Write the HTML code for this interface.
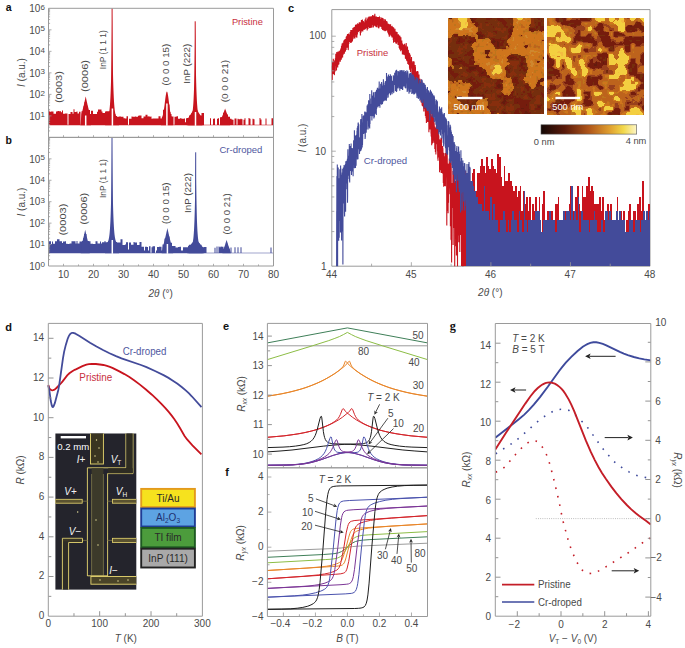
<!DOCTYPE html><html><head><meta charset="utf-8"><style>html,body{margin:0;padding:0;background:#fff;overflow:hidden}svg{display:block}</style></head><body><svg width="685" height="648" viewBox="0 0 685 648" font-family="Liberation Sans, sans-serif">
<rect width="685" height="648" fill="#ffffff"/>
<path d="M48.5 125.3V110.41H49.5V111.82H51V111.59H53.5V113.73H56V111.57H57.5V111.05H59V111.15H61V112.13H62V110.57H63V113.78H65V113.6H67.5V124.7H68.5V114.01H70.5V111.89H72.5V113.76H73.5V109.33H74.5V111.89H76.5V111.39H77.5V113.61H79V111.71H80.5V124.7H81.5V111.22H83.5V106.37H84.5V102.04H86.5V105.69H87.5V110.12H90V114.1H91V110.68H93V114.01H95V114.01H97V111.85H98V109.45H99V109.59H101.5V111.44H102.5V112.99H105V111.54H106V111.29H108V111.19H110V108.14H112V113.58H113.5V114.2H115.5V116.01H117V116.76H119V116.5H121V116.75H123.5V118.29H125V118.48H126.5V116.28H128V124.7H129V118.77H131.5V116.55H132.5V116.63H135V116.54H136V116.75H138V115.69H139V115.58H141.5V118.25H143.5V116.56H145.5V114.86H147.5V116.53H148.5V116.22H149.5V116.69H150.5V116.39H151.5V118.7H152.5V118.51H154V118.56H156V118.45H158.5V116.24H160.5V118.56H163V109.76H165V102.91H167V104.5H169.5V112.01H170.5V114.12H171.5V116.58H173.5V124.7H174.5V116.77H176.5V116.23H178V118.67H180V118.31H181.5V118.68H184V118.49H185V122.24H186V118.37H187V117.94H189V115.52H190V115.02H191V113.5H192V112.93H193V112.08H194.5V110.77H196.5V113.72H199V114.65H200V115.38H201.5V112.98H204V124.7H205V124.7H206V124.7H207V124.7H208V124.7H209V124.7H210V118.24H211V124.7H212V124.7H213V118.78H214V118.58H215V124.7H216V124.7H217V118.82H218V118.14H219V124.7H220V117.15H221.5V116.9H223V112.69H225.5V114.45H228V116.81H230V118.7H231.5V119.5H232.5V119.67H233.5V124.7H234.5V118.6H235.5V118.4H236.5V124.7H237.5V118.76H238.5V119.2H239.5V119.16H240.5V118.69H241.5V119.13H242.5V124.7H243.5V119.69H244.5V118.19H245.5V124.7H246.5V124.7H247.5V124.7H248.5V118.09H249.5V118.79H250.5V124.7H251.5V124.7H252.5V118.87H253.5V119.2H254.5V124.7H255.5V124.7H256.5V124.7H257.5V124.7H258.5V124.7H259.5V117.98H260.5V119.42H261.5V124.7H262.5V124.7H263.5V124.7H264.5V124.7H265.5V118.58H266.5V124.7H267.5V124.7H268.5V124.7H269.5V124.7H270.5V124.7H271.5V118.13H272.5V118.17H273.5V125.3Z" fill="#c8141e"/>
<path d="M80.45 125.3 L81.45 113.9 L81.7 113.23 L81.95 112.41 L82.2 111.52 L82.45 110.59 L82.7 109.62 L82.95 108.62 L83.2 107.59 L83.45 106.55 L83.7 105.48 L83.95 104.39 L84.2 103.29 L84.45 102.18 L84.7 101.05 L84.95 99.9 L85.2 98.75 L85.45 97.58 L85.7 96.4 L85.95 97.58 L86.2 98.75 L86.45 99.9 L86.7 101.05 L86.95 102.18 L87.2 103.29 L87.45 104.39 L87.7 105.48 L87.95 106.55 L88.2 107.59 L88.45 108.62 L88.7 109.62 L88.95 110.59 L89.2 111.52 L89.45 112.41 L89.7 113.23 L89.95 113.9 L90.95 125.3Z" stroke="none" stroke-width="1" fill="#c8141e" />
<path d="M160.9 125.3 L161.9 117.31 L162.15 116.89 L162.4 116.35 L162.65 115.68 L162.9 114.85 L163.15 113.84 L163.4 112.66 L163.65 111.29 L163.9 109.73 L164.15 108.01 L164.4 106.14 L164.65 104.16 L164.9 102.12 L165.15 100.09 L165.4 98.12 L165.65 96.29 L165.9 94.67 L166.15 93.33 L166.4 92.33 L166.65 91.71 L166.9 91.5 L167.15 91.71 L167.4 92.33 L167.65 93.33 L167.9 94.67 L168.15 96.29 L168.4 98.12 L168.65 100.09 L168.9 102.12 L169.15 104.16 L169.4 106.14 L169.65 108.01 L169.9 109.73 L170.15 111.29 L170.4 112.66 L170.65 113.84 L170.9 114.85 L171.15 115.68 L171.4 116.35 L171.65 116.89 L171.9 117.31 L172.9 125.3Z" stroke="none" stroke-width="1" fill="#c8141e" />
<path d="M220.1 125.3 L221.1 118.5 L221.35 118.09 L221.6 117.58 L221.85 117.04 L222.1 116.47 L222.35 115.88 L222.6 115.26 L222.85 114.64 L223.1 113.99 L223.35 113.34 L223.6 112.68 L223.85 112 L224.1 111.32 L224.35 110.62 L224.6 109.92 L224.85 109.22 L225.1 108.5 L225.35 109.22 L225.6 109.92 L225.85 110.62 L226.1 111.32 L226.35 112 L226.6 112.68 L226.85 113.34 L227.1 113.99 L227.35 114.64 L227.6 115.26 L227.85 115.88 L228.1 116.47 L228.35 117.04 L228.6 117.58 L228.85 118.09 L229.1 118.5 L230.1 125.3Z" stroke="none" stroke-width="1" fill="#c8141e" />
<path d="M186.7 125.3 L187.7 118.5 L187.95 118.26 L188.2 117.97 L188.45 117.65 L188.7 117.32 L188.95 116.97 L189.2 116.61 L189.45 116.25 L189.7 115.88 L189.95 115.49 L190.2 115.11 L190.45 114.71 L190.7 114.32 L190.95 113.91 L191.2 113.5 L191.45 113.09 L191.7 112.68 L191.95 112.26 L192.2 111.83 L192.45 111.4 L192.7 110.97 L192.95 110.54 L193.2 110.1 L193.45 109.66 L193.7 109.22 L193.95 108.77 L194.2 108.32 L194.45 107.87 L194.7 107.42 L194.95 106.96 L195.2 106.5 L195.45 106.96 L195.7 107.42 L195.95 107.87 L196.2 108.32 L196.45 108.77 L196.7 109.22 L196.95 109.66 L197.2 110.1 L197.45 110.54 L197.7 110.97 L197.95 111.4 L198.2 111.83 L198.45 112.26 L198.7 112.68 L198.95 113.09 L199.2 113.5 L199.45 113.91 L199.7 114.32 L199.95 114.71 L200.2 115.11 L200.45 115.49 L200.7 115.88 L200.95 116.25 L201.2 116.61 L201.45 116.97 L201.7 117.32 L201.95 117.65 L202.2 117.97 L202.45 118.26 L202.7 118.5 L203.7 125.3Z" stroke="none" stroke-width="1" fill="#c8141e" />
<path d="M105.1 125.3 L105.1 118.37 L105.2 118.35 L105.3 118.34 L105.4 118.32 L105.5 118.3 L105.6 118.28 L105.7 118.26 L105.8 118.24 L105.9 118.21 L106 118.19 L106.1 118.15 L106.2 118.12 L106.3 118.08 L106.4 118.04 L106.5 117.99 L106.6 117.94 L106.7 117.89 L106.8 117.83 L106.9 117.76 L107 117.68 L107.1 117.6 L107.2 117.51 L107.3 117.41 L107.4 117.31 L107.5 117.19 L107.6 117.05 L107.7 116.91 L107.8 116.75 L107.9 116.58 L108 116.38 L108.1 116.17 L108.2 115.94 L108.3 115.69 L108.4 115.4 L108.5 115.09 L108.6 114.75 L108.7 114.38 L108.8 113.97 L108.9 113.52 L109 113.02 L109.1 112.47 L109.2 111.87 L109.3 111.2 L109.4 110.48 L109.5 109.67 L109.6 108.79 L109.7 107.82 L109.8 106.75 L109.9 105.58 L110 104.29 L110.1 102.87 L110.2 101.31 L110.3 99.59 L110.4 97.7 L110.5 95.62 L110.6 93.34 L110.7 90.82 L110.8 88.06 L110.9 85.01 L111 81.67 L111.1 77.99 L111.2 73.94 L111.3 69.49 L111.4 64.59 L111.5 59.2 L111.6 53.28 L111.7 46.76 L111.8 39.59 L111.9 31.71 L112 23.04 L112.1 13.5 L112.2 23.04 L112.3 31.71 L112.4 39.59 L112.5 46.76 L112.6 53.28 L112.7 59.2 L112.8 64.59 L112.9 69.49 L113 73.94 L113.1 77.99 L113.2 81.67 L113.3 85.01 L113.4 88.06 L113.5 90.82 L113.6 93.34 L113.7 95.62 L113.8 97.7 L113.9 99.59 L114 101.31 L114.1 102.87 L114.2 104.29 L114.3 105.58 L114.4 106.75 L114.5 107.82 L114.6 108.79 L114.7 109.67 L114.8 110.48 L114.9 111.2 L115 111.87 L115.1 112.47 L115.2 113.02 L115.3 113.52 L115.4 113.97 L115.5 114.38 L115.6 114.75 L115.7 115.09 L115.8 115.4 L115.9 115.69 L116 115.94 L116.1 116.17 L116.2 116.38 L116.3 116.58 L116.4 116.75 L116.5 116.91 L116.6 117.05 L116.7 117.19 L116.8 117.31 L116.9 117.41 L117 117.51 L117.1 117.6 L117.2 117.68 L117.3 117.76 L117.4 117.83 L117.5 117.89 L117.6 117.94 L117.7 117.99 L117.8 118.04 L117.9 118.08 L118 118.12 L118.1 118.15 L118.2 118.19 L118.3 118.21 L118.4 118.24 L118.5 118.26 L118.6 118.28 L118.7 118.3 L118.8 118.32 L118.9 118.34 L119 118.35 L119.1 118.37 L119.1 125.3Z" stroke="none" stroke-width="1" fill="#c8141e" />
<path d="M112.1 8.3 L112.1 95.3" stroke="#c8141e" stroke-width="1.0" fill="none" />
<path d="M188.2 125.3 L188.2 118.41 L188.3 118.4 L188.4 118.39 L188.5 118.38 L188.6 118.37 L188.7 118.35 L188.8 118.34 L188.9 118.32 L189 118.3 L189.1 118.28 L189.2 118.26 L189.3 118.23 L189.4 118.21 L189.5 118.18 L189.6 118.14 L189.7 118.1 L189.8 118.06 L189.9 118.02 L190 117.96 L190.1 117.91 L190.2 117.85 L190.3 117.78 L190.4 117.7 L190.5 117.62 L190.6 117.52 L190.7 117.42 L190.8 117.31 L190.9 117.18 L191 117.05 L191.1 116.89 L191.2 116.72 L191.3 116.54 L191.4 116.33 L191.5 116.1 L191.6 115.85 L191.7 115.57 L191.8 115.26 L191.9 114.92 L192 114.55 L192.1 114.13 L192.2 113.67 L192.3 113.16 L192.4 112.6 L192.5 111.98 L192.6 111.3 L192.7 110.54 L192.8 109.7 L192.9 108.77 L193 107.75 L193.1 106.62 L193.2 105.37 L193.3 103.99 L193.4 102.47 L193.5 100.78 L193.6 98.92 L193.7 96.86 L193.8 94.58 L193.9 92.06 L194 89.28 L194.1 86.21 L194.2 82.82 L194.3 79.06 L194.4 74.92 L194.5 70.33 L194.6 65.27 L194.7 59.67 L194.8 53.48 L194.9 46.64 L195 39.08 L195.1 30.73 L195.2 21.5 L195.3 30.73 L195.4 39.08 L195.5 46.64 L195.6 53.48 L195.7 59.67 L195.8 65.27 L195.9 70.33 L196 74.92 L196.1 79.06 L196.2 82.82 L196.3 86.21 L196.4 89.28 L196.5 92.06 L196.6 94.58 L196.7 96.86 L196.8 98.92 L196.9 100.78 L197 102.47 L197.1 103.99 L197.2 105.37 L197.3 106.62 L197.4 107.75 L197.5 108.77 L197.6 109.7 L197.7 110.54 L197.8 111.3 L197.9 111.98 L198 112.6 L198.1 113.16 L198.2 113.67 L198.3 114.13 L198.4 114.55 L198.5 114.92 L198.6 115.26 L198.7 115.57 L198.8 115.85 L198.9 116.1 L199 116.33 L199.1 116.54 L199.2 116.72 L199.3 116.89 L199.4 117.05 L199.5 117.18 L199.6 117.31 L199.7 117.42 L199.8 117.52 L199.9 117.62 L200 117.7 L200.1 117.78 L200.2 117.85 L200.3 117.91 L200.4 117.96 L200.5 118.02 L200.6 118.06 L200.7 118.1 L200.8 118.14 L200.9 118.18 L201 118.21 L201.1 118.23 L201.2 118.26 L201.3 118.28 L201.4 118.3 L201.5 118.32 L201.6 118.34 L201.7 118.35 L201.8 118.37 L201.9 118.38 L202 118.39 L202.1 118.4 L202.2 118.41 L202.2 125.3Z" stroke="none" stroke-width="1" fill="#c8141e" />
<path d="M195.2 21.3 L195.2 95.3" stroke="#c8141e" stroke-width="1.0" fill="none" />
<line x1="85.7" y1="115.5" x2="85.7" y2="125.8" stroke="#ffffff" stroke-width="1.5" />
<line x1="112.4" y1="108.5" x2="112.4" y2="125.8" stroke="#ffffff" stroke-width="1.5" />
<line x1="166.9" y1="103.5" x2="166.9" y2="125.8" stroke="#ffffff" stroke-width="1.5" />
<line x1="195.5" y1="112" x2="195.5" y2="125.8" stroke="#ffffff" stroke-width="1.5" />
<path d="M48.5 8.3 H273.5 V137.4 H48.5 Z" fill="none" stroke="#9a9a9a" stroke-width="1"/>
<line x1="48.5" y1="130.92" x2="50.1" y2="130.92" stroke="#9a9a9a" stroke-width="0.8" />
<line x1="48.5" y1="127.13" x2="50.1" y2="127.13" stroke="#9a9a9a" stroke-width="0.8" />
<line x1="48.5" y1="124.45" x2="50.1" y2="124.45" stroke="#9a9a9a" stroke-width="0.8" />
<line x1="48.5" y1="122.36" x2="50.1" y2="122.36" stroke="#9a9a9a" stroke-width="0.8" />
<line x1="48.5" y1="120.66" x2="50.1" y2="120.66" stroke="#9a9a9a" stroke-width="0.8" />
<line x1="48.5" y1="119.22" x2="50.1" y2="119.22" stroke="#9a9a9a" stroke-width="0.8" />
<line x1="48.5" y1="117.97" x2="50.1" y2="117.97" stroke="#9a9a9a" stroke-width="0.8" />
<line x1="48.5" y1="116.87" x2="50.1" y2="116.87" stroke="#9a9a9a" stroke-width="0.8" />
<line x1="48.5" y1="115.88" x2="51.5" y2="115.88" stroke="#9a9a9a" stroke-width="0.8" />
<line x1="48.5" y1="109.41" x2="50.1" y2="109.41" stroke="#9a9a9a" stroke-width="0.8" />
<line x1="48.5" y1="105.62" x2="50.1" y2="105.62" stroke="#9a9a9a" stroke-width="0.8" />
<line x1="48.5" y1="102.93" x2="50.1" y2="102.93" stroke="#9a9a9a" stroke-width="0.8" />
<line x1="48.5" y1="100.84" x2="50.1" y2="100.84" stroke="#9a9a9a" stroke-width="0.8" />
<line x1="48.5" y1="99.14" x2="50.1" y2="99.14" stroke="#9a9a9a" stroke-width="0.8" />
<line x1="48.5" y1="97.7" x2="50.1" y2="97.7" stroke="#9a9a9a" stroke-width="0.8" />
<line x1="48.5" y1="96.45" x2="50.1" y2="96.45" stroke="#9a9a9a" stroke-width="0.8" />
<line x1="48.5" y1="95.35" x2="50.1" y2="95.35" stroke="#9a9a9a" stroke-width="0.8" />
<line x1="48.5" y1="94.37" x2="51.5" y2="94.37" stroke="#9a9a9a" stroke-width="0.8" />
<line x1="48.5" y1="87.89" x2="50.1" y2="87.89" stroke="#9a9a9a" stroke-width="0.8" />
<line x1="48.5" y1="84.1" x2="50.1" y2="84.1" stroke="#9a9a9a" stroke-width="0.8" />
<line x1="48.5" y1="81.41" x2="50.1" y2="81.41" stroke="#9a9a9a" stroke-width="0.8" />
<line x1="48.5" y1="79.33" x2="50.1" y2="79.33" stroke="#9a9a9a" stroke-width="0.8" />
<line x1="48.5" y1="77.62" x2="50.1" y2="77.62" stroke="#9a9a9a" stroke-width="0.8" />
<line x1="48.5" y1="76.18" x2="50.1" y2="76.18" stroke="#9a9a9a" stroke-width="0.8" />
<line x1="48.5" y1="74.94" x2="50.1" y2="74.94" stroke="#9a9a9a" stroke-width="0.8" />
<line x1="48.5" y1="73.83" x2="50.1" y2="73.83" stroke="#9a9a9a" stroke-width="0.8" />
<line x1="48.5" y1="72.85" x2="51.5" y2="72.85" stroke="#9a9a9a" stroke-width="0.8" />
<line x1="48.5" y1="66.37" x2="50.1" y2="66.37" stroke="#9a9a9a" stroke-width="0.8" />
<line x1="48.5" y1="62.58" x2="50.1" y2="62.58" stroke="#9a9a9a" stroke-width="0.8" />
<line x1="48.5" y1="59.9" x2="50.1" y2="59.9" stroke="#9a9a9a" stroke-width="0.8" />
<line x1="48.5" y1="57.81" x2="50.1" y2="57.81" stroke="#9a9a9a" stroke-width="0.8" />
<line x1="48.5" y1="56.11" x2="50.1" y2="56.11" stroke="#9a9a9a" stroke-width="0.8" />
<line x1="48.5" y1="54.67" x2="50.1" y2="54.67" stroke="#9a9a9a" stroke-width="0.8" />
<line x1="48.5" y1="53.42" x2="50.1" y2="53.42" stroke="#9a9a9a" stroke-width="0.8" />
<line x1="48.5" y1="52.32" x2="50.1" y2="52.32" stroke="#9a9a9a" stroke-width="0.8" />
<line x1="48.5" y1="51.33" x2="51.5" y2="51.33" stroke="#9a9a9a" stroke-width="0.8" />
<line x1="48.5" y1="44.86" x2="50.1" y2="44.86" stroke="#9a9a9a" stroke-width="0.8" />
<line x1="48.5" y1="41.07" x2="50.1" y2="41.07" stroke="#9a9a9a" stroke-width="0.8" />
<line x1="48.5" y1="38.38" x2="50.1" y2="38.38" stroke="#9a9a9a" stroke-width="0.8" />
<line x1="48.5" y1="36.29" x2="50.1" y2="36.29" stroke="#9a9a9a" stroke-width="0.8" />
<line x1="48.5" y1="34.59" x2="50.1" y2="34.59" stroke="#9a9a9a" stroke-width="0.8" />
<line x1="48.5" y1="33.15" x2="50.1" y2="33.15" stroke="#9a9a9a" stroke-width="0.8" />
<line x1="48.5" y1="31.9" x2="50.1" y2="31.9" stroke="#9a9a9a" stroke-width="0.8" />
<line x1="48.5" y1="30.8" x2="50.1" y2="30.8" stroke="#9a9a9a" stroke-width="0.8" />
<line x1="48.5" y1="29.82" x2="51.5" y2="29.82" stroke="#9a9a9a" stroke-width="0.8" />
<line x1="48.5" y1="23.34" x2="50.1" y2="23.34" stroke="#9a9a9a" stroke-width="0.8" />
<line x1="48.5" y1="19.55" x2="50.1" y2="19.55" stroke="#9a9a9a" stroke-width="0.8" />
<line x1="48.5" y1="16.86" x2="50.1" y2="16.86" stroke="#9a9a9a" stroke-width="0.8" />
<line x1="48.5" y1="14.78" x2="50.1" y2="14.78" stroke="#9a9a9a" stroke-width="0.8" />
<line x1="48.5" y1="13.07" x2="50.1" y2="13.07" stroke="#9a9a9a" stroke-width="0.8" />
<line x1="48.5" y1="11.63" x2="50.1" y2="11.63" stroke="#9a9a9a" stroke-width="0.8" />
<line x1="48.5" y1="10.39" x2="50.1" y2="10.39" stroke="#9a9a9a" stroke-width="0.8" />
<line x1="48.5" y1="9.28" x2="50.1" y2="9.28" stroke="#9a9a9a" stroke-width="0.8" />
<line x1="63.5" y1="137.4" x2="63.5" y2="135.2" stroke="#9a9a9a" stroke-width="0.8" />
<line x1="78.5" y1="137.4" x2="78.5" y2="135.8" stroke="#9a9a9a" stroke-width="0.8" />
<line x1="93.5" y1="137.4" x2="93.5" y2="135.2" stroke="#9a9a9a" stroke-width="0.8" />
<line x1="108.5" y1="137.4" x2="108.5" y2="135.8" stroke="#9a9a9a" stroke-width="0.8" />
<line x1="123.5" y1="137.4" x2="123.5" y2="135.2" stroke="#9a9a9a" stroke-width="0.8" />
<line x1="138.5" y1="137.4" x2="138.5" y2="135.8" stroke="#9a9a9a" stroke-width="0.8" />
<line x1="153.5" y1="137.4" x2="153.5" y2="135.2" stroke="#9a9a9a" stroke-width="0.8" />
<line x1="168.5" y1="137.4" x2="168.5" y2="135.8" stroke="#9a9a9a" stroke-width="0.8" />
<line x1="183.5" y1="137.4" x2="183.5" y2="135.2" stroke="#9a9a9a" stroke-width="0.8" />
<line x1="198.5" y1="137.4" x2="198.5" y2="135.8" stroke="#9a9a9a" stroke-width="0.8" />
<line x1="213.5" y1="137.4" x2="213.5" y2="135.2" stroke="#9a9a9a" stroke-width="0.8" />
<line x1="228.5" y1="137.4" x2="228.5" y2="135.8" stroke="#9a9a9a" stroke-width="0.8" />
<line x1="243.5" y1="137.4" x2="243.5" y2="135.2" stroke="#9a9a9a" stroke-width="0.8" />
<line x1="258.5" y1="137.4" x2="258.5" y2="135.8" stroke="#9a9a9a" stroke-width="0.8" />
<text x="40.3" y="119.58" font-size="10" text-anchor="end" fill="#4a4a4a">10</text>
<text x="40.6" y="117.18" font-size="8" fill="#4a4a4a">1</text>
<text x="40.3" y="98.07" font-size="10" text-anchor="end" fill="#4a4a4a">10</text>
<text x="40.6" y="95.67" font-size="8" fill="#4a4a4a">2</text>
<text x="40.3" y="76.55" font-size="10" text-anchor="end" fill="#4a4a4a">10</text>
<text x="40.6" y="74.15" font-size="8" fill="#4a4a4a">3</text>
<text x="40.3" y="55.03" font-size="10" text-anchor="end" fill="#4a4a4a">10</text>
<text x="40.6" y="52.63" font-size="8" fill="#4a4a4a">4</text>
<text x="40.3" y="33.52" font-size="10" text-anchor="end" fill="#4a4a4a">10</text>
<text x="40.6" y="31.12" font-size="8" fill="#4a4a4a">5</text>
<text x="40.3" y="12" font-size="10" text-anchor="end" fill="#4a4a4a">10</text>
<text x="40.6" y="9.6" font-size="8" fill="#4a4a4a">6</text>
<text x="61.8" y="87.1" font-size="9" text-anchor="middle" fill="#4a4a4a" textLength="32" lengthAdjust="spacingAndGlyphs" transform="rotate(-90 61.8 87.1)" >(0003)</text>
<text x="87.8" y="76" font-size="9" text-anchor="middle" fill="#4a4a4a" textLength="32" lengthAdjust="spacingAndGlyphs" transform="rotate(-90 87.8 76)" >(0006)</text>
<text x="106" y="49.7" font-size="9" text-anchor="middle" fill="#4a4a4a" textLength="39" lengthAdjust="spacingAndGlyphs" transform="rotate(-90 106 49.7)" >InP (1 1 1)</text>
<text x="169" y="64.6" font-size="9" text-anchor="middle" fill="#4a4a4a" textLength="41.6" lengthAdjust="spacingAndGlyphs" transform="rotate(-90 169 64.6)" >(0 0 0 15)</text>
<text x="189.8" y="63.7" font-size="9" text-anchor="middle" fill="#4a4a4a" textLength="40" lengthAdjust="spacingAndGlyphs" transform="rotate(-90 189.8 63.7)" >InP (222)</text>
<text x="228" y="81.1" font-size="9" text-anchor="middle" fill="#4a4a4a" textLength="42.5" lengthAdjust="spacingAndGlyphs" transform="rotate(-90 228 81.1)" >(0 0 0 21)</text>
<text x="262.8" y="24.8" font-size="9.8" text-anchor="end" fill="#c83040" textLength="30.9" lengthAdjust="spacingAndGlyphs" >Pristine</text>
<path d="M48.5 253.3V241.13H51V244.1H52V241.42H53V243.8H55V241.23H57V239.37H59.5V241.29H62V243.03H63V241.44H65V241.22H66V243.8H67.5V244.06H69.5V243.61H71.5V241.24H73.5V241.34H75.5V243.52H76.5V241.08H77.5V243.53H79.5V241.48H82V241.07H83V238.36H84V233.93H86.5V241.04H89V241.25H90.5V243.64H93V244.1H95.5V241.35H97.5V243.62H100V241.48H101V243.53H102V242.32H104.5V241.06H105.5V242.24H108V241.03H109V240.11H111V239.3H113V241.87H115.5V242H117V242.56H118.5V242.53H120.5V239.21H122.5V244.99H124V245H125V244.54H126V242.23H128V249.48H129V242.57H131V244.72H133.5V242.12H134.5V242.48H137V245.04H139.5V242.12H141.5V246.86H144V250.51H145V246.83H147V247.01H148V250.51H149V246.18H150.5V252.7H151.5V247.35H152.5V246.35H155V252.7H156V250.51H157V246.9H159V246.87H161.5V250.51H162.5V244.57H164.5V238.53H167V236.51H169.5V242.63H172V246.02H174V245.97H175.5V247.38H178V247.07H179.5V246.85H181V250.51H182V250.51H183V247.33H185.5V247.29H188V245.64H189V244.73H191.5V243.75H192.5V243.67H194V242.32H195V241.29H196V241.76H197.5V243.53H200V244.73H201.5V247.3H204V246.9H206.5V252.7H207.5V252.7H208.5V252.7H209.5V252.7H210.5V252.7H211.5V252.7H212.5V252.7H213.5V252.7H214.5V247.83H215.5V252.7H216.5V246.61H217.5V252.7H218.5V246.58H219.5V247.26H220.5V246.53H221.5V246.79H222.5V246.8H223.5V248.84H224.5V247.48H225.5V246.02H226.5V243.66H227.5V246.85H228.5V248.67H229.5V252.7H230.5V247.44H231.5V252.7H232.5V252.7H233.5V252.7H234.5V247.19H235.5V252.7H236.5V252.7H237.5V247.36H238.5V252.7H239.5V252.7H240.5V247.14H241.5V252.7H242.5V252.7H243.5V252.7H244.5V252.7H245.5V252.7H246.5V252.7H247.5V252.7H248.5V252.7H249.5V252.7H250.5V252.7H251.5V252.7H252.5V252.7H253.5V252.7H254.5V252.7H255.5V252.7H256.5V252.7H257.5V252.7H258.5V252.7H259.5V252.7H260.5V252.7H261.5V252.7H262.5V252.7H263.5V252.7H264.5V252.7H265.5V252.7H266.5V252.7H267.5V252.7H268.5V252.7H269.5V252.7H270.5V247.47H271.5V252.7H272.5V252.7H273.5V253.3Z" fill="#434b9a"/>
<path d="M80.7 253.3 L81.7 243.8 L81.95 243.13 L82.2 242.31 L82.45 241.42 L82.7 240.49 L82.95 239.52 L83.2 238.52 L83.45 237.49 L83.7 236.44 L83.95 235.38 L84.2 234.29 L84.45 233.19 L84.7 232.07 L84.95 230.94 L85.2 229.8 L85.45 230.94 L85.7 232.07 L85.95 233.19 L86.2 234.29 L86.45 235.38 L86.7 236.44 L86.95 237.49 L87.2 238.52 L87.45 239.52 L87.7 240.49 L87.95 241.42 L88.2 242.31 L88.45 243.13 L88.7 243.8 L89.7 253.3Z" stroke="none" stroke-width="1" fill="#434b9a" />
<path d="M161.65 253.3 L162.65 247.1 L162.9 246.46 L163.15 245.67 L163.4 244.83 L163.65 243.93 L163.9 243.01 L164.15 242.05 L164.4 241.07 L164.65 240.07 L164.9 239.05 L165.15 238.02 L165.4 236.97 L165.65 235.9 L165.9 234.82 L166.15 233.73 L166.4 232.62 L166.65 231.51 L166.9 230.38 L167.15 229.25 L167.4 228.1 L167.65 229.25 L167.9 230.38 L168.15 231.51 L168.4 232.62 L168.65 233.73 L168.9 234.82 L169.15 235.9 L169.4 236.97 L169.65 238.02 L169.9 239.05 L170.15 240.07 L170.4 241.07 L170.65 242.05 L170.9 243.01 L171.15 243.93 L171.4 244.83 L171.65 245.67 L171.9 246.46 L172.15 247.1 L173.15 253.3Z" stroke="none" stroke-width="1" fill="#434b9a" />
<path d="M222.35 253.3 L223.35 249.3 L223.6 248.8 L223.85 248.2 L224.1 247.54 L224.35 246.85 L224.6 246.13 L224.85 245.4 L225.1 244.64 L225.35 243.86 L225.6 243.08 L225.85 242.27 L226.1 241.46 L226.35 240.64 L226.6 239.8 L226.85 240.64 L227.1 241.46 L227.35 242.27 L227.6 243.08 L227.85 243.86 L228.1 244.64 L228.35 245.4 L228.6 246.13 L228.85 246.85 L229.1 247.54 L229.35 248.2 L229.6 248.8 L229.85 249.3 L230.85 253.3Z" stroke="none" stroke-width="1" fill="#434b9a" />
<path d="M187.2 253.3 L188.2 247.3 L188.45 247.12 L188.7 246.9 L188.95 246.66 L189.2 246.41 L189.45 246.15 L189.7 245.89 L189.95 245.61 L190.2 245.33 L190.45 245.05 L190.7 244.76 L190.95 244.46 L191.2 244.16 L191.45 243.86 L191.7 243.55 L191.95 243.24 L192.2 242.93 L192.45 242.62 L192.7 242.3 L192.95 241.98 L193.2 241.65 L193.45 241.33 L193.7 241 L193.95 240.67 L194.2 240.34 L194.45 240 L194.7 239.67 L194.95 239.33 L195.2 238.99 L195.45 238.64 L195.7 238.3 L195.95 238.64 L196.2 238.99 L196.45 239.33 L196.7 239.67 L196.95 240 L197.2 240.34 L197.45 240.67 L197.7 241 L197.95 241.33 L198.2 241.65 L198.45 241.98 L198.7 242.3 L198.95 242.62 L199.2 242.93 L199.45 243.24 L199.7 243.55 L199.95 243.86 L200.2 244.16 L200.45 244.46 L200.7 244.76 L200.95 245.05 L201.2 245.33 L201.45 245.61 L201.7 245.89 L201.95 246.15 L202.2 246.41 L202.45 246.66 L202.7 246.9 L202.95 247.12 L203.2 247.3 L204.2 253.3Z" stroke="none" stroke-width="1" fill="#434b9a" />
<path d="M105 253.3 L105 243.67 L105.1 243.65 L105.2 243.64 L105.3 243.62 L105.4 243.61 L105.5 243.59 L105.6 243.57 L105.7 243.54 L105.8 243.52 L105.9 243.49 L106 243.46 L106.1 243.42 L106.2 243.38 L106.3 243.34 L106.4 243.3 L106.5 243.25 L106.6 243.19 L106.7 243.13 L106.8 243.07 L106.9 242.99 L107 242.91 L107.1 242.82 L107.2 242.72 L107.3 242.62 L107.4 242.5 L107.5 242.37 L107.6 242.23 L107.7 242.07 L107.8 241.9 L107.9 241.7 L108 241.5 L108.1 241.27 L108.2 241.01 L108.3 240.73 L108.4 240.43 L108.5 240.09 L108.6 239.72 L108.7 239.31 L108.8 238.86 L108.9 238.37 L109 237.83 L109.1 237.23 L109.2 236.57 L109.3 235.85 L109.4 235.06 L109.5 234.18 L109.6 233.22 L109.7 232.17 L109.8 231 L109.9 229.73 L110 228.32 L110.1 226.77 L110.2 225.07 L110.3 223.2 L110.4 221.14 L110.5 218.88 L110.6 216.39 L110.7 213.65 L110.8 210.63 L110.9 207.32 L111 203.67 L111.1 199.67 L111.2 195.26 L111.3 190.4 L111.4 185.07 L111.5 179.2 L111.6 172.75 L111.7 165.65 L111.8 157.84 L111.9 149.25 L112 139.8 L112.1 149.25 L112.2 157.84 L112.3 165.65 L112.4 172.75 L112.5 179.2 L112.6 185.07 L112.7 190.4 L112.8 195.26 L112.9 199.67 L113 203.67 L113.1 207.32 L113.2 210.63 L113.3 213.65 L113.4 216.39 L113.5 218.88 L113.6 221.14 L113.7 223.2 L113.8 225.07 L113.9 226.77 L114 228.32 L114.1 229.73 L114.2 231 L114.3 232.17 L114.4 233.22 L114.5 234.18 L114.6 235.06 L114.7 235.85 L114.8 236.57 L114.9 237.23 L115 237.83 L115.1 238.37 L115.2 238.86 L115.3 239.31 L115.4 239.72 L115.5 240.09 L115.6 240.43 L115.7 240.73 L115.8 241.01 L115.9 241.27 L116 241.5 L116.1 241.7 L116.2 241.9 L116.3 242.07 L116.4 242.23 L116.5 242.37 L116.6 242.5 L116.7 242.62 L116.8 242.72 L116.9 242.82 L117 242.91 L117.1 242.99 L117.2 243.07 L117.3 243.13 L117.4 243.19 L117.5 243.25 L117.6 243.3 L117.7 243.34 L117.8 243.38 L117.9 243.42 L118 243.46 L118.1 243.49 L118.2 243.52 L118.3 243.54 L118.4 243.57 L118.5 243.59 L118.6 243.61 L118.7 243.62 L118.8 243.64 L118.9 243.65 L119 243.67 L119 253.3Z" stroke="none" stroke-width="1" fill="#434b9a" />
<path d="M112 137.8 L112 223.3" stroke="#434b9a" stroke-width="1.0" fill="none" />
<path d="M188.7 253.3 L188.7 247.21 L188.8 247.21 L188.9 247.2 L189 247.18 L189.1 247.17 L189.2 247.16 L189.3 247.14 L189.4 247.13 L189.5 247.11 L189.6 247.09 L189.7 247.07 L189.8 247.04 L189.9 247.02 L190 246.99 L190.1 246.95 L190.2 246.92 L190.3 246.88 L190.4 246.83 L190.5 246.78 L190.6 246.73 L190.7 246.67 L190.8 246.6 L190.9 246.53 L191 246.45 L191.1 246.36 L191.2 246.26 L191.3 246.15 L191.4 246.02 L191.5 245.89 L191.6 245.74 L191.7 245.58 L191.8 245.4 L191.9 245.2 L192 244.98 L192.1 244.73 L192.2 244.46 L192.3 244.16 L192.4 243.83 L192.5 243.47 L192.6 243.07 L192.7 242.62 L192.8 242.13 L192.9 241.58 L193 240.98 L193.1 240.32 L193.2 239.58 L193.3 238.77 L193.4 237.88 L193.5 236.88 L193.6 235.79 L193.7 234.58 L193.8 233.24 L193.9 231.76 L194 230.13 L194.1 228.32 L194.2 226.33 L194.3 224.12 L194.4 221.68 L194.5 218.99 L194.6 216.01 L194.7 212.72 L194.8 209.08 L194.9 205.06 L195 200.62 L195.1 195.71 L195.2 190.29 L195.3 184.29 L195.4 177.66 L195.5 170.34 L195.6 162.25 L195.7 153.3 L195.8 162.25 L195.9 170.34 L196 177.66 L196.1 184.29 L196.2 190.29 L196.3 195.71 L196.4 200.62 L196.5 205.06 L196.6 209.08 L196.7 212.72 L196.8 216.01 L196.9 218.99 L197 221.68 L197.1 224.12 L197.2 226.33 L197.3 228.32 L197.4 230.13 L197.5 231.76 L197.6 233.24 L197.7 234.58 L197.8 235.79 L197.9 236.88 L198 237.88 L198.1 238.77 L198.2 239.58 L198.3 240.32 L198.4 240.98 L198.5 241.58 L198.6 242.13 L198.7 242.62 L198.8 243.07 L198.9 243.47 L199 243.83 L199.1 244.16 L199.2 244.46 L199.3 244.73 L199.4 244.98 L199.5 245.2 L199.6 245.4 L199.7 245.58 L199.8 245.74 L199.9 245.89 L200 246.02 L200.1 246.15 L200.2 246.26 L200.3 246.36 L200.4 246.45 L200.5 246.53 L200.6 246.6 L200.7 246.67 L200.8 246.73 L200.9 246.78 L201 246.83 L201.1 246.88 L201.2 246.92 L201.3 246.95 L201.4 246.99 L201.5 247.02 L201.6 247.04 L201.7 247.07 L201.8 247.09 L201.9 247.11 L202 247.13 L202.1 247.14 L202.2 247.16 L202.3 247.17 L202.4 247.18 L202.5 247.2 L202.6 247.21 L202.7 247.21 L202.7 253.3Z" stroke="none" stroke-width="1" fill="#434b9a" />
<path d="M195.7 152.3 L195.7 223.3" stroke="#434b9a" stroke-width="1.0" fill="none" />
<line x1="112.3" y1="240" x2="112.3" y2="253.8" stroke="#ffffff" stroke-width="1.5" />
<line x1="167.4" y1="244" x2="167.4" y2="253.8" stroke="#ffffff" stroke-width="1.5" />
<path d="M48.5 137.4 H273.5 V266 H48.5 Z" fill="none" stroke="#9a9a9a" stroke-width="1"/>
<line x1="48.5" y1="259.55" x2="50.1" y2="259.55" stroke="#9a9a9a" stroke-width="0.8" />
<line x1="48.5" y1="255.77" x2="50.1" y2="255.77" stroke="#9a9a9a" stroke-width="0.8" />
<line x1="48.5" y1="253.1" x2="50.1" y2="253.1" stroke="#9a9a9a" stroke-width="0.8" />
<line x1="48.5" y1="251.02" x2="50.1" y2="251.02" stroke="#9a9a9a" stroke-width="0.8" />
<line x1="48.5" y1="249.32" x2="50.1" y2="249.32" stroke="#9a9a9a" stroke-width="0.8" />
<line x1="48.5" y1="247.89" x2="50.1" y2="247.89" stroke="#9a9a9a" stroke-width="0.8" />
<line x1="48.5" y1="246.64" x2="50.1" y2="246.64" stroke="#9a9a9a" stroke-width="0.8" />
<line x1="48.5" y1="245.55" x2="50.1" y2="245.55" stroke="#9a9a9a" stroke-width="0.8" />
<line x1="48.5" y1="244.57" x2="51.5" y2="244.57" stroke="#9a9a9a" stroke-width="0.8" />
<line x1="48.5" y1="238.11" x2="50.1" y2="238.11" stroke="#9a9a9a" stroke-width="0.8" />
<line x1="48.5" y1="234.34" x2="50.1" y2="234.34" stroke="#9a9a9a" stroke-width="0.8" />
<line x1="48.5" y1="231.66" x2="50.1" y2="231.66" stroke="#9a9a9a" stroke-width="0.8" />
<line x1="48.5" y1="229.59" x2="50.1" y2="229.59" stroke="#9a9a9a" stroke-width="0.8" />
<line x1="48.5" y1="227.89" x2="50.1" y2="227.89" stroke="#9a9a9a" stroke-width="0.8" />
<line x1="48.5" y1="226.45" x2="50.1" y2="226.45" stroke="#9a9a9a" stroke-width="0.8" />
<line x1="48.5" y1="225.21" x2="50.1" y2="225.21" stroke="#9a9a9a" stroke-width="0.8" />
<line x1="48.5" y1="224.11" x2="50.1" y2="224.11" stroke="#9a9a9a" stroke-width="0.8" />
<line x1="48.5" y1="223.13" x2="51.5" y2="223.13" stroke="#9a9a9a" stroke-width="0.8" />
<line x1="48.5" y1="216.68" x2="50.1" y2="216.68" stroke="#9a9a9a" stroke-width="0.8" />
<line x1="48.5" y1="212.91" x2="50.1" y2="212.91" stroke="#9a9a9a" stroke-width="0.8" />
<line x1="48.5" y1="210.23" x2="50.1" y2="210.23" stroke="#9a9a9a" stroke-width="0.8" />
<line x1="48.5" y1="208.15" x2="50.1" y2="208.15" stroke="#9a9a9a" stroke-width="0.8" />
<line x1="48.5" y1="206.45" x2="50.1" y2="206.45" stroke="#9a9a9a" stroke-width="0.8" />
<line x1="48.5" y1="205.02" x2="50.1" y2="205.02" stroke="#9a9a9a" stroke-width="0.8" />
<line x1="48.5" y1="203.78" x2="50.1" y2="203.78" stroke="#9a9a9a" stroke-width="0.8" />
<line x1="48.5" y1="202.68" x2="50.1" y2="202.68" stroke="#9a9a9a" stroke-width="0.8" />
<line x1="48.5" y1="201.7" x2="51.5" y2="201.7" stroke="#9a9a9a" stroke-width="0.8" />
<line x1="48.5" y1="195.25" x2="50.1" y2="195.25" stroke="#9a9a9a" stroke-width="0.8" />
<line x1="48.5" y1="191.47" x2="50.1" y2="191.47" stroke="#9a9a9a" stroke-width="0.8" />
<line x1="48.5" y1="188.8" x2="50.1" y2="188.8" stroke="#9a9a9a" stroke-width="0.8" />
<line x1="48.5" y1="186.72" x2="50.1" y2="186.72" stroke="#9a9a9a" stroke-width="0.8" />
<line x1="48.5" y1="185.02" x2="50.1" y2="185.02" stroke="#9a9a9a" stroke-width="0.8" />
<line x1="48.5" y1="183.59" x2="50.1" y2="183.59" stroke="#9a9a9a" stroke-width="0.8" />
<line x1="48.5" y1="182.34" x2="50.1" y2="182.34" stroke="#9a9a9a" stroke-width="0.8" />
<line x1="48.5" y1="181.25" x2="50.1" y2="181.25" stroke="#9a9a9a" stroke-width="0.8" />
<line x1="48.5" y1="180.27" x2="51.5" y2="180.27" stroke="#9a9a9a" stroke-width="0.8" />
<line x1="48.5" y1="173.81" x2="50.1" y2="173.81" stroke="#9a9a9a" stroke-width="0.8" />
<line x1="48.5" y1="170.04" x2="50.1" y2="170.04" stroke="#9a9a9a" stroke-width="0.8" />
<line x1="48.5" y1="167.36" x2="50.1" y2="167.36" stroke="#9a9a9a" stroke-width="0.8" />
<line x1="48.5" y1="165.29" x2="50.1" y2="165.29" stroke="#9a9a9a" stroke-width="0.8" />
<line x1="48.5" y1="163.59" x2="50.1" y2="163.59" stroke="#9a9a9a" stroke-width="0.8" />
<line x1="48.5" y1="162.15" x2="50.1" y2="162.15" stroke="#9a9a9a" stroke-width="0.8" />
<line x1="48.5" y1="160.91" x2="50.1" y2="160.91" stroke="#9a9a9a" stroke-width="0.8" />
<line x1="48.5" y1="159.81" x2="50.1" y2="159.81" stroke="#9a9a9a" stroke-width="0.8" />
<line x1="48.5" y1="158.83" x2="51.5" y2="158.83" stroke="#9a9a9a" stroke-width="0.8" />
<line x1="48.5" y1="152.38" x2="50.1" y2="152.38" stroke="#9a9a9a" stroke-width="0.8" />
<line x1="48.5" y1="148.61" x2="50.1" y2="148.61" stroke="#9a9a9a" stroke-width="0.8" />
<line x1="48.5" y1="145.93" x2="50.1" y2="145.93" stroke="#9a9a9a" stroke-width="0.8" />
<line x1="48.5" y1="143.85" x2="50.1" y2="143.85" stroke="#9a9a9a" stroke-width="0.8" />
<line x1="48.5" y1="142.15" x2="50.1" y2="142.15" stroke="#9a9a9a" stroke-width="0.8" />
<line x1="48.5" y1="140.72" x2="50.1" y2="140.72" stroke="#9a9a9a" stroke-width="0.8" />
<line x1="48.5" y1="139.48" x2="50.1" y2="139.48" stroke="#9a9a9a" stroke-width="0.8" />
<line x1="48.5" y1="138.38" x2="50.1" y2="138.38" stroke="#9a9a9a" stroke-width="0.8" />
<line x1="63.5" y1="266" x2="63.5" y2="263.8" stroke="#9a9a9a" stroke-width="0.8" />
<line x1="78.5" y1="266" x2="78.5" y2="264.4" stroke="#9a9a9a" stroke-width="0.8" />
<line x1="93.5" y1="266" x2="93.5" y2="263.8" stroke="#9a9a9a" stroke-width="0.8" />
<line x1="108.5" y1="266" x2="108.5" y2="264.4" stroke="#9a9a9a" stroke-width="0.8" />
<line x1="123.5" y1="266" x2="123.5" y2="263.8" stroke="#9a9a9a" stroke-width="0.8" />
<line x1="138.5" y1="266" x2="138.5" y2="264.4" stroke="#9a9a9a" stroke-width="0.8" />
<line x1="153.5" y1="266" x2="153.5" y2="263.8" stroke="#9a9a9a" stroke-width="0.8" />
<line x1="168.5" y1="266" x2="168.5" y2="264.4" stroke="#9a9a9a" stroke-width="0.8" />
<line x1="183.5" y1="266" x2="183.5" y2="263.8" stroke="#9a9a9a" stroke-width="0.8" />
<line x1="198.5" y1="266" x2="198.5" y2="264.4" stroke="#9a9a9a" stroke-width="0.8" />
<line x1="213.5" y1="266" x2="213.5" y2="263.8" stroke="#9a9a9a" stroke-width="0.8" />
<line x1="228.5" y1="266" x2="228.5" y2="264.4" stroke="#9a9a9a" stroke-width="0.8" />
<line x1="243.5" y1="266" x2="243.5" y2="263.8" stroke="#9a9a9a" stroke-width="0.8" />
<line x1="258.5" y1="266" x2="258.5" y2="264.4" stroke="#9a9a9a" stroke-width="0.8" />
<text x="40.3" y="269.7" font-size="10" text-anchor="end" fill="#4a4a4a">10</text>
<text x="40.6" y="267.3" font-size="8" fill="#4a4a4a">0</text>
<text x="40.3" y="248.27" font-size="10" text-anchor="end" fill="#4a4a4a">10</text>
<text x="40.6" y="245.87" font-size="8" fill="#4a4a4a">1</text>
<text x="40.3" y="226.83" font-size="10" text-anchor="end" fill="#4a4a4a">10</text>
<text x="40.6" y="224.43" font-size="8" fill="#4a4a4a">2</text>
<text x="40.3" y="205.4" font-size="10" text-anchor="end" fill="#4a4a4a">10</text>
<text x="40.6" y="203" font-size="8" fill="#4a4a4a">3</text>
<text x="40.3" y="183.97" font-size="10" text-anchor="end" fill="#4a4a4a">10</text>
<text x="40.6" y="181.57" font-size="8" fill="#4a4a4a">4</text>
<text x="40.3" y="162.53" font-size="10" text-anchor="end" fill="#4a4a4a">10</text>
<text x="40.6" y="160.13" font-size="8" fill="#4a4a4a">5</text>
<text x="66.1" y="219.6" font-size="9" text-anchor="middle" fill="#4a4a4a" textLength="32" lengthAdjust="spacingAndGlyphs" transform="rotate(-90 66.1 219.6)" >(0003)</text>
<text x="87.3" y="208.7" font-size="9" text-anchor="middle" fill="#4a4a4a" textLength="32" lengthAdjust="spacingAndGlyphs" transform="rotate(-90 87.3 208.7)" >(0006)</text>
<text x="105.6" y="178.6" font-size="9" text-anchor="middle" fill="#4a4a4a" textLength="39" lengthAdjust="spacingAndGlyphs" transform="rotate(-90 105.6 178.6)" >InP (1 1 1)</text>
<text x="169.2" y="203.2" font-size="9" text-anchor="middle" fill="#4a4a4a" textLength="41.6" lengthAdjust="spacingAndGlyphs" transform="rotate(-90 169.2 203.2)" >(0 0 0 15)</text>
<text x="190.6" y="193" font-size="9" text-anchor="middle" fill="#4a4a4a" textLength="40" lengthAdjust="spacingAndGlyphs" transform="rotate(-90 190.6 193)" >InP (222)</text>
<text x="229.8" y="213.8" font-size="9" text-anchor="middle" fill="#4a4a4a" textLength="41.2" lengthAdjust="spacingAndGlyphs" transform="rotate(-90 229.8 213.8)" >(0 0 0 21)</text>
<text x="262.4" y="152.9" font-size="9.8" text-anchor="end" fill="#5058a0" textLength="43" lengthAdjust="spacingAndGlyphs" >Cr-droped</text>
<text x="63.5" y="277.8" font-size="10" text-anchor="middle" fill="#4a4a4a" >10</text>
<text x="93.5" y="277.8" font-size="10" text-anchor="middle" fill="#4a4a4a" >20</text>
<text x="123.5" y="277.8" font-size="10" text-anchor="middle" fill="#4a4a4a" >30</text>
<text x="153.5" y="277.8" font-size="10" text-anchor="middle" fill="#4a4a4a" >40</text>
<text x="183.5" y="277.8" font-size="10" text-anchor="middle" fill="#4a4a4a" >50</text>
<text x="213.5" y="277.8" font-size="10" text-anchor="middle" fill="#4a4a4a" >60</text>
<text x="243.5" y="277.8" font-size="10" text-anchor="middle" fill="#4a4a4a" >70</text>
<text x="273.5" y="277.8" font-size="10" text-anchor="middle" fill="#4a4a4a" >80</text>
<text x="160.6" y="296.7" font-size="10" text-anchor="middle" fill="#4a4a4a"><tspan font-style="italic">2θ</tspan> (°)</text>
<text x="24.6" y="72.5" font-size="10" text-anchor="middle" fill="#4a4a4a" transform="rotate(-90 24.6 72.5)" ><tspan font-style="italic">I</tspan> (a.u.)</text>
<text x="24.6" y="202" font-size="10" text-anchor="middle" fill="#4a4a4a" transform="rotate(-90 24.6 202)" ><tspan font-style="italic">I</tspan> (a.u.)</text>
<text x="8.6" y="11" font-size="10.5" text-anchor="middle" fill="#111" font-weight="bold" >a</text>
<text x="8.6" y="144" font-size="10.5" text-anchor="middle" fill="#111" font-weight="bold" >b</text>
<path d="M331.8 9.6 H650 V266.2 H331.8 Z" fill="none" stroke="#9a9a9a" stroke-width="1"/>
<clipPath id="cclip"><rect x="331.8" y="9.6" width="318.2" height="256.6"/></clipPath>
<path d="M331.8 65.7l.1 5.5 .1 8.9 .1-6.6 .1 6.2 .1-12.2 .1 4.1 .1-9.4 .1 9.7 .2-5.8 .1 2.1 .1-6.5 .1 3.7 .1 8.5 .1-15.2 .1 4 .1 5.1 .1 5.5 .1-11.8 .1 12.3 .1-5.9 .1 3.8 .1-10.9 .1 5.3 .1 9 .2-1.6 .1-5.5 .1-.9 .1-3.1 .1-3.7 .1 .9 .1 8.3 .1 1.9 .1-10 .1-3.2 .1 7.2 .1 0 .1-4.5 .1-7.1 .1 3.1 .1 1.5 .2 5.5 .1-1.7 .1 2.7 .1 5.5 .1-11.6 .1-5.4 .1-1.4 .1 2.7 .1 7.3 .1-8.3 .1 12.5 .1-2.3 .1-5.4 .1-5.7 .1 7.4 .1 7.3 .1-6.2 .2-9.8 .1 7.4 .1-7.2 .1 .9 .1 3.2 .1 1.4 .1-4.7 .1 12.3 .1-3.3 .1 2.6 .1-9.6 .1 4.1 .1-1.4 .1-6.4 .1 6.7 .1 .4 .2 1.6 .1-4.8 .1-.7 .1 .5 .1 7.3 .1-7.5 .1 7.5 .1-8.1 .1-4.2 .1 2.6 .1-1 .1 .8 .1 5.7 .1-9.3 .1 7.2 .1 1.7 .1 2.5 .2-14 .1 2.6 .1 9.9 .1-10.1 .1 1.9 .1 4.3 .1-10.7 .1 2.9 .1 8.5 .1 1.4 .1-4.6 .1 5.7 .1-3.7 .1-6.3 .1-4.8 .1 4.3 .2 7.8 .1-4.8 .1 1 .1-3.1 .1-4.2 .1 4.2 .1-7.4 .1 .8 .1 7.8 .1 4.7 .1-2.9 .1-5 .1 7.8 .1-14 .1 8.3 .1 3.8 .2-12.4 .1 12.7 .1-9.6 .1 3 .1-6.5 .1 12.3 .1-1.9 .1-8.6 .1 8.2 .1-3.7 .1-4.1 .1 5.1 .1 3.8 .1-13.4 .1 5.7 .1-.3 .1 4.5 .2-9.6 .1-1.2 .1 2.5 .1 4.4 .1 4.9 .1-1.9 .1-8.6 .1-1.1 .1-1.9 .1 4.6 .1 .2 .1 4.6 .1 3.7 .1-1.8 .1-1.1 .1 5.8 .2-3.5 .1-12.7 .1-.2 .1 9.5 .1 .7 .1-2.5 .1-3.1 .1-2.5 .1 1.9 .1-3.2 .1 4.4 .1 3.1 .1-3.8 .1-1.2 .1 4.7 .1-4.9 .1-1.8 .2-2.9 .1 7.8 .1-3.7 .1-1.6 .1 2.2 .1 6.2 .1-13 .1 10.2 .1-1 .1 3.7 .1-3.2 .1-7.6 .1-1.9 .1 11.7 .1-6.5 .1-3 .2-2.4 .1 9 .1-9.1 .1 9.2 .1-8.6 .1 10.9 .1-5.6 .1-5 .1 3.4 .1-1.9 .1-4.2 .1 11.1 .1-2.9 .1 2 .1-10.5 .1 .2 .2 8.1 .1-1.7 .1-4.3 .1 6.7 .1-4.1 .1-5.8 .1 1.3 .1 .5 .1 4.4 .1 5.5 .1-2.2 .1-5.1 .1-4.6 .1 11.8 .1-6.1 .1 2.2 .1-1.4 .2 1.8 .1-10.3 .1 2 .1 3.1 .1 .9 .1-.7 .1-2.2 .1 3.6 .1 5.7 .1-12.7 .1 1.6 .1 10.3 .1-7.9 .1 1.9 .1 7.4 .1-2.7 .2-10.4 .1 .5 .1 3.9 .1 5.4 .1-9.9 .1 .9 .1-2 .1 1.4 .1 6.2 .1-.9 .1 2 .1-5.8 .1 5.6 .1-6.1 .1 3.1 .1-4.9 .1 6.9 .2-.3 .1-1.1 .1-3.1 .1-1.8 .1-2.3 .1 6 .1 2.1 .1-2.3 .1 1.2 .1-.2 .1-6.9 .1 2 .1 2.9 .1 6 .1-5.7 .1 8 .2-8.6 .1 1.9 .1-.4 .1-5.9 .1 10.3 .1-6.2 .1-1.1 .1-1.6 .1-3.8 .1 4.7 .1-3.9 .1 7 .1 3.5 .1-7.4 .1-2.4 .1-1.3 .2 10.3 .1-11 .1 10.5 .1-8.6 .1 6.5 .1 3.6 .1-7.5 .1 5.5 .1-4.4 .1-2.2 .1-1.9 .1 3.8 .1 2.9 .1-5.9 .1 2 .1 2.3 .1-2.4 .2 6.4 .1-7.7 .1 6.8 .1 .2 .1-3.2 .1-2.2 .1 3.6 .1-1.8 .1-2.2 .1-4.2 .1 8.8 .1 .3 .1 .8 .1-1.1 .1-2.3 .1 1.1 .2-8.4 .1 5 .1-6.2 .1 10.8 .1-.7 .1-7.2 .1 7.7 .1-3.1 .1-1.6 .1 2.3 .1-3.8 .1 0 .1 2.9 .1 2.7 .1 3.1 .1-2.6 .2-7.9 .1-.9 .1 5.4 .1-6.2 .1 10.5 .1-.5 .1-10.5 .1-.4 .1 1 .1 4.4 .1 3 .1-.6 .1-6.1 .1 3 .1 4.9 .1-10.5 .1 4.4 .2 4.5 .1-4.6 .1 7.1 .1-6.8 .1 1.6 .1-6.1 .1 5.7 .1 5.3 .1 .4 .1-4.6 .1-.8 .1-5.1 .1 9.2 .1 .9 .1-4.1 .1-4.4 .2-2.9 .1 1.8 .1 5.2 .1 4.3 .1-.4 .1-4.3 .1-4.3 .1-.1 .1 .6 .1 8.6 .1-7.6 .1-2 .1 .2 .1 0 .1-2.1 .1 3.8 .1-5 .2 9.3 .1 .8 .1-1.6 .1-2 .1-1.3 .1 7.3 .1-10.8 .1 1.6 .1 8.4 .1-2.7 .1-8.3 .1 6.3 .1 1 .1-7.1 .1 .9 .1 5.3 .2 .1 .1-4 .1 7.7 .1-12 .1 2.2 .1 .8 .1 8.4 .1-2.8 .1 3 .1-8.7 .1-.2 .1 9.6 .1-.6 .1-5.5 .1 7.1 .1-1.5 .2-1.2 .1-3.3 .1-3.5 .1-1.1 .1 10.7 .1-3.8 .1-1.9 .1 3.8 .1-6.3 .1 .9 .1-2.7 .1 5.1 .1 .1 .1-3.9 .1 3.1 .1-4.6 .1 4.3 .2 5.6 .1-9.9 .1 6.1 .1 4.9 .1-5.4 .1-4.4 .1 7.2 .1-8.3 .1 9.8 .1 1.5 .1-5.2 .1-4.3 .1 1.8 .1-1 .1-2 .1-.2 .2 1.7 .1-1.6 .1 5.4 .1-6.1 .1 9.9 .1-8.4 .1 8 .1-4.3 .1-.3 .1-2.2 .1 5.1 .1-5.8 .1 6.4 .1 .5 .1-3.7 .1-1.4 .1 6.2 .2-6.6 .1-2 .1-.8 .1 8.5 .1 2.9 .1-8.8 .1-.7 .1 8.1 .1-.5 .1-3.8 .1-5.3 .1 12 .1-6.6 .1-5.3 .1 6.7 .1 .3 .2 4.7 .1-11 .1 11.7 .1-2.2 .1-7.4 .1 5.2 .1 4.6 .1-9.5 .1 7 .1-6 .1-.7 .1 7.5 .1-4.4 .1-1.6 .1 7.9 .1-10.3 .2-1.4 .1 6 .1 6.2 .1-1.8 .1 1.5 .1-6.4 .1-4.8 .1 9.3 .1-7.1 .1 .9 .1 7.8 .1-9.6 .1 1.9 .1 5 .1-6.9 .1 8.5 .1 .8 .2-6.7 .1 1 .1-3.2 .1 2.9 .1-2.9 .1 8.8 .1-2.5 .1 2.2 .1-6.4 .1 2.6 .1 6 .1-6.1 .1 4.3 .1-3.1 .1 5.5 .1 .3 .2-8.3 .1-1 .1 10.7 .1-1.7 .1 0 .1 .5 .1-3.6 .1-4.5 .1 9.4 .1 2.1 .1-10.8 .1 0 .1-1.7 .1 11.2 .1-9.3 .1 3.9 .2-5.6 .1 8.4 .1-4.7 .1-2.7 .1 9.3 .1-10.5 .1 10.6 .1-2.7 .1-1.6 .1 4.1 .1-4.2 .1 5.8 .1-7.1 .1 5.4 .1-8.2 .1 6.1 .1 .7 .2-5 .1 9.4 .1-11.6 .1 2 .1 4.8 .1-4.3 .1 6.4 .1 2.8 .1-8 .1 3.3 .1 2 .1-7.3 .1-.5 .1 6.8 .1 6.2 .1-5.8 .2 8.4 .1-11 .1-3.9 .1 2.3 .1 4.1 .1-5.6 .1 10.1 .1-1.6 .1-6.1 .1-1.7 .1 .8 .1-.2 .1 12.2 .1-12.2 .1-.1 .1 8.2 .1 1.2 .2-7.7 .1 2.5 .1 6.4 .1 .4 .1 2.6 .1-5.2 .1-6.6 .1 7.5 .1-.5 .1-6.2 .1 1.7 .1 4.9 .1 4.7 .1-10 .1 7.6 .1 .9 .2-10.1 .1 5 .1 4.1 .1 .4 .1-6.2 .1-.9 .1 6.8 .1-.3 .1-5 .1 8.8 .1-3.7 .1 3.9 .1-6.3 .1-4.5 .1 6.1 .1 2.5 .2-6.4 .1-1 .1-.2 .1 4.5 .1 8.4 .1-11.2 .1 5.9 .1 .7 .1-2.1 .1 8 .1-8.7 .1-4.9 .1 13.4 .1-11.8 .1 .1 .1 5.1 .1 .1 .2-3.7 .1 12.2 .1-5.7 .1-8.2 .1 10.9 .1-2.3 .1 4.4 .1-4 .1 1.3 .1-4 .1 5.2 .1-3 .1-5.3 .1 6.1 .1-.5 .1 .4 .2 2.3 .1 5.8 .1-11.2 .1 10.3 .1-5.2 .1 5.4 .1-2.8 .1-6.2 .1 0 .1 5.9 .1-1 .1 .4 .1-1.2 .1 5.8 .1-9.1 .1 .1 .1 8.9 .2-.6 .1-2.6 .1-1.2 .1-1.8 .1 .3 .1-5.1 .1 7.7 .1 3.9 .1-10.6 .1 7.1 .1 2.8 .1-1.6 .1-3.9 .1 9.1 .1 .3 .1-12.2 .2 9.6 .1-4.7 .1 4.1 .1 3.7 .1-15.9 .1 3.1 .1 3.6 .1 5.7 .1 4.9 .1-5.7 .1 2.6 .1-9.2 .1 10.9 .1 2.1 .1-9.2 .1 4.5 .2-9.9 .1 10.2 .1-3.3 .1 10.6 .1-14.2 .1 14.1 .1-3.5 .1-2.3 .1-8.1 .1 4.3 .1 8.4 .1-1.4 .1-6 .1 9.8 .1-8 .1 2.5 .1-6.4 .2 .2 .1 3.2 .1 11.1 .1-14.3 .1 16.3 .1-3.3 .1 2.6 .1-8.1 .1-4.1 .1-2.1 .1 5.6 .1 5.4 .1 6.4 .1-8.7 .1-.6 .1-2 .2 1.9 .1-2.5 .1-.8 .1 1.3 .1 7.7 .1-11.5 .1 9.3 .1-2.7 .1 .2 .1 11.8 .1-3.6 .1-8.9 .1 12.9 .1-13.6 .1 9 .1 1.7 .1 5.1 .2-5.1 .1 3.1 .1-15.2 .1 5.9 .1-1.5 .1 7.1 .1-2.9 .1-6.1 .1 .1 .1 12.9 .1-1 .1 6.1 .1-2.9 .1-17 .1 20 .1 1 .2-14.6 .1 7 .1 6.5 .1-14.6 .1 15.4 .1-2.6 .1 2.8 .1-17.5 .1 10.8 .1-8.7 .1 6.1 .1 7.6 .1 4.2 .1-13.8 .1 2.4 .1 10 .2-2.1 .1-9.4 .1 6.8 .1 5.9 .1-9.7 .1 6.2 .1 2.2 .1 3.9 .1-16.2 .1 8.4 .1 11.8 .1-19.3 .1 6.6 .1-7.6 .1 15.1 .1-1.3 .1 5.1 .2-18.5 .1 12.8 .1 7.8 .1-12.2 .1 5.3 .1-3.9 .1 10.6 .1-9.1 .1 3.6 .1 4.4 .1-16.2 .1 9.5 .1 12 .1-11.4 .1-4.2 .1 8.6 .2-5.2 .1 9.2 .1-6.7 .1-7.7 .1 17 .1-2.4 .1 .6 .1 3.9 .1-13.7 .1-2.4 .1 13.9 .1 2.2 .1-12.7 .1 16.5 .1 .3 .1 .4 .2-22.8 .1 .5 .1 5.2 .1 5.8 .1 10.2 .1-20.3 .1 17.9 .1 5.6 .1 1 .1-22 .1 22.7 .1-18.9 .1 11.4 .1-.1 .1-8 .1 16.1 .1-7 .2-3.1 .1-4.5 .1 7.5 .1-12.6 .1 21.7 .1-13 .1 15.8 .1-7.1 .1-14.1 .1 17.8 .1-.4 .1-15.8 .1 17.1 .1-24.2 .1 12 .1 9 .2 .1 .1-14.5 .1 12 .1 8.3 .1-13.9 .1 18.2 .1-3.3 .1-.2 .1-3.5 .1-10.4 .1 2.8 .1 16.9 .1-18.9 .1 6.9 .1 8.5 .1 8.3 .1-8 .2 2.4 .1 4.4 .1-20.4 .1 16.5 .1-.9 .1-11.3 .1 14.5 .1-19.2 .1 1 .1 17 .1-9.5 .1 12.5 .1-18.6 .1-6.4 .1 3.8 .1-1.2 .2 13.9 .1 .6 .1 7.8 .1-19.9 .1 16 .1 14.3 .1-20.1 .1-5.3 .1 13.6 .1-3.4 .1 4.5 .1-11 .1 11.9 .1-16.5 .1-1.5 .1 25 .2-12.5 .1-12.4 .1 19.4 .1-5 .1-1.5 .1-5.5 .1 10 .1-3.2 .1-9.4 .1 24 .1-5 .1 8.2 .1-4.5 .1-12.9 .1-3.6 .1 21.3 .1 8.4 .2-23.4 .1-5.7 .1 4.6 .1 10.5 .1-14.7 .1-7.3 .1 34.1 .1-17.8 .1-8.9 .1 5 .1 19.1 .1-18.5 .1-8.6 .1 22.5 .1-20.7 .1 19.8 .2 3.2 .1-23.5 .1 27.7 .1-24.5 .1 13.4 .1-8.5 .1 1.7 .1 6.8 .1 3.4 .1-8 .1 3.7 .1-4.3 .1 22.7 .1-4 .1 3.7 .1-8.1 .1-10.9 .2 22.3 .1-9.3 .1-15.2 .1 11.5 .1 9.8 .1 5.7 .1-20 .1 1.8 .1 6 .1 1.7 .1-17 .1-5.2 .1 14.5 .1 6.4 .1-13.5 .1 12.8 .2-2.4 .1-17.8 .1 11.3 .1 15.6 .1 2.4 .1-10.3 .1 15.3 .1 2.5 .1-14 .1 16 .1-6.5 .1 0 .1-34.9 .1 17.7 .1-2.3 .1 3.1 .2-2.4 .1 6.6 .1 2.8 .1 12.8 .1-6.3 .1-12 .1 6.3 .1 8.8 .1 17.9 .1-11.9 .1-14.6 .1 8.4 .1 16 .1-1.2 .1-28.9 .1-.4 .1 22.1 .2-21.9 .1-.1 .1 14.9 .1-3.7 .1-13.3 .1 13.6 .1 21.6 .1-19.7 .1-9.4 .1-5.7 .1 22 .1-4 .1 4.6 .1-7 .1 19.2 .1-17.3 .2 .1 .1-3.4 .1 11.4 .1-17.8 .1 25.2 .1 2.6 .1-25.4 .1 22.5 .1-6.9 .1-6.3 .1 25.5 .1-16.5 .1-13.9 .1 18.1 .1 16 .1-8 .1-22.5 .2 13.1 .1 0 .1-12.7 .1 8.3 .1 6.3 .1 14.8 .1-21.5 .1 2.4 .1 17.7 .1-29.9 .1-1.7 .1 11.5 .1-6.6 .1 28.3 .1-10.8 .1-4.2 .2 3.1 .1 2.8 .1-18.9 .1 13.9 .1-24.1 .1 11.8 .1 15.5 .1-13.4 .1 11.8 .1 21.4 .1 30.4 .1-51.8 .1 11.8 .1-16.8 .1-17.6 .1 14.9 .2 2.7 .1-.2 .1 26.1 .1-31.2 .1 47.4 .1-44.6 .1 47 .1-35.4 .1 24.5 .1-15.4 .1 15.7 .1-38.9 .1 4.2 .1-3.1 .1 11 .1 5.9 .1-7.1 .2-16.2 .1 22.8 .1 6.9 .1-25.7 .1 26.9 .1 4.9 .1-19.9 .1 10.1 .1-11.5 .1-8.3 .1 12.1 .1 49.4 .1-46.9 .1 8.6 .1-28.6 .1 .6 .2 79.8 .1-80.2 .1 6.9 .1 63.3 .1 10.7 .1-50.7 .1 72.7 .1-73.4 .1 14.2 .1 .9 .1-.9 .1 1.3 .1-21.6 .1 18.6 .1-.4 .1 6.8 .2-9.9 .1-7 .1-20.1 .1 22.9 .1 51.1 .1-48.4 .1 6.4 .1-36.8 .1 12 .1 39.6 .1-49.1 .1 15.9 .1-23.8 .1 67.2 .1-46.9 .1 11.2 .1-17.2 .2-7.9 .1 22.8 .1 80.3 .1-59 .1-24.4 .1 10.6 .1-18.6 .1 47.9 .1-3.2 .1-19.2 .1-23.4 .1 17 .1-13.9 .1 6.1 .1 56.2 .1-24.2 .2 4.6 .1-43.7 .1 72.6 .1-62.1 .1 5.3 .1 23.4 .1-41.7 .1 28.6 .1-8.9 .1 15.3 .1 4.7 .1-49.6 .1 28.9 .1 70.7 .1-104.7 .1 22.2 .1 .6 .2-10.3 .1 9.2 .1 8.7 .1 39.5 .1-23.6 .1 20.1 .1 1.8 .1-18.2 .1 26.7 .1-62.4 .1 57.6 .1-33.4 .1 13.8 .1-28.4 .1 48 .1-58.5 .2 32.7 .1 40.3 .1-70.1 .1 51.6 .1-53.1 .1 25.4 .1 11.2 .1-1 .1 12.5 .1 6.7 .1-14.1 .1 4.9 .1-35.8 .1-20.4 .1 38.5 .1 2.4 .2 .2 .1-10 .1 14.4 .1-14.9 .1-23.8 .1 48 .1-22.2 .1-13.8 .1 18.6 .1-.7 .1-10 .1 5.1 .1 68.7 .1-91.4 .1 32.5 .1-38.1 .1 97 .2-38.9 .1-38.3 .1 2.6 .1 28.2 .1-49.5 .1 39.3 .1-6.5 .1 9 .1 17.1 .1-38.7 .1 58.2 .1-56 .1 .6 .1-3.7 .1 7.2 .1 16.4 .2-12.8 .1-30 .1 18.8 .1 11.8 .1-18.8 .1 38.4 .1-38 .1-15.5 .1 54.8 .1-32.1 .1-8.2 .1 13.9 .1 39 .1-31 .1 25.4 .1-8.1 .1-49.7 .2 40.2 .1-17.9 .1 .2 .1 64.2 .1-69.7 .1-8.5 .1 35.2 .1 14.9 .1 10.7 .1-60.7 .1 32.3 .1-26.5 .1 5.2 .1-17.5 .1 30.1 .1-11.4 .2 2.1 .1-4.9 .1 11.1" fill="none" stroke="#c8141e" stroke-width="1.1" clip-path="url(#cclip)"/>
<path d="M460.67 266.2V197.0H462.41V266.2zM462.26 266.2V231.6H464.00V266.2zM463.85 266.2V203.6H465.59V266.2zM465.44 266.2V203.6H467.19V266.2zM467.04 266.2V197.0H468.78V266.2zM468.63 266.2V185.8H470.37V266.2zM470.22 266.2V211.3H471.96V266.2zM471.81 266.2V172.7H473.55V266.2zM473.40 266.2V169.0H475.14V266.2zM474.99 266.2V191.1H476.73V266.2zM476.58 266.2V172.7H478.32V266.2zM478.17 266.2V172.7H479.91V266.2zM479.76 266.2V165.6H481.50V266.2zM481.35 266.2V159.3H483.10V266.2zM482.95 266.2V165.6H484.69V266.2zM484.54 266.2V172.7H486.28V266.2zM486.13 266.2V156.5H487.87V266.2zM487.72 266.2V165.6H489.46V266.2zM489.31 266.2V169.0H491.05V266.2zM490.90 266.2V159.3H492.64V266.2zM492.49 266.2V165.6H494.23V266.2zM494.08 266.2V169.0H495.82V266.2zM495.67 266.2V172.7H497.41V266.2zM497.26 266.2V153.8H499.01V266.2zM498.86 266.2V156.5H500.60V266.2zM500.45 266.2V176.7H502.19V266.2zM502.04 266.2V185.8H503.78V266.2zM503.63 266.2V165.6H505.37V266.2zM505.22 266.2V181.1H506.96V266.2zM506.81 266.2V181.1H508.55V266.2zM508.40 266.2V172.7H510.14V266.2zM509.99 266.2V181.1H511.73V266.2zM511.58 266.2V185.8H513.32V266.2zM513.17 266.2V191.1H514.92V266.2zM514.77 266.2V185.8H516.51V266.2zM516.36 266.2V197.0H518.10V266.2zM517.95 266.2V191.1H519.69V266.2zM519.54 266.2V185.8H521.28V266.2zM521.13 266.2V211.3H522.87V266.2zM522.72 266.2V191.1H524.46V266.2zM524.31 266.2V203.6H526.05V266.2zM525.90 266.2V197.0H527.64V266.2zM527.49 266.2V211.3H529.23V266.2zM529.08 266.2V197.0H530.83V266.2zM530.68 266.2V220.4H532.42V266.2zM532.27 266.2V203.6H534.01V266.2zM533.86 266.2V211.3H535.60V266.2zM535.45 266.2V197.0H537.19V266.2zM537.04 266.2V211.3H538.78V266.2zM538.63 266.2V197.0H540.37V266.2zM540.22 266.2V245.9H541.96V266.2zM541.81 266.2V203.6H543.55V266.2zM543.40 266.2V191.1H545.14V266.2zM544.99 266.2V220.4H546.74V266.2zM546.59 266.2V211.3H548.33V266.2zM548.18 266.2V211.3H549.92V266.2zM549.77 266.2V220.4H551.51V266.2zM551.36 266.2V211.3H553.10V266.2zM552.95 266.2V220.4H554.69V266.2zM554.54 266.2V203.6H556.28V266.2zM556.13 266.2V203.6H557.87V266.2zM557.72 266.2V197.0H559.46V266.2zM559.31 266.2V231.6H561.05V266.2zM560.90 266.2V231.6H562.65V266.2zM562.50 266.2V211.3H564.24V266.2zM564.09 266.2V211.3H565.83V266.2zM565.68 266.2V220.4H567.42V266.2zM567.27 266.2V220.4H569.01V266.2zM568.86 266.2V203.6H570.60V266.2zM570.45 266.2V185.8H572.19V266.2zM572.04 266.2V211.3H573.78V266.2zM573.63 266.2V220.4H575.37V266.2zM575.22 266.2V197.0H576.96V266.2zM576.81 266.2V185.8H578.56V266.2zM578.41 266.2V203.6H580.15V266.2zM580.00 266.2V211.3H581.74V266.2zM581.59 266.2V185.8H583.33V266.2zM583.18 266.2V197.0H584.92V266.2zM584.77 266.2V197.0H586.51V266.2zM586.36 266.2V185.8H588.10V266.2zM587.95 266.2V176.7H589.69V266.2zM589.54 266.2V191.1H591.28V266.2zM591.13 266.2V185.8H592.87V266.2zM592.72 266.2V191.1H594.47V266.2zM594.32 266.2V203.6H596.06V266.2zM595.91 266.2V203.6H597.65V266.2zM597.50 266.2V203.6H599.24V266.2zM599.09 266.2V197.0H600.83V266.2zM600.68 266.2V211.3H602.42V266.2zM602.27 266.2V197.0H604.01V266.2zM603.86 266.2V220.4H605.60V266.2zM605.45 266.2V211.3H607.19V266.2zM607.04 266.2V203.6H608.78V266.2zM608.63 266.2V211.3H610.38V266.2zM610.23 266.2V203.6H611.97V266.2zM611.82 266.2V220.4H613.56V266.2zM613.41 266.2V220.4H615.15V266.2zM615.00 266.2V220.4H616.74V266.2zM616.59 266.2V197.0H618.33V266.2zM618.18 266.2V220.4H619.92V266.2zM619.77 266.2V211.3H621.51V266.2zM621.36 266.2V245.9H623.10V266.2zM622.95 266.2V211.3H624.69V266.2zM624.54 266.2V245.9H626.29V266.2zM626.14 266.2V220.4H627.88V266.2zM627.73 266.2V211.3H629.47V266.2zM629.32 266.2V203.6H631.06V266.2zM630.91 266.2V220.4H632.65V266.2zM632.50 266.2V211.3H634.24V266.2zM634.09 266.2V211.3H635.83V266.2zM635.68 266.2V231.6H637.42V266.2zM637.27 266.2V203.6H639.01V266.2zM638.86 266.2V197.0H640.60V266.2zM640.45 266.2V211.3H642.20V266.2zM642.05 266.2V181.1H643.79V266.2zM643.64 266.2V211.3H645.38V266.2zM645.23 266.2V231.6H646.97V266.2zM646.82 266.2V211.3H648.56V266.2zM648.41 266.2V203.6H650.15V266.2z" fill="#c8141e" shape-rendering="crispEdges"/>
<path d="M336.6 270.2l.1-58.1 .1-1.9 .1-33.9 .1 8.4 .1-8.6 .1 33 .1-44.5 .1 19.3 .1 50 .1 36.3 .1-82.8 .1 8.5 .2-16.9 .1 44.9 .1-56.3 .1 35.9 .1 18.7 .1-43.3 .1 32 .1 29.9 .1-34.1 .1-13 .1-7.6 .1 33.8 .1 17.8 .1-59.5 .1 9.2 .1 33.7 .2-33.7 .1-18.1 .1 22.5 .1 21.4 .1-25 .1 15.5 .1-16.2 .1 3.9 .1 41.2 .1-67 .1 8.7 .1-3.3 .1-2.4 .1 7.3 .1 8.9 .1-9.8 .1 26.3 .2-23.9 .1 63 .1-57.9 .1-7.8 .1 42.2 .1-35.7 .1-5 .1 1.9 .1-5.7 .1 8.1 .1 50.9 .1-36.8 .1-25.9 .1 7 .1 88.7 .1-59.8 .2-15 .1-17 .1-5.2 .1 6.9 .1 29.1 .1-22.6 .1 1.4 .1 9.5 .1-20.4 .1-6.3 .1 20.2 .1-6.5 .1-12.3 .1 46.6 .1 3.5 .1-12.2 .2-38.5 .1 21.5 .1-4.9 .1-9.1 .1 2.6 .1-12 .1 18 .1 29.8 .1-21.2 .1-29.2 .1 11.1 .1-7.6 .1 14.1 .1 10.3 .1-15.2 .1 9.4 .2-1 .1-21.4 .1 1.7 .1 10.8 .1-11.5 .1 .6 .1-2.5 .1 11.6 .1-12.9 .1 43.9 .1-7 .1-32.4 .1-8 .1-6.1 .1 7.1 .1 17.7 .1-17.6 .2-.6 .1 7.1 .1 12.8 .1-10.1 .1 9.1 .1-13.5 .1-1.9 .1 19.7 .1-5.7 .1-29.4 .1 25.3 .1 11.5 .1-24.2 .1 26 .1-27.3 .1 7.7 .2-.2 .1-1.4 .1-15.3 .1 19.7 .1-9.8 .1 10.9 .1 4.3 .1-21.9 .1 10.1 .1 8.7 .1-24.4 .1 26.2 .1-13.5 .1 13.4 .1 5.2 .1-10.3 .2 3.8 .1-11.1 .1-1.2 .1-7.6 .1 0 .1 9.8 .1 13.3 .1-23.1 .1 7 .1 15 .1-21.3 .1 7.2 .1-5.7 .1 25.6 .1-6.7 .1-14 .1 12.4 .2-27 .1-.8 .1 23.6 .1-5.4 .1 1.7 .1 4.9 .1-8.1 .1 .9 .1-27.6 .1 26.3 .1 11.7 .1-25.3 .1 19.7 .1-7.7 .1 10.3 .1-25.2 .2 15.4 .1-19.8 .1 32.4 .1-28.8 .1 17.9 .1-20.6 .1 1.9 .1 12.7 .1 14.6 .1-11.3 .1-17.4 .1-1.6 .1-.6 .1 8.3 .1 1.7 .1 2.9 .2-16.8 .1 24.4 .1-27.5 .1 31.7 .1-15 .1 9.2 .1-10.7 .1-17 .1 2.2 .1 1.8 .1 29.2 .1-36.4 .1 15 .1-15.3 .1 11.8 .1 11 .1 3.4 .2-24.4 .1 18.2 .1-.1 .1 6.6 .1-11.7 .1 12.4 .1-2 .1 6.4 .1-11.3 .1 2.2 .1-7.4 .1 4.3 .1 9.5 .1-8.5 .1-2 .1 5.6 .2-8.4 .1-15.8 .1-3.1 .1 31.8 .1-21.1 .1-10.8 .1 17.2 .1 8.4 .1-7.2 .1-5.5 .1 17.5 .1-11.5 .1-3.5 .1 7.5 .1-27.9 .1 10.5 .2 22.8 .1-22.7 .1 14.1 .1 6.2 .1-5.7 .1-.6 .1-16.2 .1 7.2 .1-4.6 .1 8.2 .1-17.1 .1 1.9 .1-2.2 .1 18 .1-18.4 .1 2.9 .2 4.5 .1-5.6 .1 1.9 .1 14.2 .1-15.1 .1 10.4 .1-.2 .1-2.1 .1-14.7 .1 8.2 .1 10.5 .1-19 .1 27.6 .1-12.1 .1 10.6 .1-20.1 .1 8.1 .2-4.5 .1-8.1 .1 18.7 .1-19.4 .1 4.8 .1 15.7 .1-4.3 .1-3.6 .1-1.5 .1-2.2 .1 8.5 .1-8.2 .1-7.8 .1 6.7 .1-14.7 .1 7.8 .2 5.4 .1-2.4 .1-3.3 .1 7.6 .1-15.2 .1-.6 .1-.9 .1 25.4 .1-12.6 .1 8.9 .1-.3 .1-.8 .1-24.4 .1 22.7 .1-1.8 .1-7.2 .2-13.1 .1 .3 .1 26.3 .1-24.9 .1 19.2 .1 1.6 .1 5.1 .1-34.5 .1 26.8 .1 3.2 .1-19.3 .1 .8 .1-7 .1 17.3 .1-11.5 .1 1.7 .1 2.3 .2 1 .1-.1 .1 6.9 .1-6.1 .1 .3 .1-.8 .1 1.2 .1-4.3 .1-16 .1 5.3 .1 24.9 .1-12.9 .1-9.3 .1 10.2 .1-13.1 .1 20.7 .2-10.3 .1 9.9 .1 .4 .1-20.1 .1 9.6 .1-.7 .1 8.7 .1-.6 .1-7.3 .1-13.4 .1 3.2 .1 11.7 .1-2.9 .1 14.2 .1-2.4 .1-8.1 .2-10.5 .1 19.8 .1-18.4 .1 15.1 .1-13.8 .1 11.1 .1-8.6 .1-10.7 .1 21.5 .1-6.9 .1-10.2 .1 9.7 .1-6.8 .1-7 .1 17.5 .1-12.2 .2 16.5 .1-9.8 .1-13.2 .1 24 .1-16.9 .1-8.5 .1 19.3 .1-15.9 .1 2.2 .1 1.4 .1 9.6 .1-14.6 .1-1.5 .1 5.1 .1-7.5 .1 12.2 .1 6.7 .2-1.8 .1 .5 .1 2 .1-12.2 .1 10.2 .1-17 .1 13.9 .1-12.1 .1 4.4 .1 10.2 .1-11.9 .1 9 .1-15.5 .1 19.7 .1-24.7 .1 15.9 .2-.7 .1-.2 .1-4.1 .1 0 .1 15.5 .1-17.8 .1 6.6 .1 5.6 .1-13.8 .1 13.2 .1-.1 .1-9.8 .1-7.9 .1 18.4 .1-15.6 .1 17.6 .2-7.7 .1-11.4 .1 5.7 .1 8.5 .1-17.4 .1 22.9 .1-21.1 .1 8.9 .1 5.6 .1-.3 .1-10.5 .1 3.1 .1 9.3 .1 4.3 .1-18.5 .1 16.9 .1-13 .2 2.6 .1-5.3 .1 14.8 .1-17.3 .1-5 .1 18.4 .1 3.5 .1-18.1 .1 8.9 .1-3.4 .1 4.9 .1-7.9 .1-.3 .1 15.5 .1-5.8 .1-2.2 .2 .1 .1-3.9 .1 8.5 .1-12.4 .1 10.7 .1-14.4 .1 8.2 .1 10.8 .1-14.7 .1 12.4 .1-17.2 .1 10.2 .1-7.8 .1 .8 .1 2.7 .1 9.8 .2 4.2 .1-27.7 .1 25.3 .1-9.5 .1-6 .1 4.5 .1-11.7 .1 9.5 .1-.9 .1-7.2 .1 4.7 .1 13.4 .1-2.5 .1-1.9 .1-6 .1 12.9 .2-.8 .1-.5 .1-9.3 .1 2.1 .1-14.6 .1 9.1 .1 10.5 .1-6.7 .1 .2 .1 5.1 .1-2.4 .1 1.1 .1-15.4 .1 2.5 .1 6.1 .1 8.6 .1-5.3 .2-11.2 .1-.7 .1 4.1 .1 7.3 .1-13.2 .1 16.5 .1 4.4 .1-.5 .1-.7 .1-3.9 .1-14.7 .1 17.4 .1-14.7 .1 14.2 .1-7.3 .1-9.1 .2 12.1 .1-6.4 .1-1.2 .1 5.2 .1 3.8 .1 4.8 .1-5.7 .1-3.8 .1 7.4 .1-7.6 .1-1.7 .1 4.6 .1-6.3 .1 5.6 .1 4.7 .1-1.6 .2-14.5 .1 4 .1-2.6 .1 1.5 .1 14.1 .1-.1 .1-6.2 .1-1.8 .1-.6 .1-4.2 .1 1.1 .1-4.3 .1 8.7 .1-7.3 .1-4.9 .1 2.2 .1-1.1 .2 .2 .1 5.1 .1-3.9 .1 7.5 .1 8.4 .1-7.5 .1-13 .1 10.4 .1-8.3 .1 11.1 .1-13.1 .1 13.7 .1-2.7 .1 10.2 .1-8.3 .1-13.9 .2 21.6 .1-15.7 .1 3.3 .1 3.7 .1 .7 .1 1.5 .1 3.4 .1-4 .1 2.9 .1-7.5 .1 6.1 .1-14.6 .1 4.1 .1 13.2 .1-11.2 .1-5.5 .2 5 .1 4.9 .1-.7 .1 5.8 .1-10.9 .1-3.9 .1-.5 .1 8.9 .1 2.6 .1 5.1 .1-13 .1 6.9 .1 .7 .1 8.2 .1-9.7 .1 4.5 .1-15.7 .2 14.2 .1-10 .1 6.8 .1 2.1 .1 4 .1 1.8 .1-11.8 .1 4 .1 6 .1-16.3 .1 16.1 .1 2.3 .1-2.7 .1-4.5 .1-11.8 .1 6.9 .2 3.2 .1-10.3 .1 16.7 .1-2.7 .1-1.4 .1 7.6 .1-4.3 .1 4.1 .1-5.1 .1-13.6 .1 6 .1-3 .1 1.4 .1 6.4 .1 3 .1 .2 .2 1.1 .1-5.1 .1-11.3 .1 5.5 .1 .7 .1-2.5 .1-1.5 .1 14.5 .1-13.7 .1 2.1 .1-.5 .1 9.8 .1-.7 .1-2.9 .1-8 .1 15.3 .2-17 .1 7.3 .1-.7 .1 9.4 .1 1.4 .1-4.6 .1-1.2 .1-.6 .1-5.3 .1 3.3 .1 1.1 .1 1.4 .1-9.9 .1 8.6 .1-2.5 .1-8.4 .1 9.6 .2 12 .1-5.9 .1-.4 .1-8.9 .1 9.7 .1 4.4 .1-19.5 .1 3.8 .1 3.4 .1 0 .1-.6 .1 3 .1 7.6 .1-1.5 .1-8.4 .1 7.4 .2 2.3 .1 5.5 .1-2.6 .1-13.1 .1-1.2 .1-3.5 .1 8.2 .1-7.9 .1 11.4 .1-1.9 .1 5.9 .1-12.1 .1-.5 .1 15.7 .1-10.8 .1-8.7 .2 4.1 .1 .7 .1 2 .1-4.1 .1 13.3 .1-.2 .1-15.8 .1 12.2 .1-8.4 .1 6.4 .1 2.3 .1-5.2 .1 14.1 .1-16.5 .1 3.5 .1 7.4 .1-13.9 .2 1 .1 17.7 .1-6.1 .1-11.1 .1-1.5 .1 10.1 .1 8.9 .1-19.1 .1 2.1 .1 4.8 .1-1.4 .1-1.1 .1-3 .1 7.9 .1 10.6 .1-15.4 .2 5.5 .1-7.5 .1 9 .1 8.3 .1-1.3 .1-11.5 .1 .2 .1-1.2 .1 9.8 .1 3.4 .1-6.8 .1 .5 .1-5 .1 8 .1 1.1 .1-11.7 .2-.7 .1 11.9 .1 1.7 .1-4.8 .1 .4 .1-11.3 .1 12.4 .1-6.7 .1 4.4 .1 7.4 .1-8.2 .1 8.1 .1 3.5 .1-17.6 .1 6.9 .1-1.2 .2-6.8 .1 16.9 .1-13.4 .1-4.7 .1 10.2 .1 3.9 .1 .2 .1 3.5 .1 3 .1-.4 .1-12 .1-2.1 .1 7 .1-7.7 .1 13.9 .1-13.2 .1 .3 .2 2.5 .1-6.6 .1 6.9 .1 .8 .1 10 .1-18.4 .1 20.5 .1 0 .1-11.9 .1-5.5 .1 1.5 .1-1.7 .1 5.4 .1 .3 .1 9.9 .1-9.8 .2 1.6 .1 9.7 .1-2.4 .1-9.1 .1-1.3 .1-7.4 .1 16.9 .1 6 .1-7 .1-11.7 .1 6 .1-10.1 .1 20.7 .1-18.2 .1 6.3 .1-3.9 .2 18.5 .1-8.2 .1-7.2 .1 11.8 .1-3.7 .1-8.2 .1-3.5 .1 2.2 .1-3.6 .1 4.2 .1 7.9 .1 .7 .1 3.9 .1-5.2 .1 14.3 .1-25.3 .1 10.3 .2-8 .1 13.4 .1 5.7 .1-9.5 .1 8.1 .1 3.4 .1-7.7 .1-7 .1-7.2 .1 18.1 .1 4.9 .1-20.5 .1 10.1 .1-.6 .1 9.1 .1-7 .2 1.4 .1 6.8 .1-2.8 .1-1.9 .1 2.9 .1 4.1 .1-20.5 .1 17.7 .1 1 .1-8 .1 10.9 .1-18.5 .1-4.8 .1 4.3 .1 19.6 .1-10.8 .2-1.5 .1 11.2 .1-18.3 .1 16.7 .1-4.5 .1-13.5 .1 10.4 .1-4.3 .1 14 .1-9.4 .1-9.8 .1 5.4 .1 3.8 .1 12.3 .1-17.1 .1 16.8 .2-15.2 .1 13.4 .1 9.8 .1-5.7 .1-22.3 .1 1.9 .1 9.7 .1 6.3 .1-20.6 .1 15.4 .1-.3 .1-3.4 .1 6.1 .1-7.3 .1-1.3 .1-7 .1 22 .2-2.6 .1-19.9 .1 18.6 .1-2.7 .1 6.1 .1-13 .1 16.3 .1-10.6 .1 7.8 .1-3.3 .1 2.4 .1-.7 .1-18.9 .1 16.2 .1 3.8 .1-7.4 .2-1.9 .1-8.8 .1 9.2 .1 13.5 .1-21.6 .1 1.4 .1-1.9 .1 7.9 .1 9.2 .1-11.6 .1-5.8 .1 14.9 .1 11.7 .1-25.4 .1 15 .1-12 .2 6.6 .1-.2 .1-6.9 .1 15.1 .1-6.1 .1 8.7 .1-9.5 .1 5.8 .1 8.2 .1-6 .1-10.9 .1 20.2 .1-13.7 .1 11.8 .1-9.1 .1-12.9 .1 10.9 .2-12 .1 29.5 .1-13.5 .1 3.4 .1 0 .1 6.2 .1-21 .1 12.2 .1-15.3 .1 27.6 .1-.6 .1-18.7 .1 18.2 .1-9.6 .1 3.8 .1-8.7 .2 2.4 .1 3.4 .1 10.6 .1-12.4 .1-4.7 .1 21.7 .1-20.1 .1-2.7 .1 6.7 .1 6 .1 4.9 .1-22.6 .1 6.6 .1 4.9 .1-.1 .1 14.3 .2-12.3 .1 2.9 .1 4.4 .1-12.1 .1 20.4 .1-2.9 .1-23.8 .1 2.2 .1 18.8 .1-14.5 .1-6.9 .1 19.6 .1-13.2 .1 6.7 .1 1.7 .1-6.6 .2-9.4 .1 31.4 .1-4.8 .1-.7 .1-20.8 .1 1.2 .1 4.3 .1 10.1 .1-12.9 .1 5.2 .1 10.5 .1 3.4 .1-10.9 .1 9.8 .1-18.8 .1 28.6 .1-16.1 .2-1.5 .1 20.5 .1-11.5 .1 12.2 .1-4.9 .1 2.8 .1-31.2 .1 10.4 .1-4.3 .1-6.2 .1 19.5 .1-14.9 .1 6.7 .1 3.3 .1-5.8 .1 3.3 .2-7.9 .1 18.5 .1 3.4 .1 9.1 .1-2.7 .1-26 .1-1.2 .1 16.9 .1 7.6 .1 0 .1 10.6 .1-8.1 .1-26 .1 6 .1-4.4 .1 15.3 .2 5 .1-5.6 .1 13.2 .1 6 .1-11.3 .1 .3 .1-5.7 .1 16.7 .1-15.2 .1 10.4 .1-24.7 .1 14.4 .1-3 .1-11.6 .1-4.1 .1 4.9 .1-3.2 .2 24.5 .1-25.4 .1 22.5 .1-5.9 .1 5.1 .1-15.5 .1 7.5 .1-4.9 .1 20.1 .1-20.2 .1 30.6 .1-33.5 .1 19.6 .1-3.1 .1 .8 .1-20.2 .2 38.3 .1-30.4 .1-6.2 .1 20.5 .1-12 .1-4.8 .1 31.1 .1-23.7 .1-6 .1 2.9 .1-2.4 .1 11.7 .1 3 .1 10.5 .1-18 .1 25.9 .2-19.7 .1-9.3 .1 32 .1-33.9 .1 9.4 .1 15.7 .1-15.7 .1 5.4 .1-4.6 .1 11.4 .1-19.8 .1 38.8 .1-8.5 .1-22.1 .1 9.3 .1 16.8 .1-10.5 .2-3.5 .1-4 .1 3.2 .1-13.3 .1 .4 .1 40.2 .1-26.4 .1-12.1 .1 20.9 .1-11.6 .1 13 .1-21.9 .1 26.2 .1-16.9 .1-1.2 .1 26.6 .2-10 .1-3.6 .1-14.9 .1 16.8 .1-10.6 .1 9.4 .1-2.6 .1 3.9 .1 24.4 .1-17.3 .1-23.4 .1-3.8 .1 15 .1-16.7 .1 11.6 .1 4.4 .2 .8 .1 11.9 .1-1.1 .1-11.5 .1-10.1 .1 28.7 .1-17.2 .1-2.7 .1-7.7 .1 14 .1 2.8 .1-3.7 .1-19.6 .1 1 .1 10.8 .1 5.7 .2 24.2 .1-21.5 .1-15.2 .1 9.2 .1 31.1 .1-37.8 .1 33 .1-2.4 .1-23.4 .1 6.4 .1-4 .1 13.2 .1-6.1 .1 .7 .1-2.3 .1 19 .1 24.3 .2-7.5 .1-54.7 .1 17.2 .1 25.9 .1-27 .1 1.8 .1 8.7 .1-14 .1 28.7 .1-33.6 .1 16.8 .1 15.1 .1-23 .1-3.8 .1 47.5 .1-38.7 .2 9.2 .1-10.1 .1 21.2 .1-5 .1-26.7 .1 23.3 .1 8.1 .1-16.2 .1-9.4 .1 8 .1-5.5 .1 2.8 .1 30 .1-15.4 .1-6.8 .1-10.9 .2 9.7 .1-15.3 .1 14.1 .1-7.2 .1 25.5 .1 15.2 .1-47 .1 39.4 .1-9.9 .1 13.1 .1-19.9 .1-16.4 .1 16.6 .1-10 .1 20.2 .1-15.7 .1-6 .2 25.3 .1-1.8 .1-20.4 .1 22.1 .1-14.2 .1 16.8 .1 12.4 .1-38.2 .1 10.1 .1 12.1 .1-35.1 .1 20 .1 24.8 .1-28.8 .1 6.3 .1 23.7 .2-32 .1-.6 .1 57.3 .1-50.3 .1-2.4 .1 39.3 .1-41.4 .1 46.1 .1-39.7 .1-22.4 .1 36.3 .1 6.4 .1 14.3 .1-59 .1 22.1 .1-9.8 .2 27.8 .1 35.2 .1-70.4 .1 44.5 .1-3.4 .1-.1 .1-33.2 .1-7 .1 55.7" fill="none" stroke="#434b9a" stroke-width="1.1" clip-path="url(#cclip)"/>
<path d="M466.24 266.2V172.7H467.98V266.2zM467.83 266.2V181.1H469.57V266.2zM469.42 266.2V181.1H471.16V266.2zM471.01 266.2V181.1H472.75V266.2zM472.60 266.2V185.8H474.34V266.2zM474.19 266.2V191.1H475.94V266.2zM475.79 266.2V197.0H477.53V266.2zM477.38 266.2V203.6H479.12V266.2zM478.97 266.2V203.6H480.71V266.2zM480.56 266.2V203.6H482.30V266.2zM482.15 266.2V211.3H483.89V266.2zM483.74 266.2V185.8H485.48V266.2zM485.33 266.2V211.3H487.07V266.2zM486.92 266.2V211.3H488.66V266.2zM488.51 266.2V220.4H490.25V266.2zM490.10 266.2V197.0H491.85V266.2zM491.70 266.2V220.4H493.44V266.2zM493.29 266.2V203.6H495.03V266.2zM494.88 266.2V220.4H496.62V266.2zM496.47 266.2V220.4H498.21V266.2zM498.06 266.2V231.6H499.80V266.2zM499.65 266.2V220.4H501.39V266.2zM501.24 266.2V220.4H502.98V266.2zM502.83 266.2V211.3H504.57V266.2zM504.42 266.2V220.4H506.16V266.2zM506.01 266.2V231.6H507.76V266.2zM507.61 266.2V220.4H509.35V266.2zM509.20 266.2V231.6H510.94V266.2zM510.79 266.2V220.4H512.53V266.2zM512.38 266.2V211.3H514.12V266.2zM513.97 266.2V220.4H515.71V266.2zM515.56 266.2V220.4H517.30V266.2zM517.15 266.2V231.6H518.89V266.2zM518.74 266.2V211.3H520.48V266.2zM520.33 266.2V220.4H522.07V266.2zM521.92 266.2V231.6H523.67V266.2zM523.52 266.2V191.1H525.26V266.2zM525.11 266.2V220.4H526.85V266.2zM526.70 266.2V231.6H528.44V266.2zM528.29 266.2V220.4H530.03V266.2zM529.88 266.2V220.4H531.62V266.2zM531.47 266.2V220.4H533.21V266.2zM533.06 266.2V220.4H534.80V266.2zM534.65 266.2V211.3H536.39V266.2zM536.24 266.2V211.3H537.98V266.2zM537.83 266.2V211.3H539.58V266.2zM539.43 266.2V220.4H541.17V266.2zM541.02 266.2V231.6H542.76V266.2zM542.61 266.2V220.4H544.35V266.2zM544.20 266.2V220.4H545.94V266.2zM545.79 266.2V220.4H547.53V266.2zM547.38 266.2V220.4H549.12V266.2zM548.97 266.2V211.3H550.71V266.2zM550.56 266.2V220.4H552.30V266.2zM552.15 266.2V220.4H553.89V266.2zM553.74 266.2V220.4H555.49V266.2zM555.34 266.2V231.6H557.08V266.2zM556.93 266.2V220.4H558.67V266.2zM558.52 266.2V220.4H560.26V266.2zM560.11 266.2V220.4H561.85V266.2zM561.70 266.2V220.4H563.44V266.2zM563.29 266.2V211.3H565.03V266.2zM564.88 266.2V220.4H566.62V266.2zM566.47 266.2V211.3H568.21V266.2zM568.06 266.2V211.3H569.80V266.2zM569.65 266.2V220.4H571.40V266.2zM571.25 266.2V185.8H572.99V266.2zM572.84 266.2V220.4H574.58V266.2zM574.43 266.2V211.3H576.17V266.2zM576.02 266.2V220.4H577.76V266.2zM577.61 266.2V197.0H579.35V266.2zM579.20 266.2V231.6H580.94V266.2zM580.79 266.2V211.3H582.53V266.2zM582.38 266.2V220.4H584.12V266.2zM583.97 266.2V220.4H585.71V266.2zM585.56 266.2V220.4H587.31V266.2zM587.16 266.2V220.4H588.90V266.2zM588.75 266.2V231.6H590.49V266.2zM590.34 266.2V220.4H592.08V266.2zM591.93 266.2V220.4H593.67V266.2zM593.52 266.2V211.3H595.26V266.2zM595.11 266.2V220.4H596.85V266.2zM596.70 266.2V231.6H598.44V266.2zM598.29 266.2V231.6H600.03V266.2zM599.88 266.2V231.6H601.62V266.2zM601.47 266.2V220.4H603.22V266.2zM603.07 266.2V231.6H604.81V266.2zM604.66 266.2V211.3H606.40V266.2zM606.25 266.2V211.3H607.99V266.2zM607.84 266.2V220.4H609.58V266.2zM609.43 266.2V211.3H611.17V266.2zM611.02 266.2V220.4H612.76V266.2zM612.61 266.2V220.4H614.35V266.2zM614.20 266.2V220.4H615.94V266.2zM615.79 266.2V211.3H617.53V266.2zM617.38 266.2V220.4H619.13V266.2zM618.98 266.2V211.3H620.72V266.2zM620.57 266.2V220.4H622.31V266.2zM622.16 266.2V220.4H623.90V266.2zM623.75 266.2V220.4H625.49V266.2zM625.34 266.2V231.6H627.08V266.2zM626.93 266.2V231.6H628.67V266.2zM628.52 266.2V220.4H630.26V266.2zM630.11 266.2V220.4H631.85V266.2zM631.70 266.2V220.4H633.44V266.2zM633.29 266.2V231.6H635.04V266.2zM634.89 266.2V220.4H636.63V266.2zM636.48 266.2V220.4H638.22V266.2zM638.07 266.2V220.4H639.81V266.2zM639.66 266.2V231.6H641.40V266.2zM641.25 266.2V220.4H642.99V266.2zM642.84 266.2V211.3H644.58V266.2zM644.43 266.2V220.4H646.17V266.2zM646.02 266.2V211.3H647.76V266.2zM647.61 266.2V220.4H649.35V266.2zM649.20 266.2V211.3H650.15V266.2z" fill="#434b9a" shape-rendering="crispEdges"/>
<line x1="331.8" y1="231.58" x2="334.3" y2="231.58" stroke="#9a9a9a" stroke-width="0.8" />
<line x1="331.8" y1="211.33" x2="334.3" y2="211.33" stroke="#9a9a9a" stroke-width="0.8" />
<line x1="331.8" y1="196.96" x2="334.3" y2="196.96" stroke="#9a9a9a" stroke-width="0.8" />
<line x1="331.8" y1="185.82" x2="334.3" y2="185.82" stroke="#9a9a9a" stroke-width="0.8" />
<line x1="331.8" y1="176.71" x2="334.3" y2="176.71" stroke="#9a9a9a" stroke-width="0.8" />
<line x1="331.8" y1="169.01" x2="334.3" y2="169.01" stroke="#9a9a9a" stroke-width="0.8" />
<line x1="331.8" y1="162.34" x2="334.3" y2="162.34" stroke="#9a9a9a" stroke-width="0.8" />
<line x1="331.8" y1="156.46" x2="334.3" y2="156.46" stroke="#9a9a9a" stroke-width="0.8" />
<line x1="331.8" y1="151.2" x2="335.8" y2="151.2" stroke="#9a9a9a" stroke-width="0.8" />
<line x1="331.8" y1="116.58" x2="334.3" y2="116.58" stroke="#9a9a9a" stroke-width="0.8" />
<line x1="331.8" y1="96.33" x2="334.3" y2="96.33" stroke="#9a9a9a" stroke-width="0.8" />
<line x1="331.8" y1="81.96" x2="334.3" y2="81.96" stroke="#9a9a9a" stroke-width="0.8" />
<line x1="331.8" y1="70.82" x2="334.3" y2="70.82" stroke="#9a9a9a" stroke-width="0.8" />
<line x1="331.8" y1="61.71" x2="334.3" y2="61.71" stroke="#9a9a9a" stroke-width="0.8" />
<line x1="331.8" y1="54.01" x2="334.3" y2="54.01" stroke="#9a9a9a" stroke-width="0.8" />
<line x1="331.8" y1="47.34" x2="334.3" y2="47.34" stroke="#9a9a9a" stroke-width="0.8" />
<line x1="331.8" y1="41.46" x2="334.3" y2="41.46" stroke="#9a9a9a" stroke-width="0.8" />
<line x1="331.8" y1="36.2" x2="335.8" y2="36.2" stroke="#9a9a9a" stroke-width="0.8" />
<line x1="371.57" y1="266.2" x2="371.57" y2="263.7" stroke="#9a9a9a" stroke-width="0.8" />
<line x1="411.35" y1="266.2" x2="411.35" y2="262.2" stroke="#9a9a9a" stroke-width="0.8" />
<line x1="451.12" y1="266.2" x2="451.12" y2="263.7" stroke="#9a9a9a" stroke-width="0.8" />
<line x1="490.9" y1="266.2" x2="490.9" y2="262.2" stroke="#9a9a9a" stroke-width="0.8" />
<line x1="530.67" y1="266.2" x2="530.67" y2="263.7" stroke="#9a9a9a" stroke-width="0.8" />
<line x1="570.45" y1="266.2" x2="570.45" y2="262.2" stroke="#9a9a9a" stroke-width="0.8" />
<line x1="610.23" y1="266.2" x2="610.23" y2="263.7" stroke="#9a9a9a" stroke-width="0.8" />
<text x="326.5" y="269.8" font-size="10" text-anchor="end" fill="#4a4a4a" >1</text>
<text x="326" y="154.6" font-size="10" text-anchor="end" fill="#4a4a4a" >10</text>
<text x="326" y="39" font-size="10" text-anchor="end" fill="#4a4a4a" >100</text>
<text x="331.5" y="277.7" font-size="10" text-anchor="middle" fill="#4a4a4a" >44</text>
<text x="411.05" y="277.7" font-size="10" text-anchor="middle" fill="#4a4a4a" >45</text>
<text x="490.6" y="277.7" font-size="10" text-anchor="middle" fill="#4a4a4a" >46</text>
<text x="570.15" y="277.7" font-size="10" text-anchor="middle" fill="#4a4a4a" >47</text>
<text x="649.7" y="277.7" font-size="10" text-anchor="middle" fill="#4a4a4a" >48</text>
<text x="490.3" y="296.3" font-size="10" text-anchor="middle" fill="#4a4a4a"><tspan font-style="italic">2θ</tspan> (°)</text>
<text x="306.1" y="138" font-size="10" text-anchor="middle" fill="#4a4a4a" transform="rotate(-90 306.1 138)" ><tspan font-style="italic">I</tspan> (a.u.)</text>
<text x="372.6" y="55.6" font-size="9.8" text-anchor="middle" fill="#c83040" textLength="31.6" lengthAdjust="spacingAndGlyphs" >Pristine</text>
<text x="385.5" y="164.4" font-size="9.8" text-anchor="middle" fill="#5058a0" textLength="43.3" lengthAdjust="spacingAndGlyphs" >Cr-droped</text>
<text x="291" y="11.5" font-size="11" text-anchor="middle" fill="#111" font-weight="bold" >c</text>
<defs><filter id="afmblur" x="0" y="0" width="1" height="1"><feGaussianBlur stdDeviation="0.55" edgeMode="duplicate"/></filter></defs>
<g filter="url(#afmblur)"><g shape-rendering="crispEdges"><path fill="#cf751b" d="M448.1 18.0h1.2v1.2H448.1zM453.1 18.0h5.2v1.2H453.1zM468.0 18.0h1.2v1.2H468.0zM512.8 18.0h3.2v1.2H512.8zM522.8 18.0h2.2v1.2H522.8zM526.8 18.0h3.2v1.2H526.8zM448.1 19.0h1.2v1.2H448.1zM454.1 19.0h4.2v1.2H454.1zM468.0 19.0h2.2v1.2H468.0zM512.8 19.0h4.2v1.2H512.8zM522.8 19.0h7.2v1.2H522.8zM449.1 20.0h3.2v1.2H449.1zM454.1 20.0h4.2v1.2H454.1zM467.0 20.0h4.2v1.2H467.0zM513.8 20.0h4.2v1.2H513.8zM520.8 20.0h2.2v1.2H520.8zM524.8 20.0h2.2v1.2H524.8zM529.8 20.0h1.2v1.2H529.8zM448.1 21.0h4.2v1.2H448.1zM454.1 21.0h4.2v1.2H454.1zM467.0 21.0h4.2v1.2H467.0zM513.8 21.0h3.2v1.2H513.8zM518.8 21.0h8.2v1.2H518.8zM529.8 21.0h1.2v1.2H529.8zM448.1 22.0h4.2v1.2H448.1zM453.1 22.0h5.2v1.2H453.1zM468.0 22.0h2.2v1.2H468.0zM513.8 22.0h2.2v1.2H513.8zM517.8 22.0h13.1v1.2H517.8zM448.1 23.0h11.2v1.2H448.1zM468.0 23.0h3.2v1.2H468.0zM512.8 23.0h4.2v1.2H512.8zM517.8 23.0h2.2v1.2H517.8zM520.8 23.0h9.2v1.2H520.8zM448.1 24.0h6.2v1.2H448.1zM456.1 24.0h4.2v1.2H456.1zM468.0 24.0h4.2v1.2H468.0zM512.8 24.0h6.2v1.2H512.8zM522.8 24.0h3.2v1.2H522.8zM526.8 24.0h2.2v1.2H526.8zM448.1 25.0h6.2v1.2H448.1zM456.1 25.0h4.2v1.2H456.1zM468.0 25.0h5.2v1.2H468.0zM512.8 25.0h1.2v1.2H512.8zM515.8 25.0h3.2v1.2H515.8zM522.8 25.0h3.2v1.2H522.8zM526.8 25.0h2.2v1.2H526.8zM448.1 26.0h12.1v1.2H448.1zM468.0 26.0h7.2v1.2H468.0zM514.8 26.0h2.2v1.2H514.8zM517.8 26.0h3.2v1.2H517.8zM524.8 26.0h3.2v1.2H524.8zM448.1 27.0h12.1v1.2H448.1zM467.0 27.0h4.2v1.2H467.0zM473.0 27.0h3.2v1.2H473.0zM514.8 27.0h2.2v1.2H514.8zM517.8 27.0h3.2v1.2H517.8zM524.8 27.0h3.2v1.2H524.8zM448.1 28.0h8.2v1.2H448.1zM472.0 28.0h5.2v1.2H472.0zM513.8 28.0h13.1v1.2H513.8zM448.1 29.0h2.2v1.2H448.1zM451.1 29.0h4.2v1.2H451.1zM463.0 29.0h2.2v1.2H463.0zM471.0 29.0h6.2v1.2H471.0zM512.8 29.0h4.2v1.2H512.8zM517.8 29.0h7.2v1.2H517.8zM448.1 29.9h12.1v1.2H448.1zM463.0 29.9h6.2v1.2H463.0zM472.0 29.9h5.2v1.2H472.0zM512.8 29.9h10.2v1.2H512.8zM449.1 30.9h20.1v1.2H449.1zM473.0 30.9h3.2v1.2H473.0zM512.8 30.9h10.2v1.2H512.8zM542.7 30.9h1.2v1.2H542.7zM448.1 31.9h7.2v1.2H448.1zM458.1 31.9h18.1v1.2H458.1zM512.8 31.9h10.2v1.2H512.8zM524.8 31.9h6.2v1.2H524.8zM538.7 31.9h5.2v1.2H538.7zM448.1 32.9h2.2v1.2H448.1zM451.1 32.9h3.2v1.2H451.1zM459.1 32.9h6.2v1.2H459.1zM469.0 32.9h2.2v1.2H469.0zM473.0 32.9h2.2v1.2H473.0zM511.8 32.9h11.2v1.2H511.8zM523.8 32.9h8.2v1.2H523.8zM537.7 32.9h4.2v1.2H537.7zM448.1 33.9h5.2v1.2H448.1zM459.1 33.9h7.2v1.2H459.1zM469.0 33.9h2.2v1.2H469.0zM474.0 33.9h1.2v1.2H474.0zM511.8 33.9h7.2v1.2H511.8zM520.8 33.9h15.1v1.2H520.8zM536.7 33.9h5.2v1.2H536.7zM448.1 34.9h4.2v1.2H448.1zM459.1 34.9h4.2v1.2H459.1zM465.0 34.9h1.2v1.2H465.0zM476.0 34.9h1.2v1.2H476.0zM511.8 34.9h6.2v1.2H511.8zM522.8 34.9h2.2v1.2H522.8zM526.8 34.9h16.1v1.2H526.8zM449.1 35.9h3.2v1.2H449.1zM476.0 35.9h1.2v1.2H476.0zM511.8 35.9h7.2v1.2H511.8zM522.8 35.9h2.2v1.2H522.8zM526.8 35.9h16.1v1.2H526.8zM449.1 36.9h2.2v1.2H449.1zM476.0 36.9h1.2v1.2H476.0zM511.8 36.9h1.2v1.2H511.8zM513.8 36.9h9.2v1.2H513.8zM523.8 36.9h2.2v1.2H523.8zM527.8 36.9h6.2v1.2H527.8zM534.7 36.9h9.2v1.2H534.7zM476.0 37.9h1.2v1.2H476.0zM510.8 37.9h2.2v1.2H510.8zM513.8 37.9h20.1v1.2H513.8zM534.7 37.9h9.2v1.2H534.7zM479.0 38.9h3.2v1.2H479.0zM487.9 38.9h2.2v1.2H487.9zM507.9 38.9h5.2v1.2H507.9zM513.8 38.9h27.1v1.2H513.8zM478.0 39.9h4.2v1.2H478.0zM484.0 39.9h6.2v1.2H484.0zM507.9 39.9h4.2v1.2H507.9zM513.8 39.9h24.1v1.2H513.8zM538.7 39.9h2.2v1.2H538.7zM478.0 40.9h4.2v1.2H478.0zM483.0 40.9h6.2v1.2H483.0zM506.9 40.9h17.1v1.2H506.9zM524.8 40.9h16.1v1.2H524.8zM542.7 40.9h1.2v1.2H542.7zM477.0 41.9h10.2v1.2H477.0zM487.9 41.9h1.2v1.2H487.9zM506.9 41.9h16.1v1.2H506.9zM524.8 41.9h7.2v1.2H524.8zM532.7 41.9h7.2v1.2H532.7zM541.7 41.9h2.2v1.2H541.7zM473.0 42.9h5.2v1.2H473.0zM480.0 42.9h10.2v1.2H480.0zM509.8 42.9h13.1v1.2H509.8zM524.8 42.9h4.2v1.2H524.8zM530.8 42.9h10.2v1.2H530.8zM541.7 42.9h2.2v1.2H541.7zM472.0 43.9h6.2v1.2H472.0zM480.0 43.9h6.2v1.2H480.0zM487.9 43.9h3.2v1.2H487.9zM510.8 43.9h6.2v1.2H510.8zM517.8 43.9h6.2v1.2H517.8zM524.8 43.9h2.2v1.2H524.8zM530.8 43.9h3.2v1.2H530.8zM535.7 43.9h5.2v1.2H535.7zM541.7 43.9h2.2v1.2H541.7zM472.0 44.9h5.2v1.2H472.0zM480.0 44.9h6.2v1.2H480.0zM487.9 44.9h5.2v1.2H487.9zM509.8 44.9h13.1v1.2H509.8zM530.8 44.9h3.2v1.2H530.8zM537.7 44.9h6.2v1.2H537.7zM472.0 45.9h3.2v1.2H472.0zM484.0 45.9h9.2v1.2H484.0zM505.9 45.9h2.2v1.2H505.9zM509.8 45.9h5.2v1.2H509.8zM515.8 45.9h1.2v1.2H515.8zM517.8 45.9h5.2v1.2H517.8zM527.8 45.9h1.2v1.2H527.8zM531.8 45.9h1.2v1.2H531.8zM539.7 45.9h4.2v1.2H539.7zM473.0 46.9h3.2v1.2H473.0zM478.0 46.9h16.1v1.2H478.0zM509.8 46.9h5.2v1.2H509.8zM515.8 46.9h8.2v1.2H515.8zM527.8 46.9h2.2v1.2H527.8zM530.8 46.9h2.2v1.2H530.8zM539.7 46.9h4.2v1.2H539.7zM474.0 47.9h2.2v1.2H474.0zM477.0 47.9h18.1v1.2H477.0zM508.8 47.9h5.2v1.2H508.8zM516.8 47.9h8.2v1.2H516.8zM526.8 47.9h11.2v1.2H526.8zM539.7 47.9h4.2v1.2H539.7zM474.0 48.9h1.2v1.2H474.0zM477.0 48.9h10.2v1.2H477.0zM489.9 48.9h5.2v1.2H489.9zM498.9 48.9h2.2v1.2H498.9zM507.9 48.9h3.2v1.2H507.9zM511.8 48.9h3.2v1.2H511.8zM515.8 48.9h10.2v1.2H515.8zM526.8 48.9h17.1v1.2H526.8zM477.0 49.9h7.2v1.2H477.0zM490.9 49.9h3.2v1.2H490.9zM496.9 49.9h5.2v1.2H496.9zM502.9 49.9h27.1v1.2H502.9zM533.7 49.9h8.2v1.2H533.7zM477.0 50.9h7.2v1.2H477.0zM490.9 50.9h4.2v1.2H490.9zM495.9 50.9h34.1v1.2H495.9zM537.7 50.9h4.2v1.2H537.7zM474.0 51.9h6.2v1.2H474.0zM492.9 51.9h2.2v1.2H492.9zM495.9 51.9h15.1v1.2H495.9zM511.8 51.9h17.1v1.2H511.8zM530.8 51.9h3.2v1.2H530.8zM535.7 51.9h2.2v1.2H535.7zM539.7 51.9h3.2v1.2H539.7zM474.0 52.9h6.2v1.2H474.0zM492.9 52.9h2.2v1.2H492.9zM495.9 52.9h14.1v1.2H495.9zM511.8 52.9h7.2v1.2H511.8zM519.8 52.9h10.2v1.2H519.8zM530.8 52.9h12.1v1.2H530.8zM474.0 53.8h7.2v1.2H474.0zM482.0 53.8h1.2v1.2H482.0zM488.9 53.8h4.2v1.2H488.9zM495.9 53.8h14.1v1.2H495.9zM519.8 53.8h6.2v1.2H519.8zM526.8 53.8h5.2v1.2H526.8zM532.7 53.8h8.2v1.2H532.7zM541.7 53.8h2.2v1.2H541.7zM474.0 54.8h11.2v1.2H474.0zM487.9 54.8h5.2v1.2H487.9zM496.9 54.8h3.2v1.2H496.9zM500.9 54.8h3.2v1.2H500.9zM504.9 54.8h3.2v1.2H504.9zM520.8 54.8h4.2v1.2H520.8zM528.8 54.8h2.2v1.2H528.8zM533.7 54.8h5.2v1.2H533.7zM541.7 54.8h2.2v1.2H541.7zM475.0 55.8h10.2v1.2H475.0zM492.9 55.8h2.2v1.2H492.9zM496.9 55.8h10.2v1.2H496.9zM525.8 55.8h1.2v1.2H525.8zM528.8 55.8h9.2v1.2H528.8zM448.1 56.8h1.2v1.2H448.1zM475.0 56.8h9.2v1.2H475.0zM492.9 56.8h2.2v1.2H492.9zM496.9 56.8h5.2v1.2H496.9zM502.9 56.8h3.2v1.2H502.9zM524.8 56.8h3.2v1.2H524.8zM528.8 56.8h9.2v1.2H528.8zM448.1 57.8h2.2v1.2H448.1zM475.0 57.8h11.2v1.2H475.0zM490.9 57.8h3.2v1.2H490.9zM496.9 57.8h9.2v1.2H496.9zM525.8 57.8h1.2v1.2H525.8zM528.8 57.8h11.2v1.2H528.8zM448.1 58.8h3.2v1.2H448.1zM475.0 58.8h3.2v1.2H475.0zM480.0 58.8h9.2v1.2H480.0zM489.9 58.8h3.2v1.2H489.9zM498.9 58.8h3.2v1.2H498.9zM502.9 58.8h5.2v1.2H502.9zM527.8 58.8h6.2v1.2H527.8zM537.7 58.8h3.2v1.2H537.7zM448.1 59.8h3.2v1.2H448.1zM475.0 59.8h18.1v1.2H475.0zM498.9 59.8h3.2v1.2H498.9zM502.9 59.8h4.2v1.2H502.9zM526.8 59.8h4.2v1.2H526.8zM531.8 59.8h2.2v1.2H531.8zM538.7 59.8h3.2v1.2H538.7zM449.1 60.8h1.2v1.2H449.1zM478.0 60.8h17.1v1.2H478.0zM498.9 60.8h2.2v1.2H498.9zM502.9 60.8h3.2v1.2H502.9zM525.8 60.8h4.2v1.2H525.8zM532.7 60.8h1.2v1.2H532.7zM540.7 60.8h3.2v1.2H540.7zM449.1 61.8h1.2v1.2H449.1zM478.0 61.8h10.2v1.2H478.0zM489.9 61.8h11.2v1.2H489.9zM502.9 61.8h3.2v1.2H502.9zM526.8 61.8h3.2v1.2H526.8zM532.7 61.8h2.2v1.2H532.7zM539.7 61.8h4.2v1.2H539.7zM449.1 62.8h2.2v1.2H449.1zM480.0 62.8h2.2v1.2H480.0zM483.0 62.8h3.2v1.2H483.0zM489.9 62.8h7.2v1.2H489.9zM498.9 62.8h3.2v1.2H498.9zM502.9 62.8h7.2v1.2H502.9zM527.8 62.8h3.2v1.2H527.8zM533.7 62.8h9.2v1.2H533.7zM449.1 63.8h2.2v1.2H449.1zM480.0 63.8h6.2v1.2H480.0zM489.9 63.8h3.2v1.2H489.9zM494.9 63.8h1.2v1.2H494.9zM499.9 63.8h9.2v1.2H499.9zM527.8 63.8h3.2v1.2H527.8zM533.7 63.8h10.2v1.2H533.7zM448.1 64.8h2.2v1.2H448.1zM480.0 64.8h7.2v1.2H480.0zM487.9 64.8h3.2v1.2H487.9zM500.9 64.8h5.2v1.2H500.9zM527.8 64.8h2.2v1.2H527.8zM532.7 64.8h2.2v1.2H532.7zM537.7 64.8h6.2v1.2H537.7zM448.1 65.8h1.2v1.2H448.1zM480.0 65.8h10.2v1.2H480.0zM501.9 65.8h3.2v1.2H501.9zM528.8 65.8h2.2v1.2H528.8zM532.7 65.8h2.2v1.2H532.7zM537.7 65.8h3.2v1.2H537.7zM541.7 65.8h2.2v1.2H541.7zM482.0 66.8h8.2v1.2H482.0zM492.9 66.8h1.2v1.2H492.9zM501.9 66.8h2.2v1.2H501.9zM528.8 66.8h13.1v1.2H528.8zM483.0 67.8h1.2v1.2H483.0zM484.9 67.8h5.2v1.2H484.9zM492.9 67.8h2.2v1.2H492.9zM501.9 67.8h2.2v1.2H501.9zM529.8 67.8h12.1v1.2H529.8zM485.9 68.8h7.2v1.2H485.9zM502.9 68.8h1.2v1.2H502.9zM527.8 68.8h15.1v1.2H527.8zM485.9 69.8h7.2v1.2H485.9zM502.9 69.8h2.2v1.2H502.9zM527.8 69.8h6.2v1.2H527.8zM537.7 69.8h6.2v1.2H537.7zM486.9 70.8h4.2v1.2H486.9zM502.9 70.8h2.2v1.2H502.9zM527.8 70.8h6.2v1.2H527.8zM535.7 70.8h5.2v1.2H535.7zM541.7 70.8h2.2v1.2H541.7zM486.9 71.8h4.2v1.2H486.9zM502.9 71.8h3.2v1.2H502.9zM528.8 71.8h3.2v1.2H528.8zM532.7 71.8h1.2v1.2H532.7zM535.7 71.8h5.2v1.2H535.7zM542.7 71.8h1.2v1.2H542.7zM486.9 72.8h4.2v1.2H486.9zM501.9 72.8h4.2v1.2H501.9zM527.8 72.8h13.1v1.2H527.8zM486.9 73.8h4.2v1.2H486.9zM494.9 73.8h3.2v1.2H494.9zM498.9 73.8h6.2v1.2H498.9zM525.8 73.8h6.2v1.2H525.8zM532.7 73.8h9.2v1.2H532.7zM489.9 74.8h2.2v1.2H489.9zM494.9 74.8h10.2v1.2H494.9zM525.8 74.8h6.2v1.2H525.8zM532.7 74.8h9.2v1.2H532.7zM490.9 75.8h9.2v1.2H490.9zM500.9 75.8h3.2v1.2H500.9zM528.8 75.8h1.2v1.2H528.8zM530.8 75.8h5.2v1.2H530.8zM537.7 75.8h5.2v1.2H537.7zM490.9 76.8h4.2v1.2H490.9zM497.9 76.8h6.2v1.2H497.9zM523.8 76.8h1.2v1.2H523.8zM525.8 76.8h4.2v1.2H525.8zM530.8 76.8h5.2v1.2H530.8zM537.7 76.8h4.2v1.2H537.7zM492.9 77.8h2.2v1.2H492.9zM500.9 77.8h3.2v1.2H500.9zM504.9 77.8h6.2v1.2H504.9zM523.8 77.8h12.1v1.2H523.8zM501.9 78.7h1.2v1.2H501.9zM504.9 78.7h6.2v1.2H504.9zM522.8 78.7h13.1v1.2H522.8zM459.1 79.7h3.2v1.2H459.1zM506.9 79.7h3.2v1.2H506.9zM525.8 79.7h10.2v1.2H525.8zM448.1 80.7h1.2v1.2H448.1zM454.1 80.7h2.2v1.2H454.1zM458.1 80.7h4.2v1.2H458.1zM506.9 80.7h3.2v1.2H506.9zM528.8 80.7h7.2v1.2H528.8zM448.1 81.7h2.2v1.2H448.1zM504.9 81.7h4.2v1.2H504.9zM524.8 81.7h2.2v1.2H524.8zM528.8 81.7h7.2v1.2H528.8zM541.7 81.7h2.2v1.2H541.7zM448.1 82.7h2.2v1.2H448.1zM469.0 82.7h1.2v1.2H469.0zM504.9 82.7h3.2v1.2H504.9zM528.8 82.7h1.2v1.2H528.8zM530.8 82.7h4.2v1.2H530.8zM540.7 82.7h3.2v1.2H540.7zM448.1 83.7h2.2v1.2H448.1zM452.1 83.7h4.2v1.2H452.1zM459.1 83.7h1.2v1.2H459.1zM465.0 83.7h5.2v1.2H465.0zM502.9 83.7h3.2v1.2H502.9zM506.9 83.7h1.2v1.2H506.9zM509.8 83.7h3.2v1.2H509.8zM528.8 83.7h6.2v1.2H528.8zM541.7 83.7h2.2v1.2H541.7zM448.1 84.7h2.2v1.2H448.1zM451.1 84.7h5.2v1.2H451.1zM458.1 84.7h4.2v1.2H458.1zM465.0 84.7h5.2v1.2H465.0zM502.9 84.7h3.2v1.2H502.9zM506.9 84.7h2.2v1.2H506.9zM509.8 84.7h3.2v1.2H509.8zM530.8 84.7h4.2v1.2H530.8zM541.7 84.7h2.2v1.2H541.7zM448.1 85.7h2.2v1.2H448.1zM451.1 85.7h5.2v1.2H451.1zM458.1 85.7h11.2v1.2H458.1zM503.9 85.7h10.2v1.2H503.9zM530.8 85.7h4.2v1.2H530.8zM449.1 86.7h1.2v1.2H449.1zM451.1 86.7h7.2v1.2H451.1zM460.1 86.7h9.2v1.2H460.1zM506.9 86.7h3.2v1.2H506.9zM511.8 86.7h2.2v1.2H511.8zM530.8 86.7h3.2v1.2H530.8zM448.1 87.7h2.2v1.2H448.1zM451.1 87.7h8.2v1.2H451.1zM460.1 87.7h9.2v1.2H460.1zM503.9 87.7h6.2v1.2H503.9zM511.8 87.7h2.2v1.2H511.8zM531.8 87.7h1.2v1.2H531.8zM448.1 88.7h2.2v1.2H448.1zM451.1 88.7h3.2v1.2H451.1zM455.1 88.7h2.2v1.2H455.1zM458.1 88.7h9.2v1.2H458.1zM502.9 88.7h5.2v1.2H502.9zM509.8 88.7h2.2v1.2H509.8zM448.1 89.7h1.2v1.2H448.1zM452.1 89.7h5.2v1.2H452.1zM458.1 89.7h10.2v1.2H458.1zM502.9 89.7h5.2v1.2H502.9zM451.1 90.7h11.2v1.2H451.1zM466.0 90.7h3.2v1.2H466.0zM502.9 90.7h7.2v1.2H502.9zM451.1 91.7h12.1v1.2H451.1zM466.0 91.7h3.2v1.2H466.0zM503.9 91.7h6.2v1.2H503.9zM450.1 92.7h17.1v1.2H450.1zM503.9 92.7h2.2v1.2H503.9zM507.9 92.7h1.2v1.2H507.9zM449.1 93.7h7.2v1.2H449.1zM458.1 93.7h9.2v1.2H458.1zM448.1 94.7h2.2v1.2H448.1zM451.1 94.7h3.2v1.2H451.1zM457.1 94.7h11.2v1.2H457.1zM448.1 95.7h2.2v1.2H448.1zM452.1 95.7h1.2v1.2H452.1zM457.1 95.7h1.2v1.2H457.1zM462.0 95.7h6.2v1.2H462.0zM448.1 96.7h4.2v1.2H448.1zM448.1 97.7h4.2v1.2H448.1zM448.1 98.7h8.2v1.2H448.1zM480.0 98.7h2.2v1.2H480.0zM449.1 99.7h7.2v1.2H449.1zM478.0 99.7h5.2v1.2H478.0zM450.1 100.7h8.2v1.2H450.1zM477.0 100.7h8.2v1.2H477.0zM451.1 101.6h9.2v1.2H451.1zM477.0 101.6h5.2v1.2H477.0zM484.0 101.6h3.2v1.2H484.0zM451.1 102.6h10.2v1.2H451.1zM477.0 102.6h5.2v1.2H477.0zM484.0 102.6h3.2v1.2H484.0zM448.1 103.6h8.2v1.2H448.1zM457.1 103.6h5.2v1.2H457.1zM478.0 103.6h2.2v1.2H478.0zM484.0 103.6h3.2v1.2H484.0zM449.1 104.6h5.2v1.2H449.1zM457.1 104.6h5.2v1.2H457.1zM478.0 104.6h2.2v1.2H478.0zM484.0 104.6h2.2v1.2H484.0zM449.1 105.6h3.2v1.2H449.1zM456.1 105.6h4.2v1.2H456.1zM462.0 105.6h6.2v1.2H462.0zM478.0 105.6h2.2v1.2H478.0zM484.0 105.6h2.2v1.2H484.0zM450.1 106.6h2.2v1.2H450.1zM456.1 106.6h12.1v1.2H456.1zM478.0 106.6h2.2v1.2H478.0zM483.0 106.6h3.2v1.2H483.0zM449.1 107.6h4.2v1.2H449.1zM457.1 107.6h8.2v1.2H457.1zM466.0 107.6h1.2v1.2H466.0zM477.0 107.6h11.2v1.2H477.0zM448.1 108.6h5.2v1.2H448.1zM458.1 108.6h3.2v1.2H458.1zM462.0 108.6h3.2v1.2H462.0zM466.0 108.6h1.2v1.2H466.0zM472.0 108.6h1.2v1.2H472.0zM476.0 108.6h13.1v1.2H476.0zM448.1 109.6h3.2v1.2H448.1zM454.1 109.6h13.1v1.2H454.1zM472.0 109.6h18.1v1.2H472.0zM448.1 110.6h2.2v1.2H448.1zM454.1 110.6h6.2v1.2H454.1zM472.0 110.6h10.2v1.2H472.0zM484.9 110.6h5.2v1.2H484.9zM448.1 111.6h4.2v1.2H448.1zM454.1 111.6h2.2v1.2H454.1zM458.1 111.6h2.2v1.2H458.1zM463.0 111.6h4.2v1.2H463.0zM469.0 111.6h2.2v1.2H469.0zM473.0 111.6h7.2v1.2H473.0zM484.0 111.6h7.2v1.2H484.0zM448.1 112.6h4.2v1.2H448.1zM454.1 112.6h2.2v1.2H454.1zM460.1 112.6h7.2v1.2H460.1zM469.0 112.6h3.2v1.2H469.0zM475.0 112.6h5.2v1.2H475.0zM484.0 112.6h3.2v1.2H484.0zM488.9 112.6h2.2v1.2H488.9zM496.9 112.6h2.2v1.2H496.9z"/><path fill="#751b09" d="M449.1 18.0h1.2v1.2H449.1zM473.0 18.0h4.2v1.2H473.0zM485.9 18.0h6.2v1.2H485.9zM496.9 18.0h6.2v1.2H496.9zM507.9 18.0h4.2v1.2H507.9zM536.7 18.0h3.2v1.2H536.7zM473.0 19.0h3.2v1.2H473.0zM485.9 19.0h4.2v1.2H485.9zM496.9 19.0h7.2v1.2H496.9zM537.7 19.0h2.2v1.2H537.7zM474.0 20.0h1.2v1.2H474.0zM497.9 20.0h7.2v1.2H497.9zM540.7 20.0h1.2v1.2H540.7zM473.0 21.0h3.2v1.2H473.0zM499.9 21.0h6.2v1.2H499.9zM540.7 21.0h1.2v1.2H540.7zM472.0 22.0h2.2v1.2H472.0zM475.0 22.0h3.2v1.2H475.0zM484.9 22.0h3.2v1.2H484.9zM501.9 22.0h5.2v1.2H501.9zM534.7 22.0h1.2v1.2H534.7zM537.7 22.0h3.2v1.2H537.7zM475.0 23.0h3.2v1.2H475.0zM501.9 23.0h5.2v1.2H501.9zM537.7 23.0h3.2v1.2H537.7zM474.0 24.0h5.2v1.2H474.0zM490.9 24.0h1.2v1.2H490.9zM502.9 24.0h3.2v1.2H502.9zM537.7 24.0h3.2v1.2H537.7zM475.0 25.0h3.2v1.2H475.0zM503.9 25.0h2.2v1.2H503.9zM537.7 25.0h3.2v1.2H537.7zM476.0 26.0h1.2v1.2H476.0zM492.9 26.0h1.2v1.2H492.9zM503.9 26.0h4.2v1.2H503.9zM510.8 26.0h1.2v1.2H510.8zM535.7 26.0h2.2v1.2H535.7zM539.7 26.0h4.2v1.2H539.7zM492.9 27.0h1.2v1.2H492.9zM505.9 27.0h2.2v1.2H505.9zM509.8 27.0h3.2v1.2H509.8zM535.7 27.0h2.2v1.2H535.7zM539.7 27.0h4.2v1.2H539.7zM508.8 28.0h3.2v1.2H508.8zM528.8 28.0h6.2v1.2H528.8zM535.7 28.0h1.2v1.2H535.7zM539.7 28.0h4.2v1.2H539.7zM507.9 29.0h2.2v1.2H507.9zM510.8 29.0h1.2v1.2H510.8zM528.8 29.0h1.2v1.2H528.8zM532.7 29.0h3.2v1.2H532.7zM539.7 29.0h3.2v1.2H539.7zM507.9 29.9h2.2v1.2H507.9zM511.8 29.9h1.2v1.2H511.8zM528.8 29.9h6.2v1.2H528.8zM539.7 29.9h4.2v1.2H539.7zM480.0 30.9h1.2v1.2H480.0zM492.9 30.9h4.2v1.2H492.9zM507.9 30.9h1.2v1.2H507.9zM511.8 30.9h1.2v1.2H511.8zM530.8 30.9h3.2v1.2H530.8zM540.7 30.9h1.2v1.2H540.7zM477.0 31.9h5.2v1.2H477.0zM494.9 31.9h2.2v1.2H494.9zM507.9 31.9h2.2v1.2H507.9zM510.8 31.9h1.2v1.2H510.8zM476.0 32.9h6.2v1.2H476.0zM495.9 32.9h1.2v1.2H495.9zM508.8 32.9h1.2v1.2H508.8zM510.8 32.9h1.2v1.2H510.8zM454.1 33.9h4.2v1.2H454.1zM477.0 33.9h1.2v1.2H477.0zM481.0 33.9h3.2v1.2H481.0zM508.8 33.9h3.2v1.2H508.8zM454.1 34.9h4.2v1.2H454.1zM483.0 34.9h2.2v1.2H483.0zM507.9 34.9h3.2v1.2H507.9zM454.1 35.9h4.2v1.2H454.1zM483.0 35.9h2.2v1.2H483.0zM507.9 35.9h3.2v1.2H507.9zM458.1 36.9h4.2v1.2H458.1zM465.0 36.9h2.2v1.2H465.0zM469.0 36.9h2.2v1.2H469.0zM473.0 36.9h2.2v1.2H473.0zM480.0 36.9h3.2v1.2H480.0zM507.9 36.9h2.2v1.2H507.9zM458.1 37.9h1.2v1.2H458.1zM460.1 37.9h3.2v1.2H460.1zM465.0 37.9h2.2v1.2H465.0zM469.0 37.9h6.2v1.2H469.0zM479.0 37.9h4.2v1.2H479.0zM490.9 37.9h4.2v1.2H490.9zM499.9 37.9h1.2v1.2H499.9zM457.1 38.9h2.2v1.2H457.1zM460.1 38.9h5.2v1.2H460.1zM470.0 38.9h6.2v1.2H470.0zM491.9 38.9h1.2v1.2H491.9zM493.9 38.9h7.2v1.2H493.9zM457.1 39.9h2.2v1.2H457.1zM460.1 39.9h5.2v1.2H460.1zM468.0 39.9h8.2v1.2H468.0zM490.9 39.9h2.2v1.2H490.9zM494.9 39.9h10.2v1.2H494.9zM541.7 39.9h2.2v1.2H541.7zM456.1 40.9h2.2v1.2H456.1zM460.1 40.9h5.2v1.2H460.1zM467.0 40.9h3.2v1.2H467.0zM472.0 40.9h4.2v1.2H472.0zM490.9 40.9h1.2v1.2H490.9zM495.9 40.9h1.2v1.2H495.9zM497.9 40.9h2.2v1.2H497.9zM501.9 40.9h2.2v1.2H501.9zM456.1 41.9h7.2v1.2H456.1zM468.0 41.9h1.2v1.2H468.0zM471.0 41.9h3.2v1.2H471.0zM490.9 41.9h1.2v1.2H490.9zM494.9 41.9h2.2v1.2H494.9zM498.9 41.9h1.2v1.2H498.9zM500.9 41.9h3.2v1.2H500.9zM456.1 42.9h4.2v1.2H456.1zM463.0 42.9h1.2v1.2H463.0zM469.0 42.9h2.2v1.2H469.0zM491.9 42.9h5.2v1.2H491.9zM498.9 42.9h4.2v1.2H498.9zM463.0 43.9h1.2v1.2H463.0zM492.9 43.9h4.2v1.2H492.9zM498.9 43.9h4.2v1.2H498.9zM505.9 43.9h2.2v1.2H505.9zM493.9 44.9h3.2v1.2H493.9zM498.9 44.9h4.2v1.2H498.9zM524.8 44.9h3.2v1.2H524.8zM494.9 45.9h2.2v1.2H494.9zM498.9 45.9h1.2v1.2H498.9zM507.9 45.9h1.2v1.2H507.9zM523.8 45.9h1.2v1.2H523.8zM526.8 45.9h1.2v1.2H526.8zM495.9 46.9h4.2v1.2H495.9zM496.9 47.9h2.2v1.2H496.9zM501.9 47.9h4.2v1.2H501.9zM449.1 49.9h3.2v1.2H449.1zM470.0 49.9h4.2v1.2H470.0zM488.9 49.9h1.2v1.2H488.9zM448.1 50.9h4.2v1.2H448.1zM465.0 50.9h1.2v1.2H465.0zM469.0 50.9h5.2v1.2H469.0zM488.9 50.9h1.2v1.2H488.9zM448.1 51.9h6.2v1.2H448.1zM467.0 51.9h6.2v1.2H467.0zM487.9 51.9h1.2v1.2H487.9zM448.1 52.9h6.2v1.2H448.1zM467.0 52.9h5.2v1.2H467.0zM487.9 52.9h1.2v1.2H487.9zM448.1 53.8h1.2v1.2H448.1zM465.0 53.8h7.2v1.2H465.0zM486.9 53.8h1.2v1.2H486.9zM464.0 54.8h3.2v1.2H464.0zM468.0 54.8h3.2v1.2H468.0zM486.9 54.8h1.2v1.2H486.9zM508.8 54.8h5.2v1.2H508.8zM471.0 55.8h3.2v1.2H471.0zM485.9 55.8h3.2v1.2H485.9zM507.9 55.8h9.2v1.2H507.9zM518.8 55.8h1.2v1.2H518.8zM458.1 56.8h3.2v1.2H458.1zM471.0 56.8h3.2v1.2H471.0zM506.9 56.8h3.2v1.2H506.9zM513.8 56.8h3.2v1.2H513.8zM518.8 56.8h4.2v1.2H518.8zM452.1 57.8h5.2v1.2H452.1zM470.0 57.8h4.2v1.2H470.0zM507.9 57.8h2.2v1.2H507.9zM511.8 57.8h7.2v1.2H511.8zM520.8 57.8h4.2v1.2H520.8zM452.1 58.8h6.2v1.2H452.1zM461.0 58.8h1.2v1.2H461.0zM469.0 58.8h2.2v1.2H469.0zM509.8 58.8h4.2v1.2H509.8zM515.8 58.8h3.2v1.2H515.8zM520.8 58.8h4.2v1.2H520.8zM452.1 59.8h11.2v1.2H452.1zM469.0 59.8h3.2v1.2H469.0zM473.0 59.8h1.2v1.2H473.0zM520.8 59.8h3.2v1.2H520.8zM452.1 60.8h2.2v1.2H452.1zM458.1 60.8h1.2v1.2H458.1zM462.0 60.8h3.2v1.2H462.0zM469.0 60.8h6.2v1.2H469.0zM520.8 60.8h2.2v1.2H520.8zM538.7 60.8h1.2v1.2H538.7zM452.1 61.8h13.1v1.2H452.1zM469.0 61.8h6.2v1.2H469.0zM519.8 61.8h4.2v1.2H519.8zM536.7 61.8h2.2v1.2H536.7zM452.1 62.8h2.2v1.2H452.1zM456.1 62.8h11.2v1.2H456.1zM469.0 62.8h5.2v1.2H469.0zM519.8 62.8h1.2v1.2H519.8zM522.8 62.8h3.2v1.2H522.8zM452.1 63.8h7.2v1.2H452.1zM462.0 63.8h12.1v1.2H462.0zM519.8 63.8h1.2v1.2H519.8zM522.8 63.8h3.2v1.2H522.8zM459.1 64.8h1.2v1.2H459.1zM463.0 64.8h6.2v1.2H463.0zM475.0 64.8h1.2v1.2H475.0zM477.0 64.8h2.2v1.2H477.0zM518.8 64.8h2.2v1.2H518.8zM521.8 64.8h1.2v1.2H521.8zM450.1 65.8h1.2v1.2H450.1zM464.0 65.8h1.2v1.2H464.0zM466.0 65.8h10.2v1.2H466.0zM477.0 65.8h2.2v1.2H477.0zM518.8 65.8h4.2v1.2H518.8zM449.1 66.8h3.2v1.2H449.1zM468.0 66.8h1.2v1.2H468.0zM476.0 66.8h5.2v1.2H476.0zM504.9 66.8h3.2v1.2H504.9zM520.8 66.8h4.2v1.2H520.8zM448.1 67.8h4.2v1.2H448.1zM468.0 67.8h1.2v1.2H468.0zM476.0 67.8h6.2v1.2H476.0zM504.9 67.8h3.2v1.2H504.9zM509.8 67.8h1.2v1.2H509.8zM520.8 67.8h4.2v1.2H520.8zM448.1 68.8h4.2v1.2H448.1zM466.0 68.8h3.2v1.2H466.0zM474.0 68.8h8.2v1.2H474.0zM504.9 68.8h5.2v1.2H504.9zM519.8 68.8h1.2v1.2H519.8zM522.8 68.8h4.2v1.2H522.8zM448.1 69.8h4.2v1.2H448.1zM466.0 69.8h4.2v1.2H466.0zM471.0 69.8h5.2v1.2H471.0zM477.0 69.8h5.2v1.2H477.0zM484.0 69.8h2.2v1.2H484.0zM506.9 69.8h3.2v1.2H506.9zM518.8 69.8h2.2v1.2H518.8zM522.8 69.8h4.2v1.2H522.8zM449.1 70.8h5.2v1.2H449.1zM467.0 70.8h5.2v1.2H467.0zM478.0 70.8h8.2v1.2H478.0zM507.9 70.8h2.2v1.2H507.9zM523.8 70.8h1.2v1.2H523.8zM450.1 71.8h4.2v1.2H450.1zM469.0 71.8h2.2v1.2H469.0zM479.0 71.8h3.2v1.2H479.0zM484.0 71.8h2.2v1.2H484.0zM507.9 71.8h2.2v1.2H507.9zM450.1 72.8h8.2v1.2H450.1zM479.0 72.8h2.2v1.2H479.0zM483.0 72.8h3.2v1.2H483.0zM451.1 73.8h8.2v1.2H451.1zM478.0 73.8h8.2v1.2H478.0zM505.9 73.8h1.2v1.2H505.9zM452.1 74.8h6.2v1.2H452.1zM479.0 74.8h8.2v1.2H479.0zM487.9 74.8h1.2v1.2H487.9zM505.9 74.8h1.2v1.2H505.9zM453.1 75.8h4.2v1.2H453.1zM461.0 75.8h2.2v1.2H461.0zM471.0 75.8h1.2v1.2H471.0zM479.0 75.8h1.2v1.2H479.0zM481.0 75.8h1.2v1.2H481.0zM485.9 75.8h4.2v1.2H485.9zM505.9 75.8h1.2v1.2H505.9zM454.1 76.8h2.2v1.2H454.1zM470.0 76.8h3.2v1.2H470.0zM486.9 76.8h3.2v1.2H486.9zM513.8 76.8h4.2v1.2H513.8zM454.1 77.8h1.2v1.2H454.1zM468.0 77.8h4.2v1.2H468.0zM473.0 77.8h2.2v1.2H473.0zM512.8 77.8h4.2v1.2H512.8zM466.0 78.7h4.2v1.2H466.0zM471.0 78.7h4.2v1.2H471.0zM498.9 78.7h2.2v1.2H498.9zM511.8 78.7h3.2v1.2H511.8zM515.8 78.7h2.2v1.2H515.8zM463.0 79.7h1.2v1.2H463.0zM468.0 79.7h1.2v1.2H468.0zM471.0 79.7h2.2v1.2H471.0zM476.0 79.7h1.2v1.2H476.0zM496.9 79.7h6.2v1.2H496.9zM511.8 79.7h6.2v1.2H511.8zM537.7 79.7h1.2v1.2H537.7zM463.0 80.7h2.2v1.2H463.0zM468.0 80.7h5.2v1.2H468.0zM476.0 80.7h2.2v1.2H476.0zM496.9 80.7h6.2v1.2H496.9zM511.8 80.7h6.2v1.2H511.8zM541.7 80.7h1.2v1.2H541.7zM453.1 81.7h1.2v1.2H453.1zM463.0 81.7h2.2v1.2H463.0zM471.0 81.7h5.2v1.2H471.0zM477.0 81.7h2.2v1.2H477.0zM495.9 81.7h4.2v1.2H495.9zM512.8 81.7h6.2v1.2H512.8zM536.7 81.7h1.2v1.2H536.7zM459.1 82.7h1.2v1.2H459.1zM472.0 82.7h4.2v1.2H472.0zM477.0 82.7h6.2v1.2H477.0zM494.9 82.7h5.2v1.2H494.9zM515.8 82.7h3.2v1.2H515.8zM536.7 82.7h1.2v1.2H536.7zM473.0 83.7h8.2v1.2H473.0zM495.9 83.7h2.2v1.2H495.9zM499.9 83.7h2.2v1.2H499.9zM514.8 83.7h2.2v1.2H514.8zM526.8 83.7h1.2v1.2H526.8zM535.7 83.7h4.2v1.2H535.7zM473.0 84.7h8.2v1.2H473.0zM495.9 84.7h1.2v1.2H495.9zM500.9 84.7h1.2v1.2H500.9zM514.8 84.7h2.2v1.2H514.8zM523.8 84.7h4.2v1.2H523.8zM535.7 84.7h1.2v1.2H535.7zM537.7 84.7h3.2v1.2H537.7zM473.0 85.7h6.2v1.2H473.0zM495.9 85.7h1.2v1.2H495.9zM500.9 85.7h1.2v1.2H500.9zM524.8 85.7h4.2v1.2H524.8zM535.7 85.7h3.2v1.2H535.7zM470.0 86.7h1.2v1.2H470.0zM473.0 86.7h5.2v1.2H473.0zM493.9 86.7h4.2v1.2H493.9zM499.9 86.7h3.2v1.2H499.9zM524.8 86.7h5.2v1.2H524.8zM542.7 86.7h1.2v1.2H542.7zM470.0 87.7h6.2v1.2H470.0zM494.9 87.7h7.2v1.2H494.9zM525.8 87.7h3.2v1.2H525.8zM469.0 88.7h5.2v1.2H469.0zM526.8 88.7h2.2v1.2H526.8zM535.7 88.7h2.2v1.2H535.7zM469.0 89.7h2.2v1.2H469.0zM472.0 89.7h2.2v1.2H472.0zM485.9 89.7h2.2v1.2H485.9zM490.9 89.7h1.2v1.2H490.9zM526.8 89.7h2.2v1.2H526.8zM469.0 90.7h4.2v1.2H469.0zM484.9 90.7h2.2v1.2H484.9zM490.9 90.7h1.2v1.2H490.9zM511.8 90.7h2.2v1.2H511.8zM522.8 90.7h2.2v1.2H522.8zM529.8 90.7h1.2v1.2H529.8zM469.0 91.7h4.2v1.2H469.0zM484.9 91.7h1.2v1.2H484.9zM510.8 91.7h3.2v1.2H510.8zM522.8 91.7h2.2v1.2H522.8zM529.8 91.7h1.2v1.2H529.8zM540.7 91.7h1.2v1.2H540.7zM468.0 92.7h6.2v1.2H468.0zM478.0 92.7h1.2v1.2H478.0zM501.9 92.7h1.2v1.2H501.9zM510.8 92.7h2.2v1.2H510.8zM516.8 92.7h1.2v1.2H516.8zM526.8 92.7h4.2v1.2H526.8zM540.7 92.7h2.2v1.2H540.7zM468.0 93.7h8.2v1.2H468.0zM477.0 93.7h3.2v1.2H477.0zM482.0 93.7h2.2v1.2H482.0zM500.9 93.7h3.2v1.2H500.9zM509.8 93.7h3.2v1.2H509.8zM516.8 93.7h1.2v1.2H516.8zM520.8 93.7h2.2v1.2H520.8zM527.8 93.7h4.2v1.2H527.8zM540.7 93.7h3.2v1.2H540.7zM469.0 94.7h2.2v1.2H469.0zM473.0 94.7h3.2v1.2H473.0zM477.0 94.7h5.2v1.2H477.0zM483.0 94.7h1.2v1.2H483.0zM496.9 94.7h11.2v1.2H496.9zM508.8 94.7h4.2v1.2H508.8zM527.8 94.7h4.2v1.2H527.8zM541.7 94.7h2.2v1.2H541.7zM455.1 95.7h1.2v1.2H455.1zM469.0 95.7h1.2v1.2H469.0zM474.0 95.7h2.2v1.2H474.0zM477.0 95.7h5.2v1.2H477.0zM483.0 95.7h2.2v1.2H483.0zM496.9 95.7h2.2v1.2H496.9zM500.9 95.7h1.2v1.2H500.9zM502.9 95.7h1.2v1.2H502.9zM505.9 95.7h5.2v1.2H505.9zM511.8 95.7h4.2v1.2H511.8zM528.8 95.7h3.2v1.2H528.8zM533.7 95.7h1.2v1.2H533.7zM541.7 95.7h2.2v1.2H541.7zM455.1 96.7h1.2v1.2H455.1zM459.1 96.7h1.2v1.2H459.1zM469.0 96.7h5.2v1.2H469.0zM475.0 96.7h9.2v1.2H475.0zM497.9 96.7h4.2v1.2H497.9zM502.9 96.7h11.2v1.2H502.9zM514.8 96.7h1.2v1.2H514.8zM518.8 96.7h1.2v1.2H518.8zM529.8 96.7h4.2v1.2H529.8zM542.7 96.7h1.2v1.2H542.7zM458.1 97.7h2.2v1.2H458.1zM468.0 97.7h15.1v1.2H468.0zM499.9 97.7h1.2v1.2H499.9zM502.9 97.7h1.2v1.2H502.9zM505.9 97.7h7.2v1.2H505.9zM513.8 97.7h7.2v1.2H513.8zM531.8 97.7h1.2v1.2H531.8zM468.0 98.7h1.2v1.2H468.0zM474.0 98.7h4.2v1.2H474.0zM479.0 98.7h1.2v1.2H479.0zM502.9 98.7h1.2v1.2H502.9zM504.9 98.7h3.2v1.2H504.9zM513.8 98.7h9.2v1.2H513.8zM467.0 99.7h2.2v1.2H467.0zM476.0 99.7h1.2v1.2H476.0zM502.9 99.7h1.2v1.2H502.9zM513.8 99.7h17.1v1.2H513.8zM467.0 100.7h1.2v1.2H467.0zM501.9 100.7h1.2v1.2H501.9zM505.9 100.7h1.2v1.2H505.9zM513.8 100.7h16.1v1.2H513.8zM467.0 101.6h2.2v1.2H467.0zM500.9 101.6h1.2v1.2H500.9zM504.9 101.6h4.2v1.2H504.9zM513.8 101.6h3.2v1.2H513.8zM517.8 101.6h11.2v1.2H517.8zM467.0 102.6h1.2v1.2H467.0zM500.9 102.6h2.2v1.2H500.9zM504.9 102.6h2.2v1.2H504.9zM513.8 102.6h15.1v1.2H513.8zM502.9 103.6h3.2v1.2H502.9zM512.8 103.6h1.2v1.2H512.8zM518.8 103.6h7.2v1.2H518.8zM526.8 103.6h2.2v1.2H526.8zM540.7 103.6h1.2v1.2H540.7zM475.0 104.6h1.2v1.2H475.0zM503.9 104.6h1.2v1.2H503.9zM519.8 104.6h6.2v1.2H519.8zM526.8 104.6h2.2v1.2H526.8zM536.7 104.6h5.2v1.2H536.7zM469.0 105.6h3.2v1.2H469.0zM475.0 105.6h2.2v1.2H475.0zM486.9 105.6h2.2v1.2H486.9zM519.8 105.6h9.2v1.2H519.8zM536.7 105.6h1.2v1.2H536.7zM539.7 105.6h1.2v1.2H539.7zM469.0 106.6h2.2v1.2H469.0zM476.0 106.6h1.2v1.2H476.0zM486.9 106.6h2.2v1.2H486.9zM519.8 106.6h9.2v1.2H519.8zM536.7 106.6h1.2v1.2H536.7zM539.7 106.6h1.2v1.2H539.7zM469.0 107.6h1.2v1.2H469.0zM471.0 107.6h5.2v1.2H471.0zM516.8 107.6h4.2v1.2H516.8zM523.8 107.6h5.2v1.2H523.8zM534.7 107.6h6.2v1.2H534.7zM503.9 108.6h1.2v1.2H503.9zM515.8 108.6h14.1v1.2H515.8zM534.7 108.6h5.2v1.2H534.7zM514.8 109.6h4.2v1.2H514.8zM519.8 109.6h9.2v1.2H519.8zM490.9 110.6h5.2v1.2H490.9zM501.9 110.6h2.2v1.2H501.9zM514.8 110.6h4.2v1.2H514.8zM520.8 110.6h4.2v1.2H520.8zM526.8 110.6h2.2v1.2H526.8zM490.9 111.6h3.2v1.2H490.9zM501.9 111.6h4.2v1.2H501.9zM513.8 111.6h5.2v1.2H513.8zM521.8 111.6h3.2v1.2H521.8zM527.8 111.6h3.2v1.2H527.8zM458.1 112.6h1.2v1.2H458.1zM490.9 112.6h3.2v1.2H490.9zM502.9 112.6h1.2v1.2H502.9zM504.9 112.6h2.2v1.2H504.9zM513.8 112.6h6.2v1.2H513.8zM521.8 112.6h2.2v1.2H521.8zM529.8 112.6h1.2v1.2H529.8z"/><path fill="#631b09" d="M450.1 18.0h2.2v1.2H450.1zM470.0 18.0h3.2v1.2H470.0zM471.0 19.0h2.2v1.2H471.0zM471.0 20.0h3.2v1.2H471.0zM472.0 21.0h1.2v1.2H472.0zM509.8 29.0h1.2v1.2H509.8zM529.8 29.0h3.2v1.2H529.8zM542.7 29.0h1.2v1.2H542.7zM509.8 29.9h2.2v1.2H509.8zM508.8 30.9h3.2v1.2H508.8zM509.8 31.9h1.2v1.2H509.8zM509.8 32.9h1.2v1.2H509.8zM478.0 33.9h3.2v1.2H478.0zM478.0 34.9h5.2v1.2H478.0zM520.8 34.9h1.2v1.2H520.8zM478.0 35.9h5.2v1.2H478.0zM478.0 36.9h2.2v1.2H478.0zM459.1 37.9h1.2v1.2H459.1zM478.0 37.9h1.2v1.2H478.0zM459.1 38.9h1.2v1.2H459.1zM492.9 38.9h1.2v1.2H492.9zM459.1 39.9h1.2v1.2H459.1zM492.9 39.9h2.2v1.2H492.9zM458.1 40.9h2.2v1.2H458.1zM470.0 40.9h2.2v1.2H470.0zM491.9 40.9h4.2v1.2H491.9zM496.9 40.9h1.2v1.2H496.9zM469.0 41.9h2.2v1.2H469.0zM491.9 41.9h3.2v1.2H491.9zM496.9 41.9h2.2v1.2H496.9zM496.9 42.9h2.2v1.2H496.9zM496.9 43.9h2.2v1.2H496.9zM496.9 44.9h2.2v1.2H496.9zM496.9 45.9h2.2v1.2H496.9zM524.8 45.9h2.2v1.2H524.8zM524.8 46.9h2.2v1.2H524.8zM484.9 49.9h4.2v1.2H484.9zM484.9 50.9h4.2v1.2H484.9zM484.9 51.9h3.2v1.2H484.9zM484.9 52.9h3.2v1.2H484.9zM485.9 56.8h4.2v1.2H485.9zM509.8 56.8h4.2v1.2H509.8zM542.7 56.8h1.2v1.2H542.7zM509.8 57.8h2.2v1.2H509.8zM542.7 57.8h1.2v1.2H542.7zM459.1 60.8h3.2v1.2H459.1zM536.7 60.8h2.2v1.2H536.7zM454.1 62.8h2.2v1.2H454.1zM520.8 62.8h2.2v1.2H520.8zM520.8 63.8h2.2v1.2H520.8zM476.0 64.8h1.2v1.2H476.0zM520.8 64.8h1.2v1.2H520.8zM476.0 65.8h1.2v1.2H476.0zM469.0 66.8h7.2v1.2H469.0zM469.0 67.8h7.2v1.2H469.0zM469.0 68.8h5.2v1.2H469.0zM470.0 69.8h1.2v1.2H470.0zM482.0 71.8h2.2v1.2H482.0zM481.0 72.8h2.2v1.2H481.0zM540.7 77.8h3.2v1.2H540.7zM470.0 78.7h1.2v1.2H470.0zM514.8 78.7h1.2v1.2H514.8zM539.7 78.7h4.2v1.2H539.7zM469.0 79.7h2.2v1.2H469.0zM538.7 79.7h5.2v1.2H538.7zM537.7 80.7h4.2v1.2H537.7zM537.7 81.7h2.2v1.2H537.7zM537.7 82.7h2.2v1.2H537.7zM497.9 83.7h2.2v1.2H497.9zM496.9 84.7h4.2v1.2H496.9zM536.7 84.7h1.2v1.2H536.7zM496.9 85.7h4.2v1.2H496.9zM497.9 86.7h2.2v1.2H497.9zM471.0 89.7h1.2v1.2H471.0zM448.1 90.7h2.2v1.2H448.1zM448.1 91.7h1.2v1.2H448.1zM471.0 94.7h2.2v1.2H471.0zM482.0 94.7h1.2v1.2H482.0zM470.0 95.7h4.2v1.2H470.0zM482.0 95.7h1.2v1.2H482.0zM498.9 95.7h2.2v1.2H498.9zM503.9 95.7h2.2v1.2H503.9zM474.0 96.7h1.2v1.2H474.0zM503.9 97.7h2.2v1.2H503.9zM503.9 98.7h1.2v1.2H503.9zM503.9 99.7h2.2v1.2H503.9zM502.9 100.7h3.2v1.2H502.9zM501.9 101.6h3.2v1.2H501.9zM516.8 101.6h1.2v1.2H516.8zM502.9 102.6h2.2v1.2H502.9zM525.8 103.6h1.2v1.2H525.8zM525.8 104.6h1.2v1.2H525.8zM472.0 105.6h3.2v1.2H472.0zM537.7 105.6h2.2v1.2H537.7zM471.0 106.6h5.2v1.2H471.0zM537.7 106.6h2.2v1.2H537.7zM470.0 107.6h1.2v1.2H470.0zM520.8 107.6h3.2v1.2H520.8zM469.0 108.6h2.2v1.2H469.0zM470.0 109.6h1.2v1.2H470.0zM524.8 110.6h2.2v1.2H524.8zM524.8 111.6h3.2v1.2H524.8zM457.1 112.6h1.2v1.2H457.1zM503.9 112.6h1.2v1.2H503.9zM523.8 112.6h6.2v1.2H523.8z"/><path fill="#bd751b" d="M452.1 18.0h1.2v1.2H452.1zM469.0 18.0h1.2v1.2H469.0zM449.1 19.0h1.2v1.2H449.1zM453.1 19.0h1.2v1.2H453.1zM529.8 19.0h1.2v1.2H529.8zM448.1 20.0h1.2v1.2H448.1zM453.1 20.0h1.2v1.2H453.1zM526.8 20.0h1.2v1.2H526.8zM528.8 20.0h1.2v1.2H528.8zM453.1 21.0h1.2v1.2H453.1zM526.8 21.0h3.2v1.2H526.8zM452.1 22.0h1.2v1.2H452.1zM512.8 22.0h1.2v1.2H512.8zM474.0 23.0h1.2v1.2H474.0zM519.8 23.0h1.2v1.2H519.8zM529.8 23.0h1.2v1.2H529.8zM454.1 24.0h2.2v1.2H454.1zM472.0 24.0h1.2v1.2H472.0zM518.8 24.0h2.2v1.2H518.8zM521.8 24.0h1.2v1.2H521.8zM525.8 24.0h1.2v1.2H525.8zM454.1 25.0h2.2v1.2H454.1zM473.0 25.0h1.2v1.2H473.0zM513.8 25.0h2.2v1.2H513.8zM518.8 25.0h2.2v1.2H518.8zM525.8 25.0h1.2v1.2H525.8zM513.8 26.0h1.2v1.2H513.8zM516.8 26.0h1.2v1.2H516.8zM523.8 26.0h1.2v1.2H523.8zM527.8 26.0h2.2v1.2H527.8zM513.8 27.0h1.2v1.2H513.8zM516.8 27.0h1.2v1.2H516.8zM527.8 27.0h1.2v1.2H527.8zM477.0 28.0h1.2v1.2H477.0zM512.8 28.0h1.2v1.2H512.8zM526.8 28.0h1.2v1.2H526.8zM450.1 29.0h1.2v1.2H450.1zM477.0 29.0h1.2v1.2H477.0zM524.8 29.0h1.2v1.2H524.8zM526.8 29.0h1.2v1.2H526.8zM477.0 29.9h1.2v1.2H477.0zM522.8 29.9h5.2v1.2H522.8zM448.1 30.9h1.2v1.2H448.1zM476.0 30.9h1.2v1.2H476.0zM524.8 30.9h6.2v1.2H524.8zM533.7 30.9h2.2v1.2H533.7zM455.1 31.9h3.2v1.2H455.1zM511.8 31.9h1.2v1.2H511.8zM522.8 31.9h2.2v1.2H522.8zM530.8 31.9h1.2v1.2H530.8zM532.7 31.9h3.2v1.2H532.7zM537.7 31.9h1.2v1.2H537.7zM450.1 32.9h1.2v1.2H450.1zM458.1 32.9h1.2v1.2H458.1zM465.0 32.9h2.2v1.2H465.0zM468.0 32.9h1.2v1.2H468.0zM471.0 32.9h1.2v1.2H471.0zM475.0 32.9h1.2v1.2H475.0zM522.8 32.9h1.2v1.2H522.8zM531.8 32.9h4.2v1.2H531.8zM536.7 32.9h1.2v1.2H536.7zM458.1 33.9h1.2v1.2H458.1zM466.0 33.9h1.2v1.2H466.0zM471.0 33.9h1.2v1.2H471.0zM473.0 33.9h1.2v1.2H473.0zM475.0 33.9h2.2v1.2H475.0zM518.8 33.9h2.2v1.2H518.8zM535.7 33.9h1.2v1.2H535.7zM458.1 34.9h1.2v1.2H458.1zM469.0 34.9h2.2v1.2H469.0zM475.0 34.9h1.2v1.2H475.0zM477.0 34.9h1.2v1.2H477.0zM517.8 34.9h1.2v1.2H517.8zM448.1 35.9h1.2v1.2H448.1zM475.0 35.9h1.2v1.2H475.0zM477.0 35.9h1.2v1.2H477.0zM510.8 35.9h1.2v1.2H510.8zM518.8 35.9h1.2v1.2H518.8zM521.8 35.9h1.2v1.2H521.8zM448.1 36.9h1.2v1.2H448.1zM475.0 36.9h1.2v1.2H475.0zM477.0 36.9h1.2v1.2H477.0zM510.8 36.9h1.2v1.2H510.8zM522.8 36.9h1.2v1.2H522.8zM533.7 36.9h1.2v1.2H533.7zM475.0 37.9h1.2v1.2H475.0zM477.0 37.9h1.2v1.2H477.0zM485.9 37.9h2.2v1.2H485.9zM533.7 37.9h1.2v1.2H533.7zM476.0 38.9h3.2v1.2H476.0zM482.0 38.9h6.2v1.2H482.0zM540.7 38.9h3.2v1.2H540.7zM476.0 39.9h2.2v1.2H476.0zM482.0 39.9h2.2v1.2H482.0zM489.9 39.9h1.2v1.2H489.9zM506.9 39.9h1.2v1.2H506.9zM477.0 40.9h1.2v1.2H477.0zM482.0 40.9h1.2v1.2H482.0zM488.9 40.9h1.2v1.2H488.9zM523.8 40.9h1.2v1.2H523.8zM541.7 40.9h1.2v1.2H541.7zM474.0 41.9h2.2v1.2H474.0zM531.8 41.9h1.2v1.2H531.8zM539.7 41.9h1.2v1.2H539.7zM478.0 42.9h2.2v1.2H478.0zM489.9 42.9h1.2v1.2H489.9zM508.8 42.9h1.2v1.2H508.8zM522.8 42.9h1.2v1.2H522.8zM528.8 42.9h2.2v1.2H528.8zM540.7 42.9h1.2v1.2H540.7zM479.0 43.9h1.2v1.2H479.0zM490.9 43.9h1.2v1.2H490.9zM508.8 43.9h2.2v1.2H508.8zM523.8 43.9h1.2v1.2H523.8zM526.8 43.9h1.2v1.2H526.8zM533.7 43.9h2.2v1.2H533.7zM540.7 43.9h1.2v1.2H540.7zM477.0 44.9h1.2v1.2H477.0zM479.0 44.9h1.2v1.2H479.0zM485.9 44.9h2.2v1.2H485.9zM522.8 44.9h1.2v1.2H522.8zM527.8 44.9h1.2v1.2H527.8zM535.7 44.9h2.2v1.2H535.7zM471.0 45.9h1.2v1.2H471.0zM475.0 45.9h1.2v1.2H475.0zM479.0 45.9h5.2v1.2H479.0zM492.9 45.9h1.2v1.2H492.9zM516.8 45.9h1.2v1.2H516.8zM522.8 45.9h1.2v1.2H522.8zM530.8 45.9h1.2v1.2H530.8zM532.7 45.9h1.2v1.2H532.7zM472.0 46.9h1.2v1.2H472.0zM476.0 46.9h2.2v1.2H476.0zM493.9 46.9h1.2v1.2H493.9zM505.9 46.9h2.2v1.2H505.9zM523.8 46.9h1.2v1.2H523.8zM529.8 46.9h1.2v1.2H529.8zM532.7 46.9h1.2v1.2H532.7zM535.7 46.9h2.2v1.2H535.7zM473.0 47.9h1.2v1.2H473.0zM476.0 47.9h1.2v1.2H476.0zM537.7 47.9h2.2v1.2H537.7zM473.0 48.9h1.2v1.2H473.0zM475.0 48.9h2.2v1.2H475.0zM486.9 48.9h3.2v1.2H486.9zM494.9 48.9h2.2v1.2H494.9zM497.9 48.9h1.2v1.2H497.9zM500.9 48.9h1.2v1.2H500.9zM505.9 48.9h2.2v1.2H505.9zM525.8 48.9h1.2v1.2H525.8zM474.0 49.9h3.2v1.2H474.0zM489.9 49.9h1.2v1.2H489.9zM493.9 49.9h3.2v1.2H493.9zM541.7 49.9h1.2v1.2H541.7zM474.0 50.9h3.2v1.2H474.0zM489.9 50.9h1.2v1.2H489.9zM494.9 50.9h1.2v1.2H494.9zM541.7 50.9h1.2v1.2H541.7zM480.0 51.9h3.2v1.2H480.0zM491.9 51.9h1.2v1.2H491.9zM494.9 51.9h1.2v1.2H494.9zM510.8 51.9h1.2v1.2H510.8zM473.0 52.9h1.2v1.2H473.0zM480.0 52.9h2.2v1.2H480.0zM488.9 52.9h2.2v1.2H488.9zM491.9 52.9h1.2v1.2H491.9zM494.9 52.9h1.2v1.2H494.9zM518.8 52.9h1.2v1.2H518.8zM542.7 52.9h1.2v1.2H542.7zM473.0 53.8h1.2v1.2H473.0zM481.0 53.8h1.2v1.2H481.0zM483.0 53.8h2.2v1.2H483.0zM487.9 53.8h1.2v1.2H487.9zM492.9 53.8h3.2v1.2H492.9zM517.8 53.8h2.2v1.2H517.8zM525.8 53.8h1.2v1.2H525.8zM540.7 53.8h1.2v1.2H540.7zM473.0 54.8h1.2v1.2H473.0zM484.9 54.8h2.2v1.2H484.9zM492.9 54.8h4.2v1.2H492.9zM499.9 54.8h1.2v1.2H499.9zM507.9 54.8h1.2v1.2H507.9zM527.8 54.8h1.2v1.2H527.8zM538.7 54.8h2.2v1.2H538.7zM474.0 55.8h1.2v1.2H474.0zM490.9 55.8h2.2v1.2H490.9zM524.8 55.8h1.2v1.2H524.8zM526.8 55.8h2.2v1.2H526.8zM537.7 55.8h1.2v1.2H537.7zM539.7 55.8h2.2v1.2H539.7zM484.0 56.8h1.2v1.2H484.0zM491.9 56.8h1.2v1.2H491.9zM501.9 56.8h1.2v1.2H501.9zM527.8 56.8h1.2v1.2H527.8zM537.7 56.8h1.2v1.2H537.7zM539.7 56.8h2.2v1.2H539.7zM450.1 57.8h1.2v1.2H450.1zM485.9 57.8h1.2v1.2H485.9zM489.9 57.8h1.2v1.2H489.9zM493.9 57.8h1.2v1.2H493.9zM505.9 57.8h1.2v1.2H505.9zM526.8 57.8h2.2v1.2H526.8zM539.7 57.8h2.2v1.2H539.7zM451.1 58.8h1.2v1.2H451.1zM479.0 58.8h1.2v1.2H479.0zM488.9 58.8h1.2v1.2H488.9zM492.9 58.8h4.2v1.2H492.9zM525.8 58.8h2.2v1.2H525.8zM533.7 58.8h1.2v1.2H533.7zM535.7 58.8h2.2v1.2H535.7zM451.1 59.8h1.2v1.2H451.1zM492.9 59.8h6.2v1.2H492.9zM525.8 59.8h1.2v1.2H525.8zM533.7 59.8h1.2v1.2H533.7zM537.7 59.8h1.2v1.2H537.7zM541.7 59.8h2.2v1.2H541.7zM450.1 60.8h1.2v1.2H450.1zM477.0 60.8h1.2v1.2H477.0zM494.9 60.8h4.2v1.2H494.9zM533.7 60.8h1.2v1.2H533.7zM539.7 60.8h1.2v1.2H539.7zM450.1 61.8h1.2v1.2H450.1zM477.0 61.8h1.2v1.2H477.0zM505.9 61.8h1.2v1.2H505.9zM525.8 61.8h1.2v1.2H525.8zM534.7 61.8h2.2v1.2H534.7zM474.0 62.8h3.2v1.2H474.0zM482.0 62.8h1.2v1.2H482.0zM474.0 63.8h2.2v1.2H474.0zM452.1 64.8h1.2v1.2H452.1zM479.0 64.8h1.2v1.2H479.0zM505.9 64.8h1.2v1.2H505.9zM534.7 64.8h1.2v1.2H534.7zM449.1 65.8h1.2v1.2H449.1zM452.1 65.8h2.2v1.2H452.1zM504.9 65.8h1.2v1.2H504.9zM527.8 65.8h1.2v1.2H527.8zM534.7 65.8h3.2v1.2H534.7zM452.1 66.8h2.2v1.2H452.1zM461.0 66.8h1.2v1.2H461.0zM503.9 66.8h1.2v1.2H503.9zM527.8 66.8h1.2v1.2H527.8zM461.0 67.8h1.2v1.2H461.0zM484.0 67.8h1.2v1.2H484.0zM528.8 67.8h1.2v1.2H528.8zM503.9 68.8h1.2v1.2H503.9zM526.8 69.8h1.2v1.2H526.8zM533.7 69.8h4.2v1.2H533.7zM485.9 70.8h1.2v1.2H485.9zM504.9 70.8h1.2v1.2H504.9zM526.8 70.8h1.2v1.2H526.8zM533.7 70.8h2.2v1.2H533.7zM540.7 70.8h1.2v1.2H540.7zM526.8 71.8h2.2v1.2H526.8zM533.7 71.8h2.2v1.2H533.7zM541.7 71.8h1.2v1.2H541.7zM525.8 72.8h2.2v1.2H525.8zM540.7 72.8h3.2v1.2H540.7zM504.9 73.8h1.2v1.2H504.9zM541.7 73.8h1.2v1.2H541.7zM488.9 74.8h1.2v1.2H488.9zM531.8 74.8h1.2v1.2H531.8zM541.7 74.8h1.2v1.2H541.7zM489.9 75.8h1.2v1.2H489.9zM525.8 75.8h3.2v1.2H525.8zM535.7 75.8h2.2v1.2H535.7zM542.7 75.8h1.2v1.2H542.7zM494.9 76.8h3.2v1.2H494.9zM509.8 76.8h1.2v1.2H509.8zM524.8 76.8h1.2v1.2H524.8zM535.7 76.8h1.2v1.2H535.7zM541.7 76.8h1.2v1.2H541.7zM496.9 77.8h4.2v1.2H496.9zM503.9 77.8h1.2v1.2H503.9zM535.7 77.8h1.2v1.2H535.7zM537.7 77.8h2.2v1.2H537.7zM500.9 78.7h1.2v1.2H500.9zM502.9 78.7h2.2v1.2H502.9zM535.7 78.7h1.2v1.2H535.7zM448.1 79.7h1.2v1.2H448.1zM458.1 79.7h1.2v1.2H458.1zM505.9 79.7h1.2v1.2H505.9zM509.8 79.7h1.2v1.2H509.8zM523.8 79.7h2.2v1.2H523.8zM535.7 79.7h1.2v1.2H535.7zM449.1 80.7h1.2v1.2H449.1zM505.9 80.7h1.2v1.2H505.9zM509.8 80.7h1.2v1.2H509.8zM525.8 80.7h3.2v1.2H525.8zM535.7 80.7h1.2v1.2H535.7zM461.0 81.7h1.2v1.2H461.0zM465.0 81.7h1.2v1.2H465.0zM508.8 81.7h2.2v1.2H508.8zM535.7 81.7h1.2v1.2H535.7zM540.7 81.7h1.2v1.2H540.7zM456.1 82.7h2.2v1.2H456.1zM468.0 82.7h1.2v1.2H468.0zM502.9 82.7h2.2v1.2H502.9zM507.9 82.7h1.2v1.2H507.9zM509.8 82.7h1.2v1.2H509.8zM534.7 82.7h1.2v1.2H534.7zM539.7 82.7h1.2v1.2H539.7zM450.1 83.7h2.2v1.2H450.1zM458.1 83.7h1.2v1.2H458.1zM460.1 83.7h2.2v1.2H460.1zM464.0 83.7h1.2v1.2H464.0zM470.0 83.7h1.2v1.2H470.0zM507.9 83.7h2.2v1.2H507.9zM534.7 83.7h1.2v1.2H534.7zM540.7 83.7h1.2v1.2H540.7zM450.1 84.7h1.2v1.2H450.1zM462.0 84.7h1.2v1.2H462.0zM464.0 84.7h1.2v1.2H464.0zM470.0 84.7h2.2v1.2H470.0zM508.8 84.7h1.2v1.2H508.8zM528.8 84.7h2.2v1.2H528.8zM534.7 84.7h1.2v1.2H534.7zM450.1 85.7h1.2v1.2H450.1zM456.1 85.7h2.2v1.2H456.1zM469.0 85.7h1.2v1.2H469.0zM502.9 85.7h1.2v1.2H502.9zM450.1 86.7h1.2v1.2H450.1zM458.1 86.7h1.2v1.2H458.1zM503.9 86.7h3.2v1.2H503.9zM509.8 86.7h1.2v1.2H509.8zM459.1 87.7h1.2v1.2H459.1zM502.9 87.7h1.2v1.2H502.9zM509.8 87.7h2.2v1.2H509.8zM532.7 87.7h1.2v1.2H532.7zM454.1 88.7h1.2v1.2H454.1zM467.0 88.7h1.2v1.2H467.0zM507.9 88.7h1.2v1.2H507.9zM511.8 88.7h1.2v1.2H511.8zM449.1 89.7h1.2v1.2H449.1zM451.1 89.7h1.2v1.2H451.1zM507.9 89.7h4.2v1.2H507.9zM502.9 91.7h1.2v1.2H502.9zM449.1 92.7h1.2v1.2H449.1zM467.0 92.7h1.2v1.2H467.0zM508.8 92.7h1.2v1.2H508.8zM456.1 93.7h2.2v1.2H456.1zM503.9 93.7h2.2v1.2H503.9zM507.9 93.7h2.2v1.2H507.9zM450.1 94.7h1.2v1.2H450.1zM454.1 94.7h1.2v1.2H454.1zM456.1 94.7h1.2v1.2H456.1zM507.9 94.7h1.2v1.2H507.9zM450.1 95.7h2.2v1.2H450.1zM453.1 95.7h1.2v1.2H453.1zM456.1 95.7h1.2v1.2H456.1zM452.1 96.7h2.2v1.2H452.1zM465.0 96.7h1.2v1.2H465.0zM452.1 97.7h5.2v1.2H452.1zM484.9 97.7h3.2v1.2H484.9zM456.1 98.7h1.2v1.2H456.1zM482.0 98.7h4.2v1.2H482.0zM456.1 99.7h1.2v1.2H456.1zM483.0 99.7h2.2v1.2H483.0zM458.1 100.7h2.2v1.2H458.1zM484.9 100.7h2.2v1.2H484.9zM460.1 101.6h1.2v1.2H460.1zM476.0 101.6h1.2v1.2H476.0zM486.9 101.6h1.2v1.2H486.9zM476.0 102.6h1.2v1.2H476.0zM486.9 102.6h1.2v1.2H486.9zM456.1 103.6h1.2v1.2H456.1zM486.9 103.6h1.2v1.2H486.9zM448.1 104.6h1.2v1.2H448.1zM454.1 104.6h3.2v1.2H454.1zM462.0 104.6h1.2v1.2H462.0zM465.0 104.6h1.2v1.2H465.0zM485.9 104.6h1.2v1.2H485.9zM452.1 105.6h4.2v1.2H452.1zM460.1 105.6h2.2v1.2H460.1zM477.0 105.6h1.2v1.2H477.0zM449.1 106.6h1.2v1.2H449.1zM455.1 106.6h1.2v1.2H455.1zM468.0 106.6h1.2v1.2H468.0zM477.0 106.6h1.2v1.2H477.0zM453.1 107.6h1.2v1.2H453.1zM455.1 107.6h2.2v1.2H455.1zM467.0 107.6h1.2v1.2H467.0zM476.0 107.6h1.2v1.2H476.0zM453.1 108.6h1.2v1.2H453.1zM456.1 108.6h2.2v1.2H456.1zM467.0 108.6h1.2v1.2H467.0zM471.0 108.6h1.2v1.2H471.0zM473.0 108.6h1.2v1.2H473.0zM475.0 108.6h1.2v1.2H475.0zM451.1 109.6h1.2v1.2H451.1zM453.1 109.6h1.2v1.2H453.1zM467.0 109.6h1.2v1.2H467.0zM471.0 109.6h1.2v1.2H471.0zM450.1 110.6h1.2v1.2H450.1zM460.1 110.6h1.2v1.2H460.1zM463.0 110.6h6.2v1.2H463.0zM471.0 110.6h1.2v1.2H471.0zM482.0 110.6h3.2v1.2H482.0zM453.1 111.6h1.2v1.2H453.1zM456.1 111.6h2.2v1.2H456.1zM460.1 111.6h3.2v1.2H460.1zM467.0 111.6h2.2v1.2H467.0zM471.0 111.6h2.2v1.2H471.0zM480.0 111.6h2.2v1.2H480.0zM452.1 112.6h2.2v1.2H452.1zM459.1 112.6h1.2v1.2H459.1zM467.0 112.6h2.2v1.2H467.0zM472.0 112.6h3.2v1.2H472.0zM480.0 112.6h2.2v1.2H480.0z"/><path fill="#f3cf3f" d="M458.1 18.0h9.2v1.2H458.1zM516.8 18.0h6.2v1.2H516.8zM458.1 19.0h9.2v1.2H458.1zM517.8 19.0h4.2v1.2H517.8zM459.1 20.0h8.2v1.2H459.1zM460.1 21.0h7.2v1.2H460.1zM461.0 22.0h4.2v1.2H461.0zM461.0 23.0h4.2v1.2H461.0zM467.0 23.0h1.2v1.2H467.0zM461.0 24.0h4.2v1.2H461.0zM466.0 24.0h2.2v1.2H466.0zM461.0 25.0h7.2v1.2H461.0zM461.0 26.0h6.2v1.2H461.0zM460.1 27.0h7.2v1.2H460.1zM459.1 28.0h4.2v1.2H459.1zM459.1 29.0h3.2v1.2H459.1zM494.9 64.8h5.2v1.2H494.9zM493.9 65.8h7.2v1.2H493.9zM494.9 66.8h6.2v1.2H494.9zM494.9 67.8h6.2v1.2H494.9zM493.9 68.8h8.2v1.2H493.9zM492.9 69.8h9.2v1.2H492.9zM492.9 70.8h9.2v1.2H492.9zM491.9 71.8h9.2v1.2H491.9zM491.9 72.8h3.2v1.2H491.9zM496.9 72.8h3.2v1.2H496.9zM492.9 73.8h1.2v1.2H492.9z"/><path fill="#cf872d" d="M467.0 18.0h1.2v1.2H467.0zM515.8 18.0h1.2v1.2H515.8zM524.8 18.0h2.2v1.2H524.8zM467.0 19.0h1.2v1.2H467.0zM516.8 19.0h1.2v1.2H516.8zM521.8 19.0h1.2v1.2H521.8zM517.8 20.0h3.2v1.2H517.8zM522.8 20.0h2.2v1.2H522.8zM459.1 21.0h1.2v1.2H459.1zM516.8 21.0h1.2v1.2H516.8zM458.1 22.0h3.2v1.2H458.1zM515.8 22.0h2.2v1.2H515.8zM459.1 23.0h2.2v1.2H459.1zM516.8 23.0h1.2v1.2H516.8zM460.1 24.0h1.2v1.2H460.1zM460.1 25.0h1.2v1.2H460.1zM460.1 26.0h1.2v1.2H460.1zM471.0 27.0h2.2v1.2H471.0zM456.1 28.0h3.2v1.2H456.1zM463.0 28.0h8.2v1.2H463.0zM456.1 29.0h3.2v1.2H456.1zM462.0 29.0h1.2v1.2H462.0zM465.0 29.0h6.2v1.2H465.0zM516.8 29.0h1.2v1.2H516.8zM460.1 29.9h3.2v1.2H460.1zM469.0 29.9h3.2v1.2H469.0zM469.0 30.9h4.2v1.2H469.0zM541.7 32.9h2.2v1.2H541.7zM541.7 33.9h2.2v1.2H541.7zM524.8 34.9h2.2v1.2H524.8zM542.7 34.9h1.2v1.2H542.7zM525.8 35.9h1.2v1.2H525.8zM542.7 35.9h1.2v1.2H542.7zM512.8 36.9h1.2v1.2H512.8zM525.8 36.9h2.2v1.2H525.8zM512.8 37.9h1.2v1.2H512.8zM512.8 38.9h1.2v1.2H512.8zM512.8 39.9h1.2v1.2H512.8zM486.9 41.9h1.2v1.2H486.9zM516.8 43.9h1.2v1.2H516.8zM514.8 45.9h1.2v1.2H514.8zM514.8 46.9h1.2v1.2H514.8zM513.8 47.9h2.2v1.2H513.8zM529.8 49.9h4.2v1.2H529.8zM529.8 50.9h7.2v1.2H529.8zM529.8 51.9h1.2v1.2H529.8zM537.7 51.9h2.2v1.2H537.7zM529.8 52.9h1.2v1.2H529.8zM531.8 53.8h1.2v1.2H531.8zM531.8 54.8h2.2v1.2H531.8zM501.9 58.8h1.2v1.2H501.9zM501.9 59.8h1.2v1.2H501.9zM530.8 59.8h1.2v1.2H530.8zM448.1 60.8h1.2v1.2H448.1zM500.9 60.8h2.2v1.2H500.9zM529.8 60.8h3.2v1.2H529.8zM448.1 61.8h1.2v1.2H448.1zM487.9 61.8h2.2v1.2H487.9zM501.9 61.8h1.2v1.2H501.9zM529.8 61.8h3.2v1.2H529.8zM448.1 62.8h1.2v1.2H448.1zM485.9 62.8h4.2v1.2H485.9zM497.9 62.8h1.2v1.2H497.9zM530.8 62.8h3.2v1.2H530.8zM542.7 62.8h1.2v1.2H542.7zM448.1 63.8h1.2v1.2H448.1zM485.9 63.8h4.2v1.2H485.9zM492.9 63.8h2.2v1.2H492.9zM495.9 63.8h4.2v1.2H495.9zM530.8 63.8h3.2v1.2H530.8zM486.9 64.8h1.2v1.2H486.9zM490.9 64.8h4.2v1.2H490.9zM499.9 64.8h1.2v1.2H499.9zM529.8 64.8h3.2v1.2H529.8zM490.9 65.8h3.2v1.2H490.9zM500.9 65.8h1.2v1.2H500.9zM530.8 65.8h2.2v1.2H530.8zM489.9 66.8h3.2v1.2H489.9zM493.9 66.8h1.2v1.2H493.9zM500.9 66.8h1.2v1.2H500.9zM541.7 66.8h2.2v1.2H541.7zM489.9 67.8h3.2v1.2H489.9zM500.9 67.8h1.2v1.2H500.9zM541.7 67.8h2.2v1.2H541.7zM492.9 68.8h1.2v1.2H492.9zM501.9 68.8h1.2v1.2H501.9zM501.9 69.8h1.2v1.2H501.9zM490.9 70.8h2.2v1.2H490.9zM501.9 70.8h1.2v1.2H501.9zM490.9 71.8h1.2v1.2H490.9zM500.9 71.8h2.2v1.2H500.9zM531.8 71.8h1.2v1.2H531.8zM490.9 72.8h1.2v1.2H490.9zM494.9 72.8h2.2v1.2H494.9zM499.9 72.8h2.2v1.2H499.9zM490.9 73.8h2.2v1.2H490.9zM493.9 73.8h1.2v1.2H493.9zM497.9 73.8h1.2v1.2H497.9zM491.9 74.8h3.2v1.2H491.9zM499.9 75.8h1.2v1.2H499.9zM529.8 75.8h1.2v1.2H529.8zM529.8 76.8h1.2v1.2H529.8zM505.9 83.7h1.2v1.2H505.9zM505.9 84.7h1.2v1.2H505.9zM448.1 86.7h1.2v1.2H448.1zM457.1 88.7h1.2v1.2H457.1zM457.1 89.7h1.2v1.2H457.1zM462.0 90.7h4.2v1.2H462.0zM463.0 91.7h3.2v1.2H463.0zM448.1 100.7h2.2v1.2H448.1zM448.1 101.6h3.2v1.2H448.1zM482.0 101.6h2.2v1.2H482.0zM449.1 102.6h2.2v1.2H449.1zM482.0 102.6h2.2v1.2H482.0zM480.0 103.6h4.2v1.2H480.0zM480.0 104.6h4.2v1.2H480.0zM480.0 105.6h3.2v1.2H480.0zM480.0 106.6h3.2v1.2H480.0zM465.0 107.6h1.2v1.2H465.0zM461.0 108.6h1.2v1.2H461.0zM486.9 112.6h2.2v1.2H486.9z"/><path fill="#752d09" d="M477.0 18.0h9.2v1.2H477.0zM491.9 18.0h5.2v1.2H491.9zM502.9 18.0h5.2v1.2H502.9zM511.8 18.0h1.2v1.2H511.8zM533.7 18.0h3.2v1.2H533.7zM539.7 18.0h2.2v1.2H539.7zM476.0 19.0h10.2v1.2H476.0zM489.9 19.0h7.2v1.2H489.9zM503.9 19.0h9.2v1.2H503.9zM533.7 19.0h4.2v1.2H533.7zM539.7 19.0h4.2v1.2H539.7zM475.0 20.0h20.1v1.2H475.0zM495.9 20.0h2.2v1.2H495.9zM504.9 20.0h8.2v1.2H504.9zM533.7 20.0h7.2v1.2H533.7zM541.7 20.0h2.2v1.2H541.7zM476.0 21.0h24.1v1.2H476.0zM505.9 21.0h7.2v1.2H505.9zM533.7 21.0h7.2v1.2H533.7zM541.7 21.0h2.2v1.2H541.7zM474.0 22.0h1.2v1.2H474.0zM478.0 22.0h7.2v1.2H478.0zM487.9 22.0h10.2v1.2H487.9zM498.9 22.0h3.2v1.2H498.9zM506.9 22.0h6.2v1.2H506.9zM533.7 22.0h1.2v1.2H533.7zM535.7 22.0h2.2v1.2H535.7zM540.7 22.0h2.2v1.2H540.7zM478.0 23.0h2.2v1.2H478.0zM482.0 23.0h7.2v1.2H482.0zM489.9 23.0h7.2v1.2H489.9zM499.9 23.0h2.2v1.2H499.9zM506.9 23.0h3.2v1.2H506.9zM510.8 23.0h2.2v1.2H510.8zM533.7 23.0h4.2v1.2H533.7zM540.7 23.0h2.2v1.2H540.7zM479.0 24.0h1.2v1.2H479.0zM482.0 24.0h4.2v1.2H482.0zM488.9 24.0h2.2v1.2H488.9zM491.9 24.0h6.2v1.2H491.9zM498.9 24.0h4.2v1.2H498.9zM505.9 24.0h4.2v1.2H505.9zM529.8 24.0h1.2v1.2H529.8zM534.7 24.0h3.2v1.2H534.7zM540.7 24.0h3.2v1.2H540.7zM478.0 25.0h2.2v1.2H478.0zM482.0 25.0h4.2v1.2H482.0zM488.9 25.0h9.2v1.2H488.9zM498.9 25.0h5.2v1.2H498.9zM505.9 25.0h7.2v1.2H505.9zM528.8 25.0h2.2v1.2H528.8zM534.7 25.0h3.2v1.2H534.7zM540.7 25.0h3.2v1.2H540.7zM477.0 26.0h2.2v1.2H477.0zM482.0 26.0h11.2v1.2H482.0zM493.9 26.0h10.2v1.2H493.9zM507.9 26.0h3.2v1.2H507.9zM511.8 26.0h2.2v1.2H511.8zM533.7 26.0h2.2v1.2H533.7zM537.7 26.0h2.2v1.2H537.7zM482.0 27.0h11.2v1.2H482.0zM493.9 27.0h2.2v1.2H493.9zM496.9 27.0h9.2v1.2H496.9zM507.9 27.0h2.2v1.2H507.9zM512.8 27.0h1.2v1.2H512.8zM528.8 27.0h7.2v1.2H528.8zM537.7 27.0h2.2v1.2H537.7zM478.0 28.0h3.2v1.2H478.0zM482.0 28.0h13.1v1.2H482.0zM500.9 28.0h2.2v1.2H500.9zM505.9 28.0h3.2v1.2H505.9zM511.8 28.0h1.2v1.2H511.8zM534.7 28.0h1.2v1.2H534.7zM536.7 28.0h3.2v1.2H536.7zM478.0 29.0h4.2v1.2H478.0zM484.0 29.0h11.2v1.2H484.0zM500.9 29.0h2.2v1.2H500.9zM505.9 29.0h2.2v1.2H505.9zM511.8 29.0h1.2v1.2H511.8zM535.7 29.0h4.2v1.2H535.7zM478.0 29.9h20.1v1.2H478.0zM505.9 29.9h2.2v1.2H505.9zM534.7 29.9h3.2v1.2H534.7zM538.7 29.9h1.2v1.2H538.7zM478.0 30.9h2.2v1.2H478.0zM481.0 30.9h6.2v1.2H481.0zM487.9 30.9h5.2v1.2H487.9zM496.9 30.9h4.2v1.2H496.9zM503.9 30.9h4.2v1.2H503.9zM482.0 31.9h6.2v1.2H482.0zM490.9 31.9h4.2v1.2H490.9zM496.9 31.9h5.2v1.2H496.9zM503.9 31.9h4.2v1.2H503.9zM482.0 32.9h3.2v1.2H482.0zM485.9 32.9h2.2v1.2H485.9zM492.9 32.9h3.2v1.2H492.9zM496.9 32.9h12.1v1.2H496.9zM453.1 33.9h1.2v1.2H453.1zM484.0 33.9h4.2v1.2H484.0zM492.9 33.9h16.1v1.2H492.9zM452.1 34.9h2.2v1.2H452.1zM463.0 34.9h2.2v1.2H463.0zM466.0 34.9h2.2v1.2H466.0zM484.9 34.9h2.2v1.2H484.9zM495.9 34.9h10.2v1.2H495.9zM506.9 34.9h1.2v1.2H506.9zM452.1 35.9h2.2v1.2H452.1zM458.1 35.9h13.1v1.2H458.1zM484.9 35.9h2.2v1.2H484.9zM488.9 35.9h1.2v1.2H488.9zM492.9 35.9h12.1v1.2H492.9zM506.9 35.9h1.2v1.2H506.9zM452.1 36.9h6.2v1.2H452.1zM462.0 36.9h3.2v1.2H462.0zM467.0 36.9h2.2v1.2H467.0zM471.0 36.9h2.2v1.2H471.0zM483.0 36.9h4.2v1.2H483.0zM487.9 36.9h14.1v1.2H487.9zM506.9 36.9h1.2v1.2H506.9zM452.1 37.9h2.2v1.2H452.1zM455.1 37.9h3.2v1.2H455.1zM463.0 37.9h2.2v1.2H463.0zM467.0 37.9h2.2v1.2H467.0zM483.0 37.9h2.2v1.2H483.0zM488.9 37.9h2.2v1.2H488.9zM494.9 37.9h5.2v1.2H494.9zM500.9 37.9h3.2v1.2H500.9zM506.9 37.9h2.2v1.2H506.9zM448.1 38.9h1.2v1.2H448.1zM452.1 38.9h5.2v1.2H452.1zM465.0 38.9h5.2v1.2H465.0zM489.9 38.9h2.2v1.2H489.9zM500.9 38.9h7.2v1.2H500.9zM448.1 39.9h2.2v1.2H448.1zM452.1 39.9h5.2v1.2H452.1zM465.0 39.9h3.2v1.2H465.0zM504.9 39.9h2.2v1.2H504.9zM448.1 40.9h1.2v1.2H448.1zM452.1 40.9h4.2v1.2H452.1zM465.0 40.9h2.2v1.2H465.0zM499.9 40.9h2.2v1.2H499.9zM503.9 40.9h2.2v1.2H503.9zM451.1 41.9h5.2v1.2H451.1zM463.0 41.9h5.2v1.2H463.0zM499.9 41.9h1.2v1.2H499.9zM503.9 41.9h2.2v1.2H503.9zM450.1 42.9h6.2v1.2H450.1zM460.1 42.9h3.2v1.2H460.1zM464.0 42.9h5.2v1.2H464.0zM471.0 42.9h2.2v1.2H471.0zM502.9 42.9h5.2v1.2H502.9zM449.1 43.9h12.1v1.2H449.1zM462.0 43.9h1.2v1.2H462.0zM464.0 43.9h1.2v1.2H464.0zM468.0 43.9h4.2v1.2H468.0zM502.9 43.9h1.2v1.2H502.9zM504.9 43.9h1.2v1.2H504.9zM449.1 44.9h16.1v1.2H449.1zM467.0 44.9h4.2v1.2H467.0zM502.9 44.9h1.2v1.2H502.9zM504.9 44.9h4.2v1.2H504.9zM448.1 45.9h1.2v1.2H448.1zM451.1 45.9h8.2v1.2H451.1zM460.1 45.9h3.2v1.2H460.1zM467.0 45.9h3.2v1.2H467.0zM493.9 45.9h1.2v1.2H493.9zM499.9 45.9h4.2v1.2H499.9zM448.1 46.9h11.2v1.2H448.1zM460.1 46.9h3.2v1.2H460.1zM467.0 46.9h5.2v1.2H467.0zM494.9 46.9h1.2v1.2H494.9zM499.9 46.9h6.2v1.2H499.9zM448.1 47.9h10.2v1.2H448.1zM463.0 47.9h2.2v1.2H463.0zM467.0 47.9h6.2v1.2H467.0zM494.9 47.9h2.2v1.2H494.9zM498.9 47.9h3.2v1.2H498.9zM448.1 48.9h10.2v1.2H448.1zM463.0 48.9h10.2v1.2H463.0zM448.1 49.9h1.2v1.2H448.1zM452.1 49.9h5.2v1.2H452.1zM461.0 49.9h9.2v1.2H461.0zM452.1 50.9h5.2v1.2H452.1zM461.0 50.9h4.2v1.2H461.0zM466.0 50.9h3.2v1.2H466.0zM454.1 51.9h5.2v1.2H454.1zM463.0 51.9h4.2v1.2H463.0zM473.0 51.9h1.2v1.2H473.0zM454.1 52.9h5.2v1.2H454.1zM462.0 52.9h5.2v1.2H462.0zM472.0 52.9h1.2v1.2H472.0zM449.1 53.8h9.2v1.2H449.1zM460.1 53.8h5.2v1.2H460.1zM472.0 53.8h1.2v1.2H472.0zM510.8 53.8h7.2v1.2H510.8zM448.1 54.8h16.1v1.2H448.1zM467.0 54.8h1.2v1.2H467.0zM471.0 54.8h2.2v1.2H471.0zM513.8 54.8h7.2v1.2H513.8zM448.1 55.8h23.1v1.2H448.1zM516.8 55.8h2.2v1.2H516.8zM519.8 55.8h5.2v1.2H519.8zM449.1 56.8h9.2v1.2H449.1zM461.0 56.8h2.2v1.2H461.0zM464.0 56.8h7.2v1.2H464.0zM516.8 56.8h2.2v1.2H516.8zM522.8 56.8h2.2v1.2H522.8zM451.1 57.8h1.2v1.2H451.1zM457.1 57.8h6.2v1.2H457.1zM464.0 57.8h6.2v1.2H464.0zM506.9 57.8h1.2v1.2H506.9zM518.8 57.8h2.2v1.2H518.8zM524.8 57.8h1.2v1.2H524.8zM458.1 58.8h3.2v1.2H458.1zM462.0 58.8h7.2v1.2H462.0zM471.0 58.8h3.2v1.2H471.0zM507.9 58.8h2.2v1.2H507.9zM513.8 58.8h2.2v1.2H513.8zM518.8 58.8h2.2v1.2H518.8zM524.8 58.8h1.2v1.2H524.8zM463.0 59.8h6.2v1.2H463.0zM472.0 59.8h1.2v1.2H472.0zM507.9 59.8h13.1v1.2H507.9zM523.8 59.8h2.2v1.2H523.8zM454.1 60.8h4.2v1.2H454.1zM465.0 60.8h4.2v1.2H465.0zM506.9 60.8h3.2v1.2H506.9zM518.8 60.8h2.2v1.2H518.8zM522.8 60.8h3.2v1.2H522.8zM465.0 61.8h4.2v1.2H465.0zM518.8 61.8h1.2v1.2H518.8zM523.8 61.8h2.2v1.2H523.8zM467.0 62.8h2.2v1.2H467.0zM518.8 62.8h1.2v1.2H518.8zM525.8 62.8h1.2v1.2H525.8zM459.1 63.8h3.2v1.2H459.1zM517.8 63.8h2.2v1.2H517.8zM525.8 63.8h1.2v1.2H525.8zM453.1 64.8h6.2v1.2H453.1zM460.1 64.8h3.2v1.2H460.1zM469.0 64.8h6.2v1.2H469.0zM506.9 64.8h1.2v1.2H506.9zM509.8 64.8h2.2v1.2H509.8zM516.8 64.8h2.2v1.2H516.8zM522.8 64.8h4.2v1.2H522.8zM454.1 65.8h7.2v1.2H454.1zM462.0 65.8h2.2v1.2H462.0zM465.0 65.8h1.2v1.2H465.0zM505.9 65.8h2.2v1.2H505.9zM508.8 65.8h5.2v1.2H508.8zM516.8 65.8h2.2v1.2H516.8zM522.8 65.8h4.2v1.2H522.8zM448.1 66.8h1.2v1.2H448.1zM454.1 66.8h6.2v1.2H454.1zM462.0 66.8h6.2v1.2H462.0zM481.0 66.8h1.2v1.2H481.0zM507.9 66.8h5.2v1.2H507.9zM516.8 66.8h4.2v1.2H516.8zM524.8 66.8h3.2v1.2H524.8zM454.1 67.8h5.2v1.2H454.1zM463.0 67.8h5.2v1.2H463.0zM482.0 67.8h1.2v1.2H482.0zM507.9 67.8h2.2v1.2H507.9zM510.8 67.8h2.2v1.2H510.8zM516.8 67.8h4.2v1.2H516.8zM524.8 67.8h3.2v1.2H524.8zM452.1 68.8h14.1v1.2H452.1zM482.0 68.8h3.2v1.2H482.0zM509.8 68.8h3.2v1.2H509.8zM513.8 68.8h6.2v1.2H513.8zM520.8 68.8h2.2v1.2H520.8zM526.8 68.8h1.2v1.2H526.8zM452.1 69.8h14.1v1.2H452.1zM476.0 69.8h1.2v1.2H476.0zM482.0 69.8h2.2v1.2H482.0zM505.9 69.8h1.2v1.2H505.9zM509.8 69.8h3.2v1.2H509.8zM513.8 69.8h5.2v1.2H513.8zM520.8 69.8h2.2v1.2H520.8zM448.1 70.8h1.2v1.2H448.1zM454.1 70.8h13.1v1.2H454.1zM472.0 70.8h6.2v1.2H472.0zM505.9 70.8h2.2v1.2H505.9zM509.8 70.8h2.2v1.2H509.8zM513.8 70.8h10.2v1.2H513.8zM524.8 70.8h2.2v1.2H524.8zM448.1 71.8h2.2v1.2H448.1zM454.1 71.8h5.2v1.2H454.1zM460.1 71.8h3.2v1.2H460.1zM465.0 71.8h4.2v1.2H465.0zM471.0 71.8h2.2v1.2H471.0zM477.0 71.8h2.2v1.2H477.0zM485.9 71.8h1.2v1.2H485.9zM505.9 71.8h2.2v1.2H505.9zM509.8 71.8h1.2v1.2H509.8zM514.8 71.8h12.1v1.2H514.8zM448.1 72.8h2.2v1.2H448.1zM458.1 72.8h5.2v1.2H458.1zM467.0 72.8h7.2v1.2H467.0zM478.0 72.8h1.2v1.2H478.0zM485.9 72.8h1.2v1.2H485.9zM505.9 72.8h4.2v1.2H505.9zM515.8 72.8h5.2v1.2H515.8zM521.8 72.8h4.2v1.2H521.8zM448.1 73.8h3.2v1.2H448.1zM459.1 73.8h2.2v1.2H459.1zM468.0 73.8h7.2v1.2H468.0zM477.0 73.8h1.2v1.2H477.0zM485.9 73.8h1.2v1.2H485.9zM506.9 73.8h2.2v1.2H506.9zM516.8 73.8h2.2v1.2H516.8zM522.8 73.8h2.2v1.2H522.8zM448.1 74.8h4.2v1.2H448.1zM458.1 74.8h5.2v1.2H458.1zM468.0 74.8h7.2v1.2H468.0zM477.0 74.8h2.2v1.2H477.0zM486.9 74.8h1.2v1.2H486.9zM506.9 74.8h3.2v1.2H506.9zM512.8 74.8h1.2v1.2H512.8zM515.8 74.8h3.2v1.2H515.8zM448.1 75.8h2.2v1.2H448.1zM451.1 75.8h2.2v1.2H451.1zM457.1 75.8h2.2v1.2H457.1zM460.1 75.8h1.2v1.2H460.1zM463.0 75.8h2.2v1.2H463.0zM467.0 75.8h4.2v1.2H467.0zM472.0 75.8h7.2v1.2H472.0zM480.0 75.8h1.2v1.2H480.0zM482.0 75.8h4.2v1.2H482.0zM506.9 75.8h3.2v1.2H506.9zM511.8 75.8h9.2v1.2H511.8zM524.8 75.8h1.2v1.2H524.8zM448.1 76.8h6.2v1.2H448.1zM456.1 76.8h3.2v1.2H456.1zM460.1 76.8h10.2v1.2H460.1zM473.0 76.8h14.1v1.2H473.0zM506.9 76.8h3.2v1.2H506.9zM511.8 76.8h2.2v1.2H511.8zM517.8 76.8h2.2v1.2H517.8zM449.1 77.8h5.2v1.2H449.1zM455.1 77.8h13.1v1.2H455.1zM472.0 77.8h1.2v1.2H472.0zM475.0 77.8h7.2v1.2H475.0zM485.9 77.8h6.2v1.2H485.9zM510.8 77.8h2.2v1.2H510.8zM516.8 77.8h2.2v1.2H516.8zM449.1 78.7h17.1v1.2H449.1zM475.0 78.7h6.2v1.2H475.0zM485.9 78.7h7.2v1.2H485.9zM493.9 78.7h5.2v1.2H493.9zM517.8 78.7h1.2v1.2H517.8zM449.1 79.7h5.2v1.2H449.1zM456.1 79.7h2.2v1.2H456.1zM462.0 79.7h1.2v1.2H462.0zM464.0 79.7h4.2v1.2H464.0zM473.0 79.7h3.2v1.2H473.0zM477.0 79.7h5.2v1.2H477.0zM484.0 79.7h7.2v1.2H484.0zM491.9 79.7h5.2v1.2H491.9zM517.8 79.7h3.2v1.2H517.8zM452.1 80.7h2.2v1.2H452.1zM456.1 80.7h2.2v1.2H456.1zM462.0 80.7h1.2v1.2H462.0zM465.0 80.7h3.2v1.2H465.0zM473.0 80.7h3.2v1.2H473.0zM478.0 80.7h4.2v1.2H478.0zM484.0 80.7h7.2v1.2H484.0zM491.9 80.7h5.2v1.2H491.9zM517.8 80.7h5.2v1.2H517.8zM466.0 81.7h5.2v1.2H466.0zM476.0 81.7h1.2v1.2H476.0zM479.0 81.7h5.2v1.2H479.0zM485.9 81.7h7.2v1.2H485.9zM493.9 81.7h2.2v1.2H493.9zM499.9 81.7h3.2v1.2H499.9zM511.8 81.7h1.2v1.2H511.8zM518.8 81.7h4.2v1.2H518.8zM470.0 82.7h2.2v1.2H470.0zM476.0 82.7h1.2v1.2H476.0zM483.0 82.7h1.2v1.2H483.0zM489.9 82.7h3.2v1.2H489.9zM493.9 82.7h1.2v1.2H493.9zM499.9 82.7h2.2v1.2H499.9zM512.8 82.7h3.2v1.2H512.8zM518.8 82.7h4.2v1.2H518.8zM525.8 82.7h2.2v1.2H525.8zM471.0 83.7h2.2v1.2H471.0zM481.0 83.7h3.2v1.2H481.0zM490.9 83.7h1.2v1.2H490.9zM493.9 83.7h2.2v1.2H493.9zM501.9 83.7h1.2v1.2H501.9zM512.8 83.7h2.2v1.2H512.8zM516.8 83.7h10.2v1.2H516.8zM527.8 83.7h1.2v1.2H527.8zM472.0 84.7h1.2v1.2H472.0zM481.0 84.7h3.2v1.2H481.0zM493.9 84.7h2.2v1.2H493.9zM501.9 84.7h1.2v1.2H501.9zM512.8 84.7h2.2v1.2H512.8zM516.8 84.7h7.2v1.2H516.8zM527.8 84.7h1.2v1.2H527.8zM540.7 84.7h1.2v1.2H540.7zM471.0 85.7h2.2v1.2H471.0zM479.0 85.7h5.2v1.2H479.0zM485.9 85.7h2.2v1.2H485.9zM490.9 85.7h5.2v1.2H490.9zM501.9 85.7h1.2v1.2H501.9zM513.8 85.7h7.2v1.2H513.8zM521.8 85.7h3.2v1.2H521.8zM528.8 85.7h1.2v1.2H528.8zM538.7 85.7h5.2v1.2H538.7zM471.0 86.7h2.2v1.2H471.0zM478.0 86.7h4.2v1.2H478.0zM485.9 86.7h3.2v1.2H485.9zM489.9 86.7h4.2v1.2H489.9zM513.8 86.7h3.2v1.2H513.8zM518.8 86.7h1.2v1.2H518.8zM523.8 86.7h1.2v1.2H523.8zM529.8 86.7h1.2v1.2H529.8zM534.7 86.7h8.2v1.2H534.7zM476.0 87.7h6.2v1.2H476.0zM483.0 87.7h12.1v1.2H483.0zM501.9 87.7h1.2v1.2H501.9zM513.8 87.7h7.2v1.2H513.8zM523.8 87.7h2.2v1.2H523.8zM528.8 87.7h2.2v1.2H528.8zM533.7 87.7h10.2v1.2H533.7zM474.0 88.7h6.2v1.2H474.0zM482.0 88.7h11.2v1.2H482.0zM493.9 88.7h9.2v1.2H493.9zM512.8 88.7h8.2v1.2H512.8zM523.8 88.7h3.2v1.2H523.8zM528.8 88.7h1.2v1.2H528.8zM530.8 88.7h5.2v1.2H530.8zM537.7 88.7h1.2v1.2H537.7zM539.7 88.7h3.2v1.2H539.7zM474.0 89.7h5.2v1.2H474.0zM483.0 89.7h3.2v1.2H483.0zM487.9 89.7h3.2v1.2H487.9zM491.9 89.7h5.2v1.2H491.9zM500.9 89.7h1.2v1.2H500.9zM512.8 89.7h8.2v1.2H512.8zM522.8 89.7h4.2v1.2H522.8zM528.8 89.7h15.1v1.2H528.8zM473.0 90.7h8.2v1.2H473.0zM483.0 90.7h2.2v1.2H483.0zM486.9 90.7h4.2v1.2H486.9zM491.9 90.7h4.2v1.2H491.9zM513.8 90.7h1.2v1.2H513.8zM515.8 90.7h5.2v1.2H515.8zM521.8 90.7h1.2v1.2H521.8zM524.8 90.7h5.2v1.2H524.8zM530.8 90.7h1.2v1.2H530.8zM533.7 90.7h10.2v1.2H533.7zM473.0 91.7h12.1v1.2H473.0zM485.9 91.7h10.2v1.2H485.9zM500.9 91.7h1.2v1.2H500.9zM513.8 91.7h1.2v1.2H513.8zM515.8 91.7h7.2v1.2H515.8zM524.8 91.7h5.2v1.2H524.8zM530.8 91.7h1.2v1.2H530.8zM532.7 91.7h8.2v1.2H532.7zM541.7 91.7h2.2v1.2H541.7zM474.0 92.7h4.2v1.2H474.0zM479.0 92.7h14.1v1.2H479.0zM494.9 92.7h2.2v1.2H494.9zM498.9 92.7h3.2v1.2H498.9zM512.8 92.7h2.2v1.2H512.8zM515.8 92.7h1.2v1.2H515.8zM517.8 92.7h9.2v1.2H517.8zM530.8 92.7h10.2v1.2H530.8zM542.7 92.7h1.2v1.2H542.7zM476.0 93.7h1.2v1.2H476.0zM480.0 93.7h2.2v1.2H480.0zM484.0 93.7h1.2v1.2H484.0zM490.9 93.7h1.2v1.2H490.9zM494.9 93.7h6.2v1.2H494.9zM512.8 93.7h2.2v1.2H512.8zM515.8 93.7h1.2v1.2H515.8zM517.8 93.7h3.2v1.2H517.8zM522.8 93.7h5.2v1.2H522.8zM531.8 93.7h9.2v1.2H531.8zM468.0 94.7h1.2v1.2H468.0zM476.0 94.7h1.2v1.2H476.0zM484.0 94.7h2.2v1.2H484.0zM490.9 94.7h1.2v1.2H490.9zM494.9 94.7h2.2v1.2H494.9zM512.8 94.7h12.1v1.2H512.8zM526.8 94.7h1.2v1.2H526.8zM531.8 94.7h5.2v1.2H531.8zM539.7 94.7h2.2v1.2H539.7zM458.1 95.7h3.2v1.2H458.1zM468.0 95.7h1.2v1.2H468.0zM476.0 95.7h1.2v1.2H476.0zM484.9 95.7h1.2v1.2H484.9zM490.9 95.7h1.2v1.2H490.9zM494.9 95.7h2.2v1.2H494.9zM501.9 95.7h1.2v1.2H501.9zM510.8 95.7h1.2v1.2H510.8zM515.8 95.7h1.2v1.2H515.8zM517.8 95.7h6.2v1.2H517.8zM526.8 95.7h2.2v1.2H526.8zM531.8 95.7h2.2v1.2H531.8zM534.7 95.7h1.2v1.2H534.7zM540.7 95.7h1.2v1.2H540.7zM456.1 96.7h3.2v1.2H456.1zM460.1 96.7h3.2v1.2H460.1zM467.0 96.7h2.2v1.2H467.0zM484.0 96.7h2.2v1.2H484.0zM494.9 96.7h3.2v1.2H494.9zM501.9 96.7h1.2v1.2H501.9zM513.8 96.7h1.2v1.2H513.8zM515.8 96.7h3.2v1.2H515.8zM519.8 96.7h3.2v1.2H519.8zM527.8 96.7h2.2v1.2H527.8zM533.7 96.7h2.2v1.2H533.7zM539.7 96.7h3.2v1.2H539.7zM457.1 97.7h1.2v1.2H457.1zM460.1 97.7h5.2v1.2H460.1zM466.0 97.7h2.2v1.2H466.0zM483.0 97.7h2.2v1.2H483.0zM495.9 97.7h4.2v1.2H495.9zM500.9 97.7h2.2v1.2H500.9zM512.8 97.7h1.2v1.2H512.8zM520.8 97.7h3.2v1.2H520.8zM527.8 97.7h4.2v1.2H527.8zM532.7 97.7h2.2v1.2H532.7zM539.7 97.7h4.2v1.2H539.7zM457.1 98.7h8.2v1.2H457.1zM466.0 98.7h2.2v1.2H466.0zM469.0 98.7h5.2v1.2H469.0zM478.0 98.7h1.2v1.2H478.0zM486.9 98.7h2.2v1.2H486.9zM494.9 98.7h8.2v1.2H494.9zM507.9 98.7h6.2v1.2H507.9zM522.8 98.7h13.1v1.2H522.8zM539.7 98.7h4.2v1.2H539.7zM458.1 99.7h7.2v1.2H458.1zM466.0 99.7h1.2v1.2H466.0zM469.0 99.7h1.2v1.2H469.0zM471.0 99.7h5.2v1.2H471.0zM477.0 99.7h1.2v1.2H477.0zM486.9 99.7h12.1v1.2H486.9zM500.9 99.7h2.2v1.2H500.9zM505.9 99.7h3.2v1.2H505.9zM511.8 99.7h2.2v1.2H511.8zM530.8 99.7h5.2v1.2H530.8zM539.7 99.7h4.2v1.2H539.7zM461.0 100.7h6.2v1.2H461.0zM468.0 100.7h2.2v1.2H468.0zM473.0 100.7h4.2v1.2H473.0zM487.9 100.7h4.2v1.2H487.9zM499.9 100.7h2.2v1.2H499.9zM506.9 100.7h7.2v1.2H506.9zM529.8 100.7h5.2v1.2H529.8zM539.7 100.7h4.2v1.2H539.7zM462.0 101.6h5.2v1.2H462.0zM469.0 101.6h1.2v1.2H469.0zM472.0 101.6h4.2v1.2H472.0zM487.9 101.6h4.2v1.2H487.9zM498.9 101.6h2.2v1.2H498.9zM508.8 101.6h5.2v1.2H508.8zM528.8 101.6h5.2v1.2H528.8zM540.7 101.6h3.2v1.2H540.7zM462.0 102.6h5.2v1.2H462.0zM468.0 102.6h2.2v1.2H468.0zM471.0 102.6h5.2v1.2H471.0zM487.9 102.6h3.2v1.2H487.9zM499.9 102.6h1.2v1.2H499.9zM506.9 102.6h7.2v1.2H506.9zM528.8 102.6h5.2v1.2H528.8zM539.7 102.6h4.2v1.2H539.7zM462.0 103.6h14.1v1.2H462.0zM487.9 103.6h1.2v1.2H487.9zM500.9 103.6h2.2v1.2H500.9zM505.9 103.6h4.2v1.2H505.9zM511.8 103.6h1.2v1.2H511.8zM513.8 103.6h5.2v1.2H513.8zM528.8 103.6h1.2v1.2H528.8zM533.7 103.6h7.2v1.2H533.7zM541.7 103.6h2.2v1.2H541.7zM467.0 104.6h8.2v1.2H467.0zM487.9 104.6h2.2v1.2H487.9zM500.9 104.6h3.2v1.2H500.9zM504.9 104.6h5.2v1.2H504.9zM511.8 104.6h8.2v1.2H511.8zM528.8 104.6h1.2v1.2H528.8zM533.7 104.6h3.2v1.2H533.7zM541.7 104.6h1.2v1.2H541.7zM468.0 105.6h1.2v1.2H468.0zM488.9 105.6h8.2v1.2H488.9zM498.9 105.6h2.2v1.2H498.9zM502.9 105.6h3.2v1.2H502.9zM507.9 105.6h2.2v1.2H507.9zM513.8 105.6h6.2v1.2H513.8zM528.8 105.6h2.2v1.2H528.8zM534.7 105.6h2.2v1.2H534.7zM540.7 105.6h2.2v1.2H540.7zM488.9 106.6h8.2v1.2H488.9zM498.9 106.6h2.2v1.2H498.9zM503.9 106.6h2.2v1.2H503.9zM513.8 106.6h6.2v1.2H513.8zM528.8 106.6h2.2v1.2H528.8zM534.7 106.6h2.2v1.2H534.7zM540.7 106.6h3.2v1.2H540.7zM487.9 107.6h8.2v1.2H487.9zM496.9 107.6h2.2v1.2H496.9zM502.9 107.6h3.2v1.2H502.9zM513.8 107.6h3.2v1.2H513.8zM528.8 107.6h2.2v1.2H528.8zM533.7 107.6h1.2v1.2H533.7zM540.7 107.6h3.2v1.2H540.7zM490.9 108.6h5.2v1.2H490.9zM496.9 108.6h2.2v1.2H496.9zM501.9 108.6h2.2v1.2H501.9zM504.9 108.6h1.2v1.2H504.9zM513.8 108.6h2.2v1.2H513.8zM529.8 108.6h1.2v1.2H529.8zM533.7 108.6h1.2v1.2H533.7zM539.7 108.6h4.2v1.2H539.7zM489.9 109.6h9.2v1.2H489.9zM500.9 109.6h5.2v1.2H500.9zM507.9 109.6h1.2v1.2H507.9zM512.8 109.6h2.2v1.2H512.8zM518.8 109.6h1.2v1.2H518.8zM528.8 109.6h15.1v1.2H528.8zM489.9 110.6h1.2v1.2H489.9zM495.9 110.6h3.2v1.2H495.9zM500.9 110.6h1.2v1.2H500.9zM503.9 110.6h3.2v1.2H503.9zM507.9 110.6h7.2v1.2H507.9zM518.8 110.6h2.2v1.2H518.8zM528.8 110.6h5.2v1.2H528.8zM535.7 110.6h8.2v1.2H535.7zM493.9 111.6h3.2v1.2H493.9zM500.9 111.6h1.2v1.2H500.9zM505.9 111.6h2.2v1.2H505.9zM510.8 111.6h3.2v1.2H510.8zM518.8 111.6h3.2v1.2H518.8zM530.8 111.6h10.2v1.2H530.8zM541.7 111.6h2.2v1.2H541.7zM493.9 112.6h2.2v1.2H493.9zM500.9 112.6h2.2v1.2H500.9zM506.9 112.6h1.2v1.2H506.9zM510.8 112.6h3.2v1.2H510.8zM519.8 112.6h2.2v1.2H519.8zM530.8 112.6h10.2v1.2H530.8zM542.7 112.6h1.2v1.2H542.7z"/><path fill="#bd631b" d="M529.8 18.0h1.2v1.2H529.8zM450.1 19.0h3.2v1.2H450.1zM470.0 19.0h1.2v1.2H470.0zM452.1 20.0h1.2v1.2H452.1zM512.8 20.0h1.2v1.2H512.8zM527.8 20.0h1.2v1.2H527.8zM452.1 21.0h1.2v1.2H452.1zM471.0 21.0h1.2v1.2H471.0zM512.8 21.0h1.2v1.2H512.8zM470.0 22.0h2.2v1.2H470.0zM471.0 23.0h3.2v1.2H471.0zM473.0 24.0h1.2v1.2H473.0zM520.8 24.0h1.2v1.2H520.8zM528.8 24.0h1.2v1.2H528.8zM474.0 25.0h1.2v1.2H474.0zM520.8 25.0h2.2v1.2H520.8zM475.0 26.0h1.2v1.2H475.0zM520.8 26.0h3.2v1.2H520.8zM476.0 27.0h2.2v1.2H476.0zM520.8 27.0h4.2v1.2H520.8zM527.8 28.0h1.2v1.2H527.8zM525.8 29.0h1.2v1.2H525.8zM527.8 29.0h1.2v1.2H527.8zM527.8 29.9h1.2v1.2H527.8zM537.7 29.9h1.2v1.2H537.7zM477.0 30.9h1.2v1.2H477.0zM522.8 30.9h2.2v1.2H522.8zM535.7 30.9h5.2v1.2H535.7zM541.7 30.9h1.2v1.2H541.7zM476.0 31.9h1.2v1.2H476.0zM531.8 31.9h1.2v1.2H531.8zM535.7 31.9h2.2v1.2H535.7zM454.1 32.9h4.2v1.2H454.1zM467.0 32.9h1.2v1.2H467.0zM472.0 32.9h1.2v1.2H472.0zM535.7 32.9h1.2v1.2H535.7zM467.0 33.9h2.2v1.2H467.0zM472.0 33.9h1.2v1.2H472.0zM468.0 34.9h1.2v1.2H468.0zM471.0 34.9h4.2v1.2H471.0zM510.8 34.9h1.2v1.2H510.8zM518.8 34.9h2.2v1.2H518.8zM521.8 34.9h1.2v1.2H521.8zM471.0 35.9h4.2v1.2H471.0zM519.8 35.9h2.2v1.2H519.8zM509.8 36.9h1.2v1.2H509.8zM484.9 37.9h1.2v1.2H484.9zM487.9 37.9h1.2v1.2H487.9zM508.8 37.9h2.2v1.2H508.8zM540.7 39.9h1.2v1.2H540.7zM476.0 40.9h1.2v1.2H476.0zM489.9 40.9h1.2v1.2H489.9zM540.7 40.9h1.2v1.2H540.7zM476.0 41.9h1.2v1.2H476.0zM488.9 41.9h2.2v1.2H488.9zM522.8 41.9h2.2v1.2H522.8zM540.7 41.9h1.2v1.2H540.7zM490.9 42.9h1.2v1.2H490.9zM507.9 42.9h1.2v1.2H507.9zM523.8 42.9h1.2v1.2H523.8zM478.0 43.9h1.2v1.2H478.0zM485.9 43.9h2.2v1.2H485.9zM491.9 43.9h1.2v1.2H491.9zM507.9 43.9h1.2v1.2H507.9zM527.8 43.9h3.2v1.2H527.8zM478.0 44.9h1.2v1.2H478.0zM492.9 44.9h1.2v1.2H492.9zM508.8 44.9h1.2v1.2H508.8zM523.8 44.9h1.2v1.2H523.8zM528.8 44.9h2.2v1.2H528.8zM533.7 44.9h2.2v1.2H533.7zM476.0 45.9h3.2v1.2H476.0zM508.8 45.9h1.2v1.2H508.8zM528.8 45.9h2.2v1.2H528.8zM533.7 45.9h6.2v1.2H533.7zM507.9 46.9h2.2v1.2H507.9zM526.8 46.9h1.2v1.2H526.8zM533.7 46.9h2.2v1.2H533.7zM537.7 46.9h2.2v1.2H537.7zM505.9 47.9h3.2v1.2H505.9zM524.8 47.9h2.2v1.2H524.8zM496.9 48.9h1.2v1.2H496.9zM501.9 48.9h4.2v1.2H501.9zM484.0 49.9h1.2v1.2H484.0zM501.9 49.9h1.2v1.2H501.9zM542.7 49.9h1.2v1.2H542.7zM484.0 50.9h1.2v1.2H484.0zM542.7 50.9h1.2v1.2H542.7zM483.0 51.9h2.2v1.2H483.0zM488.9 51.9h3.2v1.2H488.9zM542.7 51.9h1.2v1.2H542.7zM482.0 52.9h3.2v1.2H482.0zM490.9 52.9h1.2v1.2H490.9zM509.8 52.9h2.2v1.2H509.8zM484.9 53.8h2.2v1.2H484.9zM509.8 53.8h1.2v1.2H509.8zM524.8 54.8h3.2v1.2H524.8zM540.7 54.8h1.2v1.2H540.7zM484.9 55.8h1.2v1.2H484.9zM488.9 55.8h2.2v1.2H488.9zM494.9 55.8h2.2v1.2H494.9zM506.9 55.8h1.2v1.2H506.9zM538.7 55.8h1.2v1.2H538.7zM541.7 55.8h2.2v1.2H541.7zM474.0 56.8h1.2v1.2H474.0zM484.9 56.8h1.2v1.2H484.9zM489.9 56.8h2.2v1.2H489.9zM494.9 56.8h2.2v1.2H494.9zM505.9 56.8h1.2v1.2H505.9zM538.7 56.8h1.2v1.2H538.7zM541.7 56.8h1.2v1.2H541.7zM474.0 57.8h1.2v1.2H474.0zM486.9 57.8h3.2v1.2H486.9zM494.9 57.8h2.2v1.2H494.9zM541.7 57.8h1.2v1.2H541.7zM474.0 58.8h1.2v1.2H474.0zM478.0 58.8h1.2v1.2H478.0zM496.9 58.8h2.2v1.2H496.9zM534.7 58.8h1.2v1.2H534.7zM540.7 58.8h3.2v1.2H540.7zM474.0 59.8h1.2v1.2H474.0zM506.9 59.8h1.2v1.2H506.9zM534.7 59.8h3.2v1.2H534.7zM451.1 60.8h1.2v1.2H451.1zM475.0 60.8h2.2v1.2H475.0zM505.9 60.8h1.2v1.2H505.9zM534.7 60.8h2.2v1.2H534.7zM451.1 61.8h1.2v1.2H451.1zM475.0 61.8h2.2v1.2H475.0zM506.9 61.8h2.2v1.2H506.9zM538.7 61.8h1.2v1.2H538.7zM451.1 62.8h1.2v1.2H451.1zM477.0 62.8h3.2v1.2H477.0zM526.8 62.8h1.2v1.2H526.8zM451.1 63.8h1.2v1.2H451.1zM476.0 63.8h4.2v1.2H476.0zM526.8 63.8h1.2v1.2H526.8zM450.1 64.8h2.2v1.2H450.1zM526.8 64.8h1.2v1.2H526.8zM535.7 64.8h2.2v1.2H535.7zM451.1 65.8h1.2v1.2H451.1zM479.0 65.8h1.2v1.2H479.0zM526.8 65.8h1.2v1.2H526.8zM460.1 66.8h1.2v1.2H460.1zM452.1 67.8h2.2v1.2H452.1zM459.1 67.8h2.2v1.2H459.1zM503.9 67.8h1.2v1.2H503.9zM527.8 67.8h1.2v1.2H527.8zM484.9 68.8h1.2v1.2H484.9zM504.9 69.8h1.2v1.2H504.9zM540.7 71.8h1.2v1.2H540.7zM531.8 73.8h1.2v1.2H531.8zM542.7 73.8h1.2v1.2H542.7zM504.9 74.8h1.2v1.2H504.9zM542.7 74.8h1.2v1.2H542.7zM503.9 75.8h2.2v1.2H503.9zM489.9 76.8h1.2v1.2H489.9zM503.9 76.8h3.2v1.2H503.9zM536.7 76.8h1.2v1.2H536.7zM542.7 76.8h1.2v1.2H542.7zM491.9 77.8h1.2v1.2H491.9zM494.9 77.8h2.2v1.2H494.9zM536.7 77.8h1.2v1.2H536.7zM539.7 77.8h1.2v1.2H539.7zM510.8 78.7h1.2v1.2H510.8zM536.7 78.7h3.2v1.2H536.7zM502.9 79.7h3.2v1.2H502.9zM510.8 79.7h1.2v1.2H510.8zM536.7 79.7h1.2v1.2H536.7zM450.1 80.7h2.2v1.2H450.1zM502.9 80.7h3.2v1.2H502.9zM510.8 80.7h1.2v1.2H510.8zM524.8 80.7h1.2v1.2H524.8zM536.7 80.7h1.2v1.2H536.7zM542.7 80.7h1.2v1.2H542.7zM450.1 81.7h3.2v1.2H450.1zM454.1 81.7h7.2v1.2H454.1zM462.0 81.7h1.2v1.2H462.0zM502.9 81.7h2.2v1.2H502.9zM510.8 81.7h1.2v1.2H510.8zM526.8 81.7h2.2v1.2H526.8zM539.7 81.7h1.2v1.2H539.7zM450.1 82.7h6.2v1.2H450.1zM458.1 82.7h1.2v1.2H458.1zM460.1 82.7h8.2v1.2H460.1zM501.9 82.7h1.2v1.2H501.9zM508.8 82.7h1.2v1.2H508.8zM510.8 82.7h2.2v1.2H510.8zM527.8 82.7h1.2v1.2H527.8zM535.7 82.7h1.2v1.2H535.7zM456.1 83.7h2.2v1.2H456.1zM462.0 83.7h2.2v1.2H462.0zM539.7 83.7h1.2v1.2H539.7zM456.1 84.7h2.2v1.2H456.1zM463.0 84.7h1.2v1.2H463.0zM470.0 85.7h1.2v1.2H470.0zM529.8 85.7h1.2v1.2H529.8zM534.7 85.7h1.2v1.2H534.7zM459.1 86.7h1.2v1.2H459.1zM469.0 86.7h1.2v1.2H469.0zM502.9 86.7h1.2v1.2H502.9zM510.8 86.7h1.2v1.2H510.8zM533.7 86.7h1.2v1.2H533.7zM450.1 87.7h1.2v1.2H450.1zM469.0 87.7h1.2v1.2H469.0zM530.8 87.7h1.2v1.2H530.8zM450.1 88.7h1.2v1.2H450.1zM468.0 88.7h1.2v1.2H468.0zM508.8 88.7h1.2v1.2H508.8zM450.1 89.7h1.2v1.2H450.1zM468.0 89.7h1.2v1.2H468.0zM501.9 89.7h1.2v1.2H501.9zM511.8 89.7h1.2v1.2H511.8zM450.1 90.7h1.2v1.2H450.1zM500.9 90.7h2.2v1.2H500.9zM509.8 90.7h2.2v1.2H509.8zM449.1 91.7h2.2v1.2H449.1zM501.9 91.7h1.2v1.2H501.9zM509.8 91.7h1.2v1.2H509.8zM448.1 92.7h1.2v1.2H448.1zM502.9 92.7h1.2v1.2H502.9zM505.9 92.7h2.2v1.2H505.9zM509.8 92.7h1.2v1.2H509.8zM448.1 93.7h1.2v1.2H448.1zM467.0 93.7h1.2v1.2H467.0zM505.9 93.7h2.2v1.2H505.9zM455.1 94.7h1.2v1.2H455.1zM454.1 95.7h1.2v1.2H454.1zM454.1 96.7h1.2v1.2H454.1zM464.0 96.7h1.2v1.2H464.0zM485.9 98.7h1.2v1.2H485.9zM457.1 99.7h1.2v1.2H457.1zM484.9 99.7h2.2v1.2H484.9zM486.9 100.7h1.2v1.2H486.9zM476.0 103.6h2.2v1.2H476.0zM463.0 104.6h2.2v1.2H463.0zM466.0 104.6h1.2v1.2H466.0zM476.0 104.6h2.2v1.2H476.0zM486.9 104.6h1.2v1.2H486.9zM448.1 105.6h1.2v1.2H448.1zM485.9 105.6h1.2v1.2H485.9zM448.1 106.6h1.2v1.2H448.1zM452.1 106.6h3.2v1.2H452.1zM485.9 106.6h1.2v1.2H485.9zM448.1 107.6h1.2v1.2H448.1zM454.1 107.6h1.2v1.2H454.1zM468.0 107.6h1.2v1.2H468.0zM454.1 108.6h2.2v1.2H454.1zM468.0 108.6h1.2v1.2H468.0zM474.0 108.6h1.2v1.2H474.0zM452.1 109.6h1.2v1.2H452.1zM468.0 109.6h2.2v1.2H468.0zM451.1 110.6h3.2v1.2H451.1zM461.0 110.6h2.2v1.2H461.0zM469.0 110.6h2.2v1.2H469.0zM452.1 111.6h1.2v1.2H452.1zM482.0 111.6h2.2v1.2H482.0zM456.1 112.6h1.2v1.2H456.1zM482.0 112.6h2.2v1.2H482.0z"/><path fill="#872d09" d="M530.8 18.0h3.2v1.2H530.8zM541.7 18.0h2.2v1.2H541.7zM530.8 19.0h3.2v1.2H530.8zM494.9 20.0h1.2v1.2H494.9zM530.8 20.0h3.2v1.2H530.8zM530.8 21.0h3.2v1.2H530.8zM497.9 22.0h1.2v1.2H497.9zM530.8 22.0h3.2v1.2H530.8zM542.7 22.0h1.2v1.2H542.7zM480.0 23.0h2.2v1.2H480.0zM488.9 23.0h1.2v1.2H488.9zM496.9 23.0h3.2v1.2H496.9zM509.8 23.0h1.2v1.2H509.8zM530.8 23.0h3.2v1.2H530.8zM542.7 23.0h1.2v1.2H542.7zM480.0 24.0h2.2v1.2H480.0zM485.9 24.0h3.2v1.2H485.9zM497.9 24.0h1.2v1.2H497.9zM509.8 24.0h3.2v1.2H509.8zM530.8 24.0h4.2v1.2H530.8zM480.0 25.0h2.2v1.2H480.0zM485.9 25.0h3.2v1.2H485.9zM497.9 25.0h1.2v1.2H497.9zM530.8 25.0h4.2v1.2H530.8zM479.0 26.0h3.2v1.2H479.0zM529.8 26.0h4.2v1.2H529.8zM478.0 27.0h4.2v1.2H478.0zM495.9 27.0h1.2v1.2H495.9zM481.0 28.0h1.2v1.2H481.0zM494.9 28.0h6.2v1.2H494.9zM502.9 28.0h3.2v1.2H502.9zM482.0 29.0h2.2v1.2H482.0zM494.9 29.0h6.2v1.2H494.9zM502.9 29.0h3.2v1.2H502.9zM497.9 29.9h8.2v1.2H497.9zM486.9 30.9h1.2v1.2H486.9zM500.9 30.9h3.2v1.2H500.9zM487.9 31.9h3.2v1.2H487.9zM501.9 31.9h2.2v1.2H501.9zM484.9 32.9h1.2v1.2H484.9zM487.9 32.9h5.2v1.2H487.9zM487.9 33.9h5.2v1.2H487.9zM486.9 34.9h9.2v1.2H486.9zM505.9 34.9h1.2v1.2H505.9zM486.9 35.9h2.2v1.2H486.9zM489.9 35.9h3.2v1.2H489.9zM504.9 35.9h2.2v1.2H504.9zM451.1 36.9h1.2v1.2H451.1zM486.9 36.9h1.2v1.2H486.9zM501.9 36.9h5.2v1.2H501.9zM448.1 37.9h4.2v1.2H448.1zM454.1 37.9h1.2v1.2H454.1zM503.9 37.9h3.2v1.2H503.9zM449.1 38.9h3.2v1.2H449.1zM450.1 39.9h2.2v1.2H450.1zM449.1 40.9h3.2v1.2H449.1zM505.9 40.9h1.2v1.2H505.9zM448.1 41.9h3.2v1.2H448.1zM505.9 41.9h1.2v1.2H505.9zM448.1 42.9h2.2v1.2H448.1zM448.1 43.9h1.2v1.2H448.1zM461.0 43.9h1.2v1.2H461.0zM465.0 43.9h3.2v1.2H465.0zM503.9 43.9h1.2v1.2H503.9zM448.1 44.9h1.2v1.2H448.1zM465.0 44.9h2.2v1.2H465.0zM471.0 44.9h1.2v1.2H471.0zM503.9 44.9h1.2v1.2H503.9zM449.1 45.9h2.2v1.2H449.1zM459.1 45.9h1.2v1.2H459.1zM463.0 45.9h4.2v1.2H463.0zM470.0 45.9h1.2v1.2H470.0zM503.9 45.9h2.2v1.2H503.9zM459.1 46.9h1.2v1.2H459.1zM463.0 46.9h4.2v1.2H463.0zM458.1 47.9h5.2v1.2H458.1zM465.0 47.9h2.2v1.2H465.0zM458.1 48.9h5.2v1.2H458.1zM457.1 49.9h4.2v1.2H457.1zM457.1 50.9h4.2v1.2H457.1zM459.1 51.9h4.2v1.2H459.1zM459.1 52.9h3.2v1.2H459.1zM458.1 53.8h2.2v1.2H458.1zM463.0 56.8h1.2v1.2H463.0zM463.0 57.8h1.2v1.2H463.0zM509.8 60.8h9.2v1.2H509.8zM508.8 61.8h10.2v1.2H508.8zM509.8 62.8h9.2v1.2H509.8zM508.8 63.8h9.2v1.2H508.8zM507.9 64.8h2.2v1.2H507.9zM511.8 64.8h5.2v1.2H511.8zM461.0 65.8h1.2v1.2H461.0zM507.9 65.8h1.2v1.2H507.9zM513.8 65.8h3.2v1.2H513.8zM512.8 66.8h4.2v1.2H512.8zM462.0 67.8h1.2v1.2H462.0zM512.8 67.8h4.2v1.2H512.8zM512.8 68.8h1.2v1.2H512.8zM512.8 69.8h1.2v1.2H512.8zM511.8 70.8h2.2v1.2H511.8zM459.1 71.8h1.2v1.2H459.1zM463.0 71.8h2.2v1.2H463.0zM473.0 71.8h4.2v1.2H473.0zM510.8 71.8h4.2v1.2H510.8zM463.0 72.8h4.2v1.2H463.0zM474.0 72.8h4.2v1.2H474.0zM509.8 72.8h6.2v1.2H509.8zM520.8 72.8h1.2v1.2H520.8zM461.0 73.8h7.2v1.2H461.0zM475.0 73.8h2.2v1.2H475.0zM508.8 73.8h8.2v1.2H508.8zM518.8 73.8h4.2v1.2H518.8zM524.8 73.8h1.2v1.2H524.8zM463.0 74.8h5.2v1.2H463.0zM475.0 74.8h2.2v1.2H475.0zM509.8 74.8h3.2v1.2H509.8zM513.8 74.8h2.2v1.2H513.8zM518.8 74.8h7.2v1.2H518.8zM450.1 75.8h1.2v1.2H450.1zM459.1 75.8h1.2v1.2H459.1zM465.0 75.8h2.2v1.2H465.0zM509.8 75.8h2.2v1.2H509.8zM520.8 75.8h4.2v1.2H520.8zM459.1 76.8h1.2v1.2H459.1zM510.8 76.8h1.2v1.2H510.8zM519.8 76.8h4.2v1.2H519.8zM448.1 77.8h1.2v1.2H448.1zM482.0 77.8h4.2v1.2H482.0zM518.8 77.8h5.2v1.2H518.8zM448.1 78.7h1.2v1.2H448.1zM481.0 78.7h5.2v1.2H481.0zM492.9 78.7h1.2v1.2H492.9zM518.8 78.7h4.2v1.2H518.8zM454.1 79.7h2.2v1.2H454.1zM482.0 79.7h2.2v1.2H482.0zM490.9 79.7h1.2v1.2H490.9zM520.8 79.7h3.2v1.2H520.8zM482.0 80.7h2.2v1.2H482.0zM490.9 80.7h1.2v1.2H490.9zM522.8 80.7h2.2v1.2H522.8zM484.0 81.7h2.2v1.2H484.0zM492.9 81.7h1.2v1.2H492.9zM522.8 81.7h2.2v1.2H522.8zM484.0 82.7h6.2v1.2H484.0zM492.9 82.7h1.2v1.2H492.9zM522.8 82.7h3.2v1.2H522.8zM484.0 83.7h7.2v1.2H484.0zM491.9 83.7h2.2v1.2H491.9zM484.0 84.7h10.2v1.2H484.0zM484.0 85.7h2.2v1.2H484.0zM487.9 85.7h3.2v1.2H487.9zM520.8 85.7h1.2v1.2H520.8zM482.0 86.7h4.2v1.2H482.0zM488.9 86.7h1.2v1.2H488.9zM516.8 86.7h2.2v1.2H516.8zM519.8 86.7h4.2v1.2H519.8zM482.0 87.7h1.2v1.2H482.0zM520.8 87.7h3.2v1.2H520.8zM480.0 88.7h2.2v1.2H480.0zM492.9 88.7h1.2v1.2H492.9zM520.8 88.7h3.2v1.2H520.8zM529.8 88.7h1.2v1.2H529.8zM538.7 88.7h1.2v1.2H538.7zM542.7 88.7h1.2v1.2H542.7zM479.0 89.7h4.2v1.2H479.0zM496.9 89.7h4.2v1.2H496.9zM520.8 89.7h2.2v1.2H520.8zM481.0 90.7h2.2v1.2H481.0zM495.9 90.7h5.2v1.2H495.9zM514.8 90.7h1.2v1.2H514.8zM520.8 90.7h1.2v1.2H520.8zM531.8 90.7h2.2v1.2H531.8zM495.9 91.7h5.2v1.2H495.9zM514.8 91.7h1.2v1.2H514.8zM531.8 91.7h1.2v1.2H531.8zM492.9 92.7h2.2v1.2H492.9zM496.9 92.7h2.2v1.2H496.9zM514.8 92.7h1.2v1.2H514.8zM484.9 93.7h6.2v1.2H484.9zM491.9 93.7h3.2v1.2H491.9zM514.8 93.7h1.2v1.2H514.8zM485.9 94.7h5.2v1.2H485.9zM491.9 94.7h3.2v1.2H491.9zM524.8 94.7h2.2v1.2H524.8zM536.7 94.7h3.2v1.2H536.7zM461.0 95.7h1.2v1.2H461.0zM485.9 95.7h5.2v1.2H485.9zM491.9 95.7h3.2v1.2H491.9zM516.8 95.7h1.2v1.2H516.8zM523.8 95.7h3.2v1.2H523.8zM535.7 95.7h5.2v1.2H535.7zM463.0 96.7h1.2v1.2H463.0zM466.0 96.7h1.2v1.2H466.0zM485.9 96.7h9.2v1.2H485.9zM522.8 96.7h5.2v1.2H522.8zM535.7 96.7h4.2v1.2H535.7zM465.0 97.7h1.2v1.2H465.0zM487.9 97.7h8.2v1.2H487.9zM523.8 97.7h4.2v1.2H523.8zM534.7 97.7h5.2v1.2H534.7zM465.0 98.7h1.2v1.2H465.0zM488.9 98.7h6.2v1.2H488.9zM535.7 98.7h4.2v1.2H535.7zM465.0 99.7h1.2v1.2H465.0zM470.0 99.7h1.2v1.2H470.0zM498.9 99.7h2.2v1.2H498.9zM508.8 99.7h3.2v1.2H508.8zM535.7 99.7h4.2v1.2H535.7zM460.1 100.7h1.2v1.2H460.1zM470.0 100.7h3.2v1.2H470.0zM491.9 100.7h8.2v1.2H491.9zM534.7 100.7h5.2v1.2H534.7zM461.0 101.6h1.2v1.2H461.0zM470.0 101.6h2.2v1.2H470.0zM491.9 101.6h7.2v1.2H491.9zM533.7 101.6h7.2v1.2H533.7zM461.0 102.6h1.2v1.2H461.0zM470.0 102.6h1.2v1.2H470.0zM490.9 102.6h9.2v1.2H490.9zM533.7 102.6h6.2v1.2H533.7zM488.9 103.6h12.1v1.2H488.9zM509.8 103.6h2.2v1.2H509.8zM529.8 103.6h4.2v1.2H529.8zM489.9 104.6h11.2v1.2H489.9zM509.8 104.6h2.2v1.2H509.8zM529.8 104.6h4.2v1.2H529.8zM542.7 104.6h1.2v1.2H542.7zM496.9 105.6h2.2v1.2H496.9zM500.9 105.6h2.2v1.2H500.9zM505.9 105.6h2.2v1.2H505.9zM509.8 105.6h4.2v1.2H509.8zM530.8 105.6h4.2v1.2H530.8zM542.7 105.6h1.2v1.2H542.7zM496.9 106.6h2.2v1.2H496.9zM500.9 106.6h3.2v1.2H500.9zM505.9 106.6h8.2v1.2H505.9zM530.8 106.6h4.2v1.2H530.8zM495.9 107.6h1.2v1.2H495.9zM498.9 107.6h4.2v1.2H498.9zM505.9 107.6h8.2v1.2H505.9zM530.8 107.6h3.2v1.2H530.8zM488.9 108.6h2.2v1.2H488.9zM495.9 108.6h1.2v1.2H495.9zM498.9 108.6h3.2v1.2H498.9zM505.9 108.6h8.2v1.2H505.9zM530.8 108.6h3.2v1.2H530.8zM498.9 109.6h2.2v1.2H498.9zM505.9 109.6h2.2v1.2H505.9zM508.8 109.6h4.2v1.2H508.8zM498.9 110.6h2.2v1.2H498.9zM506.9 110.6h1.2v1.2H506.9zM533.7 110.6h2.2v1.2H533.7zM496.9 111.6h4.2v1.2H496.9zM507.9 111.6h3.2v1.2H507.9zM540.7 111.6h1.2v1.2H540.7zM495.9 112.6h1.2v1.2H495.9zM498.9 112.6h2.2v1.2H498.9zM507.9 112.6h3.2v1.2H507.9zM540.7 112.6h2.2v1.2H540.7z"/><path fill="#cf871b" d="M458.1 20.0h1.2v1.2H458.1zM458.1 21.0h1.2v1.2H458.1zM517.8 21.0h1.2v1.2H517.8zM467.0 26.0h1.2v1.2H467.0zM471.0 28.0h1.2v1.2H471.0zM455.1 29.0h1.2v1.2H455.1zM524.8 35.9h1.2v1.2H524.8zM511.8 39.9h1.2v1.2H511.8zM537.7 39.9h1.2v1.2H537.7zM515.8 47.9h1.2v1.2H515.8zM510.8 48.9h1.2v1.2H510.8zM514.8 48.9h1.2v1.2H514.8zM536.7 50.9h1.2v1.2H536.7zM528.8 51.9h1.2v1.2H528.8zM533.7 51.9h2.2v1.2H533.7zM503.9 54.8h1.2v1.2H503.9zM530.8 54.8h1.2v1.2H530.8zM500.9 61.8h1.2v1.2H500.9zM496.9 62.8h1.2v1.2H496.9zM501.9 62.8h1.2v1.2H501.9zM489.9 65.8h1.2v1.2H489.9zM540.7 65.8h1.2v1.2H540.7zM542.7 68.8h1.2v1.2H542.7zM529.8 82.7h1.2v1.2H529.8zM448.1 99.7h1.2v1.2H448.1zM448.1 102.6h1.2v1.2H448.1zM483.0 105.6h1.2v1.2H483.0zM465.0 108.6h1.2v1.2H465.0z"/><path fill="#f3bd3f" d="M465.0 22.0h3.2v1.2H465.0zM465.0 23.0h2.2v1.2H465.0zM465.0 24.0h1.2v1.2H465.0z"/></g></g>
<g filter="url(#afmblur)"><g shape-rendering="crispEdges"><path fill="#bd751b" d="M546.8 18.0h2.2v1.2H546.8zM551.8 18.0h2.2v1.2H551.8zM568.0 18.0h1.2v1.2H568.0zM594.1 18.0h1.2v1.2H594.1zM618.3 18.0h1.2v1.2H618.3zM637.5 18.0h1.2v1.2H637.5zM547.8 19.0h1.2v1.2H547.8zM551.8 19.0h2.2v1.2H551.8zM616.3 19.0h3.2v1.2H616.3zM624.4 19.0h1.2v1.2H624.4zM637.5 19.0h1.2v1.2H637.5zM639.5 19.0h1.2v1.2H639.5zM547.8 20.0h1.2v1.2H547.8zM551.8 20.0h1.2v1.2H551.8zM595.1 20.0h1.2v1.2H595.1zM604.2 20.0h1.2v1.2H604.2zM623.4 20.0h1.2v1.2H623.4zM630.4 20.0h1.2v1.2H630.4zM633.4 20.0h1.2v1.2H633.4zM637.5 20.0h2.2v1.2H637.5zM551.8 21.0h2.2v1.2H551.8zM604.2 21.0h1.2v1.2H604.2zM623.4 21.0h1.2v1.2H623.4zM630.4 21.0h3.2v1.2H630.4zM548.8 22.0h1.2v1.2H548.8zM553.9 22.0h1.2v1.2H553.9zM595.1 22.0h2.2v1.2H595.1zM624.4 22.0h1.2v1.2H624.4zM548.8 23.0h1.2v1.2H548.8zM554.9 23.0h1.2v1.2H554.9zM584.1 23.0h1.2v1.2H584.1zM587.1 23.0h1.2v1.2H587.1zM595.1 23.0h1.2v1.2H595.1zM609.3 23.0h1.2v1.2H609.3zM548.8 24.0h1.2v1.2H548.8zM585.1 24.0h2.2v1.2H585.1zM610.3 24.0h4.2v1.2H610.3zM624.4 24.0h1.2v1.2H624.4zM546.8 25.1h2.2v1.2H546.8zM549.8 25.1h1.2v1.2H549.8zM563.9 26.1h1.2v1.2H563.9zM589.1 26.1h1.2v1.2H589.1zM560.9 27.1h1.2v1.2H560.9zM563.9 27.1h1.2v1.2H563.9zM617.3 27.1h1.2v1.2H617.3zM562.9 28.1h5.2v1.2H562.9zM571.0 28.1h1.2v1.2H571.0zM568.0 29.1h1.2v1.2H568.0zM586.1 29.1h1.2v1.2H586.1zM592.1 29.1h1.2v1.2H592.1zM568.0 30.1h1.2v1.2H568.0zM586.1 30.1h1.2v1.2H586.1zM592.1 30.1h2.2v1.2H592.1zM605.2 30.1h2.2v1.2H605.2zM624.4 30.1h1.2v1.2H624.4zM566.9 31.1h2.2v1.2H566.9zM588.1 31.1h3.2v1.2H588.1zM593.1 31.1h1.2v1.2H593.1zM618.3 31.1h3.2v1.2H618.3zM563.9 32.1h3.2v1.2H563.9zM569.0 32.1h3.2v1.2H569.0zM594.1 32.1h2.2v1.2H594.1zM610.3 32.1h2.2v1.2H610.3zM556.9 33.1h1.2v1.2H556.9zM558.9 33.1h1.2v1.2H558.9zM564.9 33.1h2.2v1.2H564.9zM569.0 33.1h3.2v1.2H569.0zM594.1 33.1h1.2v1.2H594.1zM596.2 33.1h1.2v1.2H596.2zM632.4 33.1h2.2v1.2H632.4zM559.9 34.1h1.2v1.2H559.9zM569.0 34.1h1.2v1.2H569.0zM584.1 34.1h1.2v1.2H584.1zM595.1 34.1h1.2v1.2H595.1zM632.4 34.1h2.2v1.2H632.4zM554.9 35.1h1.2v1.2H554.9zM559.9 35.1h1.2v1.2H559.9zM565.9 35.1h1.2v1.2H565.9zM568.0 35.1h2.2v1.2H568.0zM610.3 35.1h2.2v1.2H610.3zM554.9 36.1h3.2v1.2H554.9zM558.9 36.1h1.2v1.2H558.9zM570.0 36.1h1.2v1.2H570.0zM552.8 37.1h2.2v1.2H552.8zM558.9 37.1h1.2v1.2H558.9zM554.9 38.1h1.2v1.2H554.9zM571.0 38.1h1.2v1.2H571.0zM554.9 39.2h1.2v1.2H554.9zM571.0 39.2h1.2v1.2H571.0zM618.3 39.2h1.2v1.2H618.3zM549.8 40.2h2.2v1.2H549.8zM554.9 40.2h1.2v1.2H554.9zM550.8 41.2h2.2v1.2H550.8zM554.9 41.2h2.2v1.2H554.9zM547.8 42.2h1.2v1.2H547.8zM550.8 42.2h2.2v1.2H550.8zM553.9 42.2h6.2v1.2H553.9zM564.9 42.2h1.2v1.2H564.9zM546.8 43.2h1.2v1.2H546.8zM555.9 43.2h3.2v1.2H555.9zM568.0 43.2h1.2v1.2H568.0zM578.0 43.2h1.2v1.2H578.0zM582.1 43.2h1.2v1.2H582.1zM546.8 44.2h1.2v1.2H546.8zM557.9 44.2h1.2v1.2H557.9zM586.1 44.2h4.2v1.2H586.1zM546.8 45.2h2.2v1.2H546.8zM558.9 45.2h1.2v1.2H558.9zM560.9 45.2h1.2v1.2H560.9zM577.0 45.2h1.2v1.2H577.0zM583.1 45.2h1.2v1.2H583.1zM585.1 45.2h2.2v1.2H585.1zM589.1 45.2h1.2v1.2H589.1zM631.4 45.2h1.2v1.2H631.4zM633.4 45.2h1.2v1.2H633.4zM547.8 46.2h1.2v1.2H547.8zM560.9 46.2h1.2v1.2H560.9zM569.0 46.2h1.2v1.2H569.0zM583.1 46.2h1.2v1.2H583.1zM588.1 46.2h2.2v1.2H588.1zM631.4 46.2h1.2v1.2H631.4zM633.4 46.2h1.2v1.2H633.4zM547.8 47.2h1.2v1.2H547.8zM561.9 47.2h1.2v1.2H561.9zM569.0 47.2h2.2v1.2H569.0zM573.0 47.2h1.2v1.2H573.0zM582.1 47.2h2.2v1.2H582.1zM598.2 47.2h1.2v1.2H598.2zM600.2 47.2h1.2v1.2H600.2zM602.2 47.2h1.2v1.2H602.2zM621.3 47.2h1.2v1.2H621.3zM633.4 47.2h1.2v1.2H633.4zM569.0 48.2h1.2v1.2H569.0zM581.0 48.2h1.2v1.2H581.0zM601.2 48.2h1.2v1.2H601.2zM604.2 48.2h1.2v1.2H604.2zM619.3 48.2h1.2v1.2H619.3zM622.3 48.2h1.2v1.2H622.3zM631.4 48.2h3.2v1.2H631.4zM569.0 49.2h1.2v1.2H569.0zM606.2 49.2h1.2v1.2H606.2zM615.3 49.2h1.2v1.2H615.3zM619.3 49.2h1.2v1.2H619.3zM632.4 49.2h1.2v1.2H632.4zM569.0 50.2h1.2v1.2H569.0zM604.2 50.2h1.2v1.2H604.2zM615.3 50.2h2.2v1.2H615.3zM619.3 50.2h1.2v1.2H619.3zM632.4 50.2h1.2v1.2H632.4zM565.9 51.2h1.2v1.2H565.9zM570.0 51.2h1.2v1.2H570.0zM602.2 51.2h1.2v1.2H602.2zM615.3 51.2h1.2v1.2H615.3zM618.3 51.2h1.2v1.2H618.3zM632.4 51.2h2.2v1.2H632.4zM570.0 52.2h1.2v1.2H570.0zM600.2 52.2h2.2v1.2H600.2zM618.3 52.2h1.2v1.2H618.3zM633.4 52.2h1.2v1.2H633.4zM547.8 53.3h1.2v1.2H547.8zM565.9 53.3h1.2v1.2H565.9zM571.0 53.3h2.2v1.2H571.0zM575.0 53.3h2.2v1.2H575.0zM608.2 53.3h1.2v1.2H608.2zM612.3 53.3h1.2v1.2H612.3zM632.4 53.3h1.2v1.2H632.4zM566.9 54.3h1.2v1.2H566.9zM583.1 54.3h4.2v1.2H583.1zM590.1 54.3h1.2v1.2H590.1zM593.1 54.3h3.2v1.2H593.1zM617.3 54.3h1.2v1.2H617.3zM628.4 54.3h1.2v1.2H628.4zM583.1 55.3h3.2v1.2H583.1zM590.1 55.3h1.2v1.2H590.1zM592.1 55.3h4.2v1.2H592.1zM617.3 55.3h1.2v1.2H617.3zM549.8 56.3h1.2v1.2H549.8zM566.9 56.3h1.2v1.2H566.9zM583.1 56.3h3.2v1.2H583.1zM587.1 56.3h1.2v1.2H587.1zM590.1 56.3h2.2v1.2H590.1zM608.2 56.3h1.2v1.2H608.2zM550.8 57.3h1.2v1.2H550.8zM570.0 57.3h1.2v1.2H570.0zM581.0 57.3h1.2v1.2H581.0zM584.1 57.3h1.2v1.2H584.1zM591.1 57.3h1.2v1.2H591.1zM608.2 57.3h1.2v1.2H608.2zM613.3 57.3h1.2v1.2H613.3zM618.3 57.3h1.2v1.2H618.3zM630.4 57.3h1.2v1.2H630.4zM637.5 57.3h1.2v1.2H637.5zM553.9 58.3h1.2v1.2H553.9zM577.0 58.3h1.2v1.2H577.0zM580.0 58.3h1.2v1.2H580.0zM584.1 58.3h1.2v1.2H584.1zM608.2 58.3h1.2v1.2H608.2zM615.3 58.3h1.2v1.2H615.3zM617.3 58.3h1.2v1.2H617.3zM629.4 58.3h1.2v1.2H629.4zM560.9 59.3h1.2v1.2H560.9zM562.9 59.3h1.2v1.2H562.9zM577.0 59.3h1.2v1.2H577.0zM584.1 59.3h1.2v1.2H584.1zM587.1 59.3h1.2v1.2H587.1zM608.2 59.3h1.2v1.2H608.2zM554.9 60.3h1.2v1.2H554.9zM560.9 60.3h1.2v1.2H560.9zM563.9 60.3h1.2v1.2H563.9zM608.2 60.3h1.2v1.2H608.2zM560.9 61.3h1.2v1.2H560.9zM559.9 62.3h2.2v1.2H559.9zM564.9 62.3h1.2v1.2H564.9zM585.1 62.3h1.2v1.2H585.1zM625.4 63.3h1.2v1.2H625.4zM565.9 64.3h1.2v1.2H565.9zM611.3 64.3h2.2v1.2H611.3zM614.3 64.3h1.2v1.2H614.3zM623.4 64.3h1.2v1.2H623.4zM554.9 65.3h1.2v1.2H554.9zM559.9 65.3h1.2v1.2H559.9zM565.9 65.3h1.2v1.2H565.9zM573.0 65.3h1.2v1.2H573.0zM578.0 65.3h1.2v1.2H578.0zM608.2 65.3h2.2v1.2H608.2zM615.3 65.3h2.2v1.2H615.3zM623.4 65.3h1.2v1.2H623.4zM553.9 66.3h1.2v1.2H553.9zM565.9 66.3h1.2v1.2H565.9zM575.0 66.3h1.2v1.2H575.0zM586.1 66.3h1.2v1.2H586.1zM554.9 67.4h1.2v1.2H554.9zM557.9 67.4h2.2v1.2H557.9zM565.9 67.4h1.2v1.2H565.9zM576.0 67.4h1.2v1.2H576.0zM580.0 67.4h1.2v1.2H580.0zM587.1 67.4h2.2v1.2H587.1zM616.3 67.4h1.2v1.2H616.3zM625.4 67.4h1.2v1.2H625.4zM565.9 68.4h1.2v1.2H565.9zM580.0 68.4h1.2v1.2H580.0zM588.1 68.4h1.2v1.2H588.1zM615.3 68.4h1.2v1.2H615.3zM625.4 68.4h1.2v1.2H625.4zM565.9 69.4h2.2v1.2H565.9zM578.0 69.4h1.2v1.2H578.0zM580.0 69.4h1.2v1.2H580.0zM588.1 69.4h2.2v1.2H588.1zM598.2 69.4h1.2v1.2H598.2zM614.3 69.4h1.2v1.2H614.3zM626.4 69.4h1.2v1.2H626.4zM563.9 70.4h2.2v1.2H563.9zM569.0 70.4h1.2v1.2H569.0zM576.0 70.4h1.2v1.2H576.0zM578.0 70.4h3.2v1.2H578.0zM589.1 70.4h1.2v1.2H589.1zM597.2 70.4h3.2v1.2H597.2zM614.3 70.4h1.2v1.2H614.3zM561.9 71.4h2.2v1.2H561.9zM570.0 71.4h1.2v1.2H570.0zM577.0 71.4h4.2v1.2H577.0zM588.1 71.4h2.2v1.2H588.1zM600.2 71.4h1.2v1.2H600.2zM561.9 72.4h1.2v1.2H561.9zM578.0 72.4h2.2v1.2H578.0zM578.0 73.4h3.2v1.2H578.0zM590.1 73.4h2.2v1.2H590.1zM613.3 73.4h1.2v1.2H613.3zM626.4 73.4h1.2v1.2H626.4zM578.0 74.4h1.2v1.2H578.0zM580.0 74.4h1.2v1.2H580.0zM626.4 74.4h1.2v1.2H626.4zM578.0 75.4h3.2v1.2H578.0zM604.2 75.4h1.2v1.2H604.2zM619.3 75.4h1.2v1.2H619.3zM624.4 75.4h1.2v1.2H624.4zM626.4 75.4h1.2v1.2H626.4zM577.0 76.4h7.3v1.2H577.0zM585.1 76.4h1.2v1.2H585.1zM605.2 76.4h4.2v1.2H605.2zM624.4 76.4h1.2v1.2H624.4zM626.4 76.4h1.2v1.2H626.4zM630.4 76.4h1.2v1.2H630.4zM573.0 77.4h1.2v1.2H573.0zM576.0 77.4h7.3v1.2H576.0zM605.2 77.4h4.2v1.2H605.2zM620.3 77.4h1.2v1.2H620.3zM624.4 77.4h1.2v1.2H624.4zM629.4 77.4h1.2v1.2H629.4zM634.4 77.4h1.2v1.2H634.4zM582.1 78.4h2.2v1.2H582.1zM607.2 78.4h1.2v1.2H607.2zM610.3 78.4h2.2v1.2H610.3zM613.3 78.4h3.2v1.2H613.3zM627.4 78.4h2.2v1.2H627.4zM583.1 79.4h2.2v1.2H583.1zM607.2 79.4h2.2v1.2H607.2zM617.3 79.4h2.2v1.2H617.3zM623.4 79.4h1.2v1.2H623.4zM547.8 80.5h1.2v1.2H547.8zM578.0 80.5h3.2v1.2H578.0zM583.1 80.5h1.2v1.2H583.1zM603.2 80.5h5.2v1.2H603.2zM634.4 80.5h4.2v1.2H634.4zM577.0 81.5h4.2v1.2H577.0zM583.1 81.5h2.2v1.2H583.1zM602.2 81.5h1.2v1.2H602.2zM607.2 81.5h1.2v1.2H607.2zM621.3 81.5h1.2v1.2H621.3zM631.4 81.5h3.2v1.2H631.4zM577.0 82.5h4.2v1.2H577.0zM583.1 82.5h1.2v1.2H583.1zM602.2 82.5h1.2v1.2H602.2zM607.2 82.5h1.2v1.2H607.2zM621.3 82.5h1.2v1.2H621.3zM631.4 82.5h2.2v1.2H631.4zM638.5 82.5h1.2v1.2H638.5zM578.0 83.5h1.2v1.2H578.0zM580.0 83.5h1.2v1.2H580.0zM603.2 83.5h2.2v1.2H603.2zM606.2 83.5h1.2v1.2H606.2zM620.3 83.5h3.2v1.2H620.3zM637.5 83.5h1.2v1.2H637.5zM546.8 84.5h1.2v1.2H546.8zM578.0 84.5h1.2v1.2H578.0zM580.0 84.5h1.2v1.2H580.0zM604.2 84.5h3.2v1.2H604.2zM619.3 84.5h4.2v1.2H619.3zM636.4 84.5h1.2v1.2H636.4zM580.0 85.5h1.2v1.2H580.0zM606.2 85.5h1.2v1.2H606.2zM618.3 85.5h1.2v1.2H618.3zM577.0 86.5h1.2v1.2H577.0zM594.1 86.5h1.2v1.2H594.1zM618.3 86.5h1.2v1.2H618.3zM576.0 87.5h1.2v1.2H576.0zM580.0 87.5h1.2v1.2H580.0zM592.1 87.5h1.2v1.2H592.1zM606.2 87.5h1.2v1.2H606.2zM618.3 87.5h1.2v1.2H618.3zM635.4 87.5h1.2v1.2H635.4zM582.1 88.5h1.2v1.2H582.1zM586.1 88.5h1.2v1.2H586.1zM594.1 88.5h1.2v1.2H594.1zM633.4 88.5h1.2v1.2H633.4zM555.9 89.5h1.2v1.2H555.9zM557.9 89.5h1.2v1.2H557.9zM582.1 89.5h1.2v1.2H582.1zM607.2 89.5h2.2v1.2H607.2zM622.3 89.5h4.2v1.2H622.3zM631.4 89.5h1.2v1.2H631.4zM559.9 90.5h1.2v1.2H559.9zM576.0 90.5h1.2v1.2H576.0zM596.2 90.5h1.2v1.2H596.2zM599.2 90.5h2.2v1.2H599.2zM607.2 90.5h1.2v1.2H607.2zM613.3 90.5h1.2v1.2H613.3zM617.3 90.5h1.2v1.2H617.3zM621.3 90.5h3.2v1.2H621.3zM629.4 90.5h1.2v1.2H629.4zM559.9 91.5h1.2v1.2H559.9zM607.2 91.5h1.2v1.2H607.2zM615.3 91.5h2.2v1.2H615.3zM622.3 91.5h1.2v1.2H622.3zM627.4 91.5h1.2v1.2H627.4zM552.8 92.5h1.2v1.2H552.8zM602.2 92.5h1.2v1.2H602.2zM607.2 92.5h1.2v1.2H607.2zM614.3 92.5h4.2v1.2H614.3zM551.8 93.5h1.2v1.2H551.8zM555.9 93.5h2.2v1.2H555.9zM581.0 93.5h1.2v1.2H581.0zM593.1 93.5h1.2v1.2H593.1zM601.2 93.5h2.2v1.2H601.2zM625.4 93.5h1.2v1.2H625.4zM549.8 94.6h3.2v1.2H549.8zM557.9 94.6h1.2v1.2H557.9zM559.9 94.6h1.2v1.2H559.9zM600.2 94.6h1.2v1.2H600.2zM608.2 94.6h8.3v1.2H608.2zM547.8 95.6h1.2v1.2H547.8zM550.8 95.6h1.2v1.2H550.8zM553.9 95.6h1.2v1.2H553.9zM582.1 95.6h1.2v1.2H582.1zM594.1 95.6h3.2v1.2H594.1zM602.2 95.6h2.2v1.2H602.2zM612.3 95.6h1.2v1.2H612.3zM617.3 95.6h1.2v1.2H617.3zM548.8 96.6h2.2v1.2H548.8zM553.9 96.6h1.2v1.2H553.9zM602.2 96.6h4.2v1.2H602.2zM637.5 96.6h1.2v1.2H637.5zM612.3 97.6h1.2v1.2H612.3zM619.3 97.6h1.2v1.2H619.3zM637.5 97.6h1.2v1.2H637.5zM601.2 98.6h1.2v1.2H601.2zM620.3 98.6h2.2v1.2H620.3zM637.5 98.6h1.2v1.2H637.5zM549.8 99.6h1.2v1.2H549.8zM551.8 99.6h2.2v1.2H551.8zM597.2 99.6h1.2v1.2H597.2zM602.2 99.6h1.2v1.2H602.2zM612.3 99.6h1.2v1.2H612.3zM621.3 99.6h1.2v1.2H621.3zM548.8 100.6h2.2v1.2H548.8zM603.2 100.6h1.2v1.2H603.2zM607.2 100.6h2.2v1.2H607.2zM617.3 100.6h1.2v1.2H617.3zM572.0 101.6h3.2v1.2H572.0zM577.0 101.6h1.2v1.2H577.0zM580.0 101.6h1.2v1.2H580.0zM596.2 101.6h1.2v1.2H596.2zM609.3 101.6h1.2v1.2H609.3zM576.0 102.6h1.2v1.2H576.0zM604.2 102.6h3.2v1.2H604.2zM609.3 102.6h1.2v1.2H609.3zM619.3 102.6h1.2v1.2H619.3zM622.3 102.6h1.2v1.2H622.3zM572.0 103.6h1.2v1.2H572.0zM576.0 103.6h1.2v1.2H576.0zM609.3 103.6h1.2v1.2H609.3zM611.3 103.6h1.2v1.2H611.3zM613.3 103.6h1.2v1.2H613.3zM621.3 103.6h2.2v1.2H621.3zM572.0 104.6h1.2v1.2H572.0zM577.0 104.6h1.2v1.2H577.0zM597.2 104.6h1.2v1.2H597.2zM610.3 104.6h2.2v1.2H610.3zM613.3 104.6h1.2v1.2H613.3zM621.3 104.6h2.2v1.2H621.3zM578.0 105.6h1.2v1.2H578.0zM580.0 105.6h2.2v1.2H580.0zM603.2 105.6h1.2v1.2H603.2zM612.3 105.6h1.2v1.2H612.3zM621.3 105.6h2.2v1.2H621.3zM634.4 105.6h1.2v1.2H634.4zM582.1 106.6h1.2v1.2H582.1zM598.2 106.6h2.2v1.2H598.2zM601.2 106.6h1.2v1.2H601.2zM612.3 106.6h1.2v1.2H612.3zM622.3 106.6h1.2v1.2H622.3zM631.4 106.6h1.2v1.2H631.4zM633.4 106.6h1.2v1.2H633.4zM582.1 107.6h1.2v1.2H582.1zM586.1 107.6h1.2v1.2H586.1zM593.1 107.6h1.2v1.2H593.1zM630.4 107.6h1.2v1.2H630.4zM639.5 107.6h1.2v1.2H639.5zM581.0 108.7h2.2v1.2H581.0zM594.1 108.7h1.2v1.2H594.1zM612.3 108.7h1.2v1.2H612.3zM565.9 109.7h1.2v1.2H565.9zM582.1 109.7h3.2v1.2H582.1zM594.1 109.7h2.2v1.2H594.1zM640.5 109.7h1.2v1.2H640.5zM562.9 110.7h2.2v1.2H562.9zM571.0 110.7h1.2v1.2H571.0zM594.1 110.7h1.2v1.2H594.1zM605.2 110.7h1.2v1.2H605.2zM625.4 110.7h2.2v1.2H625.4zM641.5 110.7h1.2v1.2H641.5zM563.9 111.7h1.2v1.2H563.9zM571.0 111.7h4.2v1.2H571.0zM581.0 111.7h1.2v1.2H581.0zM586.1 111.7h1.2v1.2H586.1zM594.1 111.7h1.2v1.2H594.1zM597.2 111.7h1.2v1.2H597.2zM622.3 111.7h2.2v1.2H622.3zM546.8 112.7h6.2v1.2H546.8zM565.9 112.7h2.2v1.2H565.9zM571.0 112.7h4.2v1.2H571.0zM595.1 112.7h1.2v1.2H595.1zM602.2 112.7h1.2v1.2H602.2zM605.2 112.7h1.2v1.2H605.2zM621.3 112.7h1.2v1.2H621.3zM552.8 113.7h1.2v1.2H552.8zM571.0 113.7h4.2v1.2H571.0zM600.2 113.7h1.2v1.2H600.2zM620.3 113.7h1.2v1.2H620.3zM624.4 113.7h2.2v1.2H624.4zM642.5 113.7h1.2v1.2H642.5z"/><path fill="#cf751b" d="M548.8 18.0h3.2v1.2H548.8zM569.0 18.0h1.2v1.2H569.0zM604.2 18.0h1.2v1.2H604.2zM614.3 18.0h1.2v1.2H614.3zM623.4 18.0h1.2v1.2H623.4zM638.5 18.0h1.2v1.2H638.5zM548.8 19.0h3.2v1.2H548.8zM604.2 19.0h1.2v1.2H604.2zM614.3 19.0h2.2v1.2H614.3zM623.4 19.0h1.2v1.2H623.4zM634.4 19.0h1.2v1.2H634.4zM638.5 19.0h1.2v1.2H638.5zM548.8 20.0h3.2v1.2H548.8zM613.3 20.0h2.2v1.2H613.3zM616.3 20.0h2.2v1.2H616.3zM624.4 20.0h2.2v1.2H624.4zM548.8 21.0h3.2v1.2H548.8zM597.2 21.0h1.2v1.2H597.2zM601.2 21.0h3.2v1.2H601.2zM609.3 21.0h1.2v1.2H609.3zM612.3 21.0h2.2v1.2H612.3zM624.4 21.0h2.2v1.2H624.4zM641.5 21.0h1.2v1.2H641.5zM549.8 22.0h4.2v1.2H549.8zM609.3 22.0h4.2v1.2H609.3zM642.5 22.0h1.2v1.2H642.5zM549.8 23.0h5.2v1.2H549.8zM585.1 23.0h2.2v1.2H585.1zM610.3 23.0h4.2v1.2H610.3zM549.8 24.0h6.2v1.2H549.8zM614.3 24.0h2.2v1.2H614.3zM553.9 25.1h3.2v1.2H553.9zM557.9 25.1h2.2v1.2H557.9zM590.1 25.1h2.2v1.2H590.1zM624.4 25.1h1.2v1.2H624.4zM559.9 26.1h1.2v1.2H559.9zM591.1 26.1h1.2v1.2H591.1zM617.3 26.1h1.2v1.2H617.3zM624.4 26.1h1.2v1.2H624.4zM586.1 27.1h2.2v1.2H586.1zM560.9 28.1h1.2v1.2H560.9zM586.1 28.1h2.2v1.2H586.1zM561.9 29.1h6.2v1.2H561.9zM587.1 29.1h1.2v1.2H587.1zM617.3 29.1h1.2v1.2H617.3zM562.9 30.1h5.2v1.2H562.9zM587.1 30.1h1.2v1.2H587.1zM591.1 30.1h1.2v1.2H591.1zM617.3 30.1h1.2v1.2H617.3zM563.9 31.1h3.2v1.2H563.9zM623.4 31.1h1.2v1.2H623.4zM556.9 32.1h4.2v1.2H556.9zM555.9 33.1h1.2v1.2H555.9zM559.9 33.1h1.2v1.2H559.9zM595.1 33.1h1.2v1.2H595.1zM610.3 33.1h2.2v1.2H610.3zM564.9 34.1h1.2v1.2H564.9zM610.3 34.1h2.2v1.2H610.3zM559.9 36.1h1.2v1.2H559.9zM566.9 36.1h3.2v1.2H566.9zM550.8 37.1h2.2v1.2H550.8zM554.9 37.1h1.2v1.2H554.9zM570.0 37.1h1.2v1.2H570.0zM548.8 41.2h2.2v1.2H548.8zM561.9 41.2h3.2v1.2H561.9zM570.0 41.2h1.2v1.2H570.0zM548.8 42.2h2.2v1.2H548.8zM565.9 42.2h1.2v1.2H565.9zM569.0 42.2h1.2v1.2H569.0zM547.8 43.2h1.2v1.2H547.8zM550.8 43.2h5.2v1.2H550.8zM565.9 43.2h2.2v1.2H565.9zM579.0 43.2h3.2v1.2H579.0zM547.8 44.2h1.2v1.2H547.8zM556.9 44.2h1.2v1.2H556.9zM578.0 44.2h1.2v1.2H578.0zM580.0 44.2h3.2v1.2H580.0zM632.4 44.2h1.2v1.2H632.4zM548.8 45.2h1.2v1.2H548.8zM582.1 45.2h1.2v1.2H582.1zM587.1 45.2h2.2v1.2H587.1zM632.4 45.2h1.2v1.2H632.4zM559.9 46.2h1.2v1.2H559.9zM576.0 46.2h1.2v1.2H576.0zM582.1 46.2h1.2v1.2H582.1zM632.4 46.2h1.2v1.2H632.4zM564.9 47.2h1.2v1.2H564.9zM571.0 47.2h2.2v1.2H571.0zM575.0 47.2h1.2v1.2H575.0zM581.0 47.2h1.2v1.2H581.0zM599.2 47.2h1.2v1.2H599.2zM603.2 47.2h1.2v1.2H603.2zM631.4 47.2h2.2v1.2H631.4zM547.8 48.2h1.2v1.2H547.8zM570.0 48.2h1.2v1.2H570.0zM598.2 48.2h1.2v1.2H598.2zM602.2 48.2h2.2v1.2H602.2zM620.3 48.2h1.2v1.2H620.3zM546.8 49.2h2.2v1.2H546.8zM565.9 49.2h1.2v1.2H565.9zM570.0 49.2h1.2v1.2H570.0zM602.2 49.2h4.2v1.2H602.2zM622.3 49.2h1.2v1.2H622.3zM546.8 50.2h2.2v1.2H546.8zM565.9 50.2h1.2v1.2H565.9zM570.0 50.2h1.2v1.2H570.0zM602.2 50.2h2.2v1.2H602.2zM605.2 50.2h2.2v1.2H605.2zM546.8 51.2h2.2v1.2H546.8zM599.2 51.2h1.2v1.2H599.2zM601.2 51.2h1.2v1.2H601.2zM546.8 52.2h2.2v1.2H546.8zM571.0 52.2h1.2v1.2H571.0zM580.0 52.2h1.2v1.2H580.0zM623.4 52.2h1.2v1.2H623.4zM632.4 52.2h1.2v1.2H632.4zM548.8 53.3h1.2v1.2H548.8zM573.0 53.3h2.2v1.2H573.0zM609.3 53.3h3.2v1.2H609.3zM618.3 53.3h1.2v1.2H618.3zM624.4 53.3h1.2v1.2H624.4zM548.8 54.3h1.2v1.2H548.8zM565.9 54.3h1.2v1.2H565.9zM587.1 54.3h3.2v1.2H587.1zM608.2 54.3h1.2v1.2H608.2zM612.3 54.3h1.2v1.2H612.3zM625.4 54.3h3.2v1.2H625.4zM629.4 54.3h2.2v1.2H629.4zM549.8 55.3h1.2v1.2H549.8zM556.9 55.3h3.2v1.2H556.9zM565.9 55.3h2.2v1.2H565.9zM586.1 55.3h4.2v1.2H586.1zM608.2 55.3h1.2v1.2H608.2zM618.3 55.3h1.2v1.2H618.3zM626.4 55.3h5.2v1.2H626.4zM556.9 56.3h3.2v1.2H556.9zM565.9 56.3h1.2v1.2H565.9zM586.1 56.3h1.2v1.2H586.1zM618.3 56.3h1.2v1.2H618.3zM628.4 56.3h3.2v1.2H628.4zM551.8 57.3h2.2v1.2H551.8zM569.0 57.3h1.2v1.2H569.0zM582.1 57.3h2.2v1.2H582.1zM585.1 57.3h2.2v1.2H585.1zM628.4 57.3h2.2v1.2H628.4zM554.9 58.3h1.2v1.2H554.9zM560.9 58.3h4.2v1.2H560.9zM581.0 58.3h3.2v1.2H581.0zM585.1 58.3h2.2v1.2H585.1zM614.3 58.3h1.2v1.2H614.3zM628.4 58.3h1.2v1.2H628.4zM554.9 59.3h1.2v1.2H554.9zM559.9 59.3h1.2v1.2H559.9zM563.9 59.3h1.2v1.2H563.9zM571.0 59.3h1.2v1.2H571.0zM578.0 59.3h2.2v1.2H578.0zM583.1 59.3h1.2v1.2H583.1zM585.1 59.3h2.2v1.2H585.1zM615.3 59.3h2.2v1.2H615.3zM627.4 59.3h1.2v1.2H627.4zM559.9 60.3h1.2v1.2H559.9zM577.0 60.3h2.2v1.2H577.0zM584.1 60.3h3.2v1.2H584.1zM627.4 60.3h1.2v1.2H627.4zM559.9 61.3h1.2v1.2H559.9zM564.9 61.3h1.2v1.2H564.9zM578.0 61.3h1.2v1.2H578.0zM584.1 61.3h2.2v1.2H584.1zM578.0 62.3h1.2v1.2H578.0zM615.3 62.3h2.2v1.2H615.3zM626.4 62.3h1.2v1.2H626.4zM559.9 63.3h1.2v1.2H559.9zM572.0 63.3h1.2v1.2H572.0zM578.0 63.3h2.2v1.2H578.0zM584.1 63.3h1.2v1.2H584.1zM614.3 63.3h4.2v1.2H614.3zM624.4 63.3h1.2v1.2H624.4zM559.9 64.3h1.2v1.2H559.9zM572.0 64.3h1.2v1.2H572.0zM578.0 64.3h2.2v1.2H578.0zM584.1 64.3h1.2v1.2H584.1zM608.2 64.3h3.2v1.2H608.2zM615.3 64.3h3.2v1.2H615.3zM572.0 65.3h1.2v1.2H572.0zM579.0 65.3h2.2v1.2H579.0zM617.3 65.3h1.2v1.2H617.3zM554.9 66.3h2.2v1.2H554.9zM558.9 66.3h1.2v1.2H558.9zM572.0 66.3h3.2v1.2H572.0zM580.0 66.3h1.2v1.2H580.0zM585.1 66.3h1.2v1.2H585.1zM617.3 66.3h1.2v1.2H617.3zM624.4 66.3h1.2v1.2H624.4zM566.9 67.4h1.2v1.2H566.9zM572.0 67.4h4.2v1.2H572.0zM586.1 67.4h1.2v1.2H586.1zM617.3 67.4h1.2v1.2H617.3zM624.4 67.4h1.2v1.2H624.4zM566.9 68.4h3.2v1.2H566.9zM575.0 68.4h1.2v1.2H575.0zM581.0 68.4h1.2v1.2H581.0zM587.1 68.4h1.2v1.2H587.1zM616.3 68.4h1.2v1.2H616.3zM568.0 69.4h3.2v1.2H568.0zM575.0 69.4h1.2v1.2H575.0zM579.0 69.4h1.2v1.2H579.0zM581.0 69.4h1.2v1.2H581.0zM590.1 69.4h2.2v1.2H590.1zM615.3 69.4h1.2v1.2H615.3zM625.4 69.4h1.2v1.2H625.4zM570.0 70.4h1.2v1.2H570.0zM581.0 70.4h1.2v1.2H581.0zM588.1 70.4h1.2v1.2H588.1zM590.1 70.4h2.2v1.2H590.1zM626.4 70.4h1.2v1.2H626.4zM581.0 71.4h1.2v1.2H581.0zM590.1 71.4h2.2v1.2H590.1zM626.4 71.4h1.2v1.2H626.4zM571.0 72.4h1.2v1.2H571.0zM577.0 72.4h1.2v1.2H577.0zM580.0 72.4h2.2v1.2H580.0zM587.1 72.4h1.2v1.2H587.1zM590.1 72.4h2.2v1.2H590.1zM615.3 72.4h1.2v1.2H615.3zM626.4 72.4h1.2v1.2H626.4zM572.0 73.4h1.2v1.2H572.0zM577.0 73.4h1.2v1.2H577.0zM581.0 73.4h1.2v1.2H581.0zM587.1 73.4h1.2v1.2H587.1zM614.3 73.4h1.2v1.2H614.3zM625.4 73.4h1.2v1.2H625.4zM573.0 74.4h1.2v1.2H573.0zM576.0 74.4h2.2v1.2H576.0zM581.0 74.4h1.2v1.2H581.0zM586.1 74.4h2.2v1.2H586.1zM605.2 74.4h9.3v1.2H605.2zM619.3 74.4h1.2v1.2H619.3zM624.4 74.4h2.2v1.2H624.4zM573.0 75.4h5.2v1.2H573.0zM581.0 75.4h3.2v1.2H581.0zM585.1 75.4h2.2v1.2H585.1zM605.2 75.4h4.2v1.2H605.2zM618.3 75.4h1.2v1.2H618.3zM625.4 75.4h1.2v1.2H625.4zM573.0 76.4h4.2v1.2H573.0zM618.3 76.4h3.2v1.2H618.3zM625.4 76.4h1.2v1.2H625.4zM631.4 76.4h3.2v1.2H631.4zM574.0 77.4h2.2v1.2H574.0zM617.3 77.4h3.2v1.2H617.3zM625.4 77.4h2.2v1.2H625.4zM630.4 77.4h1.2v1.2H630.4zM633.4 77.4h1.2v1.2H633.4zM608.2 78.4h2.2v1.2H608.2zM612.3 78.4h1.2v1.2H612.3zM616.3 78.4h3.2v1.2H616.3zM624.4 78.4h3.2v1.2H624.4zM629.4 78.4h2.2v1.2H629.4zM633.4 78.4h1.2v1.2H633.4zM624.4 79.4h1.2v1.2H624.4zM630.4 79.4h2.2v1.2H630.4zM633.4 79.4h1.2v1.2H633.4zM546.8 80.5h1.2v1.2H546.8zM622.3 80.5h2.2v1.2H622.3zM630.4 80.5h4.2v1.2H630.4zM546.8 81.5h1.2v1.2H546.8zM603.2 81.5h4.2v1.2H603.2zM622.3 81.5h1.2v1.2H622.3zM630.4 81.5h1.2v1.2H630.4zM634.4 81.5h1.2v1.2H634.4zM637.5 81.5h2.2v1.2H637.5zM546.8 82.5h1.2v1.2H546.8zM603.2 82.5h4.2v1.2H603.2zM622.3 82.5h1.2v1.2H622.3zM630.4 82.5h1.2v1.2H630.4zM633.4 82.5h2.2v1.2H633.4zM637.5 82.5h1.2v1.2H637.5zM546.8 83.5h1.2v1.2H546.8zM579.0 83.5h1.2v1.2H579.0zM605.2 83.5h1.2v1.2H605.2zM623.4 83.5h1.2v1.2H623.4zM636.4 83.5h1.2v1.2H636.4zM579.0 84.5h1.2v1.2H579.0zM618.3 84.5h1.2v1.2H618.3zM623.4 84.5h1.2v1.2H623.4zM635.4 84.5h1.2v1.2H635.4zM578.0 85.5h2.2v1.2H578.0zM605.2 85.5h1.2v1.2H605.2zM619.3 85.5h4.2v1.2H619.3zM635.4 85.5h1.2v1.2H635.4zM578.0 86.5h2.2v1.2H578.0zM593.1 86.5h1.2v1.2H593.1zM605.2 86.5h2.2v1.2H605.2zM619.3 86.5h1.2v1.2H619.3zM635.4 86.5h1.2v1.2H635.4zM577.0 87.5h3.2v1.2H577.0zM593.1 87.5h2.2v1.2H593.1zM605.2 87.5h1.2v1.2H605.2zM619.3 87.5h1.2v1.2H619.3zM576.0 88.5h1.2v1.2H576.0zM580.0 88.5h2.2v1.2H580.0zM593.1 88.5h1.2v1.2H593.1zM618.3 88.5h2.2v1.2H618.3zM556.9 89.5h1.2v1.2H556.9zM576.0 89.5h1.2v1.2H576.0zM581.0 89.5h1.2v1.2H581.0zM593.1 89.5h2.2v1.2H593.1zM618.3 89.5h2.2v1.2H618.3zM621.3 89.5h1.2v1.2H621.3zM629.4 89.5h2.2v1.2H629.4zM554.9 90.5h5.2v1.2H554.9zM581.0 90.5h1.2v1.2H581.0zM593.1 90.5h3.2v1.2H593.1zM597.2 90.5h2.2v1.2H597.2zM608.2 90.5h5.2v1.2H608.2zM618.3 90.5h3.2v1.2H618.3zM624.4 90.5h5.2v1.2H624.4zM553.9 91.5h2.2v1.2H553.9zM581.0 91.5h1.2v1.2H581.0zM593.1 91.5h1.2v1.2H593.1zM608.2 91.5h1.2v1.2H608.2zM613.3 91.5h2.2v1.2H613.3zM617.3 91.5h2.2v1.2H617.3zM623.4 91.5h4.2v1.2H623.4zM553.9 92.5h1.2v1.2H553.9zM559.9 92.5h1.2v1.2H559.9zM581.0 92.5h1.2v1.2H581.0zM593.1 92.5h1.2v1.2H593.1zM608.2 92.5h1.2v1.2H608.2zM613.3 92.5h1.2v1.2H613.3zM624.4 92.5h3.2v1.2H624.4zM552.8 93.5h3.2v1.2H552.8zM559.9 93.5h1.2v1.2H559.9zM608.2 93.5h2.2v1.2H608.2zM612.3 93.5h2.2v1.2H612.3zM552.8 94.6h3.2v1.2H552.8zM558.9 94.6h1.2v1.2H558.9zM581.0 94.6h1.2v1.2H581.0zM594.1 94.6h1.2v1.2H594.1zM599.2 94.6h1.2v1.2H599.2zM546.8 95.6h1.2v1.2H546.8zM551.8 95.6h2.2v1.2H551.8zM576.0 95.6h1.2v1.2H576.0zM613.3 95.6h2.2v1.2H613.3zM547.8 96.6h1.2v1.2H547.8zM550.8 96.6h3.2v1.2H550.8zM576.0 96.6h1.2v1.2H576.0zM582.1 96.6h1.2v1.2H582.1zM613.3 96.6h1.2v1.2H613.3zM548.8 97.6h3.2v1.2H548.8zM552.8 97.6h1.2v1.2H552.8zM576.0 97.6h1.2v1.2H576.0zM582.1 97.6h1.2v1.2H582.1zM613.3 97.6h1.2v1.2H613.3zM549.8 98.6h4.2v1.2H549.8zM576.0 98.6h1.2v1.2H576.0zM612.3 98.6h2.2v1.2H612.3zM619.3 98.6h1.2v1.2H619.3zM548.8 99.6h1.2v1.2H548.8zM550.8 99.6h1.2v1.2H550.8zM576.0 99.6h1.2v1.2H576.0zM581.0 99.6h1.2v1.2H581.0zM598.2 99.6h4.2v1.2H598.2zM613.3 99.6h3.2v1.2H613.3zM619.3 99.6h2.2v1.2H619.3zM546.8 100.6h2.2v1.2H546.8zM576.0 100.6h6.2v1.2H576.0zM597.2 100.6h1.2v1.2H597.2zM602.2 100.6h1.2v1.2H602.2zM618.3 100.6h4.2v1.2H618.3zM575.0 101.6h2.2v1.2H575.0zM603.2 101.6h1.2v1.2H603.2zM607.2 101.6h2.2v1.2H607.2zM619.3 101.6h3.2v1.2H619.3zM572.0 102.6h4.2v1.2H572.0zM607.2 102.6h2.2v1.2H607.2zM620.3 102.6h2.2v1.2H620.3zM573.0 103.6h1.2v1.2H573.0zM575.0 103.6h1.2v1.2H575.0zM597.2 103.6h1.2v1.2H597.2zM604.2 103.6h5.2v1.2H604.2zM612.3 103.6h1.2v1.2H612.3zM573.0 104.6h1.2v1.2H573.0zM575.0 104.6h2.2v1.2H575.0zM604.2 104.6h6.2v1.2H604.2zM612.3 104.6h1.2v1.2H612.3zM573.0 105.6h1.2v1.2H573.0zM598.2 105.6h1.2v1.2H598.2zM602.2 105.6h1.2v1.2H602.2zM604.2 105.6h1.2v1.2H604.2zM610.3 105.6h2.2v1.2H610.3zM635.4 105.6h1.2v1.2H635.4zM581.0 106.6h1.2v1.2H581.0zM636.4 106.6h1.2v1.2H636.4zM587.1 107.6h1.2v1.2H587.1zM591.1 107.6h2.2v1.2H591.1zM603.2 107.6h1.2v1.2H603.2zM612.3 107.6h1.2v1.2H612.3zM638.5 107.6h1.2v1.2H638.5zM571.0 108.7h1.2v1.2H571.0zM583.1 108.7h3.2v1.2H583.1zM592.1 108.7h2.2v1.2H592.1zM603.2 108.7h1.2v1.2H603.2zM639.5 108.7h1.2v1.2H639.5zM571.0 109.7h1.2v1.2H571.0zM581.0 109.7h1.2v1.2H581.0zM585.1 109.7h1.2v1.2H585.1zM592.1 109.7h2.2v1.2H592.1zM603.2 109.7h1.2v1.2H603.2zM606.2 109.7h6.2v1.2H606.2zM639.5 109.7h1.2v1.2H639.5zM564.9 110.7h3.2v1.2H564.9zM581.0 110.7h1.2v1.2H581.0zM586.1 110.7h1.2v1.2H586.1zM592.1 110.7h2.2v1.2H592.1zM595.1 110.7h2.2v1.2H595.1zM603.2 110.7h2.2v1.2H603.2zM627.4 110.7h3.2v1.2H627.4zM640.5 110.7h1.2v1.2H640.5zM564.9 111.7h3.2v1.2H564.9zM592.1 111.7h2.2v1.2H592.1zM595.1 111.7h2.2v1.2H595.1zM603.2 111.7h2.2v1.2H603.2zM624.4 111.7h3.2v1.2H624.4zM641.5 111.7h2.2v1.2H641.5zM575.0 112.7h1.2v1.2H575.0zM586.1 112.7h1.2v1.2H586.1zM593.1 112.7h2.2v1.2H593.1zM603.2 112.7h2.2v1.2H603.2zM622.3 112.7h4.2v1.2H622.3zM642.5 112.7h1.2v1.2H642.5zM546.8 113.7h6.2v1.2H546.8zM575.0 113.7h1.2v1.2H575.0zM586.1 113.7h1.2v1.2H586.1zM593.1 113.7h2.2v1.2H593.1zM601.2 113.7h5.2v1.2H601.2zM621.3 113.7h3.2v1.2H621.3z"/><path fill="#bd631b" d="M553.9 18.0h1.2v1.2H553.9zM566.9 18.0h1.2v1.2H566.9zM570.0 18.0h2.2v1.2H570.0zM592.1 18.0h2.2v1.2H592.1zM605.2 18.0h4.2v1.2H605.2zM615.3 18.0h3.2v1.2H615.3zM624.4 18.0h3.2v1.2H624.4zM628.4 18.0h2.2v1.2H628.4zM635.4 18.0h2.2v1.2H635.4zM546.8 19.0h1.2v1.2H546.8zM553.9 19.0h1.2v1.2H553.9zM566.9 19.0h4.2v1.2H566.9zM592.1 19.0h3.2v1.2H592.1zM605.2 19.0h4.2v1.2H605.2zM625.4 19.0h5.2v1.2H625.4zM635.4 19.0h2.2v1.2H635.4zM546.8 20.0h1.2v1.2H546.8zM552.8 20.0h2.2v1.2H552.8zM592.1 20.0h3.2v1.2H592.1zM605.2 20.0h4.2v1.2H605.2zM626.4 20.0h4.2v1.2H626.4zM634.4 20.0h3.2v1.2H634.4zM639.5 20.0h2.2v1.2H639.5zM546.8 21.0h2.2v1.2H546.8zM553.9 21.0h2.2v1.2H553.9zM591.1 21.0h6.2v1.2H591.1zM605.2 21.0h4.2v1.2H605.2zM626.4 21.0h4.2v1.2H626.4zM633.4 21.0h3.2v1.2H633.4zM637.5 21.0h4.2v1.2H637.5zM546.8 22.0h2.2v1.2H546.8zM554.9 22.0h2.2v1.2H554.9zM582.1 22.0h13.3v1.2H582.1zM597.2 22.0h12.3v1.2H597.2zM625.4 22.0h10.3v1.2H625.4zM640.5 22.0h2.2v1.2H640.5zM546.8 23.0h2.2v1.2H546.8zM555.9 23.0h4.2v1.2H555.9zM581.0 23.0h3.2v1.2H581.0zM588.1 23.0h7.3v1.2H588.1zM596.2 23.0h2.2v1.2H596.2zM604.2 23.0h5.2v1.2H604.2zM624.4 23.0h11.3v1.2H624.4zM641.5 23.0h2.2v1.2H641.5zM546.8 24.0h2.2v1.2H546.8zM555.9 24.0h5.2v1.2H555.9zM581.0 24.0h4.2v1.2H581.0zM587.1 24.0h10.3v1.2H587.1zM607.2 24.0h3.2v1.2H607.2zM625.4 24.0h9.3v1.2H625.4zM641.5 24.0h2.2v1.2H641.5zM548.8 25.1h1.2v1.2H548.8zM559.9 25.1h2.2v1.2H559.9zM562.9 25.1h2.2v1.2H562.9zM582.1 25.1h8.3v1.2H582.1zM592.1 25.1h5.2v1.2H592.1zM609.3 25.1h8.3v1.2H609.3zM625.4 25.1h2.2v1.2H625.4zM632.4 25.1h1.2v1.2H632.4zM642.5 25.1h1.2v1.2H642.5zM560.9 26.1h3.2v1.2H560.9zM564.9 26.1h5.2v1.2H564.9zM584.1 26.1h5.2v1.2H584.1zM592.1 26.1h2.2v1.2H592.1zM595.1 26.1h1.2v1.2H595.1zM604.2 26.1h2.2v1.2H604.2zM610.3 26.1h7.3v1.2H610.3zM625.4 26.1h1.2v1.2H625.4zM561.9 27.1h2.2v1.2H561.9zM564.9 27.1h7.3v1.2H564.9zM585.1 27.1h1.2v1.2H585.1zM592.1 27.1h2.2v1.2H592.1zM604.2 27.1h4.2v1.2H604.2zM611.3 27.1h6.2v1.2H611.3zM624.4 27.1h1.2v1.2H624.4zM561.9 28.1h1.2v1.2H561.9zM568.0 28.1h3.2v1.2H568.0zM572.0 28.1h1.2v1.2H572.0zM585.1 28.1h1.2v1.2H585.1zM592.1 28.1h1.2v1.2H592.1zM604.2 28.1h5.2v1.2H604.2zM613.3 28.1h5.2v1.2H613.3zM624.4 28.1h1.2v1.2H624.4zM569.0 29.1h5.2v1.2H569.0zM585.1 29.1h1.2v1.2H585.1zM593.1 29.1h1.2v1.2H593.1zM604.2 29.1h5.2v1.2H604.2zM613.3 29.1h4.2v1.2H613.3zM624.4 29.1h1.2v1.2H624.4zM569.0 30.1h6.2v1.2H569.0zM584.1 30.1h2.2v1.2H584.1zM594.1 30.1h1.2v1.2H594.1zM604.2 30.1h1.2v1.2H604.2zM607.2 30.1h2.2v1.2H607.2zM613.3 30.1h4.2v1.2H613.3zM625.4 30.1h1.2v1.2H625.4zM637.5 30.1h1.2v1.2H637.5zM569.0 31.1h6.2v1.2H569.0zM581.0 31.1h7.3v1.2H581.0zM591.1 31.1h2.2v1.2H591.1zM594.1 31.1h2.2v1.2H594.1zM606.2 31.1h8.3v1.2H606.2zM617.3 31.1h1.2v1.2H617.3zM624.4 31.1h2.2v1.2H624.4zM636.4 31.1h4.2v1.2H636.4zM566.9 32.1h2.2v1.2H566.9zM572.0 32.1h2.2v1.2H572.0zM581.0 32.1h13.3v1.2H581.0zM596.2 32.1h1.2v1.2H596.2zM609.3 32.1h1.2v1.2H609.3zM612.3 32.1h1.2v1.2H612.3zM619.3 32.1h8.3v1.2H619.3zM631.4 32.1h9.3v1.2H631.4zM642.5 32.1h1.2v1.2H642.5zM557.9 33.1h1.2v1.2H557.9zM566.9 33.1h2.2v1.2H566.9zM572.0 33.1h2.2v1.2H572.0zM581.0 33.1h7.3v1.2H581.0zM592.1 33.1h2.2v1.2H592.1zM597.2 33.1h1.2v1.2H597.2zM609.3 33.1h1.2v1.2H609.3zM612.3 33.1h1.2v1.2H612.3zM623.4 33.1h9.3v1.2H623.4zM634.4 33.1h9.3v1.2H634.4zM555.9 34.1h4.2v1.2H555.9zM565.9 34.1h3.2v1.2H565.9zM570.0 34.1h5.2v1.2H570.0zM581.0 34.1h3.2v1.2H581.0zM585.1 34.1h2.2v1.2H585.1zM592.1 34.1h3.2v1.2H592.1zM596.2 34.1h2.2v1.2H596.2zM609.3 34.1h1.2v1.2H609.3zM612.3 34.1h1.2v1.2H612.3zM624.4 34.1h8.3v1.2H624.4zM634.4 34.1h9.3v1.2H634.4zM555.9 35.1h4.2v1.2H555.9zM566.9 35.1h1.2v1.2H566.9zM570.0 35.1h5.2v1.2H570.0zM581.0 35.1h5.2v1.2H581.0zM592.1 35.1h6.2v1.2H592.1zM609.3 35.1h1.2v1.2H609.3zM612.3 35.1h1.2v1.2H612.3zM625.4 35.1h18.3v1.2H625.4zM557.9 36.1h1.2v1.2H557.9zM571.0 36.1h3.2v1.2H571.0zM594.1 36.1h3.2v1.2H594.1zM609.3 36.1h4.2v1.2H609.3zM546.8 37.1h4.2v1.2H546.8zM571.0 37.1h2.2v1.2H571.0zM594.1 37.1h3.2v1.2H594.1zM610.3 37.1h5.2v1.2H610.3zM617.3 37.1h6.2v1.2H617.3zM546.8 38.1h8.3v1.2H546.8zM572.0 38.1h1.2v1.2H572.0zM595.1 38.1h2.2v1.2H595.1zM610.3 38.1h14.3v1.2H610.3zM546.8 39.2h8.3v1.2H546.8zM572.0 39.2h1.2v1.2H572.0zM613.3 39.2h5.2v1.2H613.3zM619.3 39.2h4.2v1.2H619.3zM546.8 40.2h3.2v1.2H546.8zM551.8 40.2h3.2v1.2H551.8zM571.0 40.2h2.2v1.2H571.0zM615.3 40.2h8.3v1.2H615.3zM546.8 41.2h2.2v1.2H546.8zM552.8 41.2h2.2v1.2H552.8zM571.0 41.2h1.2v1.2H571.0zM615.3 41.2h5.2v1.2H615.3zM546.8 42.2h1.2v1.2H546.8zM552.8 42.2h1.2v1.2H552.8zM559.9 42.2h5.2v1.2H559.9zM570.0 42.2h2.2v1.2H570.0zM578.0 42.2h5.2v1.2H578.0zM599.2 42.2h3.2v1.2H599.2zM558.9 43.2h7.3v1.2H558.9zM569.0 43.2h2.2v1.2H569.0zM577.0 43.2h1.2v1.2H577.0zM583.1 43.2h8.3v1.2H583.1zM598.2 43.2h4.2v1.2H598.2zM631.4 43.2h3.2v1.2H631.4zM558.9 44.2h5.2v1.2H558.9zM564.9 44.2h7.3v1.2H564.9zM576.0 44.2h2.2v1.2H576.0zM583.1 44.2h3.2v1.2H583.1zM590.1 44.2h2.2v1.2H590.1zM598.2 44.2h4.2v1.2H598.2zM630.4 44.2h2.2v1.2H630.4zM633.4 44.2h2.2v1.2H633.4zM559.9 45.2h1.2v1.2H559.9zM561.9 45.2h15.3v1.2H561.9zM584.1 45.2h1.2v1.2H584.1zM590.1 45.2h2.2v1.2H590.1zM598.2 45.2h5.2v1.2H598.2zM630.4 45.2h1.2v1.2H630.4zM634.4 45.2h1.2v1.2H634.4zM546.8 46.2h1.2v1.2H546.8zM561.9 46.2h7.3v1.2H561.9zM570.0 46.2h6.2v1.2H570.0zM584.1 46.2h4.2v1.2H584.1zM590.1 46.2h2.2v1.2H590.1zM597.2 46.2h7.3v1.2H597.2zM617.3 46.2h7.3v1.2H617.3zM630.4 46.2h1.2v1.2H630.4zM634.4 46.2h1.2v1.2H634.4zM640.5 46.2h3.2v1.2H640.5zM546.8 47.2h1.2v1.2H546.8zM565.9 47.2h3.2v1.2H565.9zM574.0 47.2h1.2v1.2H574.0zM584.1 47.2h7.3v1.2H584.1zM593.1 47.2h1.2v1.2H593.1zM596.2 47.2h2.2v1.2H596.2zM601.2 47.2h1.2v1.2H601.2zM604.2 47.2h1.2v1.2H604.2zM615.3 47.2h6.2v1.2H615.3zM622.3 47.2h2.2v1.2H622.3zM630.4 47.2h1.2v1.2H630.4zM634.4 47.2h9.3v1.2H634.4zM546.8 48.2h1.2v1.2H546.8zM565.9 48.2h3.2v1.2H565.9zM582.1 48.2h2.2v1.2H582.1zM588.1 48.2h2.2v1.2H588.1zM596.2 48.2h2.2v1.2H596.2zM605.2 48.2h3.2v1.2H605.2zM614.3 48.2h5.2v1.2H614.3zM623.4 48.2h1.2v1.2H623.4zM630.4 48.2h1.2v1.2H630.4zM634.4 48.2h9.3v1.2H634.4zM566.9 49.2h2.2v1.2H566.9zM581.0 49.2h2.2v1.2H581.0zM596.2 49.2h2.2v1.2H596.2zM607.2 49.2h1.2v1.2H607.2zM614.3 49.2h1.2v1.2H614.3zM616.3 49.2h3.2v1.2H616.3zM623.4 49.2h2.2v1.2H623.4zM630.4 49.2h2.2v1.2H630.4zM633.4 49.2h10.3v1.2H633.4zM566.9 50.2h2.2v1.2H566.9zM581.0 50.2h2.2v1.2H581.0zM596.2 50.2h2.2v1.2H596.2zM607.2 50.2h1.2v1.2H607.2zM614.3 50.2h1.2v1.2H614.3zM617.3 50.2h2.2v1.2H617.3zM623.4 50.2h2.2v1.2H623.4zM630.4 50.2h2.2v1.2H630.4zM633.4 50.2h10.3v1.2H633.4zM566.9 51.2h3.2v1.2H566.9zM581.0 51.2h3.2v1.2H581.0zM596.2 51.2h3.2v1.2H596.2zM603.2 51.2h6.2v1.2H603.2zM613.3 51.2h2.2v1.2H613.3zM616.3 51.2h2.2v1.2H616.3zM623.4 51.2h2.2v1.2H623.4zM630.4 51.2h2.2v1.2H630.4zM634.4 51.2h9.3v1.2H634.4zM565.9 52.2h4.2v1.2H565.9zM581.0 52.2h4.2v1.2H581.0zM589.1 52.2h11.3v1.2H589.1zM602.2 52.2h1.2v1.2H602.2zM607.2 52.2h11.3v1.2H607.2zM624.4 52.2h2.2v1.2H624.4zM628.4 52.2h4.2v1.2H628.4zM634.4 52.2h7.3v1.2H634.4zM546.8 53.3h1.2v1.2H546.8zM566.9 53.3h4.2v1.2H566.9zM577.0 53.3h20.3v1.2H577.0zM607.2 53.3h1.2v1.2H607.2zM613.3 53.3h5.2v1.2H613.3zM625.4 53.3h7.3v1.2H625.4zM633.4 53.3h7.3v1.2H633.4zM547.8 54.3h1.2v1.2H547.8zM568.0 54.3h15.3v1.2H568.0zM591.1 54.3h2.2v1.2H591.1zM596.2 54.3h1.2v1.2H596.2zM613.3 54.3h4.2v1.2H613.3zM631.4 54.3h8.3v1.2H631.4zM548.8 55.3h1.2v1.2H548.8zM568.0 55.3h10.3v1.2H568.0zM581.0 55.3h2.2v1.2H581.0zM591.1 55.3h1.2v1.2H591.1zM596.2 55.3h1.2v1.2H596.2zM613.3 55.3h4.2v1.2H613.3zM631.4 55.3h8.3v1.2H631.4zM548.8 56.3h1.2v1.2H548.8zM568.0 56.3h5.2v1.2H568.0zM576.0 56.3h2.2v1.2H576.0zM580.0 56.3h3.2v1.2H580.0zM588.1 56.3h2.2v1.2H588.1zM592.1 56.3h4.2v1.2H592.1zM613.3 56.3h5.2v1.2H613.3zM631.4 56.3h8.3v1.2H631.4zM549.8 57.3h1.2v1.2H549.8zM571.0 57.3h2.2v1.2H571.0zM575.0 57.3h6.2v1.2H575.0zM587.1 57.3h4.2v1.2H587.1zM592.1 57.3h1.2v1.2H592.1zM607.2 57.3h1.2v1.2H607.2zM614.3 57.3h4.2v1.2H614.3zM631.4 57.3h6.2v1.2H631.4zM638.5 57.3h1.2v1.2H638.5zM551.8 58.3h2.2v1.2H551.8zM571.0 58.3h2.2v1.2H571.0zM575.0 58.3h2.2v1.2H575.0zM578.0 58.3h2.2v1.2H578.0zM587.1 58.3h5.2v1.2H587.1zM607.2 58.3h1.2v1.2H607.2zM616.3 58.3h1.2v1.2H616.3zM630.4 58.3h1.2v1.2H630.4zM635.4 58.3h4.2v1.2H635.4zM553.9 59.3h1.2v1.2H553.9zM561.9 59.3h1.2v1.2H561.9zM572.0 59.3h1.2v1.2H572.0zM575.0 59.3h2.2v1.2H575.0zM588.1 59.3h1.2v1.2H588.1zM596.2 59.3h1.2v1.2H596.2zM607.2 59.3h1.2v1.2H607.2zM628.4 59.3h2.2v1.2H628.4zM635.4 59.3h4.2v1.2H635.4zM561.9 60.3h2.2v1.2H561.9zM572.0 60.3h2.2v1.2H572.0zM575.0 60.3h2.2v1.2H575.0zM587.1 60.3h2.2v1.2H587.1zM607.2 60.3h1.2v1.2H607.2zM628.4 60.3h2.2v1.2H628.4zM635.4 60.3h4.2v1.2H635.4zM554.9 61.3h1.2v1.2H554.9zM561.9 61.3h3.2v1.2H561.9zM572.0 61.3h6.2v1.2H572.0zM586.1 61.3h3.2v1.2H586.1zM607.2 61.3h2.2v1.2H607.2zM627.4 61.3h3.2v1.2H627.4zM635.4 61.3h4.2v1.2H635.4zM554.9 62.3h1.2v1.2H554.9zM561.9 62.3h1.2v1.2H561.9zM563.9 62.3h1.2v1.2H563.9zM572.0 62.3h6.2v1.2H572.0zM586.1 62.3h2.2v1.2H586.1zM607.2 62.3h2.2v1.2H607.2zM627.4 62.3h2.2v1.2H627.4zM635.4 62.3h4.2v1.2H635.4zM553.9 63.3h2.2v1.2H553.9zM560.9 63.3h2.2v1.2H560.9zM563.9 63.3h2.2v1.2H563.9zM573.0 63.3h5.2v1.2H573.0zM585.1 63.3h2.2v1.2H585.1zM607.2 63.3h2.2v1.2H607.2zM626.4 63.3h3.2v1.2H626.4zM636.4 63.3h3.2v1.2H636.4zM553.9 64.3h2.2v1.2H553.9zM560.9 64.3h1.2v1.2H560.9zM563.9 64.3h2.2v1.2H563.9zM573.0 64.3h5.2v1.2H573.0zM585.1 64.3h2.2v1.2H585.1zM607.2 64.3h1.2v1.2H607.2zM613.3 64.3h1.2v1.2H613.3zM624.4 64.3h4.2v1.2H624.4zM637.5 64.3h1.2v1.2H637.5zM552.8 65.3h2.2v1.2H552.8zM560.9 65.3h1.2v1.2H560.9zM563.9 65.3h2.2v1.2H563.9zM574.0 65.3h4.2v1.2H574.0zM585.1 65.3h2.2v1.2H585.1zM604.2 65.3h1.2v1.2H604.2zM606.2 65.3h2.2v1.2H606.2zM610.3 65.3h5.2v1.2H610.3zM624.4 65.3h2.2v1.2H624.4zM639.5 65.3h4.2v1.2H639.5zM552.8 66.3h1.2v1.2H552.8zM559.9 66.3h2.2v1.2H559.9zM564.9 66.3h1.2v1.2H564.9zM576.0 66.3h4.2v1.2H576.0zM587.1 66.3h2.2v1.2H587.1zM607.2 66.3h10.3v1.2H607.2zM625.4 66.3h1.2v1.2H625.4zM638.5 66.3h5.2v1.2H638.5zM553.9 67.4h1.2v1.2H553.9zM555.9 67.4h2.2v1.2H555.9zM559.9 67.4h2.2v1.2H559.9zM564.9 67.4h1.2v1.2H564.9zM577.0 67.4h3.2v1.2H577.0zM589.1 67.4h1.2v1.2H589.1zM607.2 67.4h9.3v1.2H607.2zM626.4 67.4h1.2v1.2H626.4zM637.5 67.4h6.2v1.2H637.5zM554.9 68.4h7.3v1.2H554.9zM563.9 68.4h2.2v1.2H563.9zM576.0 68.4h4.2v1.2H576.0zM589.1 68.4h4.2v1.2H589.1zM596.2 68.4h5.2v1.2H596.2zM608.2 68.4h7.3v1.2H608.2zM626.4 68.4h2.2v1.2H626.4zM637.5 68.4h6.2v1.2H637.5zM557.9 69.4h3.2v1.2H557.9zM561.9 69.4h4.2v1.2H561.9zM576.0 69.4h2.2v1.2H576.0zM592.1 69.4h1.2v1.2H592.1zM595.1 69.4h3.2v1.2H595.1zM599.2 69.4h5.2v1.2H599.2zM609.3 69.4h5.2v1.2H609.3zM627.4 69.4h1.2v1.2H627.4zM637.5 69.4h6.2v1.2H637.5zM559.9 70.4h4.2v1.2H559.9zM565.9 70.4h3.2v1.2H565.9zM577.0 70.4h1.2v1.2H577.0zM592.1 70.4h5.2v1.2H592.1zM600.2 70.4h4.2v1.2H600.2zM612.3 70.4h2.2v1.2H612.3zM627.4 70.4h2.2v1.2H627.4zM637.5 70.4h6.2v1.2H637.5zM559.9 71.4h2.2v1.2H559.9zM563.9 71.4h6.2v1.2H563.9zM592.1 71.4h8.3v1.2H592.1zM601.2 71.4h2.2v1.2H601.2zM613.3 71.4h2.2v1.2H613.3zM627.4 71.4h1.2v1.2H627.4zM637.5 71.4h6.2v1.2H637.5zM559.9 72.4h2.2v1.2H559.9zM562.9 72.4h8.3v1.2H562.9zM588.1 72.4h2.2v1.2H588.1zM592.1 72.4h11.3v1.2H592.1zM612.3 72.4h3.2v1.2H612.3zM627.4 72.4h1.2v1.2H627.4zM641.5 72.4h2.2v1.2H641.5zM560.9 73.4h7.3v1.2H560.9zM569.0 73.4h3.2v1.2H569.0zM588.1 73.4h2.2v1.2H588.1zM592.1 73.4h21.4v1.2H592.1zM627.4 73.4h2.2v1.2H627.4zM561.9 74.4h5.2v1.2H561.9zM571.0 74.4h2.2v1.2H571.0zM579.0 74.4h1.2v1.2H579.0zM588.1 74.4h11.3v1.2H588.1zM602.2 74.4h3.2v1.2H602.2zM620.3 74.4h4.2v1.2H620.3zM627.4 74.4h2.2v1.2H627.4zM561.9 75.4h4.2v1.2H561.9zM571.0 75.4h2.2v1.2H571.0zM587.1 75.4h1.2v1.2H587.1zM595.1 75.4h2.2v1.2H595.1zM602.2 75.4h2.2v1.2H602.2zM620.3 75.4h4.2v1.2H620.3zM627.4 75.4h7.3v1.2H627.4zM561.9 76.4h3.2v1.2H561.9zM571.0 76.4h2.2v1.2H571.0zM584.1 76.4h1.2v1.2H584.1zM586.1 76.4h1.2v1.2H586.1zM603.2 76.4h2.2v1.2H603.2zM621.3 76.4h3.2v1.2H621.3zM627.4 76.4h3.2v1.2H627.4zM634.4 76.4h1.2v1.2H634.4zM561.9 77.4h3.2v1.2H561.9zM571.0 77.4h2.2v1.2H571.0zM583.1 77.4h4.2v1.2H583.1zM603.2 77.4h2.2v1.2H603.2zM621.3 77.4h3.2v1.2H621.3zM627.4 77.4h2.2v1.2H627.4zM635.4 77.4h1.2v1.2H635.4zM554.9 78.4h10.3v1.2H554.9zM572.0 78.4h10.3v1.2H572.0zM584.1 78.4h3.2v1.2H584.1zM602.2 78.4h5.2v1.2H602.2zM619.3 78.4h5.2v1.2H619.3zM634.4 78.4h3.2v1.2H634.4zM546.8 79.4h4.2v1.2H546.8zM553.9 79.4h11.3v1.2H553.9zM574.0 79.4h9.3v1.2H574.0zM585.1 79.4h1.2v1.2H585.1zM599.2 79.4h8.3v1.2H599.2zM609.3 79.4h8.3v1.2H609.3zM619.3 79.4h4.2v1.2H619.3zM634.4 79.4h4.2v1.2H634.4zM548.8 80.5h3.2v1.2H548.8zM552.8 80.5h10.3v1.2H552.8zM575.0 80.5h3.2v1.2H575.0zM581.0 80.5h2.2v1.2H581.0zM584.1 80.5h2.2v1.2H584.1zM598.2 80.5h5.2v1.2H598.2zM608.2 80.5h14.3v1.2H608.2zM638.5 80.5h1.2v1.2H638.5zM547.8 81.5h14.3v1.2H547.8zM576.0 81.5h1.2v1.2H576.0zM581.0 81.5h2.2v1.2H581.0zM585.1 81.5h1.2v1.2H585.1zM598.2 81.5h4.2v1.2H598.2zM608.2 81.5h13.3v1.2H608.2zM639.5 81.5h1.2v1.2H639.5zM547.8 82.5h2.2v1.2H547.8zM552.8 82.5h10.3v1.2H552.8zM575.0 82.5h2.2v1.2H575.0zM581.0 82.5h2.2v1.2H581.0zM584.1 82.5h2.2v1.2H584.1zM598.2 82.5h4.2v1.2H598.2zM608.2 82.5h13.3v1.2H608.2zM639.5 82.5h1.2v1.2H639.5zM547.8 83.5h2.2v1.2H547.8zM554.9 83.5h4.2v1.2H554.9zM560.9 83.5h2.2v1.2H560.9zM575.0 83.5h3.2v1.2H575.0zM581.0 83.5h5.2v1.2H581.0zM599.2 83.5h4.2v1.2H599.2zM607.2 83.5h13.3v1.2H607.2zM638.5 83.5h1.2v1.2H638.5zM547.8 84.5h1.2v1.2H547.8zM560.9 84.5h3.2v1.2H560.9zM573.0 84.5h5.2v1.2H573.0zM581.0 84.5h6.2v1.2H581.0zM601.2 84.5h3.2v1.2H601.2zM607.2 84.5h2.2v1.2H607.2zM610.3 84.5h1.2v1.2H610.3zM614.3 84.5h4.2v1.2H614.3zM637.5 84.5h1.2v1.2H637.5zM546.8 85.5h2.2v1.2H546.8zM559.9 85.5h5.2v1.2H559.9zM573.0 85.5h5.2v1.2H573.0zM581.0 85.5h7.3v1.2H581.0zM590.1 85.5h6.2v1.2H590.1zM603.2 85.5h2.2v1.2H603.2zM607.2 85.5h2.2v1.2H607.2zM614.3 85.5h4.2v1.2H614.3zM636.4 85.5h1.2v1.2H636.4zM546.8 86.5h1.2v1.2H546.8zM558.9 86.5h6.2v1.2H558.9zM573.0 86.5h4.2v1.2H573.0zM580.0 86.5h13.3v1.2H580.0zM595.1 86.5h2.2v1.2H595.1zM604.2 86.5h1.2v1.2H604.2zM607.2 86.5h1.2v1.2H607.2zM614.3 86.5h4.2v1.2H614.3zM636.4 86.5h1.2v1.2H636.4zM557.9 87.5h7.3v1.2H557.9zM573.0 87.5h3.2v1.2H573.0zM581.0 87.5h11.3v1.2H581.0zM595.1 87.5h3.2v1.2H595.1zM604.2 87.5h1.2v1.2H604.2zM607.2 87.5h2.2v1.2H607.2zM614.3 87.5h4.2v1.2H614.3zM555.9 88.5h8.3v1.2H555.9zM573.0 88.5h3.2v1.2H573.0zM583.1 88.5h3.2v1.2H583.1zM587.1 88.5h6.2v1.2H587.1zM595.1 88.5h4.2v1.2H595.1zM603.2 88.5h7.3v1.2H603.2zM612.3 88.5h6.2v1.2H612.3zM634.4 88.5h2.2v1.2H634.4zM553.9 89.5h2.2v1.2H553.9zM558.9 89.5h4.2v1.2H558.9zM574.0 89.5h2.2v1.2H574.0zM583.1 89.5h1.2v1.2H583.1zM585.1 89.5h8.3v1.2H585.1zM595.1 89.5h12.3v1.2H595.1zM609.3 89.5h9.3v1.2H609.3zM632.4 89.5h3.2v1.2H632.4zM640.5 89.5h3.2v1.2H640.5zM551.8 90.5h3.2v1.2H551.8zM560.9 90.5h1.2v1.2H560.9zM575.0 90.5h1.2v1.2H575.0zM582.1 90.5h2.2v1.2H582.1zM591.1 90.5h2.2v1.2H591.1zM601.2 90.5h6.2v1.2H601.2zM614.3 90.5h3.2v1.2H614.3zM630.4 90.5h2.2v1.2H630.4zM639.5 90.5h4.2v1.2H639.5zM546.8 91.5h1.2v1.2H546.8zM550.8 91.5h3.2v1.2H550.8zM560.9 91.5h1.2v1.2H560.9zM575.0 91.5h2.2v1.2H575.0zM582.1 91.5h1.2v1.2H582.1zM591.1 91.5h2.2v1.2H591.1zM602.2 91.5h5.2v1.2H602.2zM619.3 91.5h3.2v1.2H619.3zM628.4 91.5h2.2v1.2H628.4zM636.4 91.5h7.3v1.2H636.4zM549.8 92.5h3.2v1.2H549.8zM560.9 92.5h1.2v1.2H560.9zM575.0 92.5h2.2v1.2H575.0zM582.1 92.5h1.2v1.2H582.1zM591.1 92.5h2.2v1.2H591.1zM603.2 92.5h4.2v1.2H603.2zM618.3 92.5h6.2v1.2H618.3zM627.4 92.5h3.2v1.2H627.4zM636.4 92.5h7.3v1.2H636.4zM546.8 93.5h5.2v1.2H546.8zM560.9 93.5h1.2v1.2H560.9zM576.0 93.5h1.2v1.2H576.0zM582.1 93.5h2.2v1.2H582.1zM591.1 93.5h2.2v1.2H591.1zM603.2 93.5h5.2v1.2H603.2zM614.3 93.5h11.3v1.2H614.3zM626.4 93.5h3.2v1.2H626.4zM638.5 93.5h5.2v1.2H638.5zM546.8 94.6h3.2v1.2H546.8zM555.9 94.6h2.2v1.2H555.9zM560.9 94.6h1.2v1.2H560.9zM576.0 94.6h1.2v1.2H576.0zM582.1 94.6h2.2v1.2H582.1zM591.1 94.6h3.2v1.2H591.1zM601.2 94.6h7.3v1.2H601.2zM616.3 94.6h13.3v1.2H616.3zM636.4 94.6h6.2v1.2H636.4zM548.8 95.6h2.2v1.2H548.8zM554.9 95.6h6.2v1.2H554.9zM575.0 95.6h1.2v1.2H575.0zM583.1 95.6h1.2v1.2H583.1zM592.1 95.6h2.2v1.2H592.1zM597.2 95.6h5.2v1.2H597.2zM604.2 95.6h8.3v1.2H604.2zM618.3 95.6h12.3v1.2H618.3zM634.4 95.6h9.3v1.2H634.4zM554.9 96.6h2.2v1.2H554.9zM575.0 96.6h1.2v1.2H575.0zM583.1 96.6h1.2v1.2H583.1zM592.1 96.6h10.3v1.2H592.1zM606.2 96.6h7.3v1.2H606.2zM618.3 96.6h7.3v1.2H618.3zM626.4 96.6h5.2v1.2H626.4zM632.4 96.6h5.2v1.2H632.4zM638.5 96.6h2.2v1.2H638.5zM641.5 96.6h2.2v1.2H641.5zM553.9 97.6h2.2v1.2H553.9zM575.0 97.6h1.2v1.2H575.0zM583.1 97.6h1.2v1.2H583.1zM592.1 97.6h20.3v1.2H592.1zM620.3 97.6h6.2v1.2H620.3zM627.4 97.6h10.3v1.2H627.4zM638.5 97.6h2.2v1.2H638.5zM553.9 98.6h2.2v1.2H553.9zM575.0 98.6h1.2v1.2H575.0zM582.1 98.6h1.2v1.2H582.1zM592.1 98.6h9.3v1.2H592.1zM602.2 98.6h10.3v1.2H602.2zM622.3 98.6h10.3v1.2H622.3zM633.4 98.6h4.2v1.2H633.4zM638.5 98.6h1.2v1.2H638.5zM553.9 99.6h1.2v1.2H553.9zM575.0 99.6h1.2v1.2H575.0zM582.1 99.6h1.2v1.2H582.1zM592.1 99.6h5.2v1.2H592.1zM603.2 99.6h9.3v1.2H603.2zM622.3 99.6h4.2v1.2H622.3zM629.4 99.6h3.2v1.2H629.4zM634.4 99.6h5.2v1.2H634.4zM550.8 100.6h4.2v1.2H550.8zM573.0 100.6h3.2v1.2H573.0zM582.1 100.6h1.2v1.2H582.1zM593.1 100.6h4.2v1.2H593.1zM604.2 100.6h3.2v1.2H604.2zM609.3 100.6h8.3v1.2H609.3zM622.3 100.6h4.2v1.2H622.3zM632.4 100.6h3.2v1.2H632.4zM636.4 100.6h2.2v1.2H636.4zM546.8 101.6h5.2v1.2H546.8zM571.0 101.6h1.2v1.2H571.0zM578.0 101.6h2.2v1.2H578.0zM581.0 101.6h2.2v1.2H581.0zM593.1 101.6h3.2v1.2H593.1zM604.2 101.6h3.2v1.2H604.2zM610.3 101.6h9.3v1.2H610.3zM622.3 101.6h3.2v1.2H622.3zM632.4 101.6h2.2v1.2H632.4zM546.8 102.6h4.2v1.2H546.8zM570.0 102.6h2.2v1.2H570.0zM577.0 102.6h5.2v1.2H577.0zM593.1 102.6h4.2v1.2H593.1zM610.3 102.6h5.2v1.2H610.3zM617.3 102.6h2.2v1.2H617.3zM623.4 102.6h2.2v1.2H623.4zM546.8 103.6h3.2v1.2H546.8zM570.0 103.6h2.2v1.2H570.0zM577.0 103.6h4.2v1.2H577.0zM594.1 103.6h3.2v1.2H594.1zM610.3 103.6h1.2v1.2H610.3zM614.3 103.6h1.2v1.2H614.3zM617.3 103.6h4.2v1.2H617.3zM623.4 103.6h2.2v1.2H623.4zM630.4 103.6h1.2v1.2H630.4zM546.8 104.6h3.2v1.2H546.8zM570.0 104.6h2.2v1.2H570.0zM578.0 104.6h4.2v1.2H578.0zM593.1 104.6h4.2v1.2H593.1zM614.3 104.6h1.2v1.2H614.3zM618.3 104.6h3.2v1.2H618.3zM623.4 104.6h2.2v1.2H623.4zM629.4 104.6h8.3v1.2H629.4zM546.8 105.6h4.2v1.2H546.8zM570.0 105.6h3.2v1.2H570.0zM579.0 105.6h1.2v1.2H579.0zM582.1 105.6h1.2v1.2H582.1zM589.1 105.6h9.3v1.2H589.1zM613.3 105.6h2.2v1.2H613.3zM618.3 105.6h3.2v1.2H618.3zM623.4 105.6h2.2v1.2H623.4zM629.4 105.6h5.2v1.2H629.4zM636.4 105.6h3.2v1.2H636.4zM546.8 106.6h3.2v1.2H546.8zM562.9 106.6h5.2v1.2H562.9zM569.0 106.6h4.2v1.2H569.0zM583.1 106.6h15.3v1.2H583.1zM600.2 106.6h1.2v1.2H600.2zM602.2 106.6h2.2v1.2H602.2zM613.3 106.6h1.2v1.2H613.3zM618.3 106.6h4.2v1.2H618.3zM623.4 106.6h1.2v1.2H623.4zM629.4 106.6h2.2v1.2H629.4zM632.4 106.6h1.2v1.2H632.4zM637.5 106.6h3.2v1.2H637.5zM561.9 107.6h10.3v1.2H561.9zM583.1 107.6h3.2v1.2H583.1zM594.1 107.6h5.2v1.2H594.1zM601.2 107.6h2.2v1.2H601.2zM613.3 107.6h1.2v1.2H613.3zM619.3 107.6h5.2v1.2H619.3zM629.4 107.6h1.2v1.2H629.4zM640.5 107.6h1.2v1.2H640.5zM560.9 108.7h10.3v1.2H560.9zM595.1 108.7h3.2v1.2H595.1zM601.2 108.7h2.2v1.2H601.2zM613.3 108.7h1.2v1.2H613.3zM620.3 108.7h4.2v1.2H620.3zM628.4 108.7h2.2v1.2H628.4zM640.5 108.7h1.2v1.2H640.5zM560.9 109.7h5.2v1.2H560.9zM566.9 109.7h4.2v1.2H566.9zM596.2 109.7h3.2v1.2H596.2zM601.2 109.7h2.2v1.2H601.2zM612.3 109.7h1.2v1.2H612.3zM620.3 109.7h4.2v1.2H620.3zM628.4 109.7h2.2v1.2H628.4zM641.5 109.7h1.2v1.2H641.5zM546.8 110.7h7.3v1.2H546.8zM559.9 110.7h3.2v1.2H559.9zM568.0 110.7h3.2v1.2H568.0zM582.1 110.7h4.2v1.2H582.1zM597.2 110.7h6.2v1.2H597.2zM606.2 110.7h6.2v1.2H606.2zM620.3 110.7h5.2v1.2H620.3zM642.5 110.7h1.2v1.2H642.5zM546.8 111.7h9.3v1.2H546.8zM558.9 111.7h5.2v1.2H558.9zM568.0 111.7h3.2v1.2H568.0zM582.1 111.7h4.2v1.2H582.1zM598.2 111.7h5.2v1.2H598.2zM605.2 111.7h3.2v1.2H605.2zM619.3 111.7h3.2v1.2H619.3zM552.8 112.7h3.2v1.2H552.8zM558.9 112.7h7.3v1.2H558.9zM568.0 112.7h3.2v1.2H568.0zM581.0 112.7h3.2v1.2H581.0zM585.1 112.7h1.2v1.2H585.1zM596.2 112.7h6.2v1.2H596.2zM606.2 112.7h1.2v1.2H606.2zM619.3 112.7h2.2v1.2H619.3zM553.9 113.7h3.2v1.2H553.9zM559.9 113.7h11.3v1.2H559.9zM581.0 113.7h3.2v1.2H581.0zM585.1 113.7h1.2v1.2H585.1zM595.1 113.7h5.2v1.2H595.1zM606.2 113.7h1.2v1.2H606.2zM619.3 113.7h1.2v1.2H619.3z"/><path fill="#993f1b" d="M554.9 18.0h1.2v1.2H554.9zM565.9 18.0h1.2v1.2H565.9zM572.0 18.0h8.3v1.2H572.0zM591.1 18.0h1.2v1.2H591.1zM627.4 18.0h1.2v1.2H627.4zM554.9 19.0h1.2v1.2H554.9zM565.9 19.0h1.2v1.2H565.9zM571.0 19.0h5.2v1.2H571.0zM578.0 19.0h2.2v1.2H578.0zM591.1 19.0h1.2v1.2H591.1zM554.9 20.0h1.2v1.2H554.9zM565.9 20.0h4.2v1.2H565.9zM590.1 20.0h2.2v1.2H590.1zM555.9 21.0h1.2v1.2H555.9zM581.0 21.0h10.3v1.2H581.0zM636.4 21.0h1.2v1.2H636.4zM556.9 22.0h4.2v1.2H556.9zM581.0 22.0h1.2v1.2H581.0zM635.4 22.0h1.2v1.2H635.4zM639.5 22.0h1.2v1.2H639.5zM559.9 23.0h1.2v1.2H559.9zM598.2 23.0h1.2v1.2H598.2zM602.2 23.0h2.2v1.2H602.2zM640.5 23.0h1.2v1.2H640.5zM560.9 24.0h1.2v1.2H560.9zM597.2 24.0h1.2v1.2H597.2zM603.2 24.0h4.2v1.2H603.2zM634.4 24.0h1.2v1.2H634.4zM640.5 24.0h1.2v1.2H640.5zM561.9 25.1h1.2v1.2H561.9zM564.9 25.1h2.2v1.2H564.9zM580.0 25.1h2.2v1.2H580.0zM597.2 25.1h1.2v1.2H597.2zM603.2 25.1h6.2v1.2H603.2zM627.4 25.1h1.2v1.2H627.4zM631.4 25.1h1.2v1.2H631.4zM633.4 25.1h1.2v1.2H633.4zM641.5 25.1h1.2v1.2H641.5zM570.0 26.1h1.2v1.2H570.0zM577.0 26.1h7.3v1.2H577.0zM594.1 26.1h1.2v1.2H594.1zM596.2 26.1h1.2v1.2H596.2zM603.2 26.1h1.2v1.2H603.2zM606.2 26.1h4.2v1.2H606.2zM626.4 26.1h1.2v1.2H626.4zM572.0 27.1h2.2v1.2H572.0zM576.0 27.1h9.3v1.2H576.0zM594.1 27.1h2.2v1.2H594.1zM603.2 27.1h1.2v1.2H603.2zM608.2 27.1h3.2v1.2H608.2zM625.4 27.1h1.2v1.2H625.4zM573.0 28.1h12.3v1.2H573.0zM593.1 28.1h1.2v1.2H593.1zM603.2 28.1h1.2v1.2H603.2zM609.3 28.1h4.2v1.2H609.3zM625.4 28.1h1.2v1.2H625.4zM636.4 28.1h2.2v1.2H636.4zM574.0 29.1h11.3v1.2H574.0zM594.1 29.1h1.2v1.2H594.1zM603.2 29.1h1.2v1.2H603.2zM609.3 29.1h4.2v1.2H609.3zM625.4 29.1h1.2v1.2H625.4zM636.4 29.1h3.2v1.2H636.4zM575.0 30.1h3.2v1.2H575.0zM580.0 30.1h4.2v1.2H580.0zM595.1 30.1h1.2v1.2H595.1zM603.2 30.1h1.2v1.2H603.2zM609.3 30.1h1.2v1.2H609.3zM611.3 30.1h2.2v1.2H611.3zM636.4 30.1h1.2v1.2H636.4zM638.5 30.1h2.2v1.2H638.5zM575.0 31.1h3.2v1.2H575.0zM580.0 31.1h1.2v1.2H580.0zM596.2 31.1h2.2v1.2H596.2zM604.2 31.1h2.2v1.2H604.2zM614.3 31.1h3.2v1.2H614.3zM626.4 31.1h1.2v1.2H626.4zM634.4 31.1h2.2v1.2H634.4zM640.5 31.1h1.2v1.2H640.5zM574.0 32.1h4.2v1.2H574.0zM580.0 32.1h1.2v1.2H580.0zM597.2 32.1h1.2v1.2H597.2zM608.2 32.1h1.2v1.2H608.2zM613.3 32.1h1.2v1.2H613.3zM618.3 32.1h1.2v1.2H618.3zM627.4 32.1h4.2v1.2H627.4zM640.5 32.1h2.2v1.2H640.5zM574.0 33.1h3.2v1.2H574.0zM580.0 33.1h1.2v1.2H580.0zM588.1 33.1h4.2v1.2H588.1zM608.2 33.1h1.2v1.2H608.2zM613.3 33.1h1.2v1.2H613.3zM621.3 33.1h2.2v1.2H621.3zM575.0 34.1h1.2v1.2H575.0zM580.0 34.1h1.2v1.2H580.0zM587.1 34.1h1.2v1.2H587.1zM591.1 34.1h1.2v1.2H591.1zM608.2 34.1h1.2v1.2H608.2zM613.3 34.1h1.2v1.2H613.3zM623.4 34.1h1.2v1.2H623.4zM575.0 35.1h1.2v1.2H575.0zM580.0 35.1h1.2v1.2H580.0zM586.1 35.1h1.2v1.2H586.1zM591.1 35.1h1.2v1.2H591.1zM598.2 35.1h1.2v1.2H598.2zM608.2 35.1h1.2v1.2H608.2zM613.3 35.1h1.2v1.2H613.3zM624.4 35.1h1.2v1.2H624.4zM574.0 36.1h1.2v1.2H574.0zM581.0 36.1h5.2v1.2H581.0zM592.1 36.1h2.2v1.2H592.1zM597.2 36.1h2.2v1.2H597.2zM613.3 36.1h1.2v1.2H613.3zM617.3 36.1h12.3v1.2H617.3zM631.4 36.1h10.3v1.2H631.4zM573.0 37.1h2.2v1.2H573.0zM593.1 37.1h1.2v1.2H593.1zM597.2 37.1h3.2v1.2H597.2zM609.3 37.1h1.2v1.2H609.3zM615.3 37.1h2.2v1.2H615.3zM623.4 37.1h2.2v1.2H623.4zM573.0 38.1h1.2v1.2H573.0zM594.1 38.1h1.2v1.2H594.1zM597.2 38.1h4.2v1.2H597.2zM609.3 38.1h1.2v1.2H609.3zM624.4 38.1h1.2v1.2H624.4zM573.0 39.2h1.2v1.2H573.0zM594.1 39.2h7.3v1.2H594.1zM610.3 39.2h3.2v1.2H610.3zM623.4 39.2h1.2v1.2H623.4zM573.0 40.2h1.2v1.2H573.0zM595.1 40.2h6.2v1.2H595.1zM610.3 40.2h5.2v1.2H610.3zM623.4 40.2h1.2v1.2H623.4zM572.0 41.2h2.2v1.2H572.0zM576.0 41.2h6.2v1.2H576.0zM597.2 41.2h5.2v1.2H597.2zM610.3 41.2h2.2v1.2H610.3zM613.3 41.2h2.2v1.2H613.3zM620.3 41.2h4.2v1.2H620.3zM572.0 42.2h1.2v1.2H572.0zM576.0 42.2h2.2v1.2H576.0zM583.1 42.2h5.2v1.2H583.1zM597.2 42.2h2.2v1.2H597.2zM614.3 42.2h6.2v1.2H614.3zM621.3 42.2h2.2v1.2H621.3zM632.4 42.2h1.2v1.2H632.4zM571.0 43.2h6.2v1.2H571.0zM591.1 43.2h2.2v1.2H591.1zM597.2 43.2h1.2v1.2H597.2zM602.2 43.2h1.2v1.2H602.2zM615.3 43.2h4.2v1.2H615.3zM622.3 43.2h1.2v1.2H622.3zM630.4 43.2h1.2v1.2H630.4zM634.4 43.2h1.2v1.2H634.4zM641.5 43.2h2.2v1.2H641.5zM563.9 44.2h1.2v1.2H563.9zM572.0 44.2h4.2v1.2H572.0zM592.1 44.2h1.2v1.2H592.1zM597.2 44.2h1.2v1.2H597.2zM602.2 44.2h1.2v1.2H602.2zM616.3 44.2h1.2v1.2H616.3zM622.3 44.2h2.2v1.2H622.3zM629.4 44.2h1.2v1.2H629.4zM635.4 44.2h1.2v1.2H635.4zM640.5 44.2h3.2v1.2H640.5zM592.1 45.2h1.2v1.2H592.1zM596.2 45.2h2.2v1.2H596.2zM613.3 45.2h12.3v1.2H613.3zM629.4 45.2h1.2v1.2H629.4zM635.4 45.2h1.2v1.2H635.4zM639.5 45.2h4.2v1.2H639.5zM592.1 46.2h5.2v1.2H592.1zM604.2 46.2h1.2v1.2H604.2zM613.3 46.2h4.2v1.2H613.3zM624.4 46.2h1.2v1.2H624.4zM629.4 46.2h1.2v1.2H629.4zM635.4 46.2h5.2v1.2H635.4zM591.1 47.2h2.2v1.2H591.1zM594.1 47.2h2.2v1.2H594.1zM605.2 47.2h5.2v1.2H605.2zM613.3 47.2h2.2v1.2H613.3zM624.4 47.2h1.2v1.2H624.4zM629.4 47.2h1.2v1.2H629.4zM584.1 48.2h4.2v1.2H584.1zM590.1 48.2h6.2v1.2H590.1zM608.2 48.2h1.2v1.2H608.2zM613.3 48.2h1.2v1.2H613.3zM624.4 48.2h1.2v1.2H624.4zM629.4 48.2h1.2v1.2H629.4zM583.1 49.2h1.2v1.2H583.1zM588.1 49.2h8.3v1.2H588.1zM608.2 49.2h1.2v1.2H608.2zM613.3 49.2h1.2v1.2H613.3zM629.4 49.2h1.2v1.2H629.4zM583.1 50.2h1.2v1.2H583.1zM588.1 50.2h8.3v1.2H588.1zM608.2 50.2h1.2v1.2H608.2zM613.3 50.2h1.2v1.2H613.3zM629.4 50.2h1.2v1.2H629.4zM584.1 51.2h1.2v1.2H584.1zM588.1 51.2h8.3v1.2H588.1zM609.3 51.2h4.2v1.2H609.3zM625.4 51.2h1.2v1.2H625.4zM629.4 51.2h1.2v1.2H629.4zM585.1 52.2h4.2v1.2H585.1zM603.2 52.2h4.2v1.2H603.2zM626.4 52.2h2.2v1.2H626.4zM641.5 52.2h2.2v1.2H641.5zM597.2 53.3h5.2v1.2H597.2zM640.5 53.3h2.2v1.2H640.5zM546.8 54.3h1.2v1.2H546.8zM597.2 54.3h1.2v1.2H597.2zM607.2 54.3h1.2v1.2H607.2zM639.5 54.3h2.2v1.2H639.5zM547.8 55.3h1.2v1.2H547.8zM578.0 55.3h3.2v1.2H578.0zM597.2 55.3h1.2v1.2H597.2zM607.2 55.3h1.2v1.2H607.2zM639.5 55.3h1.2v1.2H639.5zM573.0 56.3h3.2v1.2H573.0zM578.0 56.3h2.2v1.2H578.0zM596.2 56.3h1.2v1.2H596.2zM607.2 56.3h1.2v1.2H607.2zM639.5 56.3h1.2v1.2H639.5zM548.8 57.3h1.2v1.2H548.8zM573.0 57.3h2.2v1.2H573.0zM593.1 57.3h4.2v1.2H593.1zM639.5 57.3h1.2v1.2H639.5zM550.8 58.3h1.2v1.2H550.8zM573.0 58.3h2.2v1.2H573.0zM592.1 58.3h6.2v1.2H592.1zM631.4 58.3h4.2v1.2H631.4zM639.5 58.3h1.2v1.2H639.5zM552.8 59.3h1.2v1.2H552.8zM573.0 59.3h2.2v1.2H573.0zM589.1 59.3h2.2v1.2H589.1zM593.1 59.3h3.2v1.2H593.1zM597.2 59.3h2.2v1.2H597.2zM630.4 59.3h1.2v1.2H630.4zM634.4 59.3h1.2v1.2H634.4zM553.9 60.3h1.2v1.2H553.9zM574.0 60.3h1.2v1.2H574.0zM589.1 60.3h1.2v1.2H589.1zM593.1 60.3h8.3v1.2H593.1zM630.4 60.3h1.2v1.2H630.4zM634.4 60.3h1.2v1.2H634.4zM553.9 61.3h1.2v1.2H553.9zM589.1 61.3h1.2v1.2H589.1zM592.1 61.3h4.2v1.2H592.1zM597.2 61.3h4.2v1.2H597.2zM630.4 61.3h1.2v1.2H630.4zM634.4 61.3h1.2v1.2H634.4zM639.5 61.3h1.2v1.2H639.5zM553.9 62.3h1.2v1.2H553.9zM562.9 62.3h1.2v1.2H562.9zM588.1 62.3h2.2v1.2H588.1zM593.1 62.3h2.2v1.2H593.1zM600.2 62.3h1.2v1.2H600.2zM606.2 62.3h1.2v1.2H606.2zM629.4 62.3h1.2v1.2H629.4zM634.4 62.3h1.2v1.2H634.4zM639.5 62.3h2.2v1.2H639.5zM562.9 63.3h1.2v1.2H562.9zM587.1 63.3h2.2v1.2H587.1zM606.2 63.3h1.2v1.2H606.2zM629.4 63.3h1.2v1.2H629.4zM635.4 63.3h1.2v1.2H635.4zM639.5 63.3h2.2v1.2H639.5zM552.8 64.3h1.2v1.2H552.8zM561.9 64.3h2.2v1.2H561.9zM587.1 64.3h1.2v1.2H587.1zM603.2 64.3h4.2v1.2H603.2zM628.4 64.3h1.2v1.2H628.4zM636.4 64.3h1.2v1.2H636.4zM638.5 64.3h5.2v1.2H638.5zM551.8 65.3h1.2v1.2H551.8zM587.1 65.3h1.2v1.2H587.1zM602.2 65.3h2.2v1.2H602.2zM605.2 65.3h1.2v1.2H605.2zM626.4 65.3h2.2v1.2H626.4zM636.4 65.3h3.2v1.2H636.4zM551.8 66.3h1.2v1.2H551.8zM561.9 66.3h1.2v1.2H561.9zM563.9 66.3h1.2v1.2H563.9zM589.1 66.3h1.2v1.2H589.1zM602.2 66.3h5.2v1.2H602.2zM626.4 66.3h2.2v1.2H626.4zM636.4 66.3h2.2v1.2H636.4zM552.8 67.4h1.2v1.2H552.8zM561.9 67.4h3.2v1.2H561.9zM590.1 67.4h2.2v1.2H590.1zM595.1 67.4h3.2v1.2H595.1zM599.2 67.4h8.3v1.2H599.2zM627.4 67.4h1.2v1.2H627.4zM636.4 67.4h1.2v1.2H636.4zM553.9 68.4h1.2v1.2H553.9zM561.9 68.4h2.2v1.2H561.9zM593.1 68.4h3.2v1.2H593.1zM601.2 68.4h7.3v1.2H601.2zM628.4 68.4h1.2v1.2H628.4zM636.4 68.4h1.2v1.2H636.4zM556.9 69.4h1.2v1.2H556.9zM560.9 69.4h1.2v1.2H560.9zM593.1 69.4h2.2v1.2H593.1zM604.2 69.4h5.2v1.2H604.2zM628.4 69.4h1.2v1.2H628.4zM636.4 69.4h1.2v1.2H636.4zM558.9 70.4h1.2v1.2H558.9zM604.2 70.4h2.2v1.2H604.2zM608.2 70.4h4.2v1.2H608.2zM636.4 70.4h1.2v1.2H636.4zM558.9 71.4h1.2v1.2H558.9zM603.2 71.4h3.2v1.2H603.2zM608.2 71.4h5.2v1.2H608.2zM628.4 71.4h1.2v1.2H628.4zM636.4 71.4h1.2v1.2H636.4zM558.9 72.4h1.2v1.2H558.9zM603.2 72.4h9.3v1.2H603.2zM628.4 72.4h1.2v1.2H628.4zM636.4 72.4h5.2v1.2H636.4zM559.9 73.4h1.2v1.2H559.9zM568.0 73.4h1.2v1.2H568.0zM629.4 73.4h1.2v1.2H629.4zM636.4 73.4h7.3v1.2H636.4zM555.9 74.4h2.2v1.2H555.9zM559.9 74.4h2.2v1.2H559.9zM566.9 74.4h4.2v1.2H566.9zM599.2 74.4h3.2v1.2H599.2zM629.4 74.4h5.2v1.2H629.4zM551.8 75.4h6.2v1.2H551.8zM559.9 75.4h2.2v1.2H559.9zM565.9 75.4h1.2v1.2H565.9zM570.0 75.4h1.2v1.2H570.0zM588.1 75.4h7.3v1.2H588.1zM597.2 75.4h3.2v1.2H597.2zM601.2 75.4h1.2v1.2H601.2zM634.4 75.4h2.2v1.2H634.4zM551.8 76.4h4.2v1.2H551.8zM557.9 76.4h4.2v1.2H557.9zM564.9 76.4h1.2v1.2H564.9zM570.0 76.4h1.2v1.2H570.0zM587.1 76.4h1.2v1.2H587.1zM591.1 76.4h7.3v1.2H591.1zM602.2 76.4h1.2v1.2H602.2zM635.4 76.4h1.2v1.2H635.4zM551.8 77.4h5.2v1.2H551.8zM557.9 77.4h4.2v1.2H557.9zM564.9 77.4h1.2v1.2H564.9zM570.0 77.4h1.2v1.2H570.0zM602.2 77.4h1.2v1.2H602.2zM636.4 77.4h1.2v1.2H636.4zM546.8 78.4h8.3v1.2H546.8zM564.9 78.4h1.2v1.2H564.9zM571.0 78.4h1.2v1.2H571.0zM598.2 78.4h2.2v1.2H598.2zM601.2 78.4h1.2v1.2H601.2zM637.5 78.4h1.2v1.2H637.5zM550.8 79.4h3.2v1.2H550.8zM564.9 79.4h1.2v1.2H564.9zM573.0 79.4h1.2v1.2H573.0zM586.1 79.4h1.2v1.2H586.1zM598.2 79.4h1.2v1.2H598.2zM638.5 79.4h1.2v1.2H638.5zM551.8 80.5h1.2v1.2H551.8zM562.9 80.5h3.2v1.2H562.9zM574.0 80.5h1.2v1.2H574.0zM586.1 80.5h1.2v1.2H586.1zM639.5 80.5h1.2v1.2H639.5zM561.9 81.5h2.2v1.2H561.9zM574.0 81.5h2.2v1.2H574.0zM640.5 81.5h2.2v1.2H640.5zM549.8 82.5h3.2v1.2H549.8zM562.9 82.5h2.2v1.2H562.9zM574.0 82.5h1.2v1.2H574.0zM586.1 82.5h1.2v1.2H586.1zM640.5 82.5h2.2v1.2H640.5zM549.8 83.5h5.2v1.2H549.8zM558.9 83.5h2.2v1.2H558.9zM562.9 83.5h5.2v1.2H562.9zM573.0 83.5h2.2v1.2H573.0zM586.1 83.5h1.2v1.2H586.1zM598.2 83.5h1.2v1.2H598.2zM639.5 83.5h1.2v1.2H639.5zM548.8 84.5h1.2v1.2H548.8zM554.9 84.5h6.2v1.2H554.9zM563.9 84.5h9.3v1.2H563.9zM587.1 84.5h1.2v1.2H587.1zM592.1 84.5h5.2v1.2H592.1zM599.2 84.5h2.2v1.2H599.2zM609.3 84.5h1.2v1.2H609.3zM611.3 84.5h3.2v1.2H611.3zM638.5 84.5h1.2v1.2H638.5zM548.8 85.5h1.2v1.2H548.8zM555.9 85.5h4.2v1.2H555.9zM564.9 85.5h2.2v1.2H564.9zM570.0 85.5h3.2v1.2H570.0zM588.1 85.5h2.2v1.2H588.1zM596.2 85.5h2.2v1.2H596.2zM602.2 85.5h1.2v1.2H602.2zM609.3 85.5h5.2v1.2H609.3zM637.5 85.5h2.2v1.2H637.5zM547.8 86.5h2.2v1.2H547.8zM555.9 86.5h3.2v1.2H555.9zM564.9 86.5h1.2v1.2H564.9zM571.0 86.5h2.2v1.2H571.0zM597.2 86.5h1.2v1.2H597.2zM603.2 86.5h1.2v1.2H603.2zM608.2 86.5h6.2v1.2H608.2zM546.8 87.5h3.2v1.2H546.8zM555.9 87.5h2.2v1.2H555.9zM564.9 87.5h1.2v1.2H564.9zM572.0 87.5h1.2v1.2H572.0zM598.2 87.5h1.2v1.2H598.2zM603.2 87.5h1.2v1.2H603.2zM609.3 87.5h5.2v1.2H609.3zM636.4 87.5h1.2v1.2H636.4zM546.8 88.5h2.2v1.2H546.8zM554.9 88.5h1.2v1.2H554.9zM563.9 88.5h1.2v1.2H563.9zM572.0 88.5h1.2v1.2H572.0zM599.2 88.5h1.2v1.2H599.2zM601.2 88.5h2.2v1.2H601.2zM610.3 88.5h2.2v1.2H610.3zM636.4 88.5h1.2v1.2H636.4zM639.5 88.5h4.2v1.2H639.5zM546.8 89.5h3.2v1.2H546.8zM550.8 89.5h3.2v1.2H550.8zM562.9 89.5h1.2v1.2H562.9zM573.0 89.5h1.2v1.2H573.0zM584.1 89.5h1.2v1.2H584.1zM635.4 89.5h2.2v1.2H635.4zM639.5 89.5h1.2v1.2H639.5zM546.8 90.5h5.2v1.2H546.8zM561.9 90.5h1.2v1.2H561.9zM573.0 90.5h2.2v1.2H573.0zM584.1 90.5h7.3v1.2H584.1zM632.4 90.5h7.3v1.2H632.4zM547.8 91.5h3.2v1.2H547.8zM574.0 91.5h1.2v1.2H574.0zM583.1 91.5h1.2v1.2H583.1zM590.1 91.5h1.2v1.2H590.1zM630.4 91.5h1.2v1.2H630.4zM634.4 91.5h2.2v1.2H634.4zM546.8 92.5h3.2v1.2H546.8zM561.9 92.5h1.2v1.2H561.9zM574.0 92.5h1.2v1.2H574.0zM583.1 92.5h1.2v1.2H583.1zM590.1 92.5h1.2v1.2H590.1zM630.4 92.5h1.2v1.2H630.4zM635.4 92.5h1.2v1.2H635.4zM561.9 93.5h1.2v1.2H561.9zM575.0 93.5h1.2v1.2H575.0zM584.1 93.5h3.2v1.2H584.1zM590.1 93.5h1.2v1.2H590.1zM629.4 93.5h2.2v1.2H629.4zM635.4 93.5h3.2v1.2H635.4zM561.9 94.6h1.2v1.2H561.9zM575.0 94.6h1.2v1.2H575.0zM584.1 94.6h4.2v1.2H584.1zM590.1 94.6h1.2v1.2H590.1zM629.4 94.6h7.3v1.2H629.4zM642.5 94.6h1.2v1.2H642.5zM560.9 95.6h2.2v1.2H560.9zM584.1 95.6h1.2v1.2H584.1zM590.1 95.6h2.2v1.2H590.1zM630.4 95.6h4.2v1.2H630.4zM556.9 96.6h6.2v1.2H556.9zM584.1 96.6h1.2v1.2H584.1zM590.1 96.6h2.2v1.2H590.1zM625.4 96.6h1.2v1.2H625.4zM631.4 96.6h1.2v1.2H631.4zM640.5 96.6h1.2v1.2H640.5zM555.9 97.6h1.2v1.2H555.9zM560.9 97.6h2.2v1.2H560.9zM584.1 97.6h1.2v1.2H584.1zM589.1 97.6h3.2v1.2H589.1zM626.4 97.6h1.2v1.2H626.4zM640.5 97.6h3.2v1.2H640.5zM555.9 98.6h1.2v1.2H555.9zM560.9 98.6h3.2v1.2H560.9zM583.1 98.6h1.2v1.2H583.1zM588.1 98.6h4.2v1.2H588.1zM632.4 98.6h1.2v1.2H632.4zM639.5 98.6h4.2v1.2H639.5zM554.9 99.6h1.2v1.2H554.9zM561.9 99.6h2.2v1.2H561.9zM574.0 99.6h1.2v1.2H574.0zM583.1 99.6h1.2v1.2H583.1zM591.1 99.6h1.2v1.2H591.1zM626.4 99.6h3.2v1.2H626.4zM632.4 99.6h2.2v1.2H632.4zM639.5 99.6h4.2v1.2H639.5zM554.9 100.6h1.2v1.2H554.9zM571.0 100.6h2.2v1.2H571.0zM583.1 100.6h1.2v1.2H583.1zM592.1 100.6h1.2v1.2H592.1zM626.4 100.6h6.2v1.2H626.4zM635.4 100.6h1.2v1.2H635.4zM638.5 100.6h2.2v1.2H638.5zM641.5 100.6h2.2v1.2H641.5zM551.8 101.6h3.2v1.2H551.8zM563.9 101.6h1.2v1.2H563.9zM570.0 101.6h1.2v1.2H570.0zM583.1 101.6h1.2v1.2H583.1zM625.4 101.6h2.2v1.2H625.4zM630.4 101.6h2.2v1.2H630.4zM634.4 101.6h5.2v1.2H634.4zM641.5 101.6h2.2v1.2H641.5zM550.8 102.6h2.2v1.2H550.8zM563.9 102.6h1.2v1.2H563.9zM569.0 102.6h1.2v1.2H569.0zM582.1 102.6h1.2v1.2H582.1zM615.3 102.6h2.2v1.2H615.3zM625.4 102.6h2.2v1.2H625.4zM628.4 102.6h9.3v1.2H628.4zM641.5 102.6h2.2v1.2H641.5zM549.8 103.6h3.2v1.2H549.8zM562.9 103.6h2.2v1.2H562.9zM568.0 103.6h2.2v1.2H568.0zM581.0 103.6h3.2v1.2H581.0zM592.1 103.6h2.2v1.2H592.1zM615.3 103.6h2.2v1.2H615.3zM625.4 103.6h5.2v1.2H625.4zM631.4 103.6h6.2v1.2H631.4zM639.5 103.6h4.2v1.2H639.5zM549.8 104.6h3.2v1.2H549.8zM562.9 104.6h3.2v1.2H562.9zM568.0 104.6h2.2v1.2H568.0zM582.1 104.6h3.2v1.2H582.1zM591.1 104.6h2.2v1.2H591.1zM615.3 104.6h3.2v1.2H615.3zM625.4 104.6h4.2v1.2H625.4zM637.5 104.6h5.2v1.2H637.5zM550.8 105.6h2.2v1.2H550.8zM561.9 105.6h8.3v1.2H561.9zM583.1 105.6h6.2v1.2H583.1zM615.3 105.6h3.2v1.2H615.3zM625.4 105.6h1.2v1.2H625.4zM628.4 105.6h1.2v1.2H628.4zM639.5 105.6h2.2v1.2H639.5zM549.8 106.6h2.2v1.2H549.8zM561.9 106.6h1.2v1.2H561.9zM568.0 106.6h1.2v1.2H568.0zM614.3 106.6h4.2v1.2H614.3zM624.4 106.6h2.2v1.2H624.4zM628.4 106.6h1.2v1.2H628.4zM640.5 106.6h1.2v1.2H640.5zM546.8 107.6h6.2v1.2H546.8zM560.9 107.6h1.2v1.2H560.9zM599.2 107.6h2.2v1.2H599.2zM614.3 107.6h1.2v1.2H614.3zM618.3 107.6h1.2v1.2H618.3zM624.4 107.6h1.2v1.2H624.4zM628.4 107.6h1.2v1.2H628.4zM546.8 108.7h1.2v1.2H546.8zM550.8 108.7h2.2v1.2H550.8zM598.2 108.7h3.2v1.2H598.2zM619.3 108.7h1.2v1.2H619.3zM624.4 108.7h1.2v1.2H624.4zM641.5 108.7h1.2v1.2H641.5zM546.8 109.7h2.2v1.2H546.8zM550.8 109.7h3.2v1.2H550.8zM559.9 109.7h1.2v1.2H559.9zM599.2 109.7h2.2v1.2H599.2zM613.3 109.7h1.2v1.2H613.3zM619.3 109.7h1.2v1.2H619.3zM624.4 109.7h4.2v1.2H624.4zM642.5 109.7h1.2v1.2H642.5zM553.9 110.7h2.2v1.2H553.9zM558.9 110.7h1.2v1.2H558.9zM619.3 110.7h1.2v1.2H619.3zM555.9 111.7h1.2v1.2H555.9zM557.9 111.7h1.2v1.2H557.9zM608.2 111.7h1.2v1.2H608.2zM555.9 112.7h3.2v1.2H555.9zM584.1 112.7h1.2v1.2H584.1zM607.2 112.7h1.2v1.2H607.2zM556.9 113.7h3.2v1.2H556.9zM584.1 113.7h1.2v1.2H584.1zM607.2 113.7h1.2v1.2H607.2z"/><path fill="#751b09" d="M555.9 18.0h3.2v1.2H555.9zM561.9 18.0h2.2v1.2H561.9zM564.9 18.0h1.2v1.2H564.9zM580.0 18.0h7.3v1.2H580.0zM590.1 18.0h1.2v1.2H590.1zM555.9 19.0h3.2v1.2H555.9zM562.9 19.0h3.2v1.2H562.9zM576.0 19.0h2.2v1.2H576.0zM580.0 19.0h8.3v1.2H580.0zM590.1 19.0h1.2v1.2H590.1zM555.9 20.0h3.2v1.2H555.9zM562.9 20.0h3.2v1.2H562.9zM570.0 20.0h20.3v1.2H570.0zM556.9 21.0h2.2v1.2H556.9zM562.9 21.0h18.3v1.2H562.9zM560.9 22.0h20.3v1.2H560.9zM636.4 22.0h3.2v1.2H636.4zM560.9 23.0h8.3v1.2H560.9zM574.0 23.0h7.3v1.2H574.0zM599.2 23.0h3.2v1.2H599.2zM636.4 23.0h4.2v1.2H636.4zM561.9 24.0h6.2v1.2H561.9zM571.0 24.0h10.3v1.2H571.0zM598.2 24.0h5.2v1.2H598.2zM635.4 24.0h5.2v1.2H635.4zM570.0 25.1h6.2v1.2H570.0zM598.2 25.1h5.2v1.2H598.2zM628.4 25.1h3.2v1.2H628.4zM634.4 25.1h7.3v1.2H634.4zM571.0 26.1h5.2v1.2H571.0zM597.2 26.1h6.2v1.2H597.2zM627.4 26.1h3.2v1.2H627.4zM631.4 26.1h11.3v1.2H631.4zM574.0 27.1h2.2v1.2H574.0zM596.2 27.1h7.3v1.2H596.2zM626.4 27.1h17.3v1.2H626.4zM594.1 28.1h9.3v1.2H594.1zM626.4 28.1h9.3v1.2H626.4zM638.5 28.1h5.2v1.2H638.5zM595.1 29.1h8.3v1.2H595.1zM626.4 29.1h10.3v1.2H626.4zM639.5 29.1h4.2v1.2H639.5zM578.0 30.1h2.2v1.2H578.0zM596.2 30.1h2.2v1.2H596.2zM600.2 30.1h3.2v1.2H600.2zM610.3 30.1h1.2v1.2H610.3zM626.4 30.1h4.2v1.2H626.4zM631.4 30.1h5.2v1.2H631.4zM642.5 30.1h1.2v1.2H642.5zM578.0 31.1h2.2v1.2H578.0zM600.2 31.1h4.2v1.2H600.2zM627.4 31.1h7.3v1.2H627.4zM641.5 31.1h2.2v1.2H641.5zM578.0 32.1h2.2v1.2H578.0zM598.2 32.1h10.3v1.2H598.2zM614.3 32.1h4.2v1.2H614.3zM577.0 33.1h3.2v1.2H577.0zM598.2 33.1h10.3v1.2H598.2zM614.3 33.1h7.3v1.2H614.3zM576.0 34.1h4.2v1.2H576.0zM588.1 34.1h3.2v1.2H588.1zM598.2 34.1h10.3v1.2H598.2zM614.3 34.1h9.3v1.2H614.3zM576.0 35.1h3.2v1.2H576.0zM587.1 35.1h4.2v1.2H587.1zM605.2 35.1h3.2v1.2H605.2zM614.3 35.1h3.2v1.2H614.3zM621.3 35.1h3.2v1.2H621.3zM575.0 36.1h5.2v1.2H575.0zM586.1 36.1h5.2v1.2H586.1zM600.2 36.1h9.3v1.2H600.2zM614.3 36.1h3.2v1.2H614.3zM629.4 36.1h2.2v1.2H629.4zM642.5 36.1h1.2v1.2H642.5zM575.0 37.1h15.3v1.2H575.0zM592.1 37.1h1.2v1.2H592.1zM600.2 37.1h9.3v1.2H600.2zM625.4 37.1h7.3v1.2H625.4zM633.4 37.1h7.3v1.2H633.4zM642.5 37.1h1.2v1.2H642.5zM574.0 38.1h17.3v1.2H574.0zM592.1 38.1h2.2v1.2H592.1zM601.2 38.1h8.3v1.2H601.2zM625.4 38.1h18.3v1.2H625.4zM574.0 39.2h7.3v1.2H574.0zM582.1 39.2h12.3v1.2H582.1zM601.2 39.2h9.3v1.2H601.2zM624.4 39.2h19.3v1.2H624.4zM574.0 40.2h2.2v1.2H574.0zM578.0 40.2h2.2v1.2H578.0zM583.1 40.2h12.3v1.2H583.1zM601.2 40.2h9.3v1.2H601.2zM624.4 40.2h5.2v1.2H624.4zM631.4 40.2h5.2v1.2H631.4zM639.5 40.2h4.2v1.2H639.5zM574.0 41.2h2.2v1.2H574.0zM583.1 41.2h14.3v1.2H583.1zM602.2 41.2h8.3v1.2H602.2zM612.3 41.2h1.2v1.2H612.3zM624.4 41.2h6.2v1.2H624.4zM631.4 41.2h12.3v1.2H631.4zM573.0 42.2h3.2v1.2H573.0zM588.1 42.2h9.3v1.2H588.1zM602.2 42.2h12.3v1.2H602.2zM620.3 42.2h1.2v1.2H620.3zM623.4 42.2h9.3v1.2H623.4zM633.4 42.2h10.3v1.2H633.4zM593.1 43.2h4.2v1.2H593.1zM603.2 43.2h12.3v1.2H603.2zM619.3 43.2h3.2v1.2H619.3zM623.4 43.2h7.3v1.2H623.4zM635.4 43.2h6.2v1.2H635.4zM593.1 44.2h4.2v1.2H593.1zM603.2 44.2h13.3v1.2H603.2zM617.3 44.2h5.2v1.2H617.3zM624.4 44.2h5.2v1.2H624.4zM636.4 44.2h4.2v1.2H636.4zM593.1 45.2h3.2v1.2H593.1zM603.2 45.2h10.3v1.2H603.2zM628.4 45.2h1.2v1.2H628.4zM636.4 45.2h3.2v1.2H636.4zM605.2 46.2h5.2v1.2H605.2zM612.3 46.2h1.2v1.2H612.3zM625.4 46.2h4.2v1.2H625.4zM612.3 47.2h1.2v1.2H612.3zM625.4 47.2h4.2v1.2H625.4zM612.3 48.2h1.2v1.2H612.3zM625.4 48.2h4.2v1.2H625.4zM584.1 49.2h4.2v1.2H584.1zM609.3 49.2h1.2v1.2H609.3zM625.4 49.2h4.2v1.2H625.4zM584.1 50.2h4.2v1.2H584.1zM609.3 50.2h3.2v1.2H609.3zM625.4 50.2h4.2v1.2H625.4zM585.1 51.2h3.2v1.2H585.1zM626.4 51.2h3.2v1.2H626.4zM602.2 53.3h5.2v1.2H602.2zM642.5 53.3h1.2v1.2H642.5zM598.2 54.3h9.3v1.2H598.2zM641.5 54.3h2.2v1.2H641.5zM546.8 55.3h1.2v1.2H546.8zM598.2 55.3h9.3v1.2H598.2zM640.5 55.3h3.2v1.2H640.5zM546.8 56.3h2.2v1.2H546.8zM597.2 56.3h10.3v1.2H597.2zM640.5 56.3h3.2v1.2H640.5zM546.8 57.3h2.2v1.2H546.8zM597.2 57.3h3.2v1.2H597.2zM602.2 57.3h3.2v1.2H602.2zM606.2 57.3h1.2v1.2H606.2zM640.5 57.3h3.2v1.2H640.5zM546.8 58.3h4.2v1.2H546.8zM598.2 58.3h7.3v1.2H598.2zM606.2 58.3h1.2v1.2H606.2zM640.5 58.3h3.2v1.2H640.5zM548.8 59.3h3.2v1.2H548.8zM591.1 59.3h2.2v1.2H591.1zM599.2 59.3h4.2v1.2H599.2zM606.2 59.3h1.2v1.2H606.2zM631.4 59.3h3.2v1.2H631.4zM639.5 59.3h4.2v1.2H639.5zM548.8 60.3h5.2v1.2H548.8zM590.1 60.3h3.2v1.2H590.1zM601.2 60.3h6.2v1.2H601.2zM631.4 60.3h3.2v1.2H631.4zM639.5 60.3h4.2v1.2H639.5zM546.8 61.3h7.3v1.2H546.8zM590.1 61.3h2.2v1.2H590.1zM596.2 61.3h1.2v1.2H596.2zM601.2 61.3h6.2v1.2H601.2zM631.4 61.3h3.2v1.2H631.4zM640.5 61.3h3.2v1.2H640.5zM546.8 62.3h2.2v1.2H546.8zM549.8 62.3h4.2v1.2H549.8zM590.1 62.3h3.2v1.2H590.1zM595.1 62.3h1.2v1.2H595.1zM597.2 62.3h3.2v1.2H597.2zM601.2 62.3h2.2v1.2H601.2zM604.2 62.3h2.2v1.2H604.2zM630.4 62.3h4.2v1.2H630.4zM641.5 62.3h2.2v1.2H641.5zM546.8 63.3h7.3v1.2H546.8zM589.1 63.3h7.3v1.2H589.1zM597.2 63.3h9.3v1.2H597.2zM630.4 63.3h5.2v1.2H630.4zM641.5 63.3h2.2v1.2H641.5zM546.8 64.3h5.2v1.2H546.8zM588.1 64.3h6.2v1.2H588.1zM597.2 64.3h6.2v1.2H597.2zM629.4 64.3h3.2v1.2H629.4zM634.4 64.3h2.2v1.2H634.4zM546.8 65.3h5.2v1.2H546.8zM561.9 65.3h2.2v1.2H561.9zM588.1 65.3h14.3v1.2H588.1zM629.4 65.3h3.2v1.2H629.4zM633.4 65.3h3.2v1.2H633.4zM546.8 66.3h5.2v1.2H546.8zM562.9 66.3h1.2v1.2H562.9zM590.1 66.3h12.3v1.2H590.1zM628.4 66.3h4.2v1.2H628.4zM633.4 66.3h3.2v1.2H633.4zM546.8 67.4h6.2v1.2H546.8zM592.1 67.4h3.2v1.2H592.1zM598.2 67.4h1.2v1.2H598.2zM628.4 67.4h8.3v1.2H628.4zM546.8 68.4h2.2v1.2H546.8zM550.8 68.4h3.2v1.2H550.8zM629.4 68.4h1.2v1.2H629.4zM631.4 68.4h5.2v1.2H631.4zM552.8 69.4h4.2v1.2H552.8zM631.4 69.4h5.2v1.2H631.4zM548.8 70.4h10.3v1.2H548.8zM607.2 70.4h1.2v1.2H607.2zM631.4 70.4h5.2v1.2H631.4zM547.8 71.4h11.3v1.2H547.8zM629.4 71.4h7.3v1.2H629.4zM547.8 72.4h11.3v1.2H547.8zM629.4 72.4h7.3v1.2H629.4zM548.8 73.4h11.3v1.2H548.8zM630.4 73.4h6.2v1.2H630.4zM553.9 74.4h2.2v1.2H553.9zM557.9 74.4h2.2v1.2H557.9zM634.4 74.4h5.2v1.2H634.4zM642.5 74.4h1.2v1.2H642.5zM546.8 75.4h4.2v1.2H546.8zM557.9 75.4h2.2v1.2H557.9zM566.9 75.4h3.2v1.2H566.9zM600.2 75.4h1.2v1.2H600.2zM636.4 75.4h3.2v1.2H636.4zM642.5 75.4h1.2v1.2H642.5zM546.8 76.4h5.2v1.2H546.8zM555.9 76.4h2.2v1.2H555.9zM565.9 76.4h4.2v1.2H565.9zM588.1 76.4h2.2v1.2H588.1zM598.2 76.4h4.2v1.2H598.2zM636.4 76.4h3.2v1.2H636.4zM641.5 76.4h2.2v1.2H641.5zM546.8 77.4h5.2v1.2H546.8zM556.9 77.4h1.2v1.2H556.9zM565.9 77.4h4.2v1.2H565.9zM587.1 77.4h4.2v1.2H587.1zM592.1 77.4h10.3v1.2H592.1zM637.5 77.4h2.2v1.2H637.5zM641.5 77.4h2.2v1.2H641.5zM565.9 78.4h5.2v1.2H565.9zM587.1 78.4h11.3v1.2H587.1zM600.2 78.4h1.2v1.2H600.2zM638.5 78.4h5.2v1.2H638.5zM565.9 79.4h3.2v1.2H565.9zM570.0 79.4h3.2v1.2H570.0zM587.1 79.4h11.3v1.2H587.1zM639.5 79.4h4.2v1.2H639.5zM565.9 80.5h8.3v1.2H565.9zM587.1 80.5h11.3v1.2H587.1zM640.5 80.5h3.2v1.2H640.5zM563.9 81.5h10.3v1.2H563.9zM586.1 81.5h7.3v1.2H586.1zM594.1 81.5h4.2v1.2H594.1zM564.9 82.5h9.3v1.2H564.9zM587.1 82.5h6.2v1.2H587.1zM594.1 82.5h4.2v1.2H594.1zM568.0 83.5h5.2v1.2H568.0zM587.1 83.5h6.2v1.2H587.1zM594.1 83.5h4.2v1.2H594.1zM640.5 83.5h3.2v1.2H640.5zM549.8 84.5h2.2v1.2H549.8zM553.9 84.5h1.2v1.2H553.9zM588.1 84.5h4.2v1.2H588.1zM597.2 84.5h2.2v1.2H597.2zM639.5 84.5h4.2v1.2H639.5zM549.8 85.5h6.2v1.2H549.8zM566.9 85.5h2.2v1.2H566.9zM598.2 85.5h4.2v1.2H598.2zM639.5 85.5h4.2v1.2H639.5zM549.8 86.5h6.2v1.2H549.8zM565.9 86.5h5.2v1.2H565.9zM599.2 86.5h4.2v1.2H599.2zM637.5 86.5h6.2v1.2H637.5zM549.8 87.5h6.2v1.2H549.8zM565.9 87.5h6.2v1.2H565.9zM599.2 87.5h4.2v1.2H599.2zM637.5 87.5h6.2v1.2H637.5zM548.8 88.5h3.2v1.2H548.8zM564.9 88.5h7.3v1.2H564.9zM600.2 88.5h1.2v1.2H600.2zM637.5 88.5h2.2v1.2H637.5zM549.8 89.5h1.2v1.2H549.8zM564.9 89.5h8.3v1.2H564.9zM637.5 89.5h2.2v1.2H637.5zM562.9 90.5h1.2v1.2H562.9zM564.9 90.5h8.3v1.2H564.9zM561.9 91.5h2.2v1.2H561.9zM564.9 91.5h9.3v1.2H564.9zM584.1 91.5h2.2v1.2H584.1zM588.1 91.5h2.2v1.2H588.1zM631.4 91.5h3.2v1.2H631.4zM562.9 92.5h11.3v1.2H562.9zM584.1 92.5h6.2v1.2H584.1zM631.4 92.5h4.2v1.2H631.4zM562.9 93.5h3.2v1.2H562.9zM568.0 93.5h7.3v1.2H568.0zM587.1 93.5h3.2v1.2H587.1zM631.4 93.5h4.2v1.2H631.4zM562.9 94.6h3.2v1.2H562.9zM568.0 94.6h7.3v1.2H568.0zM588.1 94.6h2.2v1.2H588.1zM562.9 95.6h6.2v1.2H562.9zM570.0 95.6h5.2v1.2H570.0zM585.1 95.6h5.2v1.2H585.1zM562.9 96.6h1.2v1.2H562.9zM564.9 96.6h4.2v1.2H564.9zM570.0 96.6h4.2v1.2H570.0zM585.1 96.6h1.2v1.2H585.1zM588.1 96.6h2.2v1.2H588.1zM562.9 97.6h12.3v1.2H562.9zM585.1 97.6h4.2v1.2H585.1zM558.9 98.6h1.2v1.2H558.9zM563.9 98.6h11.3v1.2H563.9zM584.1 98.6h4.2v1.2H584.1zM558.9 99.6h1.2v1.2H558.9zM563.9 99.6h10.3v1.2H563.9zM584.1 99.6h7.3v1.2H584.1zM559.9 100.6h11.3v1.2H559.9zM584.1 100.6h8.3v1.2H584.1zM640.5 100.6h1.2v1.2H640.5zM559.9 101.6h4.2v1.2H559.9zM564.9 101.6h5.2v1.2H564.9zM584.1 101.6h7.3v1.2H584.1zM592.1 101.6h1.2v1.2H592.1zM627.4 101.6h3.2v1.2H627.4zM639.5 101.6h2.2v1.2H639.5zM552.8 102.6h1.2v1.2H552.8zM554.9 102.6h9.3v1.2H554.9zM564.9 102.6h4.2v1.2H564.9zM583.1 102.6h10.3v1.2H583.1zM627.4 102.6h1.2v1.2H627.4zM637.5 102.6h4.2v1.2H637.5zM552.8 103.6h10.3v1.2H552.8zM564.9 103.6h3.2v1.2H564.9zM586.1 103.6h5.2v1.2H586.1zM637.5 103.6h2.2v1.2H637.5zM552.8 104.6h10.3v1.2H552.8zM565.9 104.6h2.2v1.2H565.9zM585.1 104.6h6.2v1.2H585.1zM552.8 105.6h9.3v1.2H552.8zM626.4 105.6h2.2v1.2H626.4zM641.5 105.6h2.2v1.2H641.5zM551.8 106.6h10.3v1.2H551.8zM626.4 106.6h2.2v1.2H626.4zM641.5 106.6h2.2v1.2H641.5zM552.8 107.6h8.3v1.2H552.8zM615.3 107.6h3.2v1.2H615.3zM625.4 107.6h3.2v1.2H625.4zM641.5 107.6h2.2v1.2H641.5zM547.8 108.7h3.2v1.2H547.8zM552.8 108.7h8.3v1.2H552.8zM614.3 108.7h5.2v1.2H614.3zM625.4 108.7h3.2v1.2H625.4zM642.5 108.7h1.2v1.2H642.5zM548.8 109.7h2.2v1.2H548.8zM553.9 109.7h6.2v1.2H553.9zM614.3 109.7h5.2v1.2H614.3zM555.9 110.7h3.2v1.2H555.9zM612.3 110.7h7.3v1.2H612.3zM556.9 111.7h1.2v1.2H556.9zM609.3 111.7h1.2v1.2H609.3zM612.3 111.7h7.3v1.2H612.3zM608.2 112.7h11.3v1.2H608.2zM609.3 113.7h3.2v1.2H609.3zM617.3 113.7h2.2v1.2H617.3z"/><path fill="#752d09" d="M558.9 18.0h3.2v1.2H558.9zM587.1 18.0h3.2v1.2H587.1zM558.9 19.0h4.2v1.2H558.9zM588.1 19.0h2.2v1.2H588.1zM558.9 20.0h4.2v1.2H558.9zM558.9 21.0h4.2v1.2H558.9zM569.0 23.0h5.2v1.2H569.0zM635.4 23.0h1.2v1.2H635.4zM568.0 24.0h3.2v1.2H568.0zM566.9 25.1h3.2v1.2H566.9zM576.0 25.1h4.2v1.2H576.0zM576.0 26.1h1.2v1.2H576.0zM642.5 26.1h1.2v1.2H642.5zM635.4 28.1h1.2v1.2H635.4zM598.2 30.1h2.2v1.2H598.2zM630.4 30.1h1.2v1.2H630.4zM640.5 30.1h2.2v1.2H640.5zM598.2 31.1h2.2v1.2H598.2zM579.0 35.1h1.2v1.2H579.0zM599.2 35.1h6.2v1.2H599.2zM617.3 35.1h4.2v1.2H617.3zM580.0 36.1h1.2v1.2H580.0zM591.1 36.1h1.2v1.2H591.1zM599.2 36.1h1.2v1.2H599.2zM641.5 36.1h1.2v1.2H641.5zM590.1 37.1h2.2v1.2H590.1zM632.4 37.1h1.2v1.2H632.4zM640.5 37.1h2.2v1.2H640.5zM591.1 38.1h1.2v1.2H591.1zM581.0 39.2h1.2v1.2H581.0zM576.0 40.2h2.2v1.2H576.0zM580.0 40.2h3.2v1.2H580.0zM629.4 40.2h2.2v1.2H629.4zM636.4 40.2h3.2v1.2H636.4zM582.1 41.2h1.2v1.2H582.1zM630.4 41.2h1.2v1.2H630.4zM625.4 45.2h3.2v1.2H625.4zM610.3 46.2h2.2v1.2H610.3zM610.3 47.2h2.2v1.2H610.3zM609.3 48.2h3.2v1.2H609.3zM610.3 49.2h3.2v1.2H610.3zM612.3 50.2h1.2v1.2H612.3zM600.2 57.3h2.2v1.2H600.2zM605.2 57.3h1.2v1.2H605.2zM605.2 58.3h1.2v1.2H605.2zM546.8 59.3h2.2v1.2H546.8zM551.8 59.3h1.2v1.2H551.8zM603.2 59.3h3.2v1.2H603.2zM546.8 60.3h2.2v1.2H546.8zM548.8 62.3h1.2v1.2H548.8zM632.4 64.3h2.2v1.2H632.4zM628.4 65.3h1.2v1.2H628.4zM632.4 65.3h1.2v1.2H632.4zM632.4 66.3h1.2v1.2H632.4zM548.8 68.4h2.2v1.2H548.8zM630.4 68.4h1.2v1.2H630.4zM546.8 69.4h6.2v1.2H546.8zM629.4 69.4h2.2v1.2H629.4zM546.8 70.4h2.2v1.2H546.8zM606.2 70.4h1.2v1.2H606.2zM629.4 70.4h2.2v1.2H629.4zM546.8 71.4h1.2v1.2H546.8zM606.2 71.4h2.2v1.2H606.2zM546.8 72.4h1.2v1.2H546.8zM546.8 73.4h2.2v1.2H546.8zM546.8 74.4h7.3v1.2H546.8zM639.5 74.4h3.2v1.2H639.5zM550.8 75.4h1.2v1.2H550.8zM639.5 75.4h3.2v1.2H639.5zM590.1 76.4h1.2v1.2H590.1zM639.5 76.4h2.2v1.2H639.5zM591.1 77.4h1.2v1.2H591.1zM639.5 77.4h2.2v1.2H639.5zM569.0 79.4h1.2v1.2H569.0zM593.1 81.5h1.2v1.2H593.1zM642.5 81.5h1.2v1.2H642.5zM593.1 82.5h1.2v1.2H593.1zM642.5 82.5h1.2v1.2H642.5zM593.1 83.5h1.2v1.2H593.1zM551.8 84.5h2.2v1.2H551.8zM569.0 85.5h1.2v1.2H569.0zM598.2 86.5h1.2v1.2H598.2zM551.8 88.5h3.2v1.2H551.8zM565.9 93.5h2.2v1.2H565.9zM565.9 94.6h2.2v1.2H565.9zM569.0 95.6h1.2v1.2H569.0zM569.0 96.6h1.2v1.2H569.0zM574.0 96.6h1.2v1.2H574.0zM556.9 97.6h4.2v1.2H556.9zM556.9 98.6h2.2v1.2H556.9zM559.9 98.6h1.2v1.2H559.9zM555.9 99.6h3.2v1.2H555.9zM559.9 99.6h2.2v1.2H559.9zM555.9 100.6h4.2v1.2H555.9zM554.9 101.6h5.2v1.2H554.9zM553.9 102.6h1.2v1.2H553.9zM584.1 103.6h2.2v1.2H584.1zM591.1 103.6h1.2v1.2H591.1zM642.5 104.6h1.2v1.2H642.5zM610.3 111.7h2.2v1.2H610.3zM608.2 113.7h1.2v1.2H608.2zM612.3 113.7h5.2v1.2H612.3z"/><path fill="#631b09" d="M563.9 18.0h1.2v1.2H563.9zM630.4 26.1h1.2v1.2H630.4zM596.2 62.3h1.2v1.2H596.2zM603.2 62.3h1.2v1.2H603.2zM596.2 63.3h1.2v1.2H596.2zM551.8 64.3h1.2v1.2H551.8zM594.1 64.3h3.2v1.2H594.1zM563.9 89.5h1.2v1.2H563.9zM563.9 90.5h1.2v1.2H563.9zM563.9 91.5h1.2v1.2H563.9zM586.1 91.5h2.2v1.2H586.1zM563.9 96.6h1.2v1.2H563.9zM586.1 96.6h2.2v1.2H586.1zM591.1 101.6h1.2v1.2H591.1z"/><path fill="#f3bd3f" d="M595.1 18.0h2.2v1.2H595.1zM595.1 19.0h2.2v1.2H595.1zM596.2 20.0h1.2v1.2H596.2zM620.3 20.0h3.2v1.2H620.3zM631.4 20.0h2.2v1.2H631.4zM620.3 21.0h3.2v1.2H620.3zM621.3 22.0h3.2v1.2H621.3zM546.8 27.1h1.2v1.2H546.8zM546.8 28.1h1.2v1.2H546.8zM546.8 29.1h1.2v1.2H546.8zM546.8 32.1h1.2v1.2H546.8zM546.8 33.1h1.2v1.2H546.8zM559.9 37.1h1.2v1.2H559.9zM558.9 38.1h2.2v1.2H558.9zM558.9 39.2h1.2v1.2H558.9zM555.9 40.2h4.2v1.2H555.9zM565.9 40.2h2.2v1.2H565.9zM556.9 41.2h4.2v1.2H556.9zM550.8 45.2h2.2v1.2H550.8zM560.9 47.2h1.2v1.2H560.9zM560.9 48.2h1.2v1.2H560.9zM600.2 48.2h1.2v1.2H600.2zM600.2 49.2h2.2v1.2H600.2zM620.3 49.2h1.2v1.2H620.3zM601.2 50.2h1.2v1.2H601.2zM620.3 50.2h2.2v1.2H620.3zM557.9 51.2h2.2v1.2H557.9zM556.9 52.2h6.2v1.2H556.9zM559.9 53.3h3.2v1.2H559.9zM551.8 54.3h3.2v1.2H551.8zM560.9 54.3h2.2v1.2H560.9zM620.3 54.3h1.2v1.2H620.3zM551.8 55.3h3.2v1.2H551.8zM560.9 55.3h3.2v1.2H560.9zM620.3 55.3h1.2v1.2H620.3zM610.3 57.3h3.2v1.2H610.3zM558.9 61.3h1.2v1.2H558.9zM558.9 62.3h1.2v1.2H558.9zM574.0 70.4h1.2v1.2H574.0zM574.0 71.4h1.2v1.2H574.0zM617.3 71.4h2.2v1.2H617.3zM574.0 72.4h1.2v1.2H574.0zM617.3 72.4h2.2v1.2H617.3zM621.3 73.4h3.2v1.2H621.3zM625.4 81.5h1.2v1.2H625.4zM632.4 87.5h1.2v1.2H632.4zM632.4 88.5h1.2v1.2H632.4zM600.2 91.5h2.2v1.2H600.2zM600.2 92.5h2.2v1.2H600.2zM577.0 93.5h1.2v1.2H577.0zM617.3 96.6h1.2v1.2H617.3zM604.2 106.6h1.2v1.2H604.2zM630.4 110.7h1.2v1.2H630.4zM635.4 113.7h3.2v1.2H635.4z"/><path fill="#f3cf3f" d="M597.2 18.0h7.3v1.2H597.2zM609.3 18.0h5.2v1.2H609.3zM619.3 18.0h4.2v1.2H619.3zM630.4 18.0h5.2v1.2H630.4zM639.5 18.0h4.2v1.2H639.5zM597.2 19.0h7.3v1.2H597.2zM609.3 19.0h5.2v1.2H609.3zM619.3 19.0h4.2v1.2H619.3zM630.4 19.0h4.2v1.2H630.4zM640.5 19.0h3.2v1.2H640.5zM597.2 20.0h7.3v1.2H597.2zM609.3 20.0h4.2v1.2H609.3zM615.3 20.0h1.2v1.2H615.3zM618.3 20.0h2.2v1.2H618.3zM641.5 20.0h2.2v1.2H641.5zM598.2 21.0h3.2v1.2H598.2zM610.3 21.0h2.2v1.2H610.3zM614.3 21.0h6.2v1.2H614.3zM642.5 21.0h1.2v1.2H642.5zM613.3 22.0h8.3v1.2H613.3zM614.3 23.0h10.3v1.2H614.3zM616.3 24.0h8.3v1.2H616.3zM550.8 25.1h3.2v1.2H550.8zM556.9 25.1h1.2v1.2H556.9zM617.3 25.1h7.3v1.2H617.3zM546.8 26.1h13.3v1.2H546.8zM590.1 26.1h1.2v1.2H590.1zM618.3 26.1h6.2v1.2H618.3zM547.8 27.1h13.3v1.2H547.8zM588.1 27.1h4.2v1.2H588.1zM618.3 27.1h6.2v1.2H618.3zM547.8 28.1h13.3v1.2H547.8zM588.1 28.1h4.2v1.2H588.1zM618.3 28.1h6.2v1.2H618.3zM547.8 29.1h14.3v1.2H547.8zM588.1 29.1h4.2v1.2H588.1zM618.3 29.1h6.2v1.2H618.3zM546.8 30.1h16.3v1.2H546.8zM588.1 30.1h3.2v1.2H588.1zM618.3 30.1h6.2v1.2H618.3zM546.8 31.1h17.3v1.2H546.8zM621.3 31.1h2.2v1.2H621.3zM547.8 32.1h9.3v1.2H547.8zM560.9 32.1h3.2v1.2H560.9zM547.8 33.1h8.3v1.2H547.8zM560.9 33.1h4.2v1.2H560.9zM546.8 34.1h9.3v1.2H546.8zM560.9 34.1h4.2v1.2H560.9zM546.8 35.1h8.3v1.2H546.8zM560.9 35.1h5.2v1.2H560.9zM546.8 36.1h8.3v1.2H546.8zM560.9 36.1h6.2v1.2H560.9zM555.9 37.1h3.2v1.2H555.9zM560.9 37.1h9.3v1.2H560.9zM555.9 38.1h3.2v1.2H555.9zM560.9 38.1h10.3v1.2H560.9zM555.9 39.2h3.2v1.2H555.9zM559.9 39.2h11.3v1.2H559.9zM559.9 40.2h6.2v1.2H559.9zM568.0 40.2h3.2v1.2H568.0zM560.9 41.2h1.2v1.2H560.9zM564.9 41.2h5.2v1.2H564.9zM566.9 42.2h2.2v1.2H566.9zM548.8 43.2h2.2v1.2H548.8zM548.8 44.2h8.3v1.2H548.8zM579.0 44.2h1.2v1.2H579.0zM549.8 45.2h1.2v1.2H549.8zM552.8 45.2h6.2v1.2H552.8zM578.0 45.2h4.2v1.2H578.0zM548.8 46.2h11.3v1.2H548.8zM577.0 46.2h5.2v1.2H577.0zM548.8 47.2h12.3v1.2H548.8zM562.9 47.2h2.2v1.2H562.9zM576.0 47.2h5.2v1.2H576.0zM548.8 48.2h12.3v1.2H548.8zM561.9 48.2h4.2v1.2H561.9zM571.0 48.2h10.3v1.2H571.0zM599.2 48.2h1.2v1.2H599.2zM621.3 48.2h1.2v1.2H621.3zM548.8 49.2h17.3v1.2H548.8zM571.0 49.2h10.3v1.2H571.0zM598.2 49.2h2.2v1.2H598.2zM621.3 49.2h1.2v1.2H621.3zM548.8 50.2h17.3v1.2H548.8zM571.0 50.2h10.3v1.2H571.0zM598.2 50.2h3.2v1.2H598.2zM622.3 50.2h1.2v1.2H622.3zM548.8 51.2h9.3v1.2H548.8zM559.9 51.2h6.2v1.2H559.9zM571.0 51.2h10.3v1.2H571.0zM600.2 51.2h1.2v1.2H600.2zM619.3 51.2h4.2v1.2H619.3zM548.8 52.2h8.3v1.2H548.8zM562.9 52.2h3.2v1.2H562.9zM572.0 52.2h8.3v1.2H572.0zM619.3 52.2h4.2v1.2H619.3zM549.8 53.3h10.3v1.2H549.8zM562.9 53.3h3.2v1.2H562.9zM619.3 53.3h5.2v1.2H619.3zM549.8 54.3h2.2v1.2H549.8zM554.9 54.3h6.2v1.2H554.9zM562.9 54.3h3.2v1.2H562.9zM609.3 54.3h3.2v1.2H609.3zM618.3 54.3h2.2v1.2H618.3zM621.3 54.3h4.2v1.2H621.3zM550.8 55.3h1.2v1.2H550.8zM554.9 55.3h2.2v1.2H554.9zM559.9 55.3h1.2v1.2H559.9zM563.9 55.3h2.2v1.2H563.9zM609.3 55.3h4.2v1.2H609.3zM619.3 55.3h1.2v1.2H619.3zM621.3 55.3h5.2v1.2H621.3zM550.8 56.3h6.2v1.2H550.8zM559.9 56.3h6.2v1.2H559.9zM609.3 56.3h4.2v1.2H609.3zM619.3 56.3h9.3v1.2H619.3zM553.9 57.3h15.3v1.2H553.9zM609.3 57.3h1.2v1.2H609.3zM619.3 57.3h9.3v1.2H619.3zM555.9 58.3h5.2v1.2H555.9zM564.9 58.3h6.2v1.2H564.9zM609.3 58.3h5.2v1.2H609.3zM618.3 58.3h10.3v1.2H618.3zM555.9 59.3h4.2v1.2H555.9zM564.9 59.3h6.2v1.2H564.9zM580.0 59.3h3.2v1.2H580.0zM609.3 59.3h6.2v1.2H609.3zM617.3 59.3h10.3v1.2H617.3zM555.9 60.3h4.2v1.2H555.9zM564.9 60.3h7.3v1.2H564.9zM579.0 60.3h5.2v1.2H579.0zM609.3 60.3h18.3v1.2H609.3zM555.9 61.3h3.2v1.2H555.9zM565.9 61.3h6.2v1.2H565.9zM579.0 61.3h5.2v1.2H579.0zM609.3 61.3h18.3v1.2H609.3zM555.9 62.3h3.2v1.2H555.9zM565.9 62.3h6.2v1.2H565.9zM579.0 62.3h6.2v1.2H579.0zM609.3 62.3h6.2v1.2H609.3zM617.3 62.3h9.3v1.2H617.3zM555.9 63.3h4.2v1.2H555.9zM565.9 63.3h6.2v1.2H565.9zM580.0 63.3h4.2v1.2H580.0zM609.3 63.3h5.2v1.2H609.3zM618.3 63.3h6.2v1.2H618.3zM555.9 64.3h4.2v1.2H555.9zM566.9 64.3h5.2v1.2H566.9zM580.0 64.3h4.2v1.2H580.0zM618.3 64.3h5.2v1.2H618.3zM555.9 65.3h4.2v1.2H555.9zM566.9 65.3h5.2v1.2H566.9zM581.0 65.3h4.2v1.2H581.0zM618.3 65.3h5.2v1.2H618.3zM556.9 66.3h2.2v1.2H556.9zM566.9 66.3h5.2v1.2H566.9zM581.0 66.3h4.2v1.2H581.0zM618.3 66.3h6.2v1.2H618.3zM568.0 67.4h4.2v1.2H568.0zM581.0 67.4h5.2v1.2H581.0zM618.3 67.4h6.2v1.2H618.3zM570.0 68.4h5.2v1.2H570.0zM582.1 68.4h5.2v1.2H582.1zM617.3 68.4h8.3v1.2H617.3zM571.0 69.4h4.2v1.2H571.0zM582.1 69.4h6.2v1.2H582.1zM616.3 69.4h9.3v1.2H616.3zM571.0 70.4h3.2v1.2H571.0zM575.0 70.4h1.2v1.2H575.0zM582.1 70.4h6.2v1.2H582.1zM615.3 70.4h11.3v1.2H615.3zM571.0 71.4h3.2v1.2H571.0zM575.0 71.4h2.2v1.2H575.0zM582.1 71.4h6.2v1.2H582.1zM615.3 71.4h2.2v1.2H615.3zM619.3 71.4h7.3v1.2H619.3zM572.0 72.4h2.2v1.2H572.0zM575.0 72.4h2.2v1.2H575.0zM582.1 72.4h5.2v1.2H582.1zM616.3 72.4h1.2v1.2H616.3zM619.3 72.4h7.3v1.2H619.3zM573.0 73.4h4.2v1.2H573.0zM582.1 73.4h5.2v1.2H582.1zM615.3 73.4h6.2v1.2H615.3zM624.4 73.4h1.2v1.2H624.4zM574.0 74.4h2.2v1.2H574.0zM582.1 74.4h4.2v1.2H582.1zM614.3 74.4h5.2v1.2H614.3zM584.1 75.4h1.2v1.2H584.1zM609.3 75.4h9.3v1.2H609.3zM609.3 76.4h9.3v1.2H609.3zM609.3 77.4h8.3v1.2H609.3zM631.4 77.4h2.2v1.2H631.4zM631.4 78.4h2.2v1.2H631.4zM625.4 79.4h5.2v1.2H625.4zM632.4 79.4h1.2v1.2H632.4zM624.4 80.5h6.2v1.2H624.4zM623.4 81.5h2.2v1.2H623.4zM626.4 81.5h4.2v1.2H626.4zM635.4 81.5h2.2v1.2H635.4zM623.4 82.5h7.3v1.2H623.4zM635.4 82.5h2.2v1.2H635.4zM624.4 83.5h12.3v1.2H624.4zM624.4 84.5h11.3v1.2H624.4zM623.4 85.5h12.3v1.2H623.4zM620.3 86.5h15.3v1.2H620.3zM620.3 87.5h12.3v1.2H620.3zM633.4 87.5h2.2v1.2H633.4zM577.0 88.5h3.2v1.2H577.0zM620.3 88.5h12.3v1.2H620.3zM577.0 89.5h4.2v1.2H577.0zM620.3 89.5h1.2v1.2H620.3zM626.4 89.5h3.2v1.2H626.4zM577.0 90.5h4.2v1.2H577.0zM555.9 91.5h4.2v1.2H555.9zM577.0 91.5h4.2v1.2H577.0zM594.1 91.5h6.2v1.2H594.1zM609.3 91.5h4.2v1.2H609.3zM554.9 92.5h5.2v1.2H554.9zM577.0 92.5h4.2v1.2H577.0zM594.1 92.5h6.2v1.2H594.1zM609.3 92.5h4.2v1.2H609.3zM557.9 93.5h2.2v1.2H557.9zM578.0 93.5h3.2v1.2H578.0zM594.1 93.5h7.3v1.2H594.1zM610.3 93.5h2.2v1.2H610.3zM577.0 94.6h4.2v1.2H577.0zM595.1 94.6h4.2v1.2H595.1zM577.0 95.6h5.2v1.2H577.0zM615.3 95.6h2.2v1.2H615.3zM546.8 96.6h1.2v1.2H546.8zM577.0 96.6h5.2v1.2H577.0zM614.3 96.6h3.2v1.2H614.3zM546.8 97.6h2.2v1.2H546.8zM551.8 97.6h1.2v1.2H551.8zM577.0 97.6h5.2v1.2H577.0zM614.3 97.6h5.2v1.2H614.3zM546.8 98.6h3.2v1.2H546.8zM577.0 98.6h5.2v1.2H577.0zM614.3 98.6h5.2v1.2H614.3zM546.8 99.6h2.2v1.2H546.8zM577.0 99.6h4.2v1.2H577.0zM616.3 99.6h3.2v1.2H616.3zM598.2 100.6h4.2v1.2H598.2zM597.2 101.6h6.2v1.2H597.2zM597.2 102.6h7.3v1.2H597.2zM574.0 103.6h1.2v1.2H574.0zM598.2 103.6h6.2v1.2H598.2zM574.0 104.6h1.2v1.2H574.0zM598.2 104.6h6.2v1.2H598.2zM574.0 105.6h4.2v1.2H574.0zM599.2 105.6h3.2v1.2H599.2zM605.2 105.6h5.2v1.2H605.2zM573.0 106.6h8.3v1.2H573.0zM605.2 106.6h7.3v1.2H605.2zM634.4 106.6h2.2v1.2H634.4zM572.0 107.6h10.3v1.2H572.0zM588.1 107.6h3.2v1.2H588.1zM604.2 107.6h8.3v1.2H604.2zM631.4 107.6h7.3v1.2H631.4zM572.0 108.7h9.3v1.2H572.0zM586.1 108.7h6.2v1.2H586.1zM604.2 108.7h8.3v1.2H604.2zM630.4 108.7h9.3v1.2H630.4zM572.0 109.7h9.3v1.2H572.0zM586.1 109.7h6.2v1.2H586.1zM604.2 109.7h2.2v1.2H604.2zM630.4 109.7h9.3v1.2H630.4zM572.0 110.7h9.3v1.2H572.0zM587.1 110.7h5.2v1.2H587.1zM631.4 110.7h9.3v1.2H631.4zM575.0 111.7h6.2v1.2H575.0zM587.1 111.7h5.2v1.2H587.1zM627.4 111.7h14.3v1.2H627.4zM576.0 112.7h5.2v1.2H576.0zM587.1 112.7h6.2v1.2H587.1zM626.4 112.7h16.3v1.2H626.4zM576.0 113.7h5.2v1.2H576.0zM587.1 113.7h6.2v1.2H587.1zM626.4 113.7h9.3v1.2H626.4zM638.5 113.7h4.2v1.2H638.5z"/></g></g>
<rect x="456.8" y="96.8" width="25.7" height="2.4" fill="#ffffff" stroke="none" stroke-width="1" />
<text x="469" y="110.3" font-size="9.3" text-anchor="middle" fill="#ffffff" >500 nm</text>
<rect x="555.4" y="96.8" width="24.8" height="2.4" fill="#ffffff" stroke="none" stroke-width="1" />
<text x="567.8" y="110.3" font-size="9.3" text-anchor="middle" fill="#ffffff" >500 nm</text>
<defs><linearGradient id="cbar" x1="0" x2="1" y1="0" y2="0"><stop offset="0" stop-color="#140805"/><stop offset="0.25" stop-color="#5a1a0a"/><stop offset="0.5" stop-color="#b0561a"/><stop offset="0.72" stop-color="#e0a030"/><stop offset="0.86" stop-color="#f2d84a"/><stop offset="1" stop-color="#fdf6c8"/></linearGradient></defs>
<rect x="541" y="124.8" width="95.7" height="9.3" fill="url(#cbar)" stroke="#555" stroke-width="0.6" />
<text x="544.2" y="145.2" font-size="9.3" text-anchor="middle" fill="#4a4a4a" >0 nm</text>
<text x="636" y="143.8" font-size="9.3" text-anchor="middle" fill="#4a4a4a" >4 nm</text>
<path d="M48.3 385.0l1 3.1 .4 .7 .8 .8 .9 .5 1 .2 .7-.1 .8-.3 1.1-.7 1.4-1.2 3.5-3.5 2.7-3.1 4.6-6 2.2-2.1 2.5-1.8 2.8-1.7 1.7-.7 6-3 2-.8 2-.7 2.5-.5 3-.2 4 .1 4 .5 3.5 .5 3.5 .9 3 1 3 1.2 6 3 5.5 3 5 3 5 3.4 5.5 4.1 6 4.9 6 5.2 5 4.7 4.5 4.5 4 4.2 3.5 4 3 3.8 2.5 3.4 3 4.5 3 4.9 4 7 2.5 3.5 5.5 6.1 9 9" fill="none" stroke="#c8141e" stroke-width="1.8"/>
<path d="M48.3 385.5l1.1 5.5 1.4 10 .9 4.2 .6 1.5 .4 .4 .4-.1 .6-1 1.2-3.1 3.4-12.9 .9-4.9 3.8-27 1.1-6.2 1.7-7 1.8-5.9 1.1-2.7 .8-1.4 .8-1 .9-.7 .9-.4 1.2 0 2.2 .8 .5 .4 3.5 2 10.5 6.7 6.5 3.8 6.5 3.5 6.5 3.2 6.5 2.9 5.5 2.2 19.5 6.7 5.5 2.1 8.5 3.9 9 4.4 4.5 2.5 4 2.5 5 3.4 4.5 3.4 4 3.4 3 2.8 3 3.1 9.5 10.6" fill="none" stroke="#434b9a" stroke-width="1.8"/>
<line x1="48.3" y1="596.35" x2="51.3" y2="596.35" stroke="#888" stroke-width="0.9" />
<line x1="48.3" y1="576.5" x2="53.5" y2="576.5" stroke="#888" stroke-width="0.9" />
<line x1="48.3" y1="556.65" x2="51.3" y2="556.65" stroke="#888" stroke-width="0.9" />
<line x1="48.3" y1="536.8" x2="53.5" y2="536.8" stroke="#888" stroke-width="0.9" />
<line x1="48.3" y1="516.95" x2="51.3" y2="516.95" stroke="#888" stroke-width="0.9" />
<line x1="48.3" y1="497.1" x2="53.5" y2="497.1" stroke="#888" stroke-width="0.9" />
<line x1="48.3" y1="477.25" x2="51.3" y2="477.25" stroke="#888" stroke-width="0.9" />
<line x1="48.3" y1="457.4" x2="53.5" y2="457.4" stroke="#888" stroke-width="0.9" />
<line x1="48.3" y1="437.55" x2="51.3" y2="437.55" stroke="#888" stroke-width="0.9" />
<line x1="48.3" y1="417.7" x2="53.5" y2="417.7" stroke="#888" stroke-width="0.9" />
<line x1="48.3" y1="397.85" x2="51.3" y2="397.85" stroke="#888" stroke-width="0.9" />
<line x1="48.3" y1="378" x2="53.5" y2="378" stroke="#888" stroke-width="0.9" />
<line x1="48.3" y1="358.15" x2="51.3" y2="358.15" stroke="#888" stroke-width="0.9" />
<line x1="48.3" y1="338.3" x2="53.5" y2="338.3" stroke="#888" stroke-width="0.9" />
<line x1="73.98" y1="616.2" x2="73.98" y2="613.2" stroke="#888" stroke-width="0.9" />
<line x1="99.66" y1="616.2" x2="99.66" y2="611.2" stroke="#888" stroke-width="0.9" />
<line x1="125.34" y1="616.2" x2="125.34" y2="613.2" stroke="#888" stroke-width="0.9" />
<line x1="151.02" y1="616.2" x2="151.02" y2="611.2" stroke="#888" stroke-width="0.9" />
<line x1="176.7" y1="616.2" x2="176.7" y2="613.2" stroke="#888" stroke-width="0.9" />
<path d="M48.3 323.4 H202.4 V616.2 H48.3 Z" fill="none" stroke="#9a9a9a" stroke-width="1"/>
<text x="44.2" y="619" font-size="10" text-anchor="end" fill="#4a4a4a" >0</text>
<text x="44.2" y="579.3" font-size="10" text-anchor="end" fill="#4a4a4a" >2</text>
<text x="44.2" y="539.6" font-size="10" text-anchor="end" fill="#4a4a4a" >4</text>
<text x="44.2" y="499.9" font-size="10" text-anchor="end" fill="#4a4a4a" >6</text>
<text x="44.2" y="460.2" font-size="10" text-anchor="end" fill="#4a4a4a" >8</text>
<text x="44.2" y="420.5" font-size="10" text-anchor="end" fill="#4a4a4a" >10</text>
<text x="44.2" y="380.8" font-size="10" text-anchor="end" fill="#4a4a4a" >12</text>
<text x="44.2" y="341.1" font-size="10" text-anchor="end" fill="#4a4a4a" >14</text>
<text x="48.3" y="627.3" font-size="10" text-anchor="middle" fill="#4a4a4a" >0</text>
<text x="99.66" y="627.3" font-size="10" text-anchor="middle" fill="#4a4a4a" >100</text>
<text x="151.02" y="627.3" font-size="10" text-anchor="middle" fill="#4a4a4a" >200</text>
<text x="202.38" y="627.3" font-size="10" text-anchor="middle" fill="#4a4a4a" >300</text>
<text x="125.8" y="642" font-size="10" text-anchor="middle" fill="#4a4a4a" ><tspan font-style="italic">T</tspan> (K)</text>
<text x="23.6" y="470" font-size="10" text-anchor="middle" fill="#4a4a4a" transform="rotate(-90 23.6 470)" ><tspan font-style="italic">R</tspan> (kΩ)</text>
<text x="144.5" y="355" font-size="10" text-anchor="middle" fill="#5058a0" textLength="43.7" lengthAdjust="spacingAndGlyphs" >Cr-droped</text>
<text x="95.8" y="381.4" font-size="10" text-anchor="middle" fill="#c83040" textLength="32.9" lengthAdjust="spacingAndGlyphs" >Pristine</text>
<text x="8.5" y="331" font-size="11" text-anchor="middle" fill="#111" font-weight="bold" >d</text>
<rect x="55.4" y="433.5" width="80.9" height="156.1" fill="#24242c" stroke="none" stroke-width="1" />
<clipPath id="mclip"><rect x="55.4" y="433.5" width="80.9" height="156.1"/></clipPath>
<g clip-path="url(#mclip)">
<rect x="90.5" y="430" width="12.9" height="34" fill="#3a3520" stroke="#e8d870" stroke-width="0.9" />
<path d="M87.4 576 L87.4 467.8 L125.9 467.8 L125.9 430" stroke="#e8d870" stroke-width="0.9" fill="none" />
<path d="M107.6 576 L107.6 473.6 L133 473.6 L133 430" stroke="#e8d870" stroke-width="0.9" fill="none" />
<rect x="126.5" y="430" width="6" height="43" fill="#2e2c22" stroke="none" stroke-width="1" />
<rect x="108.2" y="468.3" width="24.5" height="5" fill="#2e2c22" stroke="none" stroke-width="1" />
<rect x="91.6" y="468.3" width="11.8" height="107.5" fill="#3c3a2a" stroke="none" stroke-width="1" />
<line x1="91.6" y1="474" x2="91.6" y2="575.5" stroke="#8a8450" stroke-width="0.7" />
<line x1="103.4" y1="474" x2="103.4" y2="575.5" stroke="#8a8450" stroke-width="0.7" />
<line x1="82.5" y1="540.4" x2="87.4" y2="540.4" stroke="#6a6440" stroke-width="1.0" />
<line x1="107.6" y1="540.4" x2="112.4" y2="540.4" stroke="#6a6440" stroke-width="1.0" />
<line x1="82.2" y1="501.2" x2="87.4" y2="501.2" stroke="#6a6440" stroke-width="1.0" />
<line x1="107.6" y1="501.2" x2="112.4" y2="501.2" stroke="#6a6440" stroke-width="1.0" />
<line x1="87.4" y1="575.8" x2="107.6" y2="575.8" stroke="#e8d870" stroke-width="0.9" />
<rect x="55.4" y="499.3" width="26.8" height="3.9" fill="#5a5230" stroke="#e8d870" stroke-width="0.8" />
<rect x="112.4" y="499.3" width="25" height="3.9" fill="#5a5230" stroke="#e8d870" stroke-width="0.8" />
<path d="M82.5 538.3 L62.4 538.3 L62.4 592" stroke="#e8d870" stroke-width="0.9" fill="none" />
<path d="M82.5 542.5 L68.6 542.5 L68.6 592" stroke="#e8d870" stroke-width="0.9" fill="none" />
<rect x="63" y="538.9" width="19.5" height="3" fill="#3a3626" stroke="none" stroke-width="1" />
<rect x="63" y="541.5" width="5" height="50" fill="#2e2c26" stroke="none" stroke-width="1" />
<line x1="82.5" y1="538.3" x2="82.5" y2="542.5" stroke="#e8d870" stroke-width="0.9" />
<rect x="112.4" y="538.3" width="25" height="4.2" fill="#5a5230" stroke="#e8d870" stroke-width="0.8" />
<rect x="90.9" y="576.5" width="47" height="7.7" fill="#4a4428" stroke="#e8d870" stroke-width="0.9" />
<circle cx="96.5" cy="440" r="0.7" fill="#f0e8a0"/>
<circle cx="99" cy="448" r="0.7" fill="#f0e8a0"/>
<circle cx="95" cy="456" r="0.7" fill="#f0e8a0"/>
<circle cx="98" cy="462" r="0.7" fill="#f0e8a0"/>
<circle cx="77.7" cy="512" r="0.7" fill="#f0e8a0"/>
<circle cx="100" cy="580" r="0.7" fill="#f0e8a0"/>
<circle cx="118" cy="581" r="0.7" fill="#f0e8a0"/>
<circle cx="128" cy="580" r="0.7" fill="#f0e8a0"/>
<circle cx="96" cy="520" r="0.7" fill="#f0e8a0"/>
<circle cx="98" cy="545" r="0.7" fill="#f0e8a0"/>
</g>
<rect x="60.7" y="436" width="25.3" height="2.4" fill="#ffffff" stroke="none" stroke-width="1" />
<text x="73.2" y="449.5" font-size="9.3" text-anchor="middle" fill="#ffffff" textLength="32" lengthAdjust="spacingAndGlyphs" >0.2 mm</text>
<text x="81" y="463" font-size="10" text-anchor="middle" fill="#f4f4f4"><tspan font-style="italic">I</tspan>+</text>
<text x="70.6" y="495" font-size="10" text-anchor="middle" fill="#f4f4f4"><tspan font-style="italic">V</tspan>+</text>
<text x="121.5" y="495" font-size="10" text-anchor="middle" fill="#f4f4f4"><tspan font-style="italic">V</tspan><tspan font-size="6.5" dy="2">H</tspan></text>
<text x="116" y="463" font-size="10" text-anchor="middle" fill="#f4f4f4"><tspan font-style="italic">V</tspan><tspan font-size="6.5" dy="2">T</tspan></text>
<text x="75" y="535" font-size="10" text-anchor="middle" fill="#f4f4f4"><tspan font-style="italic">V</tspan>−</text>
<text x="113.5" y="573.5" font-size="10" text-anchor="middle" fill="#f4f4f4"><tspan font-style="italic">I</tspan>−</text>
<rect x="141.2" y="488.9" width="53.7" height="18.2" fill="#f6e21e" stroke="#e39a1c" stroke-width="1.9" />
<text x="168.05" y="501.6" font-size="10" text-anchor="middle" fill="#2a2a2a" >Ti/Au</text>
<rect x="141.2" y="508.5" width="53.7" height="18" fill="#5da3e3" stroke="#1f3c96" stroke-width="1.9" />
<rect x="141.2" y="527.9" width="53.7" height="19.4" fill="#4c9c3c" stroke="#1e5a22" stroke-width="1.9" />
<text x="168.05" y="541.2" font-size="10" text-anchor="middle" fill="#2a2a2a" >TI film</text>
<rect x="141.2" y="548.7" width="53.7" height="18.8" fill="#a9a9a9" stroke="#222222" stroke-width="1.9" />
<text x="168.05" y="561.7" font-size="10" text-anchor="middle" fill="#2a2a2a" >InP (111)</text>
<text x="168.05" y="520.5" font-size="10" text-anchor="middle" fill="#1f3070">Al<tspan font-size="6.5" dy="2">2</tspan><tspan dy="-2">O</tspan><tspan font-size="6.5" dy="2">3</tspan></text>
<clipPath id="eclip"><rect x="267.4" y="323.4" width="160.1" height="144.4"/></clipPath>
<g clip-path="url(#eclip)" fill="none" stroke-width="1">
<path d="M267.4 342.9l80-15 80.1 15" stroke="#3f7f58" stroke-width="1.0"/>
<path d="M267.4 345.8l160.1 0" stroke="#9b9b9b" stroke-width="1.0"/>
<path d="M267.4 359.6l45-13.8 16.4-5.2 6-2.2 4.8-1.9 3.8-1.9 4-2.2 4.1 2.2 3.8 1.9 4.8 1.9 6 2.2 16.4 5.2 45 13.8" stroke="#8cbd45" stroke-width="1.0"/>
<path d="M267.4 396.2l14-2.3 6.4-1.4 6.2-1.5 5.8-1.6 5.6-1.7 5.4-2 5.2-2.1 5.2-2.3 5-2.6 5-2.9 4.6-2.9 4.4-3.2 3.8-3.1 3-2.9 1.9-2.4 .4-.2 .4 .4 1.4 3.6 1 1.7 1.6 1.8 2.2 1.9 4.6 3.3 5.2 3.2 5.4 3 5.8 2.8 5.2 2.2 5.6 2.1 5.8 1.9 6.2 1.7 6.4 1.6 6.8 1.4 7 1.3 7.6 1.2" stroke="#e8862a" stroke-width="1.0"/>
<path d="M267.4 396.2l7.6-1.2 7-1.3 6.8-1.4 6.4-1.6 6.2-1.7 5.8-1.9 5.6-2.1 5.2-2.2 5.8-2.8 5.4-3 5.2-3.2 4.6-3.3 2.2-1.9 1.6-1.8 1-1.7 1.4-3.6 .4-.4 .4 .2 1.9 2.4 3 2.9 3.8 3.1 4.4 3.2 4.6 2.9 5 2.9 5 2.6 5.2 2.3 5.2 2.1 5.4 2 5.6 1.7 5.8 1.6 6.2 1.5 6.4 1.4 14 2.3" stroke="#e8862a" stroke-width="1.0"/>
<path d="M267.4 437.3l16-1.4 13.8-1.9 6.2-1.1 5.8-1.3 5.6-1.4 5.2-1.7 5-1.8 4.8-2.1 4.4-2.2 4.2-2.4 4.2-2.9 5.9-4.8 1-1 1.6-2.3 .6-.4 .4 .2 .6 .9 1.8 4.7 1.2 2.4 1.2 1.7 1.4 1.5 2.4 1.8 3.2 2 4 1.9 4.4 1.8 5.2 1.8 5.8 1.7 6 1.4 6.6 1.3 7 1.1 7.4 1 17.2 1.5" stroke="#d3262c" stroke-width="1.0"/>
<path d="M267.4 437.3l17.2-1.5 7.4-1 7-1.1 6.6-1.3 6-1.4 5.8-1.7 5.2-1.8 4.4-1.8 4-1.9 3.2-2 2.4-1.8 1.4-1.5 1.2-1.7 1.2-2.4 1.8-4.7 .6-.9 .4-.2 .6 .4 1.6 2.3 1 1 5.9 4.8 4.2 2.9 4.2 2.4 4.4 2.2 4.8 2.1 5 1.8 5.2 1.7 5.6 1.4 5.8 1.3 6.2 1.1 13.8 1.9 16 1.4" stroke="#d3262c" stroke-width="1.0"/>
<path d="M267.4 451.9l12.6-.9 12-1 31.8-3.9 9.8-1 11-.8 16.3-.5 2.8-.3 2-.5 1.6-.8 1.2-1 1-1.6 .8-2.1 .6-2.4 .6-3.4 1.6-13.8 .2-1.1 .2-.6 .2 0 .6 .8 .6 1.6 2.8 11.1 1 3.2 1 2.6 1.2 2.3 1.4 1.9 1.6 1.6 1.8 1.2 2.4 1.2 3 .9 3.8 .8 4.6 .7 5.8 .6 6.6 .4 15.6 .5" stroke="#1e1e1e" stroke-width="1.0"/>
<path d="M267.4 447.6l15.6-.5 6.6-.4 5.8-.6 4.6-.7 3.8-.8 3-.9 2.4-1.2 1.8-1.2 1.6-1.6 1.4-1.9 1.2-2.3 1-2.6 1-3.2 2.8-11.1 .6-1.6 .6-.8 .2 0 .2 .6 .2 1.1 1.6 13.8 .6 3.4 .6 2.4 .8 2.1 1 1.6 1.2 1 1.6 .8 2 .5 2.8 .3 16.3 .5 11 .8 9.8 1 31.8 3.9 12 1 12.6 .9" stroke="#1e1e1e" stroke-width="1.0"/>
<path d="M267.4 465.3l14.2-.1 9-.2 7.4-.5 6.4-.7 5.8-1 5.8-1.5 5.4-1.7 12-4.3 6.4-1.7 3.2-.6 3-.4 8.9 0 2.4-.3 1-.4 1-.8 .8-1 .6-1.1 1.2-3.9 1.4-6.9 .4-1.2 .2-.2 .6 .5 .6 1.2 3.2 9.9 1.2 2.8 1.2 2.1 1.6 2 2 1.9 2.2 1.5 2.8 1.4 3.6 1.4 4 1.1 4.6 1 5 .6 5.4 .5 6.4 .3 19.2 .2" stroke="#4a52ad" stroke-width="1.0"/>
<path d="M267.4 465.2l19.2-.2 6.4-.3 5.4-.5 5-.6 4.6-1 4-1.1 3.6-1.4 2.8-1.4 2.2-1.5 2-1.9 1.6-2 1.2-2.1 1.2-2.8 3.2-9.9 .6-1.2 .6-.5 .2 .2 .4 1.2 1.4 6.9 1.2 3.9 .6 1.1 .8 1 1 .8 1 .4 2.4 .3 8.9 0 3 .4 3.2 .6 6.4 1.7 12 4.3 5.4 1.7 5.8 1.5 5.8 1 6.4 .7 7.4 .5 9 .2 14.2 .1" stroke="#4a52ad" stroke-width="1.0"/>
<path d="M267.4 465.3l14.8-.1 9.4-.2 7.6-.6 6.6-.8 5.6-1.1 5.6-1.5 5-1.6 10.8-3.9 5.2-1.6 4.6-1 8.7-1.3 1.2-.4 1-.6 1.4-1.7 1.2-2.7 1.6-5.5 .6-1 .6 .4 .6 1 2.6 6.3 1.2 2.5 1.2 1.9 1.4 1.7 2 1.8 2.6 1.7 3.2 1.7 3.8 1.6 4.2 1.3 4.6 1.2 4.8 .9 5 .6 5.4 .4 6.4 .3 19.6 .2" stroke="#7b3596" stroke-width="1.0"/>
<path d="M267.4 465.2l19.6-.2 6.4-.3 5.4-.4 5-.6 4.8-.9 4.6-1.2 4.2-1.3 3.8-1.6 3.2-1.7 2.6-1.7 2-1.8 1.4-1.7 1.2-1.9 1.2-2.5 2.6-6.3 .6-1 .6-.4 .6 1 1.6 5.5 1.2 2.7 1.4 1.7 1 .6 1.2 .4 8.7 1.3 4.6 1 5.2 1.6 10.8 3.9 5 1.6 5.6 1.5 5.6 1.1 6.6 .8 7.6 .6 9.4 .2 14.8 .1" stroke="#7b3596" stroke-width="1.0"/>
</g>
<line x1="267.4" y1="454.1" x2="271.9" y2="454.1" stroke="#888" stroke-width="0.9" />
<line x1="267.4" y1="439.35" x2="270.2" y2="439.35" stroke="#888" stroke-width="0.9" />
<line x1="267.4" y1="424.6" x2="271.9" y2="424.6" stroke="#888" stroke-width="0.9" />
<line x1="267.4" y1="409.85" x2="270.2" y2="409.85" stroke="#888" stroke-width="0.9" />
<line x1="267.4" y1="395.1" x2="271.9" y2="395.1" stroke="#888" stroke-width="0.9" />
<line x1="267.4" y1="380.35" x2="270.2" y2="380.35" stroke="#888" stroke-width="0.9" />
<line x1="267.4" y1="365.6" x2="271.9" y2="365.6" stroke="#888" stroke-width="0.9" />
<line x1="267.4" y1="350.85" x2="270.2" y2="350.85" stroke="#888" stroke-width="0.9" />
<line x1="267.4" y1="336.1" x2="271.9" y2="336.1" stroke="#888" stroke-width="0.9" />
<path d="M267.4 323.4 H427.5 V467.8 H267.4 Z" fill="none" stroke="#9a9a9a" stroke-width="1"/>
<text x="263.5" y="457.6" font-size="10" text-anchor="end" fill="#4a4a4a" >10</text>
<text x="263.5" y="428.1" font-size="10" text-anchor="end" fill="#4a4a4a" >11</text>
<text x="263.5" y="398.6" font-size="10" text-anchor="end" fill="#4a4a4a" >12</text>
<text x="263.5" y="369.1" font-size="10" text-anchor="end" fill="#4a4a4a" >13</text>
<text x="263.5" y="339.6" font-size="10" text-anchor="end" fill="#4a4a4a" >14</text>
<text x="245" y="394" font-size="10" text-anchor="middle" fill="#4a4a4a" transform="rotate(-90 245 394)"><tspan font-style="italic">R</tspan><tspan font-size="6.5" dy="2" font-style="italic">xx</tspan><tspan dy="-2"> (kΩ)</tspan></text>
<text x="418" y="338.6" font-size="10" text-anchor="middle" fill="#4a4a4a" >50</text>
<text x="363.6" y="355.3" font-size="10" text-anchor="middle" fill="#4a4a4a" >80</text>
<text x="414" y="366.4" font-size="10" text-anchor="middle" fill="#4a4a4a" >40</text>
<text x="418.3" y="389.3" font-size="10" text-anchor="middle" fill="#4a4a4a" >30</text>
<text x="418.5" y="431.6" font-size="10" text-anchor="middle" fill="#4a4a4a" >20</text>
<text x="383.4" y="401.1" font-size="10" text-anchor="middle" fill="#4a4a4a"><tspan font-style="italic">T</tspan> = 2 K</text>
<text x="390.7" y="416.9" font-size="10" text-anchor="middle" fill="#4a4a4a" >5</text>
<text x="398.3" y="426.9" font-size="10" text-anchor="middle" fill="#4a4a4a" >10</text>
<line x1="379.6" y1="404.3" x2="375.74" y2="412.02" stroke="#222" stroke-width="0.8"/>
<path d="M374.4 414.7 L374.49 410.27 L375.65 412.2 L377.89 411.97Z" fill="#222"/>
<line x1="387.9" y1="418.2" x2="370.28" y2="442.18" stroke="#222" stroke-width="0.8"/>
<path d="M368.5 444.6 L369.34 440.25 L370.16 442.34 L372.4 442.5Z" fill="#222"/>
<line x1="393.5" y1="428.6" x2="369.25" y2="452.21" stroke="#222" stroke-width="0.8"/>
<path d="M367.1 454.3 L368.64 450.15 L369.11 452.35 L371.29 452.87Z" fill="#222"/>
<text x="226" y="330.2" font-size="11" text-anchor="middle" fill="#111" font-weight="bold" >e</text>
<clipPath id="fclip"><rect x="267.4" y="467.8" width="160.1" height="148.7"/></clipPath>
<g clip-path="url(#fclip)" fill="none">
<path d="M267.4 551.2l64.8-2.6 9-.6 11.1-1.4 7.6-.6 67.6-2.8" stroke="#9b9b9b" stroke-width="1.0"/>
<path d="M267.4 557.3l56-2.8 10.6-.8 4.2-.8 3.2-1.3 3-1.9 5.5-4.8 2.4-1.8 3.2-1.6 3.6-.9 4.2-.5 6.6-.5 57.6-2.8" stroke="#3f7f58" stroke-width="1.0"/>
<path d="M267.4 562.8l57.8-3.2 6-.4 3.8-.5 2.2-.6 1.8-.7 1.6-1 1.4-1.2 1.2-1.3 1.4-1.9 5.1-8.6 2.2-3.1 1.4-1.5 1.4-1.1 1.6-.9 1.8-.6 3.8-.8 6.2-.5 59.4-3.3" stroke="#8cbd45" stroke-width="1.0"/>
<path d="M267.4 570.5l65.2-4 5.6-.5 2.8-.5 1.4-.6 1-.9 .8-1.1 .8-1.8 1.2-3.9 2.7-10.5 2.2-7.3 1.4-3.7 .8-1.6 1-1.3 1-.8 1.4-.8 3-1.2 4-1 4.6-.8 5.8-.7 14.6-1.2 38.8-2.4" stroke="#e8862a" stroke-width="1.0"/>
<path d="M267.4 570.5l38.8-2.4 14.6-1.2 5.8-.7 4.6-.8 4-1 3-1.2 1.4-.8 1-.8 1-1.3 .8-1.6 1.4-3.7 2.2-7.3 2.7-10.5 1.2-3.9 .8-1.8 .8-1.1 1-.9 1.4-.6 2.8-.5 5.6-.5 65.2-4" stroke="#e8862a" stroke-width="1.0"/>
<path d="M267.4 578.8l68-4.5 5.4-.5 2.8-.7 1.2-.6 1-1.1 .8-1.6 .6-1.8 1.5-6.5 2.4-15 3-14.9 .8-2.7 .8-1.9 1-1.4 1.4-1.3 2.8-1.4 4.4-1.4 5.2-1.1 6-.9 15-1.4 36-2.5" stroke="#d3262c" stroke-width="1.0"/>
<path d="M267.4 578.8l36-2.5 15-1.4 6-.9 5.2-1.1 4.4-1.4 2.8-1.4 1.4-1.3 1-1.4 .8-1.9 .8-2.7 3-14.9 2.4-15 1.5-6.5 .6-1.8 .8-1.6 1-1.1 1.2-.6 2.8-.7 5.4-.5 68-4.5" stroke="#d3262c" stroke-width="1.0"/>
<path d="M267.4 588.4l73.6-3.7 5.8-.5 1.7-.3 1.2-.5 1.2-.8 1-1.5 .8-2 .6-2.4 1.2-7.4 2.6-22.6 3-21.9 .8-4.1 .8-2.7 .8-1.8 1.2-1.6 1-.9 1.4-.8 3.8-1.6 5-1.3 5.8-.9 6.2-.7 8.2-.6 32.4-1.8" stroke="#7b3596" stroke-width="1.0"/>
<path d="M267.4 588.4l32.4-1.8 8.2-.6 6.2-.7 5.8-.9 5-1.3 3.8-1.6 1.4-.8 1-.9 1.2-1.6 .8-1.8 .8-2.7 .8-4.1 3-21.9 2.6-22.6 1.2-7.4 .6-2.4 .8-2 1-1.5 1.2-.8 1.2-.5 1.7-.3 5.8-.5 73.6-3.7" stroke="#7b3596" stroke-width="1.0"/>
<path d="M267.4 597.2l77.8-3.3 6.1-.5 1.6-.4 1.2-.6 1.2-1.1 1-1.9 .8-2.7 .6-2.9 1.2-9.1 2.8-29.2 2.8-24.8 .8-5.2 .8-3.7 .8-2.4 1.2-2.2 1-1.1 1.2-.9 1.6-.9 2.2-1 5.4-1.7 6.4-1.4 6.6-.9 8-.7 27-1.4" stroke="#4a52ad" stroke-width="1.0"/>
<path d="M267.4 597.2l27-1.4 8-.7 6.6-.9 6.4-1.4 5.4-1.7 2.2-1 1.6-.9 1.2-.9 1-1.1 1.2-2.2 .8-2.4 .8-3.7 .8-5.2 2.8-24.8 2.8-29.2 1.2-9.1 .6-2.9 .8-2.7 1-1.9 1.2-1.1 1.2-.6 1.6-.4 6.1-.5 77.8-3.3" stroke="#4a52ad" stroke-width="1.0"/>
<path d="M267.4 609.3l87.3-.8 4-.2 2.4-.3 1.8-.5 1.2-.6 1.2-1.4 1-2.3 .8-3.2 .8-5.1 1.2-11.8 2.8-37.1 3-34.3 .8-6.7 .8-4.8 .8-3.1 1-2.6 .8-1.3 1-1.2 1.2-1 1.6-1 2-.9 2.2-.9 5-1.2 5.4-.8 6.8-.6 9-.3 14.2-.2" stroke="#1e1e1e" stroke-width="1.0"/>
<path d="M267.4 609.3l14.2-.2 9-.3 6.8-.6 5.4-.8 5-1.2 2.2-.9 2-.9 1.6-1 1.2-1 1-1.2 .8-1.3 1-2.6 .8-3.1 .8-4.8 .8-6.7 3-34.3 2.8-37.1 1.2-11.8 .8-5.1 .8-3.2 1-2.3 1.2-1.4 1.2-.6 1.8-.5 2.4-.3 4-.2 87.3-.8" stroke="#1e1e1e" stroke-width="1.0"/>
</g>
<line x1="267.4" y1="599.85" x2="269.6" y2="599.85" stroke="#9a9a9a" stroke-width="0.8" />
<line x1="267.4" y1="582.3" x2="271.4" y2="582.3" stroke="#9a9a9a" stroke-width="0.8" />
<line x1="267.4" y1="564.75" x2="269.6" y2="564.75" stroke="#9a9a9a" stroke-width="0.8" />
<line x1="267.4" y1="547.2" x2="271.4" y2="547.2" stroke="#9a9a9a" stroke-width="0.8" />
<line x1="267.4" y1="529.65" x2="269.6" y2="529.65" stroke="#9a9a9a" stroke-width="0.8" />
<line x1="267.4" y1="512.1" x2="271.4" y2="512.1" stroke="#9a9a9a" stroke-width="0.8" />
<line x1="267.4" y1="494.55" x2="269.6" y2="494.55" stroke="#9a9a9a" stroke-width="0.8" />
<line x1="267.4" y1="477" x2="271.4" y2="477" stroke="#9a9a9a" stroke-width="0.8" />
<line x1="283.41" y1="616.5" x2="283.41" y2="612.5" stroke="#9a9a9a" stroke-width="0.8" />
<line x1="283.41" y1="467.8" x2="283.41" y2="465.6" stroke="#9a9a9a" stroke-width="0.8" />
<line x1="299.42" y1="616.5" x2="299.42" y2="614.3" stroke="#9a9a9a" stroke-width="0.8" />
<line x1="299.42" y1="467.8" x2="299.42" y2="465.6" stroke="#9a9a9a" stroke-width="0.8" />
<line x1="315.43" y1="616.5" x2="315.43" y2="612.5" stroke="#9a9a9a" stroke-width="0.8" />
<line x1="315.43" y1="467.8" x2="315.43" y2="465.6" stroke="#9a9a9a" stroke-width="0.8" />
<line x1="331.44" y1="616.5" x2="331.44" y2="614.3" stroke="#9a9a9a" stroke-width="0.8" />
<line x1="331.44" y1="467.8" x2="331.44" y2="465.6" stroke="#9a9a9a" stroke-width="0.8" />
<line x1="347.45" y1="616.5" x2="347.45" y2="612.5" stroke="#9a9a9a" stroke-width="0.8" />
<line x1="347.45" y1="467.8" x2="347.45" y2="465.6" stroke="#9a9a9a" stroke-width="0.8" />
<line x1="363.46" y1="616.5" x2="363.46" y2="614.3" stroke="#9a9a9a" stroke-width="0.8" />
<line x1="363.46" y1="467.8" x2="363.46" y2="465.6" stroke="#9a9a9a" stroke-width="0.8" />
<line x1="379.47" y1="616.5" x2="379.47" y2="612.5" stroke="#9a9a9a" stroke-width="0.8" />
<line x1="379.47" y1="467.8" x2="379.47" y2="465.6" stroke="#9a9a9a" stroke-width="0.8" />
<line x1="395.48" y1="616.5" x2="395.48" y2="614.3" stroke="#9a9a9a" stroke-width="0.8" />
<line x1="395.48" y1="467.8" x2="395.48" y2="465.6" stroke="#9a9a9a" stroke-width="0.8" />
<line x1="411.49" y1="616.5" x2="411.49" y2="612.5" stroke="#9a9a9a" stroke-width="0.8" />
<line x1="411.49" y1="467.8" x2="411.49" y2="465.6" stroke="#9a9a9a" stroke-width="0.8" />
<path d="M267.4 467.8 H427.5 V616.5 H267.4 Z" fill="none" stroke="#9a9a9a" stroke-width="1"/>
<text x="263.5" y="620.1" font-size="10" text-anchor="end" fill="#4a4a4a" >−4</text>
<text x="263.5" y="585" font-size="10" text-anchor="end" fill="#4a4a4a" >−2</text>
<text x="263.5" y="549.9" font-size="10" text-anchor="end" fill="#4a4a4a" >0</text>
<text x="263.5" y="514.8" font-size="10" text-anchor="end" fill="#4a4a4a" >2</text>
<text x="263.5" y="479.7" font-size="10" text-anchor="end" fill="#4a4a4a" >4</text>
<text x="280.41" y="626.9" font-size="10" text-anchor="middle" fill="#4a4a4a" >−0.4</text>
<text x="312.43" y="626.9" font-size="10" text-anchor="middle" fill="#4a4a4a" >−0.2</text>
<text x="347.45" y="626.9" font-size="10" text-anchor="middle" fill="#4a4a4a" >0.0</text>
<text x="379.47" y="626.9" font-size="10" text-anchor="middle" fill="#4a4a4a" >0.2</text>
<text x="411.49" y="626.9" font-size="10" text-anchor="middle" fill="#4a4a4a" >0.4</text>
<text x="347.4" y="641.6" font-size="10" text-anchor="middle" fill="#4a4a4a"><tspan font-style="italic">B</tspan> (T)</text>
<text x="243.5" y="543" font-size="10" text-anchor="middle" fill="#4a4a4a" transform="rotate(-90 243.5 543)"><tspan font-style="italic">R</tspan><tspan font-size="6.5" dy="2" font-style="italic">yx</tspan><tspan dy="-2"> (kΩ)</tspan></text>
<text x="335" y="483.4" font-size="10" text-anchor="middle" fill="#4a4a4a"><tspan font-style="italic">T</tspan> = 2 K</text>
<text x="310.7" y="501.9" font-size="10" text-anchor="middle" fill="#4a4a4a" >5</text>
<text x="307.6" y="515.8" font-size="10" text-anchor="middle" fill="#4a4a4a" >10</text>
<text x="306.7" y="529.7" font-size="10" text-anchor="middle" fill="#4a4a4a" >20</text>
<line x1="315.9" y1="498.9" x2="334.38" y2="505.67" stroke="#222" stroke-width="0.8"/>
<path d="M337.2 506.7 L332.79 507.11 L334.57 505.74 L334.1 503.54Z" fill="#222"/>
<line x1="315" y1="511.3" x2="338.04" y2="518.68" stroke="#222" stroke-width="0.8"/>
<path d="M340.9 519.6 L336.51 520.19 L338.23 518.75 L337.67 516.57Z" fill="#222"/>
<line x1="315" y1="525.2" x2="340.8" y2="531.85" stroke="#222" stroke-width="0.8"/>
<path d="M343.7 532.6 L339.35 533.44 L340.99 531.9 L340.3 529.76Z" fill="#222"/>
<text x="382.6" y="559.3" font-size="10" text-anchor="middle" fill="#4a4a4a" >30</text>
<text x="396.5" y="564.3" font-size="10" text-anchor="middle" fill="#4a4a4a" >40</text>
<text x="411.8" y="571.6" font-size="10" text-anchor="middle" fill="#4a4a4a" >50</text>
<text x="420" y="556.9" font-size="10" text-anchor="middle" fill="#4a4a4a" >80</text>
<line x1="385.4" y1="549.3" x2="390.15" y2="530.9" stroke="#222" stroke-width="0.8"/>
<path d="M390.9 528 L391.74 532.35 L390.2 530.71 L388.06 531.4Z" fill="#222"/>
<line x1="397" y1="553.9" x2="398.62" y2="536.49" stroke="#222" stroke-width="0.8"/>
<path d="M398.9 533.5 L400.42 537.66 L398.64 536.29 L396.64 537.31Z" fill="#222"/>
<line x1="411.3" y1="562.6" x2="411.04" y2="541.7" stroke="#222" stroke-width="0.8"/>
<path d="M411 538.7 L412.95 542.68 L411.04 541.5 L409.15 542.72Z" fill="#222"/>
<text x="227" y="476" font-size="11" text-anchor="middle" fill="#111" font-weight="bold" >f</text>
<clipPath id="gclip"><rect x="495.3" y="323.5" width="155.5" height="292.7"/></clipPath>
<g clip-path="url(#gclip)" fill="none">
<line x1="535.8" y1="518.6" x2="650.5" y2="518.6" stroke="#888" stroke-width="0.6" stroke-dasharray="0.9 1.3"/>
<path d="M495.7 453.7l13.6-8.5 5.5-3.7 5.4-4.5 18.5-16.4 3.1-2.4 4.2-2.8 6.3-3.6 2.1-1.1 2.2-.7 2.3-.5 2.2-.2 2.2 0 3 .3 2.9 .8 1.5 .7 1.5 1 2.2 1.9 10.5 10.3 3 3.6 12.4 17.3 3.4 4.5 7.8 9.1 2.6 2.8 2.1 1.8 3.7 2.8 4.8 3.2 4.3 2.5 5 2.6 2.2 .8 2.9 .9 11.4 2.3" stroke="#3e4a9c" stroke-width="1.6" stroke-dasharray="1.6 7.1"/>
<path d="M495.7 472.2l5.8-3 1.8-1.1 1.5-1.2 2-2.1 8.9-10.5 5-5.4 3.7-3.5 4.4-3.3 2.7-1.3 1.2-.2 1.7 0 1.6 .5 1.5 .6 1.2 .9 1.1 1.2 2.8 3.6 2.8 4.8 2.1 4.8 2.1 6.5 3.7 13.9 4 16.5 2.3 10.4 2.5 12.7 1.4 6 4.6 16.9 3.1 9.5 3.5 8.2 2.3 4.7 2.5 4.6 1.6 2.1 1.2 1.2 1.4 1 2.5 1.3 1.7 .6 1.7 .3 2.9 .1 1.3-.3 1.5-.6 4.3-2.1 6.8-4 18.9-11.8 5.3-3.5 11.1-7.9 8.8-5.3" stroke="#c41e28" stroke-width="1.6" stroke-dasharray="1.6 7.1"/>
<path d="M495.3 437.8l12.5-9.7 11-8.8 5.5-4.7 4.5-4.4 5-5.5 6-7.4 8-10.6 11.5-16 3-3.9 3.5-4.1 5.5-5.9 6-5.6 5.5-4.4 2.5-1.6 2-1.1 3-1.3 3-.6 3 0 3 .6 3.5 1.1 3.5 1.4 13.5 6.6 4 1.7 4 1.5 6 1.9 5.5 1.4 5 1 6.5 1" stroke="#3e4a9c" stroke-width="1.9"/>
<path d="M495.3 449.6l11-17.3 19-28.7 5-7.1 4.5-5.5 3-3 2.5-2.1 2.5-1.6 2.5-1.2 2-.5 2.5-.2 2.5 .4 2.5 .9 2 1.1 1.5 1.1 2 1.7 1.5 1.5 1.5 1.8 2 2.8 3.5 5.9 2.5 5 3 6.8 11.5 29 5 11.5 4 8.2 3.5 6.6 3.5 6 4 6.1 5.5 7.8 5 6.5 5 6 5.5 5.9 4.5 4.4 4.5 3.9 3.5 2.7 7 5 4.5 3.6" stroke="#c41e28" stroke-width="1.9"/>
</g>
<line x1="495.3" y1="596.7" x2="498.3" y2="596.7" stroke="#888" stroke-width="0.9" />
<line x1="495.3" y1="577.2" x2="500.5" y2="577.2" stroke="#888" stroke-width="0.9" />
<line x1="495.3" y1="557.7" x2="498.3" y2="557.7" stroke="#888" stroke-width="0.9" />
<line x1="495.3" y1="538.2" x2="500.5" y2="538.2" stroke="#888" stroke-width="0.9" />
<line x1="495.3" y1="518.7" x2="498.3" y2="518.7" stroke="#888" stroke-width="0.9" />
<line x1="495.3" y1="499.2" x2="500.5" y2="499.2" stroke="#888" stroke-width="0.9" />
<line x1="495.3" y1="479.7" x2="498.3" y2="479.7" stroke="#888" stroke-width="0.9" />
<line x1="495.3" y1="460.2" x2="500.5" y2="460.2" stroke="#888" stroke-width="0.9" />
<line x1="495.3" y1="440.7" x2="498.3" y2="440.7" stroke="#888" stroke-width="0.9" />
<line x1="495.3" y1="421.2" x2="500.5" y2="421.2" stroke="#888" stroke-width="0.9" />
<line x1="495.3" y1="401.7" x2="498.3" y2="401.7" stroke="#888" stroke-width="0.9" />
<line x1="495.3" y1="382.2" x2="500.5" y2="382.2" stroke="#888" stroke-width="0.9" />
<line x1="495.3" y1="362.7" x2="498.3" y2="362.7" stroke="#888" stroke-width="0.9" />
<line x1="495.3" y1="343.2" x2="500.5" y2="343.2" stroke="#888" stroke-width="0.9" />
<line x1="650.8" y1="597.1" x2="645.3" y2="597.1" stroke="#888" stroke-width="0.9" />
<line x1="650.8" y1="577.5" x2="647.8" y2="577.5" stroke="#888" stroke-width="0.9" />
<line x1="650.8" y1="557.9" x2="645.3" y2="557.9" stroke="#888" stroke-width="0.9" />
<line x1="650.8" y1="538.3" x2="647.8" y2="538.3" stroke="#888" stroke-width="0.9" />
<line x1="650.8" y1="518.7" x2="645.3" y2="518.7" stroke="#888" stroke-width="0.9" />
<line x1="650.8" y1="499.1" x2="647.8" y2="499.1" stroke="#888" stroke-width="0.9" />
<line x1="650.8" y1="479.5" x2="645.3" y2="479.5" stroke="#888" stroke-width="0.9" />
<line x1="650.8" y1="459.9" x2="647.8" y2="459.9" stroke="#888" stroke-width="0.9" />
<line x1="650.8" y1="440.3" x2="645.3" y2="440.3" stroke="#888" stroke-width="0.9" />
<line x1="650.8" y1="420.7" x2="647.8" y2="420.7" stroke="#888" stroke-width="0.9" />
<line x1="650.8" y1="401.1" x2="645.3" y2="401.1" stroke="#888" stroke-width="0.9" />
<line x1="650.8" y1="381.5" x2="647.8" y2="381.5" stroke="#888" stroke-width="0.9" />
<line x1="650.8" y1="361.9" x2="645.3" y2="361.9" stroke="#888" stroke-width="0.9" />
<line x1="650.8" y1="342.3" x2="647.8" y2="342.3" stroke="#888" stroke-width="0.9" />
<line x1="517.3" y1="616.2" x2="517.3" y2="611.2" stroke="#888" stroke-width="0.9" />
<line x1="539.15" y1="616.2" x2="539.15" y2="613.2" stroke="#888" stroke-width="0.9" />
<line x1="561" y1="616.2" x2="561" y2="611.2" stroke="#888" stroke-width="0.9" />
<line x1="582.85" y1="616.2" x2="582.85" y2="613.2" stroke="#888" stroke-width="0.9" />
<line x1="604.7" y1="616.2" x2="604.7" y2="611.2" stroke="#888" stroke-width="0.9" />
<line x1="626.55" y1="616.2" x2="626.55" y2="613.2" stroke="#888" stroke-width="0.9" />
<line x1="648.4" y1="616.2" x2="648.4" y2="611.2" stroke="#888" stroke-width="0.9" />
<path d="M495.3 323.5 H650.8 V616.2 H495.3 Z" fill="none" stroke="#9a9a9a" stroke-width="1"/>
<text x="491" y="619.7" font-size="10" text-anchor="end" fill="#4a4a4a" >0</text>
<text x="491" y="581.2" font-size="10" text-anchor="end" fill="#4a4a4a" >2</text>
<text x="491" y="541.7" font-size="10" text-anchor="end" fill="#4a4a4a" >4</text>
<text x="491" y="503.9" font-size="10" text-anchor="end" fill="#4a4a4a" >6</text>
<text x="491" y="464.6" font-size="10" text-anchor="end" fill="#4a4a4a" >8</text>
<text x="491" y="425.9" font-size="10" text-anchor="end" fill="#4a4a4a" >10</text>
<text x="491" y="388.1" font-size="10" text-anchor="end" fill="#4a4a4a" >12</text>
<text x="491" y="349" font-size="10" text-anchor="end" fill="#4a4a4a" >14</text>
<text x="650.5" y="600.6" font-size="10" text-anchor="start" fill="#4a4a4a" >−4</text>
<text x="650.5" y="561.4" font-size="10" text-anchor="start" fill="#4a4a4a" >−2</text>
<text x="655.2" y="522.2" font-size="10" text-anchor="start" fill="#4a4a4a" >0</text>
<text x="655.2" y="483" font-size="10" text-anchor="start" fill="#4a4a4a" >2</text>
<text x="655.2" y="443.8" font-size="10" text-anchor="start" fill="#4a4a4a" >4</text>
<text x="655.2" y="404.6" font-size="10" text-anchor="start" fill="#4a4a4a" >6</text>
<text x="655.2" y="365.4" font-size="10" text-anchor="start" fill="#4a4a4a" >8</text>
<text x="655.2" y="326.2" font-size="10" text-anchor="start" fill="#4a4a4a" >10</text>
<text x="514.3" y="627.6" font-size="10" text-anchor="middle" fill="#4a4a4a" >−2</text>
<text x="561" y="627.6" font-size="10" text-anchor="middle" fill="#4a4a4a" >0</text>
<text x="604.7" y="627.6" font-size="10" text-anchor="middle" fill="#4a4a4a" >2</text>
<text x="648.4" y="627.6" font-size="10" text-anchor="middle" fill="#4a4a4a" >4</text>
<text x="572.9" y="642.4" font-size="10" text-anchor="middle" fill="#4a4a4a"><tspan font-style="italic">V</tspan><tspan font-size="6.5" dy="2">T</tspan><tspan dy="-2"> − </tspan><tspan font-style="italic">V</tspan><tspan font-size="6.5" dy="2">0</tspan><tspan dy="-2"> (V)</tspan></text>
<text x="470.2" y="469.6" font-size="10" text-anchor="middle" fill="#4a4a4a" transform="rotate(-90 470.2 469.6)"><tspan font-style="italic">R</tspan><tspan font-size="6.5" dy="2" font-style="italic">xx</tspan><tspan dy="-2"> (kΩ)</tspan></text>
<text x="673.8" y="470" font-size="10" text-anchor="middle" fill="#4a4a4a" transform="rotate(90 673.8 470)"><tspan font-style="italic">R</tspan><tspan font-size="6.5" dy="2" font-style="italic">yx</tspan><tspan dy="-2"> (kΩ)</tspan></text>
<text x="512.2" y="342.0" font-size="10" fill="#4a4a4a"><tspan font-style="italic">T</tspan> = 2 K</text>
<text x="512.2" y="353.1" font-size="10" fill="#4a4a4a"><tspan font-style="italic">B</tspan> = 5 T</text>
<line x1="526.1" y1="390" x2="514.5" y2="390" stroke="#222" stroke-width="1.0"/>
<path d="M510 390 L515.5 387.2 L514.3 390 L515.5 392.8Z" fill="#222"/>
<line x1="615.6" y1="356.3" x2="589.6" y2="356.3" stroke="#222" stroke-width="1.0"/>
<path d="M585.1 356.3 L590.6 353.5 L589.4 356.3 L590.6 359.1Z" fill="#222"/>
<line x1="604.7" y1="437.6" x2="628.4" y2="437.6" stroke="#222" stroke-width="1.0"/>
<path d="M632.9 437.6 L627.4 440.4 L628.6 437.6 L627.4 434.8Z" fill="#222"/>
<line x1="611.7" y1="570.8" x2="634.7" y2="570.8" stroke="#222" stroke-width="1.0"/>
<path d="M639.2 570.8 L633.7 573.6 L634.9 570.8 L633.7 568Z" fill="#222"/>
<line x1="502" y1="584.6" x2="534.3" y2="584.6" stroke="#c41e28" stroke-width="1.7" />
<line x1="502" y1="602" x2="534.3" y2="602" stroke="#3e4a9c" stroke-width="1.7" />
<text x="538" y="588.2" font-size="10" text-anchor="start" fill="#4a4a4a" textLength="32.6" lengthAdjust="spacingAndGlyphs" >Pristine</text>
<text x="538" y="605.6" font-size="10" text-anchor="start" fill="#4a4a4a" textLength="43.9" lengthAdjust="spacingAndGlyphs" >Cr-droped</text>
<text x="452.8" y="329.6" font-size="12.2" text-anchor="middle" fill="#111" font-weight="bold" font-family="Liberation Serif" >g</text>
</svg></body></html>
